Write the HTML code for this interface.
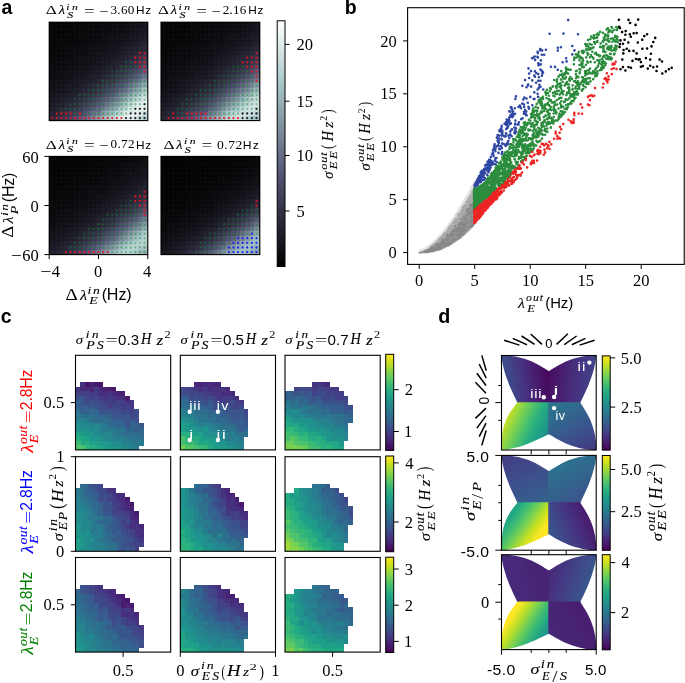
<!DOCTYPE html>
<html><head><meta charset="utf-8"><style>
html,body{margin:0;padding:0;background:#fff;}
svg{display:block;will-change:transform;filter:blur(0.25px);}
</style></head><body>
<svg width="685" height="683" viewBox="0 0 685 683">
<rect width="685" height="683" fill="#fff"/>
<text x="1.50" y="14.20" font-family="Liberation Sans" font-size="19.50" font-weight="bold" fill="#000">a</text>
<text x="344.80" y="14.00" font-family="Liberation Sans" font-size="19.50" font-weight="bold" fill="#000">b</text>
<text x="0.80" y="322.60" font-family="Liberation Sans" font-size="19.50" font-weight="bold" fill="#000">c</text>
<text x="438.30" y="322.80" font-family="Liberation Sans" font-size="19.70" font-weight="bold" fill="#000">d</text>
<path d="M49.2 22.2h5.8v5.8h-5.8zM54.5 22.2h5.1v5.8h-5.1zM59.1 22.2h5.1v5.8h-5.1zM63.7 22.2h5.1v5.8h-5.1zM68.4 22.2h5.1v5.8h-5.1zM49.2 27.5h5.8v5.1h-5.8zM54.5 27.5h5.1v5.1h-5.1zM59.1 27.5h5.1v5.1h-5.1zM63.7 27.5h5.1v5.1h-5.1zM49.2 32.2h5.8v5.1h-5.8zM54.5 32.2h5.1v5.1h-5.1zM59.1 32.2h5.1v5.1h-5.1zM49.2 36.8h5.8v5.1h-5.8z" fill="#050507" shape-rendering="crispEdges"/>
<path d="M73.0 22.2h5.1v5.8h-5.1zM77.6 22.2h5.1v5.8h-5.1zM82.2 22.2h5.1v5.8h-5.1zM86.8 22.2h5.1v5.8h-5.1zM68.4 27.5h5.1v5.1h-5.1zM73.0 27.5h5.1v5.1h-5.1zM77.6 27.5h5.1v5.1h-5.1zM82.2 27.5h5.1v5.1h-5.1zM63.7 32.2h5.1v5.1h-5.1zM68.4 32.2h5.1v5.1h-5.1zM73.0 32.2h5.1v5.1h-5.1zM54.5 36.8h5.1v5.1h-5.1zM59.1 36.8h5.1v5.1h-5.1zM63.7 36.8h5.1v5.1h-5.1zM68.4 36.8h5.1v5.1h-5.1zM49.2 41.5h5.8v5.1h-5.8zM54.5 41.5h5.1v5.1h-5.1zM59.1 41.5h5.1v5.1h-5.1zM63.7 41.5h5.1v5.1h-5.1zM49.2 46.1h5.8v5.1h-5.8zM54.5 46.1h5.1v5.1h-5.1zM49.2 50.7h5.8v5.1h-5.8z" fill="#07070a" shape-rendering="crispEdges"/>
<path d="M91.4 22.2h5.1v5.8h-5.1zM96.0 22.2h5.1v5.8h-5.1zM100.7 22.2h5.1v5.8h-5.1zM86.8 27.5h5.1v5.1h-5.1zM91.4 27.5h5.1v5.1h-5.1zM96.0 27.5h5.1v5.1h-5.1zM77.6 32.2h5.1v5.1h-5.1zM82.2 32.2h5.1v5.1h-5.1zM86.8 32.2h5.1v5.1h-5.1zM73.0 36.8h5.1v5.1h-5.1zM77.6 36.8h5.1v5.1h-5.1zM82.2 36.8h5.1v5.1h-5.1zM68.4 41.5h5.1v5.1h-5.1zM73.0 41.5h5.1v5.1h-5.1zM77.6 41.5h5.1v5.1h-5.1zM59.1 46.1h5.1v5.1h-5.1zM63.7 46.1h5.1v5.1h-5.1zM68.4 46.1h5.1v5.1h-5.1zM54.5 50.7h5.1v5.1h-5.1zM59.1 50.7h5.1v5.1h-5.1zM63.7 50.7h5.1v5.1h-5.1zM49.2 55.4h5.8v5.1h-5.8zM54.5 55.4h5.1v5.1h-5.1zM59.1 55.4h5.1v5.1h-5.1zM49.2 60.0h5.8v5.1h-5.8z" fill="#09090c" shape-rendering="crispEdges"/>
<path d="M105.3 22.2h5.1v5.8h-5.1zM109.9 22.2h5.1v5.8h-5.1zM100.7 27.5h5.1v5.1h-5.1zM105.3 27.5h5.1v5.1h-5.1zM91.4 32.2h5.1v5.1h-5.1zM96.0 32.2h5.1v5.1h-5.1zM86.8 36.8h5.1v5.1h-5.1zM91.4 36.8h5.1v5.1h-5.1zM82.2 41.5h5.1v5.1h-5.1zM86.8 41.5h5.1v5.1h-5.1zM73.0 46.1h5.1v5.1h-5.1zM77.6 46.1h5.1v5.1h-5.1zM68.4 50.7h5.1v5.1h-5.1zM73.0 50.7h5.1v5.1h-5.1zM63.7 55.4h5.1v5.1h-5.1zM68.4 55.4h5.1v5.1h-5.1zM54.5 60.0h5.1v5.1h-5.1zM59.1 60.0h5.1v5.1h-5.1zM49.2 64.7h5.8v5.1h-5.8zM54.5 64.7h5.1v5.1h-5.1zM49.2 69.3h5.8v5.1h-5.8z" fill="#0a0a0f" shape-rendering="crispEdges"/>
<path d="M114.5 22.2h5.1v5.8h-5.1zM119.1 22.2h5.1v5.8h-5.1zM109.9 27.5h5.1v5.1h-5.1zM100.7 32.2h5.1v5.1h-5.1zM105.3 32.2h5.1v5.1h-5.1zM96.0 36.8h5.1v5.1h-5.1zM100.7 36.8h5.1v5.1h-5.1zM91.4 41.5h5.1v5.1h-5.1zM82.2 46.1h5.1v5.1h-5.1zM86.8 46.1h5.1v5.1h-5.1zM77.6 50.7h5.1v5.1h-5.1zM82.2 50.7h5.1v5.1h-5.1zM73.0 55.4h5.1v5.1h-5.1zM63.7 60.0h5.1v5.1h-5.1zM68.4 60.0h5.1v5.1h-5.1zM59.1 64.7h5.1v5.1h-5.1zM63.7 64.7h5.1v5.1h-5.1zM54.5 69.3h5.1v5.1h-5.1zM49.2 74.0h5.8v5.1h-5.8z" fill="#0c0c11" shape-rendering="crispEdges"/>
<path d="M123.7 22.2h5.1v5.8h-5.1zM114.5 27.5h5.1v5.1h-5.1zM119.1 27.5h5.1v5.1h-5.1zM109.9 32.2h5.1v5.1h-5.1zM114.5 32.2h5.1v5.1h-5.1zM105.3 36.8h5.1v5.1h-5.1zM96.0 41.5h5.1v5.1h-5.1zM100.7 41.5h5.1v5.1h-5.1zM91.4 46.1h5.1v5.1h-5.1zM96.0 46.1h5.1v5.1h-5.1zM86.8 50.7h5.1v5.1h-5.1zM77.6 55.4h5.1v5.1h-5.1zM82.2 55.4h5.1v5.1h-5.1zM73.0 60.0h5.1v5.1h-5.1zM77.6 60.0h5.1v5.1h-5.1zM68.4 64.7h5.1v5.1h-5.1zM59.1 69.3h5.1v5.1h-5.1zM63.7 69.3h5.1v5.1h-5.1zM54.5 74.0h5.1v5.1h-5.1zM59.1 74.0h5.1v5.1h-5.1zM49.2 78.6h5.8v5.1h-5.8z" fill="#0e0e13" shape-rendering="crispEdges"/>
<path d="M128.3 22.2h5.1v5.8h-5.1zM123.7 27.5h5.1v5.1h-5.1zM119.1 32.2h5.1v5.1h-5.1zM109.9 36.8h5.1v5.1h-5.1zM105.3 41.5h5.1v5.1h-5.1zM100.7 46.1h5.1v5.1h-5.1zM91.4 50.7h5.1v5.1h-5.1zM86.8 55.4h5.1v5.1h-5.1zM82.2 60.0h5.1v5.1h-5.1zM73.0 64.7h5.1v5.1h-5.1zM68.4 69.3h5.1v5.1h-5.1zM63.7 74.0h5.1v5.1h-5.1zM54.5 78.6h5.1v5.1h-5.1zM49.2 83.3h5.8v5.1h-5.8z" fill="#101016" shape-rendering="crispEdges"/>
<path d="M133.0 22.2h5.1v5.8h-5.1zM137.6 22.2h5.1v5.8h-5.1zM128.3 27.5h5.1v5.1h-5.1zM123.7 32.2h5.1v5.1h-5.1zM114.5 36.8h5.1v5.1h-5.1zM119.1 36.8h5.1v5.1h-5.1zM109.9 41.5h5.1v5.1h-5.1zM105.3 46.1h5.1v5.1h-5.1zM96.0 50.7h5.1v5.1h-5.1zM100.7 50.7h5.1v5.1h-5.1zM91.4 55.4h5.1v5.1h-5.1zM86.8 60.0h5.1v5.1h-5.1zM77.6 64.7h5.1v5.1h-5.1zM82.2 64.7h5.1v5.1h-5.1zM73.0 69.3h5.1v5.1h-5.1zM68.4 74.0h5.1v5.1h-5.1zM59.1 78.6h5.1v5.1h-5.1zM63.7 78.6h5.1v5.1h-5.1zM54.5 83.3h5.1v5.1h-5.1zM49.2 87.9h5.8v5.1h-5.8z" fill="#121118" shape-rendering="crispEdges"/>
<path d="M142.2 22.2h5.6v5.8h-5.6zM137.6 27.5h5.1v5.1h-5.1zM133.0 32.2h5.1v5.1h-5.1zM119.1 41.5h5.1v5.1h-5.1zM114.5 46.1h5.1v5.1h-5.1zM100.7 55.4h5.1v5.1h-5.1zM96.0 60.0h5.1v5.1h-5.1zM82.2 69.3h5.1v5.1h-5.1zM77.6 74.0h5.1v5.1h-5.1zM63.7 83.3h5.1v5.1h-5.1zM59.1 87.9h5.1v5.1h-5.1z" fill="#15151d" shape-rendering="crispEdges"/>
<path d="M133.0 27.5h5.1v5.1h-5.1zM128.3 32.2h5.1v5.1h-5.1zM123.7 36.8h5.1v5.1h-5.1zM114.5 41.5h5.1v5.1h-5.1zM109.9 46.1h5.1v5.1h-5.1zM105.3 50.7h5.1v5.1h-5.1zM96.0 55.4h5.1v5.1h-5.1zM91.4 60.0h5.1v5.1h-5.1zM86.8 64.7h5.1v5.1h-5.1zM77.6 69.3h5.1v5.1h-5.1zM73.0 74.0h5.1v5.1h-5.1zM68.4 78.6h5.1v5.1h-5.1zM59.1 83.3h5.1v5.1h-5.1zM54.5 87.9h5.1v5.1h-5.1zM49.2 92.6h5.8v5.1h-5.8z" fill="#13131b" shape-rendering="crispEdges"/>
<path d="M142.2 27.5h5.6v5.1h-5.6zM128.3 36.8h5.1v5.1h-5.1zM123.7 41.5h5.1v5.1h-5.1zM109.9 50.7h5.1v5.1h-5.1zM105.3 55.4h5.1v5.1h-5.1zM91.4 64.7h5.1v5.1h-5.1zM86.8 69.3h5.1v5.1h-5.1zM73.0 78.6h5.1v5.1h-5.1zM68.4 83.3h5.1v5.1h-5.1zM63.7 87.9h5.1v5.1h-5.1zM54.5 92.6h5.1v5.1h-5.1zM49.2 97.2h5.8v5.1h-5.8z" fill="#171720" shape-rendering="crispEdges"/>
<path d="M137.6 32.2h5.1v5.1h-5.1zM133.0 36.8h5.1v5.1h-5.1zM128.3 41.5h5.1v5.1h-5.1zM119.1 46.1h5.1v5.1h-5.1zM114.5 50.7h5.1v5.1h-5.1zM109.9 55.4h5.1v5.1h-5.1zM100.7 60.0h5.1v5.1h-5.1zM96.0 64.7h5.1v5.1h-5.1zM91.4 69.3h5.1v5.1h-5.1zM82.2 74.0h5.1v5.1h-5.1zM77.6 78.6h5.1v5.1h-5.1zM73.0 83.3h5.1v5.1h-5.1zM59.1 92.6h5.1v5.1h-5.1zM54.5 97.2h5.1v5.1h-5.1z" fill="#181822" shape-rendering="crispEdges"/>
<path d="M142.2 32.2h5.6v5.1h-5.6zM123.7 46.1h5.1v5.1h-5.1zM119.1 50.7h5.1v5.1h-5.1zM105.3 60.0h5.1v5.1h-5.1zM100.7 64.7h5.1v5.1h-5.1zM86.8 74.0h5.1v5.1h-5.1zM82.2 78.6h5.1v5.1h-5.1zM68.4 87.9h5.1v5.1h-5.1zM63.7 92.6h5.1v5.1h-5.1zM49.2 101.8h5.8v5.1h-5.8z" fill="#1a1a25" shape-rendering="crispEdges"/>
<path d="M137.6 36.8h5.1v5.1h-5.1zM133.0 41.5h5.1v5.1h-5.1zM114.5 55.4h5.1v5.1h-5.1zM96.0 69.3h5.1v5.1h-5.1zM77.6 83.3h5.1v5.1h-5.1zM59.1 97.2h5.1v5.1h-5.1z" fill="#1c1c27" shape-rendering="crispEdges"/>
<path d="M142.2 36.8h5.6v5.1h-5.6zM128.3 46.1h5.1v5.1h-5.1zM123.7 50.7h5.1v5.1h-5.1zM109.9 60.0h5.1v5.1h-5.1zM105.3 64.7h5.1v5.1h-5.1zM91.4 74.0h5.1v5.1h-5.1zM86.8 78.6h5.1v5.1h-5.1zM73.0 87.9h5.1v5.1h-5.1zM68.4 92.6h5.1v5.1h-5.1zM54.5 101.8h5.1v5.1h-5.1zM49.2 106.5h5.8v5.1h-5.8z" fill="#1e1e29" shape-rendering="crispEdges"/>
<path d="M137.6 41.5h5.1v5.1h-5.1zM119.1 55.4h5.1v5.1h-5.1zM100.7 69.3h5.1v5.1h-5.1zM96.0 74.0h5.1v5.1h-5.1zM82.2 83.3h5.1v5.1h-5.1zM77.6 87.9h5.1v5.1h-5.1zM63.7 97.2h5.1v5.1h-5.1zM59.1 101.8h5.1v5.1h-5.1z" fill="#201f2c" shape-rendering="crispEdges"/>
<path d="M142.2 41.5h5.6v5.1h-5.6zM123.7 55.4h5.1v5.1h-5.1zM105.3 69.3h5.1v5.1h-5.1zM86.8 83.3h5.1v5.1h-5.1zM68.4 97.2h5.1v5.1h-5.1zM49.2 111.1h5.8v5.1h-5.8z" fill="#232331" shape-rendering="crispEdges"/>
<path d="M133.0 46.1h5.1v5.1h-5.1zM128.3 50.7h5.1v5.1h-5.1zM114.5 60.0h5.1v5.1h-5.1zM109.9 64.7h5.1v5.1h-5.1zM91.4 78.6h5.1v5.1h-5.1zM73.0 92.6h5.1v5.1h-5.1zM54.5 106.5h5.1v5.1h-5.1z" fill="#21212e" shape-rendering="crispEdges"/>
<path d="M137.6 46.1h5.1v5.1h-5.1zM133.0 50.7h5.1v5.1h-5.1zM119.1 60.0h5.1v5.1h-5.1zM114.5 64.7h5.1v5.1h-5.1zM100.7 74.0h5.1v5.1h-5.1zM96.0 78.6h5.1v5.1h-5.1zM82.2 87.9h5.1v5.1h-5.1zM77.6 92.6h5.1v5.1h-5.1zM63.7 101.8h5.1v5.1h-5.1zM59.1 106.5h5.1v5.1h-5.1z" fill="#252533" shape-rendering="crispEdges"/>
<path d="M142.2 46.1h5.6v5.1h-5.6zM123.7 60.0h5.1v5.1h-5.1zM105.3 74.0h5.1v5.1h-5.1zM86.8 87.9h5.1v5.1h-5.1zM68.4 101.8h5.1v5.1h-5.1zM49.2 115.8h5.8v4.8h-5.8z" fill="#282838" shape-rendering="crispEdges"/>
<path d="M137.6 50.7h5.1v5.1h-5.1zM119.1 64.7h5.1v5.1h-5.1zM100.7 78.6h5.1v5.1h-5.1zM82.2 92.6h5.1v5.1h-5.1zM63.7 106.5h5.1v5.1h-5.1z" fill="#2a2a3a" shape-rendering="crispEdges"/>
<path d="M142.2 50.7h5.6v5.1h-5.6zM123.7 64.7h5.1v5.1h-5.1zM105.3 78.6h5.1v5.1h-5.1zM86.8 92.6h5.1v5.1h-5.1zM68.4 106.5h5.1v5.1h-5.1z" fill="#2f2f42" shape-rendering="crispEdges"/>
<path d="M128.3 55.4h5.1v5.1h-5.1zM109.9 69.3h5.1v5.1h-5.1zM91.4 83.3h5.1v5.1h-5.1zM73.0 97.2h5.1v5.1h-5.1zM54.5 111.1h5.1v5.1h-5.1z" fill="#262636" shape-rendering="crispEdges"/>
<path d="M133.0 55.4h5.1v5.1h-5.1zM114.5 69.3h5.1v5.1h-5.1zM96.0 83.3h5.1v5.1h-5.1zM77.6 97.2h5.1v5.1h-5.1zM59.1 111.1h5.1v5.1h-5.1z" fill="#2c2c3d" shape-rendering="crispEdges"/>
<path d="M137.6 55.4h5.1v5.1h-5.1zM119.1 69.3h5.1v5.1h-5.1zM100.7 83.3h5.1v5.1h-5.1zM82.2 97.2h5.1v5.1h-5.1zM63.7 111.1h5.1v5.1h-5.1z" fill="#313144" shape-rendering="crispEdges"/>
<path d="M142.2 55.4h5.6v5.1h-5.6zM123.7 69.3h5.1v5.1h-5.1zM105.3 83.3h5.1v5.1h-5.1zM86.8 97.2h5.1v5.1h-5.1zM68.4 111.1h5.1v5.1h-5.1z" fill="#38384e" shape-rendering="crispEdges"/>
<path d="M128.3 60.0h5.1v5.1h-5.1zM109.9 74.0h5.1v5.1h-5.1zM91.4 87.9h5.1v5.1h-5.1zM73.0 101.8h5.1v5.1h-5.1zM54.5 115.8h5.1v4.8h-5.1z" fill="#2e2d3f" shape-rendering="crispEdges"/>
<path d="M133.0 60.0h5.1v5.1h-5.1zM114.5 74.0h5.1v5.1h-5.1zM96.0 87.9h5.1v5.1h-5.1zM77.6 101.8h5.1v5.1h-5.1zM59.1 115.8h5.1v4.8h-5.1z" fill="#333347" shape-rendering="crispEdges"/>
<path d="M137.6 60.0h5.1v5.1h-5.1zM119.1 74.0h5.1v5.1h-5.1zM100.7 87.9h5.1v5.1h-5.1zM82.2 101.8h5.1v5.1h-5.1zM63.7 115.8h5.1v4.8h-5.1z" fill="#3a3a50" shape-rendering="crispEdges"/>
<path d="M142.2 60.0h5.6v5.1h-5.6zM123.7 74.0h5.1v5.1h-5.1zM105.3 87.9h5.1v5.1h-5.1zM86.8 101.8h5.1v5.1h-5.1zM68.4 115.8h5.1v4.8h-5.1z" fill="#41415a" shape-rendering="crispEdges"/>
<path d="M128.3 64.7h5.1v5.1h-5.1zM109.9 78.6h5.1v5.1h-5.1zM91.4 92.6h5.1v5.1h-5.1zM73.0 106.5h5.1v5.1h-5.1z" fill="#343449" shape-rendering="crispEdges"/>
<path d="M133.0 64.7h5.1v5.1h-5.1zM114.5 78.6h5.1v5.1h-5.1zM96.0 92.6h5.1v5.1h-5.1zM77.6 106.5h5.1v5.1h-5.1z" fill="#3c3b53" shape-rendering="crispEdges"/>
<path d="M137.6 64.7h5.1v5.1h-5.1zM119.1 78.6h5.1v5.1h-5.1zM100.7 92.6h5.1v5.1h-5.1zM82.2 106.5h5.1v5.1h-5.1z" fill="#44445f" shape-rendering="crispEdges"/>
<path d="M142.2 64.7h5.6v5.1h-5.6zM123.7 78.6h5.1v5.1h-5.1zM105.3 92.6h5.1v5.1h-5.1zM86.8 106.5h5.1v5.1h-5.1z" fill="#4d4d6b" shape-rendering="crispEdges"/>
<path d="M128.3 69.3h5.1v5.1h-5.1zM109.9 83.3h5.1v5.1h-5.1zM91.4 97.2h5.1v5.1h-5.1zM73.0 111.1h5.1v5.1h-5.1z" fill="#3f3f58" shape-rendering="crispEdges"/>
<path d="M133.0 69.3h5.1v5.1h-5.1zM114.5 83.3h5.1v5.1h-5.1zM96.0 97.2h5.1v5.1h-5.1z" fill="#484864" shape-rendering="crispEdges"/>
<path d="M137.6 69.3h5.1v5.1h-5.1zM119.1 83.3h5.1v5.1h-5.1zM100.7 97.2h5.1v5.1h-5.1zM82.2 111.1h5.1v5.1h-5.1z" fill="#505070" shape-rendering="crispEdges"/>
<path d="M142.2 69.3h5.6v5.1h-5.6zM123.7 83.3h5.1v5.1h-5.1zM105.3 97.2h5.1v5.1h-5.1zM86.8 111.1h5.1v5.1h-5.1z" fill="#5b5f7b" shape-rendering="crispEdges"/>
<path d="M128.3 74.0h5.1v5.1h-5.1zM109.9 87.9h5.1v5.1h-5.1zM91.4 101.8h5.1v5.1h-5.1zM73.0 115.8h5.1v4.8h-5.1z" fill="#4a4966" shape-rendering="crispEdges"/>
<path d="M133.0 74.0h5.1v5.1h-5.1zM114.5 87.9h5.1v5.1h-5.1zM96.0 101.8h5.1v5.1h-5.1zM77.6 115.8h5.1v4.8h-5.1z" fill="#545574" shape-rendering="crispEdges"/>
<path d="M137.6 74.0h5.1v5.1h-5.1zM119.1 87.9h5.1v5.1h-5.1zM100.7 101.8h5.1v5.1h-5.1zM82.2 115.8h5.1v4.8h-5.1z" fill="#5e637e" shape-rendering="crispEdges"/>
<path d="M142.2 74.0h5.6v5.1h-5.6zM123.7 87.9h5.1v5.1h-5.1zM105.3 101.8h5.1v5.1h-5.1zM86.8 115.8h5.1v4.8h-5.1z" fill="#6b748b" shape-rendering="crispEdges"/>
<path d="M128.3 78.6h5.1v5.1h-5.1zM109.9 92.6h5.1v5.1h-5.1zM91.4 106.5h5.1v5.1h-5.1z" fill="#575a77" shape-rendering="crispEdges"/>
<path d="M133.0 78.6h5.1v5.1h-5.1zM114.5 92.6h5.1v5.1h-5.1z" fill="#646b84" shape-rendering="crispEdges"/>
<path d="M137.6 78.6h5.1v5.1h-5.1zM119.1 92.6h5.1v5.1h-5.1zM100.7 106.5h5.1v5.1h-5.1z" fill="#707b90" shape-rendering="crispEdges"/>
<path d="M142.2 78.6h5.6v5.1h-5.6zM123.7 92.6h5.1v5.1h-5.1zM105.3 106.5h5.1v5.1h-5.1z" fill="#7e8f9e" shape-rendering="crispEdges"/>
<path d="M128.3 83.3h5.1v5.1h-5.1zM109.9 97.2h5.1v5.1h-5.1zM91.4 111.1h5.1v5.1h-5.1z" fill="#676f87" shape-rendering="crispEdges"/>
<path d="M133.0 83.3h5.1v5.1h-5.1z" fill="#758395" shape-rendering="crispEdges"/>
<path d="M137.6 83.3h5.1v5.1h-5.1zM119.1 97.2h5.1v5.1h-5.1zM100.7 111.1h5.1v5.1h-5.1z" fill="#8396a3" shape-rendering="crispEdges"/>
<path d="M142.2 83.3h5.6v5.1h-5.6zM123.7 97.2h5.1v5.1h-5.1zM105.3 111.1h5.1v5.1h-5.1z" fill="#91a9b1" shape-rendering="crispEdges"/>
<path d="M128.3 87.9h5.1v5.1h-5.1zM109.9 101.8h5.1v5.1h-5.1zM91.4 115.8h5.1v4.8h-5.1z" fill="#798799" shape-rendering="crispEdges"/>
<path d="M133.0 87.9h5.1v5.1h-5.1z" fill="#889da8" shape-rendering="crispEdges"/>
<path d="M137.6 87.9h5.1v5.1h-5.1zM119.1 101.8h5.1v5.1h-5.1zM100.7 115.8h5.1v4.8h-5.1z" fill="#96b0b6" shape-rendering="crispEdges"/>
<path d="M142.2 87.9h5.6v5.1h-5.6zM123.7 101.8h5.1v5.1h-5.1zM105.3 115.8h5.1v4.8h-5.1z" fill="#a6c6c6" shape-rendering="crispEdges"/>
<path d="M128.3 92.6h5.1v5.1h-5.1zM109.9 106.5h5.1v5.1h-5.1z" fill="#8ca2ac" shape-rendering="crispEdges"/>
<path d="M133.0 92.6h5.1v5.1h-5.1zM114.5 106.5h5.1v5.1h-5.1z" fill="#9cb8bc" shape-rendering="crispEdges"/>
<path d="M137.6 92.6h5.1v5.1h-5.1zM119.1 106.5h5.1v5.1h-5.1z" fill="#aecbcb" shape-rendering="crispEdges"/>
<path d="M142.2 92.6h5.6v5.1h-5.6zM123.7 106.5h5.1v5.1h-5.1zM142.2 111.1h5.6v5.1h-5.6z" fill="#c4d9d9" shape-rendering="crispEdges"/>
<path d="M114.5 97.2h5.1v5.1h-5.1zM96.0 111.1h5.1v5.1h-5.1z" fill="#738093" shape-rendering="crispEdges"/>
<path d="M128.3 97.2h5.1v5.1h-5.1zM109.9 111.1h5.1v5.1h-5.1z" fill="#a1bfc1" shape-rendering="crispEdges"/>
<path d="M133.0 97.2h5.1v5.1h-5.1z" fill="#b7d1d1" shape-rendering="crispEdges"/>
<path d="M137.6 97.2h5.1v5.1h-5.1zM119.1 111.1h5.1v5.1h-5.1z" fill="#cadddd" shape-rendering="crispEdges"/>
<path d="M142.2 97.2h5.6v5.1h-5.6zM123.7 111.1h5.1v5.1h-5.1z" fill="#dde9e9" shape-rendering="crispEdges"/>
<path d="M114.5 101.8h5.1v5.1h-5.1zM96.0 115.8h5.1v4.8h-5.1z" fill="#879ba7" shape-rendering="crispEdges"/>
<path d="M128.3 101.8h5.1v5.1h-5.1zM109.9 115.8h5.1v4.8h-5.1z" fill="#bcd4d4" shape-rendering="crispEdges"/>
<path d="M133.0 101.8h5.1v5.1h-5.1zM114.5 115.8h5.1v4.8h-5.1z" fill="#d2e2e2" shape-rendering="crispEdges"/>
<path d="M137.6 101.8h5.1v5.1h-5.1zM142.2 106.5h5.6v5.1h-5.6zM119.1 115.8h5.1v4.8h-5.1z" fill="#e0ebeb" shape-rendering="crispEdges"/>
<path d="M142.2 101.8h5.6v5.1h-5.6zM137.6 106.5h5.1v5.1h-5.1zM128.3 111.1h5.1v5.1h-5.1zM133.0 111.1h5.1v5.1h-5.1zM123.7 115.8h5.1v4.8h-5.1z" fill="#e8f0f0" shape-rendering="crispEdges"/>
<path d="M96.0 106.5h5.1v5.1h-5.1z" fill="#626882" shape-rendering="crispEdges"/>
<path d="M128.3 106.5h5.1v5.1h-5.1z" fill="#d7e6e6" shape-rendering="crispEdges"/>
<path d="M133.0 106.5h5.1v5.1h-5.1zM128.3 115.8h5.1v4.8h-5.1z" fill="#e5eeee" shape-rendering="crispEdges"/>
<path d="M77.6 111.1h5.1v5.1h-5.1z" fill="#464661" shape-rendering="crispEdges"/>
<path d="M114.5 111.1h5.1v5.1h-5.1zM142.2 115.8h5.6v4.8h-5.6z" fill="#b4cfcf" shape-rendering="crispEdges"/>
<path d="M137.6 111.1h5.1v5.1h-5.1z" fill="#dae7e7" shape-rendering="crispEdges"/>
<path d="M133.0 115.8h5.1v4.8h-5.1z" fill="#d5e4e4" shape-rendering="crispEdges"/>
<path d="M137.6 115.8h5.1v4.8h-5.1z" fill="#bfd6d6" shape-rendering="crispEdges"/>
<path d="M161.0 22.2h5.8v5.8h-5.8z" fill="#040305" shape-rendering="crispEdges"/>
<path d="M166.3 22.2h5.1v5.8h-5.1zM170.9 22.2h5.1v5.8h-5.1zM175.6 22.2h5.1v5.8h-5.1zM180.2 22.2h5.1v5.8h-5.1zM184.8 22.2h5.1v5.8h-5.1zM161.0 27.5h5.8v5.1h-5.8zM166.3 27.5h5.1v5.1h-5.1zM170.9 27.5h5.1v5.1h-5.1zM175.6 27.5h5.1v5.1h-5.1zM180.2 27.5h5.1v5.1h-5.1zM161.0 32.2h5.8v5.1h-5.8zM166.3 32.2h5.1v5.1h-5.1zM170.9 32.2h5.1v5.1h-5.1zM175.6 32.2h5.1v5.1h-5.1zM161.0 36.8h5.8v5.1h-5.8zM166.3 36.8h5.1v5.1h-5.1zM161.0 41.5h5.8v5.1h-5.8z" fill="#050507" shape-rendering="crispEdges"/>
<path d="M189.4 22.2h5.1v5.8h-5.1zM194.1 22.2h5.1v5.8h-5.1zM198.7 22.2h5.1v5.8h-5.1zM203.3 22.2h5.1v5.8h-5.1zM184.8 27.5h5.1v5.1h-5.1zM189.4 27.5h5.1v5.1h-5.1zM194.1 27.5h5.1v5.1h-5.1zM198.7 27.5h5.1v5.1h-5.1zM180.2 32.2h5.1v5.1h-5.1zM184.8 32.2h5.1v5.1h-5.1zM189.4 32.2h5.1v5.1h-5.1zM170.9 36.8h5.1v5.1h-5.1zM175.6 36.8h5.1v5.1h-5.1zM180.2 36.8h5.1v5.1h-5.1zM184.8 36.8h5.1v5.1h-5.1zM166.3 41.5h5.1v5.1h-5.1zM170.9 41.5h5.1v5.1h-5.1zM175.6 41.5h5.1v5.1h-5.1zM180.2 41.5h5.1v5.1h-5.1zM161.0 46.1h5.8v5.1h-5.8zM166.3 46.1h5.1v5.1h-5.1zM170.9 46.1h5.1v5.1h-5.1zM161.0 50.7h5.8v5.1h-5.8zM166.3 50.7h5.1v5.1h-5.1zM161.0 55.4h5.8v5.1h-5.8z" fill="#07070a" shape-rendering="crispEdges"/>
<path d="M207.9 22.2h5.1v5.8h-5.1zM212.6 22.2h5.1v5.8h-5.1zM217.2 22.2h5.1v5.8h-5.1zM203.3 27.5h5.1v5.1h-5.1zM207.9 27.5h5.1v5.1h-5.1zM194.1 32.2h5.1v5.1h-5.1zM198.7 32.2h5.1v5.1h-5.1zM203.3 32.2h5.1v5.1h-5.1zM189.4 36.8h5.1v5.1h-5.1zM194.1 36.8h5.1v5.1h-5.1zM198.7 36.8h5.1v5.1h-5.1zM184.8 41.5h5.1v5.1h-5.1zM189.4 41.5h5.1v5.1h-5.1zM175.6 46.1h5.1v5.1h-5.1zM180.2 46.1h5.1v5.1h-5.1zM184.8 46.1h5.1v5.1h-5.1zM170.9 50.7h5.1v5.1h-5.1zM175.6 50.7h5.1v5.1h-5.1zM180.2 50.7h5.1v5.1h-5.1zM166.3 55.4h5.1v5.1h-5.1zM170.9 55.4h5.1v5.1h-5.1zM161.0 60.0h5.8v5.1h-5.8zM166.3 60.0h5.1v5.1h-5.1zM161.0 64.7h5.8v5.1h-5.8z" fill="#09090c" shape-rendering="crispEdges"/>
<path d="M221.8 22.2h5.1v5.8h-5.1zM226.4 22.2h5.1v5.8h-5.1zM212.6 27.5h5.1v5.1h-5.1zM217.2 27.5h5.1v5.1h-5.1zM221.8 27.5h5.1v5.1h-5.1zM207.9 32.2h5.1v5.1h-5.1zM212.6 32.2h5.1v5.1h-5.1zM203.3 36.8h5.1v5.1h-5.1zM207.9 36.8h5.1v5.1h-5.1zM194.1 41.5h5.1v5.1h-5.1zM198.7 41.5h5.1v5.1h-5.1zM203.3 41.5h5.1v5.1h-5.1zM189.4 46.1h5.1v5.1h-5.1zM194.1 46.1h5.1v5.1h-5.1zM184.8 50.7h5.1v5.1h-5.1zM189.4 50.7h5.1v5.1h-5.1zM175.6 55.4h5.1v5.1h-5.1zM180.2 55.4h5.1v5.1h-5.1zM184.8 55.4h5.1v5.1h-5.1zM170.9 60.0h5.1v5.1h-5.1zM175.6 60.0h5.1v5.1h-5.1zM166.3 64.7h5.1v5.1h-5.1zM170.9 64.7h5.1v5.1h-5.1zM161.0 69.3h5.8v5.1h-5.8zM166.3 69.3h5.1v5.1h-5.1z" fill="#0a0a0f" shape-rendering="crispEdges"/>
<path d="M231.1 22.2h5.1v5.8h-5.1zM235.7 22.2h5.1v5.8h-5.1zM226.4 27.5h5.1v5.1h-5.1zM217.2 32.2h5.1v5.1h-5.1zM221.8 32.2h5.1v5.1h-5.1zM212.6 36.8h5.1v5.1h-5.1zM217.2 36.8h5.1v5.1h-5.1zM207.9 41.5h5.1v5.1h-5.1zM198.7 46.1h5.1v5.1h-5.1zM203.3 46.1h5.1v5.1h-5.1zM194.1 50.7h5.1v5.1h-5.1zM198.7 50.7h5.1v5.1h-5.1zM189.4 55.4h5.1v5.1h-5.1zM180.2 60.0h5.1v5.1h-5.1zM184.8 60.0h5.1v5.1h-5.1zM175.6 64.7h5.1v5.1h-5.1zM180.2 64.7h5.1v5.1h-5.1zM170.9 69.3h5.1v5.1h-5.1zM161.0 74.0h5.8v5.1h-5.8zM166.3 74.0h5.1v5.1h-5.1zM161.0 78.6h5.8v5.1h-5.8z" fill="#0c0c11" shape-rendering="crispEdges"/>
<path d="M240.3 22.2h5.1v5.8h-5.1zM231.1 27.5h5.1v5.1h-5.1zM235.7 27.5h5.1v5.1h-5.1zM226.4 32.2h5.1v5.1h-5.1zM221.8 36.8h5.1v5.1h-5.1zM212.6 41.5h5.1v5.1h-5.1zM217.2 41.5h5.1v5.1h-5.1zM207.9 46.1h5.1v5.1h-5.1zM203.3 50.7h5.1v5.1h-5.1zM194.1 55.4h5.1v5.1h-5.1zM198.7 55.4h5.1v5.1h-5.1zM189.4 60.0h5.1v5.1h-5.1zM184.8 64.7h5.1v5.1h-5.1zM175.6 69.3h5.1v5.1h-5.1zM180.2 69.3h5.1v5.1h-5.1zM170.9 74.0h5.1v5.1h-5.1zM166.3 78.6h5.1v5.1h-5.1zM161.0 83.3h5.8v5.1h-5.8z" fill="#0e0e13" shape-rendering="crispEdges"/>
<path d="M244.9 22.2h5.1v5.8h-5.1zM240.3 27.5h5.1v5.1h-5.1zM231.1 32.2h5.1v5.1h-5.1zM235.7 32.2h5.1v5.1h-5.1zM226.4 36.8h5.1v5.1h-5.1zM221.8 41.5h5.1v5.1h-5.1zM212.6 46.1h5.1v5.1h-5.1zM217.2 46.1h5.1v5.1h-5.1zM207.9 50.7h5.1v5.1h-5.1zM203.3 55.4h5.1v5.1h-5.1zM194.1 60.0h5.1v5.1h-5.1zM198.7 60.0h5.1v5.1h-5.1zM189.4 64.7h5.1v5.1h-5.1zM184.8 69.3h5.1v5.1h-5.1zM175.6 74.0h5.1v5.1h-5.1zM180.2 74.0h5.1v5.1h-5.1zM170.9 78.6h5.1v5.1h-5.1zM166.3 83.3h5.1v5.1h-5.1zM161.0 87.9h5.8v5.1h-5.8z" fill="#101016" shape-rendering="crispEdges"/>
<path d="M249.6 22.2h5.1v5.8h-5.1zM244.9 27.5h5.1v5.1h-5.1zM240.3 32.2h5.1v5.1h-5.1zM231.1 36.8h5.1v5.1h-5.1zM226.4 41.5h5.1v5.1h-5.1zM221.8 46.1h5.1v5.1h-5.1zM212.6 50.7h5.1v5.1h-5.1zM207.9 55.4h5.1v5.1h-5.1zM203.3 60.0h5.1v5.1h-5.1zM194.1 64.7h5.1v5.1h-5.1zM189.4 69.3h5.1v5.1h-5.1zM184.8 74.0h5.1v5.1h-5.1zM175.6 78.6h5.1v5.1h-5.1zM170.9 83.3h5.1v5.1h-5.1zM166.3 87.9h5.1v5.1h-5.1z" fill="#121118" shape-rendering="crispEdges"/>
<path d="M254.2 22.2h5.6v5.8h-5.6zM249.6 27.5h5.1v5.1h-5.1zM244.9 32.2h5.1v5.1h-5.1zM235.7 36.8h5.1v5.1h-5.1zM231.1 41.5h5.1v5.1h-5.1zM226.4 46.1h5.1v5.1h-5.1zM217.2 50.7h5.1v5.1h-5.1zM212.6 55.4h5.1v5.1h-5.1zM207.9 60.0h5.1v5.1h-5.1zM198.7 64.7h5.1v5.1h-5.1zM194.1 69.3h5.1v5.1h-5.1zM189.4 74.0h5.1v5.1h-5.1zM180.2 78.6h5.1v5.1h-5.1zM175.6 83.3h5.1v5.1h-5.1zM170.9 87.9h5.1v5.1h-5.1zM161.0 92.6h5.8v5.1h-5.8z" fill="#13131b" shape-rendering="crispEdges"/>
<path d="M254.2 27.5h5.6v5.1h-5.6zM240.3 36.8h5.1v5.1h-5.1zM235.7 41.5h5.1v5.1h-5.1zM221.8 50.7h5.1v5.1h-5.1zM217.2 55.4h5.1v5.1h-5.1zM203.3 64.7h5.1v5.1h-5.1zM198.7 69.3h5.1v5.1h-5.1zM184.8 78.6h5.1v5.1h-5.1zM180.2 83.3h5.1v5.1h-5.1zM166.3 92.6h5.1v5.1h-5.1zM161.0 97.2h5.8v5.1h-5.8z" fill="#15151d" shape-rendering="crispEdges"/>
<path d="M249.6 32.2h5.1v5.1h-5.1zM244.9 36.8h5.1v5.1h-5.1zM231.1 46.1h5.1v5.1h-5.1zM226.4 50.7h5.1v5.1h-5.1zM221.8 55.4h5.1v5.1h-5.1zM212.6 60.0h5.1v5.1h-5.1zM207.9 64.7h5.1v5.1h-5.1zM203.3 69.3h5.1v5.1h-5.1zM194.1 74.0h5.1v5.1h-5.1zM189.4 78.6h5.1v5.1h-5.1zM184.8 83.3h5.1v5.1h-5.1zM175.6 87.9h5.1v5.1h-5.1zM170.9 92.6h5.1v5.1h-5.1zM166.3 97.2h5.1v5.1h-5.1z" fill="#171720" shape-rendering="crispEdges"/>
<path d="M254.2 32.2h5.6v5.1h-5.6zM249.6 36.8h5.1v5.1h-5.1zM240.3 41.5h5.1v5.1h-5.1zM235.7 46.1h5.1v5.1h-5.1zM231.1 50.7h5.1v5.1h-5.1zM217.2 60.0h5.1v5.1h-5.1zM212.6 64.7h5.1v5.1h-5.1zM198.7 74.0h5.1v5.1h-5.1zM194.1 78.6h5.1v5.1h-5.1zM180.2 87.9h5.1v5.1h-5.1zM175.6 92.6h5.1v5.1h-5.1zM161.0 101.8h5.8v5.1h-5.8z" fill="#181822" shape-rendering="crispEdges"/>
<path d="M254.2 36.8h5.6v5.1h-5.6zM240.3 46.1h5.1v5.1h-5.1zM235.7 50.7h5.1v5.1h-5.1zM221.8 60.0h5.1v5.1h-5.1zM217.2 64.7h5.1v5.1h-5.1zM198.7 78.6h5.1v5.1h-5.1zM180.2 92.6h5.1v5.1h-5.1zM161.0 106.5h5.8v5.1h-5.8z" fill="#1c1c27" shape-rendering="crispEdges"/>
<path d="M244.9 41.5h5.1v5.1h-5.1zM226.4 55.4h5.1v5.1h-5.1zM207.9 69.3h5.1v5.1h-5.1zM203.3 74.0h5.1v5.1h-5.1zM189.4 83.3h5.1v5.1h-5.1zM184.8 87.9h5.1v5.1h-5.1zM170.9 97.2h5.1v5.1h-5.1zM166.3 101.8h5.1v5.1h-5.1z" fill="#1a1a25" shape-rendering="crispEdges"/>
<path d="M249.6 41.5h5.1v5.1h-5.1zM244.9 46.1h5.1v5.1h-5.1zM231.1 55.4h5.1v5.1h-5.1zM226.4 60.0h5.1v5.1h-5.1zM212.6 69.3h5.1v5.1h-5.1zM207.9 74.0h5.1v5.1h-5.1zM194.1 83.3h5.1v5.1h-5.1zM189.4 87.9h5.1v5.1h-5.1zM175.6 97.2h5.1v5.1h-5.1zM170.9 101.8h5.1v5.1h-5.1z" fill="#1e1e29" shape-rendering="crispEdges"/>
<path d="M254.2 41.5h5.6v5.1h-5.6zM249.6 46.1h5.1v5.1h-5.1zM235.7 55.4h5.1v5.1h-5.1zM231.1 60.0h5.1v5.1h-5.1zM217.2 69.3h5.1v5.1h-5.1zM212.6 74.0h5.1v5.1h-5.1zM198.7 83.3h5.1v5.1h-5.1zM194.1 87.9h5.1v5.1h-5.1zM180.2 97.2h5.1v5.1h-5.1zM175.6 101.8h5.1v5.1h-5.1zM161.0 111.1h5.8v5.1h-5.8z" fill="#21212e" shape-rendering="crispEdges"/>
<path d="M254.2 46.1h5.6v5.1h-5.6zM249.6 50.7h5.1v5.1h-5.1zM235.7 60.0h5.1v5.1h-5.1zM231.1 64.7h5.1v5.1h-5.1zM217.2 74.0h5.1v5.1h-5.1zM212.6 78.6h5.1v5.1h-5.1zM198.7 87.9h5.1v5.1h-5.1zM194.1 92.6h5.1v5.1h-5.1zM180.2 101.8h5.1v5.1h-5.1zM175.6 106.5h5.1v5.1h-5.1z" fill="#262636" shape-rendering="crispEdges"/>
<path d="M240.3 50.7h5.1v5.1h-5.1zM221.8 64.7h5.1v5.1h-5.1zM203.3 78.6h5.1v5.1h-5.1zM184.8 92.6h5.1v5.1h-5.1zM166.3 106.5h5.1v5.1h-5.1z" fill="#201f2c" shape-rendering="crispEdges"/>
<path d="M244.9 50.7h5.1v5.1h-5.1zM226.4 64.7h5.1v5.1h-5.1zM207.9 78.6h5.1v5.1h-5.1zM189.4 92.6h5.1v5.1h-5.1zM170.9 106.5h5.1v5.1h-5.1z" fill="#232331" shape-rendering="crispEdges"/>
<path d="M254.2 50.7h5.6v5.1h-5.6zM235.7 64.7h5.1v5.1h-5.1zM217.2 78.6h5.1v5.1h-5.1zM198.7 92.6h5.1v5.1h-5.1zM180.2 106.5h5.1v5.1h-5.1z" fill="#2c2c3d" shape-rendering="crispEdges"/>
<path d="M240.3 55.4h5.1v5.1h-5.1zM221.8 69.3h5.1v5.1h-5.1zM203.3 83.3h5.1v5.1h-5.1zM184.8 97.2h5.1v5.1h-5.1zM166.3 111.1h5.1v5.1h-5.1zM161.0 115.8h5.8v4.8h-5.8z" fill="#252533" shape-rendering="crispEdges"/>
<path d="M244.9 55.4h5.1v5.1h-5.1zM226.4 69.3h5.1v5.1h-5.1zM207.9 83.3h5.1v5.1h-5.1zM189.4 97.2h5.1v5.1h-5.1zM170.9 111.1h5.1v5.1h-5.1z" fill="#282838" shape-rendering="crispEdges"/>
<path d="M249.6 55.4h5.1v5.1h-5.1zM231.1 69.3h5.1v5.1h-5.1zM212.6 83.3h5.1v5.1h-5.1zM194.1 97.2h5.1v5.1h-5.1zM175.6 111.1h5.1v5.1h-5.1z" fill="#2e2d3f" shape-rendering="crispEdges"/>
<path d="M254.2 55.4h5.6v5.1h-5.6zM235.7 69.3h5.1v5.1h-5.1zM217.2 83.3h5.1v5.1h-5.1zM198.7 97.2h5.1v5.1h-5.1z" fill="#343449" shape-rendering="crispEdges"/>
<path d="M240.3 60.0h5.1v5.1h-5.1zM221.8 74.0h5.1v5.1h-5.1zM203.3 87.9h5.1v5.1h-5.1zM184.8 101.8h5.1v5.1h-5.1zM166.3 115.8h5.1v4.8h-5.1z" fill="#2a2a3a" shape-rendering="crispEdges"/>
<path d="M244.9 60.0h5.1v5.1h-5.1zM226.4 74.0h5.1v5.1h-5.1zM207.9 87.9h5.1v5.1h-5.1zM189.4 101.8h5.1v5.1h-5.1zM170.9 115.8h5.1v4.8h-5.1z" fill="#2f2f42" shape-rendering="crispEdges"/>
<path d="M249.6 60.0h5.1v5.1h-5.1zM231.1 74.0h5.1v5.1h-5.1zM212.6 87.9h5.1v5.1h-5.1zM194.1 101.8h5.1v5.1h-5.1zM175.6 115.8h5.1v4.8h-5.1z" fill="#36364b" shape-rendering="crispEdges"/>
<path d="M254.2 60.0h5.6v5.1h-5.6zM235.7 74.0h5.1v5.1h-5.1zM217.2 87.9h5.1v5.1h-5.1zM198.7 101.8h5.1v5.1h-5.1zM180.2 115.8h5.1v4.8h-5.1z" fill="#3d3d55" shape-rendering="crispEdges"/>
<path d="M240.3 64.7h5.1v5.1h-5.1zM221.8 78.6h5.1v5.1h-5.1zM203.3 92.6h5.1v5.1h-5.1zM184.8 106.5h5.1v5.1h-5.1z" fill="#313144" shape-rendering="crispEdges"/>
<path d="M244.9 64.7h5.1v5.1h-5.1zM226.4 78.6h5.1v5.1h-5.1zM207.9 92.6h5.1v5.1h-5.1zM189.4 106.5h5.1v5.1h-5.1z" fill="#38384e" shape-rendering="crispEdges"/>
<path d="M249.6 64.7h5.1v5.1h-5.1zM231.1 78.6h5.1v5.1h-5.1zM212.6 92.6h5.1v5.1h-5.1zM194.1 106.5h5.1v5.1h-5.1z" fill="#3f3f58" shape-rendering="crispEdges"/>
<path d="M254.2 64.7h5.6v5.1h-5.6zM235.7 78.6h5.1v5.1h-5.1zM217.2 92.6h5.1v5.1h-5.1zM198.7 106.5h5.1v5.1h-5.1z" fill="#484864" shape-rendering="crispEdges"/>
<path d="M240.3 69.3h5.1v5.1h-5.1zM221.8 83.3h5.1v5.1h-5.1zM203.3 97.2h5.1v5.1h-5.1zM184.8 111.1h5.1v5.1h-5.1z" fill="#3a3a50" shape-rendering="crispEdges"/>
<path d="M244.9 69.3h5.1v5.1h-5.1zM226.4 83.3h5.1v5.1h-5.1zM207.9 97.2h5.1v5.1h-5.1zM189.4 111.1h5.1v5.1h-5.1z" fill="#42425d" shape-rendering="crispEdges"/>
<path d="M249.6 69.3h5.1v5.1h-5.1zM231.1 83.3h5.1v5.1h-5.1zM212.6 97.2h5.1v5.1h-5.1zM194.1 111.1h5.1v5.1h-5.1z" fill="#4b4b69" shape-rendering="crispEdges"/>
<path d="M254.2 69.3h5.6v5.1h-5.6zM235.7 83.3h5.1v5.1h-5.1zM217.2 97.2h5.1v5.1h-5.1z" fill="#565776" shape-rendering="crispEdges"/>
<path d="M240.3 74.0h5.1v5.1h-5.1zM221.8 87.9h5.1v5.1h-5.1zM203.3 101.8h5.1v5.1h-5.1zM184.8 115.8h5.1v4.8h-5.1z" fill="#44445f" shape-rendering="crispEdges"/>
<path d="M244.9 74.0h5.1v5.1h-5.1zM226.4 87.9h5.1v5.1h-5.1zM207.9 101.8h5.1v5.1h-5.1zM189.4 115.8h5.1v4.8h-5.1z" fill="#4f4f6e" shape-rendering="crispEdges"/>
<path d="M249.6 74.0h5.1v5.1h-5.1zM231.1 87.9h5.1v5.1h-5.1zM212.6 101.8h5.1v5.1h-5.1z" fill="#595c79" shape-rendering="crispEdges"/>
<path d="M254.2 74.0h5.6v5.1h-5.6zM235.7 87.9h5.1v5.1h-5.1zM217.2 101.8h5.1v5.1h-5.1zM198.7 115.8h5.1v4.8h-5.1z" fill="#646b84" shape-rendering="crispEdges"/>
<path d="M240.3 78.6h5.1v5.1h-5.1zM221.8 92.6h5.1v5.1h-5.1z" fill="#525372" shape-rendering="crispEdges"/>
<path d="M244.9 78.6h5.1v5.1h-5.1zM226.4 92.6h5.1v5.1h-5.1zM207.9 106.5h5.1v5.1h-5.1z" fill="#5d617d" shape-rendering="crispEdges"/>
<path d="M249.6 78.6h5.1v5.1h-5.1zM231.1 92.6h5.1v5.1h-5.1z" fill="#697289" shape-rendering="crispEdges"/>
<path d="M254.2 78.6h5.6v5.1h-5.6zM235.7 92.6h5.1v5.1h-5.1zM217.2 106.5h5.1v5.1h-5.1z" fill="#758395" shape-rendering="crispEdges"/>
<path d="M240.3 83.3h5.1v5.1h-5.1zM221.8 97.2h5.1v5.1h-5.1zM203.3 111.1h5.1v5.1h-5.1z" fill="#606680" shape-rendering="crispEdges"/>
<path d="M244.9 83.3h5.1v5.1h-5.1zM226.4 97.2h5.1v5.1h-5.1zM207.9 111.1h5.1v5.1h-5.1z" fill="#6c778c" shape-rendering="crispEdges"/>
<path d="M249.6 83.3h5.1v5.1h-5.1zM231.1 97.2h5.1v5.1h-5.1z" fill="#7a8a9a" shape-rendering="crispEdges"/>
<path d="M254.2 83.3h5.6v5.1h-5.6zM235.7 97.2h5.1v5.1h-5.1z" fill="#889da8" shape-rendering="crispEdges"/>
<path d="M240.3 87.9h5.1v5.1h-5.1zM221.8 101.8h5.1v5.1h-5.1zM203.3 115.8h5.1v4.8h-5.1z" fill="#707b90" shape-rendering="crispEdges"/>
<path d="M244.9 87.9h5.1v5.1h-5.1zM226.4 101.8h5.1v5.1h-5.1zM207.9 115.8h5.1v4.8h-5.1z" fill="#7e8f9e" shape-rendering="crispEdges"/>
<path d="M249.6 87.9h5.1v5.1h-5.1zM231.1 101.8h5.1v5.1h-5.1zM212.6 115.8h5.1v4.8h-5.1z" fill="#8ca2ac" shape-rendering="crispEdges"/>
<path d="M254.2 87.9h5.6v5.1h-5.6zM235.7 101.8h5.1v5.1h-5.1zM217.2 115.8h5.1v4.8h-5.1z" fill="#9ab5ba" shape-rendering="crispEdges"/>
<path d="M240.3 92.6h5.1v5.1h-5.1zM221.8 106.5h5.1v5.1h-5.1z" fill="#8396a3" shape-rendering="crispEdges"/>
<path d="M244.9 92.6h5.1v5.1h-5.1zM226.4 106.5h5.1v5.1h-5.1z" fill="#91a9b1" shape-rendering="crispEdges"/>
<path d="M249.6 92.6h5.1v5.1h-5.1zM231.1 106.5h5.1v5.1h-5.1z" fill="#9fbcbf" shape-rendering="crispEdges"/>
<path d="M254.2 92.6h5.6v5.1h-5.6zM254.2 111.1h5.6v5.1h-5.6z" fill="#b1cdcd" shape-rendering="crispEdges"/>
<path d="M240.3 97.2h5.1v5.1h-5.1zM221.8 111.1h5.1v5.1h-5.1z" fill="#96b0b6" shape-rendering="crispEdges"/>
<path d="M244.9 97.2h5.1v5.1h-5.1zM226.4 111.1h5.1v5.1h-5.1z" fill="#a4c4c4" shape-rendering="crispEdges"/>
<path d="M249.6 97.2h5.1v5.1h-5.1zM231.1 111.1h5.1v5.1h-5.1z" fill="#b7d1d1" shape-rendering="crispEdges"/>
<path d="M254.2 97.2h5.6v5.1h-5.6zM235.7 111.1h5.1v5.1h-5.1z" fill="#c7dbdb" shape-rendering="crispEdges"/>
<path d="M240.3 101.8h5.1v5.1h-5.1zM221.8 115.8h5.1v4.8h-5.1zM249.6 115.8h5.1v4.8h-5.1z" fill="#a9c8c8" shape-rendering="crispEdges"/>
<path d="M244.9 101.8h5.1v5.1h-5.1zM226.4 115.8h5.1v4.8h-5.1z" fill="#bcd4d4" shape-rendering="crispEdges"/>
<path d="M249.6 101.8h5.1v5.1h-5.1zM254.2 106.5h5.6v5.1h-5.6zM231.1 115.8h5.1v4.8h-5.1z" fill="#cadddd" shape-rendering="crispEdges"/>
<path d="M254.2 101.8h5.6v5.1h-5.6zM249.6 106.5h5.1v5.1h-5.1zM244.9 111.1h5.1v5.1h-5.1zM235.7 115.8h5.1v4.8h-5.1z" fill="#d2e2e2" shape-rendering="crispEdges"/>
<path d="M203.3 106.5h5.1v5.1h-5.1z" fill="#505070" shape-rendering="crispEdges"/>
<path d="M212.6 106.5h5.1v5.1h-5.1z" fill="#676f87" shape-rendering="crispEdges"/>
<path d="M235.7 106.5h5.1v5.1h-5.1z" fill="#aecbcb" shape-rendering="crispEdges"/>
<path d="M240.3 106.5h5.1v5.1h-5.1z" fill="#c1d8d8" shape-rendering="crispEdges"/>
<path d="M244.9 106.5h5.1v5.1h-5.1zM240.3 111.1h5.1v5.1h-5.1zM240.3 115.8h5.1v4.8h-5.1z" fill="#cfe0e0" shape-rendering="crispEdges"/>
<path d="M180.2 111.1h5.1v5.1h-5.1z" fill="#333347" shape-rendering="crispEdges"/>
<path d="M198.7 111.1h5.1v5.1h-5.1z" fill="#545574" shape-rendering="crispEdges"/>
<path d="M212.6 111.1h5.1v5.1h-5.1z" fill="#798799" shape-rendering="crispEdges"/>
<path d="M217.2 111.1h5.1v5.1h-5.1z" fill="#879ba7" shape-rendering="crispEdges"/>
<path d="M249.6 111.1h5.1v5.1h-5.1z" fill="#c4d9d9" shape-rendering="crispEdges"/>
<path d="M194.1 115.8h5.1v4.8h-5.1z" fill="#575a77" shape-rendering="crispEdges"/>
<path d="M244.9 115.8h5.1v4.8h-5.1z" fill="#bfd6d6" shape-rendering="crispEdges"/>
<path d="M254.2 115.8h5.6v4.8h-5.6z" fill="#a3c1c3" shape-rendering="crispEdges"/>
<path d="M49.2 156.4h5.8v5.8h-5.8zM54.5 156.4h5.1v5.8h-5.1zM59.1 156.4h5.1v5.8h-5.1zM63.7 156.4h5.1v5.8h-5.1zM68.4 156.4h5.1v5.8h-5.1zM73.0 156.4h5.1v5.8h-5.1zM49.2 161.7h5.8v5.1h-5.8zM54.5 161.7h5.1v5.1h-5.1zM59.1 161.7h5.1v5.1h-5.1zM63.7 161.7h5.1v5.1h-5.1zM68.4 161.7h5.1v5.1h-5.1zM49.2 166.4h5.8v5.1h-5.8zM54.5 166.4h5.1v5.1h-5.1zM59.1 166.4h5.1v5.1h-5.1zM49.2 171.0h5.8v5.1h-5.8zM54.5 171.0h5.1v5.1h-5.1z" fill="#040305" shape-rendering="crispEdges"/>
<path d="M77.6 156.4h5.1v5.8h-5.1zM82.2 156.4h5.1v5.8h-5.1zM86.8 156.4h5.1v5.8h-5.1zM91.4 156.4h5.1v5.8h-5.1zM96.0 156.4h5.1v5.8h-5.1zM73.0 161.7h5.1v5.1h-5.1zM77.6 161.7h5.1v5.1h-5.1zM82.2 161.7h5.1v5.1h-5.1zM86.8 161.7h5.1v5.1h-5.1zM91.4 161.7h5.1v5.1h-5.1zM63.7 166.4h5.1v5.1h-5.1zM68.4 166.4h5.1v5.1h-5.1zM73.0 166.4h5.1v5.1h-5.1zM77.6 166.4h5.1v5.1h-5.1zM82.2 166.4h5.1v5.1h-5.1zM59.1 171.0h5.1v5.1h-5.1zM63.7 171.0h5.1v5.1h-5.1zM68.4 171.0h5.1v5.1h-5.1zM73.0 171.0h5.1v5.1h-5.1zM77.6 171.0h5.1v5.1h-5.1zM49.2 175.6h5.8v5.1h-5.8zM54.5 175.6h5.1v5.1h-5.1zM59.1 175.6h5.1v5.1h-5.1zM63.7 175.6h5.1v5.1h-5.1zM68.4 175.6h5.1v5.1h-5.1zM49.2 180.3h5.8v5.1h-5.8zM54.5 180.3h5.1v5.1h-5.1zM59.1 180.3h5.1v5.1h-5.1zM63.7 180.3h5.1v5.1h-5.1zM49.2 184.9h5.8v5.1h-5.8zM54.5 184.9h5.1v5.1h-5.1zM59.1 184.9h5.1v5.1h-5.1zM49.2 189.5h5.8v5.1h-5.8z" fill="#050507" shape-rendering="crispEdges"/>
<path d="M100.7 156.4h5.1v5.8h-5.1zM105.3 156.4h5.1v5.8h-5.1zM109.9 156.4h5.1v5.8h-5.1zM96.0 161.7h5.1v5.1h-5.1zM100.7 161.7h5.1v5.1h-5.1zM105.3 161.7h5.1v5.1h-5.1zM86.8 166.4h5.1v5.1h-5.1zM91.4 166.4h5.1v5.1h-5.1zM96.0 166.4h5.1v5.1h-5.1zM100.7 166.4h5.1v5.1h-5.1zM82.2 171.0h5.1v5.1h-5.1zM86.8 171.0h5.1v5.1h-5.1zM91.4 171.0h5.1v5.1h-5.1zM73.0 175.6h5.1v5.1h-5.1zM77.6 175.6h5.1v5.1h-5.1zM82.2 175.6h5.1v5.1h-5.1zM86.8 175.6h5.1v5.1h-5.1zM68.4 180.3h5.1v5.1h-5.1zM73.0 180.3h5.1v5.1h-5.1zM77.6 180.3h5.1v5.1h-5.1zM63.7 184.9h5.1v5.1h-5.1zM68.4 184.9h5.1v5.1h-5.1zM73.0 184.9h5.1v5.1h-5.1zM54.5 189.5h5.1v5.1h-5.1zM59.1 189.5h5.1v5.1h-5.1zM63.7 189.5h5.1v5.1h-5.1zM68.4 189.5h5.1v5.1h-5.1zM49.2 194.2h5.8v5.1h-5.8zM54.5 194.2h5.1v5.1h-5.1zM59.1 194.2h5.1v5.1h-5.1zM49.2 198.8h5.8v5.1h-5.8zM54.5 198.8h5.1v5.1h-5.1z" fill="#07070a" shape-rendering="crispEdges"/>
<path d="M114.5 156.4h5.1v5.8h-5.1zM119.1 156.4h5.1v5.8h-5.1zM123.7 156.4h5.1v5.8h-5.1zM109.9 161.7h5.1v5.1h-5.1zM114.5 161.7h5.1v5.1h-5.1zM105.3 166.4h5.1v5.1h-5.1zM109.9 166.4h5.1v5.1h-5.1zM96.0 171.0h5.1v5.1h-5.1zM100.7 171.0h5.1v5.1h-5.1zM105.3 171.0h5.1v5.1h-5.1zM91.4 175.6h5.1v5.1h-5.1zM96.0 175.6h5.1v5.1h-5.1zM82.2 180.3h5.1v5.1h-5.1zM86.8 180.3h5.1v5.1h-5.1zM91.4 180.3h5.1v5.1h-5.1zM77.6 184.9h5.1v5.1h-5.1zM82.2 184.9h5.1v5.1h-5.1zM73.0 189.5h5.1v5.1h-5.1zM77.6 189.5h5.1v5.1h-5.1zM63.7 194.2h5.1v5.1h-5.1zM68.4 194.2h5.1v5.1h-5.1zM73.0 194.2h5.1v5.1h-5.1zM59.1 198.8h5.1v5.1h-5.1zM63.7 198.8h5.1v5.1h-5.1zM49.2 203.4h5.8v5.1h-5.8zM54.5 203.4h5.1v5.1h-5.1zM59.1 203.4h5.1v5.1h-5.1zM49.2 208.1h5.8v5.1h-5.8z" fill="#09090c" shape-rendering="crispEdges"/>
<path d="M128.3 156.4h5.1v5.8h-5.1zM133.0 156.4h5.1v5.8h-5.1zM119.1 161.7h5.1v5.1h-5.1zM123.7 161.7h5.1v5.1h-5.1zM114.5 166.4h5.1v5.1h-5.1zM119.1 166.4h5.1v5.1h-5.1zM109.9 171.0h5.1v5.1h-5.1zM114.5 171.0h5.1v5.1h-5.1zM100.7 175.6h5.1v5.1h-5.1zM105.3 175.6h5.1v5.1h-5.1zM96.0 180.3h5.1v5.1h-5.1zM100.7 180.3h5.1v5.1h-5.1zM86.8 184.9h5.1v5.1h-5.1zM91.4 184.9h5.1v5.1h-5.1zM82.2 189.5h5.1v5.1h-5.1zM86.8 189.5h5.1v5.1h-5.1zM77.6 194.2h5.1v5.1h-5.1zM82.2 194.2h5.1v5.1h-5.1zM68.4 198.8h5.1v5.1h-5.1zM73.0 198.8h5.1v5.1h-5.1zM63.7 203.4h5.1v5.1h-5.1zM68.4 203.4h5.1v5.1h-5.1zM54.5 208.1h5.1v5.1h-5.1zM59.1 208.1h5.1v5.1h-5.1zM49.2 212.7h5.8v5.1h-5.8zM54.5 212.7h5.1v5.1h-5.1zM49.2 217.3h5.8v5.1h-5.8z" fill="#0a0a0f" shape-rendering="crispEdges"/>
<path d="M137.6 156.4h5.1v5.8h-5.1zM128.3 161.7h5.1v5.1h-5.1zM133.0 161.7h5.1v5.1h-5.1zM123.7 166.4h5.1v5.1h-5.1zM128.3 166.4h5.1v5.1h-5.1zM119.1 171.0h5.1v5.1h-5.1zM109.9 175.6h5.1v5.1h-5.1zM114.5 175.6h5.1v5.1h-5.1zM105.3 180.3h5.1v5.1h-5.1zM96.0 184.9h5.1v5.1h-5.1zM100.7 184.9h5.1v5.1h-5.1zM91.4 189.5h5.1v5.1h-5.1zM96.0 189.5h5.1v5.1h-5.1zM86.8 194.2h5.1v5.1h-5.1zM77.6 198.8h5.1v5.1h-5.1zM82.2 198.8h5.1v5.1h-5.1zM73.0 203.4h5.1v5.1h-5.1zM63.7 208.1h5.1v5.1h-5.1zM68.4 208.1h5.1v5.1h-5.1zM59.1 212.7h5.1v5.1h-5.1zM63.7 212.7h5.1v5.1h-5.1zM54.5 217.3h5.1v5.1h-5.1zM49.2 222.0h5.8v5.1h-5.8z" fill="#0c0c11" shape-rendering="crispEdges"/>
<path d="M142.2 156.4h5.6v5.8h-5.6zM137.6 161.7h5.1v5.1h-5.1zM133.0 166.4h5.1v5.1h-5.1zM123.7 171.0h5.1v5.1h-5.1zM119.1 175.6h5.1v5.1h-5.1zM109.9 180.3h5.1v5.1h-5.1zM114.5 180.3h5.1v5.1h-5.1zM105.3 184.9h5.1v5.1h-5.1zM100.7 189.5h5.1v5.1h-5.1zM91.4 194.2h5.1v5.1h-5.1zM86.8 198.8h5.1v5.1h-5.1zM77.6 203.4h5.1v5.1h-5.1zM82.2 203.4h5.1v5.1h-5.1zM73.0 208.1h5.1v5.1h-5.1zM68.4 212.7h5.1v5.1h-5.1zM59.1 217.3h5.1v5.1h-5.1zM54.5 222.0h5.1v5.1h-5.1zM49.2 226.6h5.8v5.1h-5.8z" fill="#0e0e13" shape-rendering="crispEdges"/>
<path d="M142.2 161.7h5.6v5.1h-5.6zM137.6 166.4h5.1v5.1h-5.1zM128.3 171.0h5.1v5.1h-5.1zM133.0 171.0h5.1v5.1h-5.1zM123.7 175.6h5.1v5.1h-5.1zM119.1 180.3h5.1v5.1h-5.1zM109.9 184.9h5.1v5.1h-5.1zM105.3 189.5h5.1v5.1h-5.1zM96.0 194.2h5.1v5.1h-5.1zM100.7 194.2h5.1v5.1h-5.1zM91.4 198.8h5.1v5.1h-5.1zM86.8 203.4h5.1v5.1h-5.1zM77.6 208.1h5.1v5.1h-5.1zM73.0 212.7h5.1v5.1h-5.1zM63.7 217.3h5.1v5.1h-5.1zM68.4 217.3h5.1v5.1h-5.1zM59.1 222.0h5.1v5.1h-5.1zM54.5 226.6h5.1v5.1h-5.1z" fill="#101016" shape-rendering="crispEdges"/>
<path d="M142.2 166.4h5.6v5.1h-5.6zM137.6 171.0h5.1v5.1h-5.1zM128.3 175.6h5.1v5.1h-5.1zM123.7 180.3h5.1v5.1h-5.1zM114.5 184.9h5.1v5.1h-5.1zM109.9 189.5h5.1v5.1h-5.1zM105.3 194.2h5.1v5.1h-5.1zM96.0 198.8h5.1v5.1h-5.1zM91.4 203.4h5.1v5.1h-5.1zM82.2 208.1h5.1v5.1h-5.1zM77.6 212.7h5.1v5.1h-5.1zM73.0 217.3h5.1v5.1h-5.1zM63.7 222.0h5.1v5.1h-5.1zM59.1 226.6h5.1v5.1h-5.1zM49.2 231.2h5.8v5.1h-5.8z" fill="#121118" shape-rendering="crispEdges"/>
<path d="M142.2 171.0h5.6v5.1h-5.6zM137.6 175.6h5.1v5.1h-5.1zM123.7 184.9h5.1v5.1h-5.1zM119.1 189.5h5.1v5.1h-5.1zM109.9 194.2h5.1v5.1h-5.1zM105.3 198.8h5.1v5.1h-5.1zM91.4 208.1h5.1v5.1h-5.1zM86.8 212.7h5.1v5.1h-5.1zM77.6 217.3h5.1v5.1h-5.1zM73.0 222.0h5.1v5.1h-5.1zM59.1 231.2h5.1v5.1h-5.1zM54.5 235.9h5.1v5.1h-5.1z" fill="#15151d" shape-rendering="crispEdges"/>
<path d="M133.0 175.6h5.1v5.1h-5.1zM128.3 180.3h5.1v5.1h-5.1zM119.1 184.9h5.1v5.1h-5.1zM114.5 189.5h5.1v5.1h-5.1zM100.7 198.8h5.1v5.1h-5.1zM96.0 203.4h5.1v5.1h-5.1zM86.8 208.1h5.1v5.1h-5.1zM82.2 212.7h5.1v5.1h-5.1zM68.4 222.0h5.1v5.1h-5.1zM63.7 226.6h5.1v5.1h-5.1zM54.5 231.2h5.1v5.1h-5.1zM49.2 235.9h5.8v5.1h-5.8z" fill="#13131b" shape-rendering="crispEdges"/>
<path d="M142.2 175.6h5.6v5.1h-5.6zM133.0 180.3h5.1v5.1h-5.1zM128.3 184.9h5.1v5.1h-5.1zM114.5 194.2h5.1v5.1h-5.1zM109.9 198.8h5.1v5.1h-5.1zM100.7 203.4h5.1v5.1h-5.1zM96.0 208.1h5.1v5.1h-5.1zM82.2 217.3h5.1v5.1h-5.1zM77.6 222.0h5.1v5.1h-5.1zM68.4 226.6h5.1v5.1h-5.1zM63.7 231.2h5.1v5.1h-5.1zM49.2 240.5h5.8v5.1h-5.8z" fill="#171720" shape-rendering="crispEdges"/>
<path d="M137.6 180.3h5.1v5.1h-5.1zM123.7 189.5h5.1v5.1h-5.1zM119.1 194.2h5.1v5.1h-5.1zM105.3 203.4h5.1v5.1h-5.1zM91.4 212.7h5.1v5.1h-5.1zM86.8 217.3h5.1v5.1h-5.1zM73.0 226.6h5.1v5.1h-5.1zM59.1 235.9h5.1v5.1h-5.1zM54.5 240.5h5.1v5.1h-5.1z" fill="#181822" shape-rendering="crispEdges"/>
<path d="M142.2 180.3h5.6v5.1h-5.6zM137.6 184.9h5.1v5.1h-5.1zM123.7 194.2h5.1v5.1h-5.1zM109.9 203.4h5.1v5.1h-5.1zM105.3 208.1h5.1v5.1h-5.1zM91.4 217.3h5.1v5.1h-5.1zM77.6 226.6h5.1v5.1h-5.1zM73.0 231.2h5.1v5.1h-5.1zM59.1 240.5h5.1v5.1h-5.1z" fill="#1c1c27" shape-rendering="crispEdges"/>
<path d="M133.0 184.9h5.1v5.1h-5.1zM128.3 189.5h5.1v5.1h-5.1zM114.5 198.8h5.1v5.1h-5.1zM100.7 208.1h5.1v5.1h-5.1zM96.0 212.7h5.1v5.1h-5.1zM82.2 222.0h5.1v5.1h-5.1zM68.4 231.2h5.1v5.1h-5.1zM63.7 235.9h5.1v5.1h-5.1zM49.2 245.1h5.8v5.1h-5.8z" fill="#1a1a25" shape-rendering="crispEdges"/>
<path d="M142.2 184.9h5.6v5.1h-5.6zM137.6 189.5h5.1v5.1h-5.1zM123.7 198.8h5.1v5.1h-5.1zM109.9 208.1h5.1v5.1h-5.1zM105.3 212.7h5.1v5.1h-5.1zM91.4 222.0h5.1v5.1h-5.1zM77.6 231.2h5.1v5.1h-5.1zM73.0 235.9h5.1v5.1h-5.1zM59.1 245.1h5.1v5.1h-5.1z" fill="#21212e" shape-rendering="crispEdges"/>
<path d="M133.0 189.5h5.1v5.1h-5.1zM119.1 198.8h5.1v5.1h-5.1zM100.7 212.7h5.1v5.1h-5.1zM86.8 222.0h5.1v5.1h-5.1zM68.4 235.9h5.1v5.1h-5.1zM54.5 245.1h5.1v5.1h-5.1z" fill="#1e1e29" shape-rendering="crispEdges"/>
<path d="M142.2 189.5h5.6v5.1h-5.6zM123.7 203.4h5.1v5.1h-5.1zM109.9 212.7h5.1v5.1h-5.1zM91.4 226.6h5.1v5.1h-5.1zM77.6 235.9h5.1v5.1h-5.1zM59.1 249.8h5.1v4.8h-5.1z" fill="#262636" shape-rendering="crispEdges"/>
<path d="M128.3 194.2h5.1v5.1h-5.1zM114.5 203.4h5.1v5.1h-5.1zM96.0 217.3h5.1v5.1h-5.1zM82.2 226.6h5.1v5.1h-5.1zM63.7 240.5h5.1v5.1h-5.1zM49.2 249.8h5.8v4.8h-5.8z" fill="#201f2c" shape-rendering="crispEdges"/>
<path d="M133.0 194.2h5.1v5.1h-5.1zM119.1 203.4h5.1v5.1h-5.1zM100.7 217.3h5.1v5.1h-5.1zM86.8 226.6h5.1v5.1h-5.1zM68.4 240.5h5.1v5.1h-5.1zM54.5 249.8h5.1v4.8h-5.1z" fill="#232331" shape-rendering="crispEdges"/>
<path d="M137.6 194.2h5.1v5.1h-5.1zM105.3 217.3h5.1v5.1h-5.1zM73.0 240.5h5.1v5.1h-5.1z" fill="#282838" shape-rendering="crispEdges"/>
<path d="M142.2 194.2h5.6v5.1h-5.6zM109.9 217.3h5.1v5.1h-5.1zM77.6 240.5h5.1v5.1h-5.1z" fill="#2e2d3f" shape-rendering="crispEdges"/>
<path d="M128.3 198.8h5.1v5.1h-5.1zM114.5 208.1h5.1v5.1h-5.1zM96.0 222.0h5.1v5.1h-5.1zM82.2 231.2h5.1v5.1h-5.1zM63.7 245.1h5.1v5.1h-5.1z" fill="#252533" shape-rendering="crispEdges"/>
<path d="M133.0 198.8h5.1v5.1h-5.1zM119.1 208.1h5.1v5.1h-5.1zM100.7 222.0h5.1v5.1h-5.1zM86.8 231.2h5.1v5.1h-5.1zM68.4 245.1h5.1v5.1h-5.1z" fill="#2a2a3a" shape-rendering="crispEdges"/>
<path d="M137.6 198.8h5.1v5.1h-5.1zM123.7 208.1h5.1v5.1h-5.1zM105.3 222.0h5.1v5.1h-5.1zM91.4 231.2h5.1v5.1h-5.1zM73.0 245.1h5.1v5.1h-5.1z" fill="#2f2f42" shape-rendering="crispEdges"/>
<path d="M142.2 198.8h5.6v5.1h-5.6zM109.9 222.0h5.1v5.1h-5.1zM77.6 245.1h5.1v5.1h-5.1z" fill="#36364b" shape-rendering="crispEdges"/>
<path d="M128.3 203.4h5.1v5.1h-5.1zM114.5 212.7h5.1v5.1h-5.1zM96.0 226.6h5.1v5.1h-5.1zM82.2 235.9h5.1v5.1h-5.1zM63.7 249.8h5.1v4.8h-5.1z" fill="#2c2c3d" shape-rendering="crispEdges"/>
<path d="M133.0 203.4h5.1v5.1h-5.1zM100.7 226.6h5.1v5.1h-5.1zM68.4 249.8h5.1v4.8h-5.1z" fill="#333347" shape-rendering="crispEdges"/>
<path d="M137.6 203.4h5.1v5.1h-5.1zM105.3 226.6h5.1v5.1h-5.1zM73.0 249.8h5.1v4.8h-5.1z" fill="#3a3a50" shape-rendering="crispEdges"/>
<path d="M142.2 203.4h5.6v5.1h-5.6zM109.9 226.6h5.1v5.1h-5.1zM77.6 249.8h5.1v4.8h-5.1z" fill="#42425d" shape-rendering="crispEdges"/>
<path d="M128.3 208.1h5.1v5.1h-5.1zM114.5 217.3h5.1v5.1h-5.1zM96.0 231.2h5.1v5.1h-5.1zM82.2 240.5h5.1v5.1h-5.1z" fill="#343449" shape-rendering="crispEdges"/>
<path d="M133.0 208.1h5.1v5.1h-5.1zM100.7 231.2h5.1v5.1h-5.1z" fill="#3d3d55" shape-rendering="crispEdges"/>
<path d="M137.6 208.1h5.1v5.1h-5.1zM105.3 231.2h5.1v5.1h-5.1z" fill="#464661" shape-rendering="crispEdges"/>
<path d="M142.2 208.1h5.6v5.1h-5.6zM109.9 231.2h5.1v5.1h-5.1z" fill="#4f4f6e" shape-rendering="crispEdges"/>
<path d="M119.1 212.7h5.1v5.1h-5.1zM86.8 235.9h5.1v5.1h-5.1z" fill="#313144" shape-rendering="crispEdges"/>
<path d="M123.7 212.7h5.1v5.1h-5.1zM91.4 235.9h5.1v5.1h-5.1z" fill="#38384e" shape-rendering="crispEdges"/>
<path d="M128.3 212.7h5.1v5.1h-5.1zM96.0 235.9h5.1v5.1h-5.1z" fill="#41415a" shape-rendering="crispEdges"/>
<path d="M133.0 212.7h5.1v5.1h-5.1zM100.7 235.9h5.1v5.1h-5.1z" fill="#4a4966" shape-rendering="crispEdges"/>
<path d="M137.6 212.7h5.1v5.1h-5.1zM105.3 235.9h5.1v5.1h-5.1z" fill="#545574" shape-rendering="crispEdges"/>
<path d="M142.2 212.7h5.6v5.1h-5.6zM109.9 235.9h5.1v5.1h-5.1z" fill="#5e637e" shape-rendering="crispEdges"/>
<path d="M119.1 217.3h5.1v5.1h-5.1zM86.8 240.5h5.1v5.1h-5.1z" fill="#3c3b53" shape-rendering="crispEdges"/>
<path d="M123.7 217.3h5.1v5.1h-5.1zM91.4 240.5h5.1v5.1h-5.1z" fill="#44445f" shape-rendering="crispEdges"/>
<path d="M128.3 217.3h5.1v5.1h-5.1zM96.0 240.5h5.1v5.1h-5.1z" fill="#4d4d6b" shape-rendering="crispEdges"/>
<path d="M133.0 217.3h5.1v5.1h-5.1zM100.7 240.5h5.1v5.1h-5.1z" fill="#575a77" shape-rendering="crispEdges"/>
<path d="M137.6 217.3h5.1v5.1h-5.1zM105.3 240.5h5.1v5.1h-5.1z" fill="#646b84" shape-rendering="crispEdges"/>
<path d="M142.2 217.3h5.6v5.1h-5.6zM109.9 240.5h5.1v5.1h-5.1z" fill="#707b90" shape-rendering="crispEdges"/>
<path d="M114.5 222.0h5.1v5.1h-5.1zM82.2 245.1h5.1v5.1h-5.1z" fill="#3f3f58" shape-rendering="crispEdges"/>
<path d="M119.1 222.0h5.1v5.1h-5.1zM86.8 245.1h5.1v5.1h-5.1z" fill="#484864" shape-rendering="crispEdges"/>
<path d="M123.7 222.0h5.1v5.1h-5.1zM91.4 245.1h5.1v5.1h-5.1z" fill="#505070" shape-rendering="crispEdges"/>
<path d="M128.3 222.0h5.1v5.1h-5.1zM96.0 245.1h5.1v5.1h-5.1z" fill="#5d617d" shape-rendering="crispEdges"/>
<path d="M133.0 222.0h5.1v5.1h-5.1zM100.7 245.1h5.1v5.1h-5.1z" fill="#697289" shape-rendering="crispEdges"/>
<path d="M137.6 222.0h5.1v5.1h-5.1zM105.3 245.1h5.1v5.1h-5.1z" fill="#758395" shape-rendering="crispEdges"/>
<path d="M142.2 222.0h5.6v5.1h-5.6zM109.9 245.1h5.1v5.1h-5.1z" fill="#8396a3" shape-rendering="crispEdges"/>
<path d="M114.5 226.6h5.1v5.1h-5.1zM82.2 249.8h5.1v4.8h-5.1z" fill="#4b4b69" shape-rendering="crispEdges"/>
<path d="M119.1 226.6h5.1v5.1h-5.1zM86.8 249.8h5.1v4.8h-5.1z" fill="#565776" shape-rendering="crispEdges"/>
<path d="M123.7 226.6h5.1v5.1h-5.1zM91.4 249.8h5.1v4.8h-5.1z" fill="#626882" shape-rendering="crispEdges"/>
<path d="M128.3 226.6h5.1v5.1h-5.1zM96.0 249.8h5.1v4.8h-5.1z" fill="#6e798e" shape-rendering="crispEdges"/>
<path d="M133.0 226.6h5.1v5.1h-5.1zM100.7 249.8h5.1v4.8h-5.1z" fill="#7c8c9c" shape-rendering="crispEdges"/>
<path d="M137.6 226.6h5.1v5.1h-5.1zM105.3 249.8h5.1v4.8h-5.1z" fill="#889da8" shape-rendering="crispEdges"/>
<path d="M142.2 226.6h5.6v5.1h-5.6zM109.9 249.8h5.1v4.8h-5.1zM142.2 249.8h5.6v4.8h-5.6z" fill="#96b0b6" shape-rendering="crispEdges"/>
<path d="M114.5 231.2h5.1v5.1h-5.1z" fill="#595c79" shape-rendering="crispEdges"/>
<path d="M119.1 231.2h5.1v5.1h-5.1z" fill="#666d85" shape-rendering="crispEdges"/>
<path d="M123.7 231.2h5.1v5.1h-5.1z" fill="#738093" shape-rendering="crispEdges"/>
<path d="M128.3 231.2h5.1v5.1h-5.1z" fill="#8194a1" shape-rendering="crispEdges"/>
<path d="M133.0 231.2h5.1v5.1h-5.1z" fill="#8fa7af" shape-rendering="crispEdges"/>
<path d="M137.6 231.2h5.1v5.1h-5.1zM137.6 249.8h5.1v4.8h-5.1z" fill="#9cb8bc" shape-rendering="crispEdges"/>
<path d="M142.2 231.2h5.6v5.1h-5.6zM133.0 249.8h5.1v4.8h-5.1z" fill="#a9c8c8" shape-rendering="crispEdges"/>
<path d="M114.5 235.9h5.1v5.1h-5.1z" fill="#6b748b" shape-rendering="crispEdges"/>
<path d="M119.1 235.9h5.1v5.1h-5.1z" fill="#798799" shape-rendering="crispEdges"/>
<path d="M123.7 235.9h5.1v5.1h-5.1z" fill="#879ba7" shape-rendering="crispEdges"/>
<path d="M128.3 235.9h5.1v5.1h-5.1z" fill="#95aeb5" shape-rendering="crispEdges"/>
<path d="M133.0 235.9h5.1v5.1h-5.1zM142.2 245.1h5.6v5.1h-5.6z" fill="#a1bfc1" shape-rendering="crispEdges"/>
<path d="M137.6 235.9h5.1v5.1h-5.1zM137.6 245.1h5.1v5.1h-5.1z" fill="#aecbcb" shape-rendering="crispEdges"/>
<path d="M142.2 235.9h5.6v5.1h-5.6zM137.6 240.5h5.1v5.1h-5.1zM133.0 245.1h5.1v5.1h-5.1zM123.7 249.8h5.1v4.8h-5.1z" fill="#b9d2d2" shape-rendering="crispEdges"/>
<path d="M114.5 240.5h5.1v5.1h-5.1z" fill="#7e8f9e" shape-rendering="crispEdges"/>
<path d="M119.1 240.5h5.1v5.1h-5.1z" fill="#8ca2ac" shape-rendering="crispEdges"/>
<path d="M123.7 240.5h5.1v5.1h-5.1z" fill="#9ab5ba" shape-rendering="crispEdges"/>
<path d="M128.3 240.5h5.1v5.1h-5.1z" fill="#a4c4c4" shape-rendering="crispEdges"/>
<path d="M133.0 240.5h5.1v5.1h-5.1zM142.2 240.5h5.6v5.1h-5.6z" fill="#b4cfcf" shape-rendering="crispEdges"/>
<path d="M114.5 245.1h5.1v5.1h-5.1z" fill="#91a9b1" shape-rendering="crispEdges"/>
<path d="M119.1 245.1h5.1v5.1h-5.1z" fill="#9fbcbf" shape-rendering="crispEdges"/>
<path d="M123.7 245.1h5.1v5.1h-5.1z" fill="#accaca" shape-rendering="crispEdges"/>
<path d="M128.3 245.1h5.1v5.1h-5.1zM128.3 249.8h5.1v4.8h-5.1z" fill="#b7d1d1" shape-rendering="crispEdges"/>
<path d="M114.5 249.8h5.1v4.8h-5.1z" fill="#a3c1c3" shape-rendering="crispEdges"/>
<path d="M119.1 249.8h5.1v4.8h-5.1z" fill="#b1cdcd" shape-rendering="crispEdges"/>
<path d="M161.0 156.4h5.8v5.8h-5.8zM166.3 156.4h5.1v5.8h-5.1zM170.9 156.4h5.1v5.8h-5.1zM175.6 156.4h5.1v5.8h-5.1zM180.2 156.4h5.1v5.8h-5.1zM184.8 156.4h5.1v5.8h-5.1zM161.0 161.7h5.8v5.1h-5.8zM166.3 161.7h5.1v5.1h-5.1zM170.9 161.7h5.1v5.1h-5.1zM175.6 161.7h5.1v5.1h-5.1zM180.2 161.7h5.1v5.1h-5.1zM161.0 166.4h5.8v5.1h-5.8zM166.3 166.4h5.1v5.1h-5.1zM170.9 166.4h5.1v5.1h-5.1zM161.0 171.0h5.8v5.1h-5.8zM166.3 171.0h5.1v5.1h-5.1z" fill="#020202" shape-rendering="crispEdges"/>
<path d="M189.4 156.4h5.1v5.8h-5.1zM194.1 156.4h5.1v5.8h-5.1zM198.7 156.4h5.1v5.8h-5.1zM203.3 156.4h5.1v5.8h-5.1zM207.9 156.4h5.1v5.8h-5.1zM212.6 156.4h5.1v5.8h-5.1zM217.2 156.4h5.1v5.8h-5.1zM221.8 156.4h5.1v5.8h-5.1zM184.8 161.7h5.1v5.1h-5.1zM189.4 161.7h5.1v5.1h-5.1zM194.1 161.7h5.1v5.1h-5.1zM198.7 161.7h5.1v5.1h-5.1zM203.3 161.7h5.1v5.1h-5.1zM207.9 161.7h5.1v5.1h-5.1zM212.6 161.7h5.1v5.1h-5.1zM175.6 166.4h5.1v5.1h-5.1zM180.2 166.4h5.1v5.1h-5.1zM184.8 166.4h5.1v5.1h-5.1zM189.4 166.4h5.1v5.1h-5.1zM194.1 166.4h5.1v5.1h-5.1zM198.7 166.4h5.1v5.1h-5.1zM203.3 166.4h5.1v5.1h-5.1zM207.9 166.4h5.1v5.1h-5.1zM170.9 171.0h5.1v5.1h-5.1zM175.6 171.0h5.1v5.1h-5.1zM180.2 171.0h5.1v5.1h-5.1zM184.8 171.0h5.1v5.1h-5.1zM189.4 171.0h5.1v5.1h-5.1zM194.1 171.0h5.1v5.1h-5.1zM198.7 171.0h5.1v5.1h-5.1zM161.0 175.6h5.8v5.1h-5.8zM166.3 175.6h5.1v5.1h-5.1zM170.9 175.6h5.1v5.1h-5.1zM175.6 175.6h5.1v5.1h-5.1zM180.2 175.6h5.1v5.1h-5.1zM184.8 175.6h5.1v5.1h-5.1zM189.4 175.6h5.1v5.1h-5.1zM194.1 175.6h5.1v5.1h-5.1zM161.0 180.3h5.8v5.1h-5.8zM166.3 180.3h5.1v5.1h-5.1zM170.9 180.3h5.1v5.1h-5.1zM175.6 180.3h5.1v5.1h-5.1zM180.2 180.3h5.1v5.1h-5.1zM184.8 180.3h5.1v5.1h-5.1zM161.0 184.9h5.8v5.1h-5.8zM166.3 184.9h5.1v5.1h-5.1zM170.9 184.9h5.1v5.1h-5.1zM175.6 184.9h5.1v5.1h-5.1zM180.2 184.9h5.1v5.1h-5.1zM161.0 189.5h5.8v5.1h-5.8zM166.3 189.5h5.1v5.1h-5.1zM170.9 189.5h5.1v5.1h-5.1zM161.0 194.2h5.8v5.1h-5.8zM166.3 194.2h5.1v5.1h-5.1z" fill="#040305" shape-rendering="crispEdges"/>
<path d="M226.4 156.4h5.1v5.8h-5.1zM231.1 156.4h5.1v5.8h-5.1zM235.7 156.4h5.1v5.8h-5.1zM240.3 156.4h5.1v5.8h-5.1zM217.2 161.7h5.1v5.1h-5.1zM221.8 161.7h5.1v5.1h-5.1zM226.4 161.7h5.1v5.1h-5.1zM231.1 161.7h5.1v5.1h-5.1zM212.6 166.4h5.1v5.1h-5.1zM217.2 166.4h5.1v5.1h-5.1zM221.8 166.4h5.1v5.1h-5.1zM226.4 166.4h5.1v5.1h-5.1zM203.3 171.0h5.1v5.1h-5.1zM207.9 171.0h5.1v5.1h-5.1zM212.6 171.0h5.1v5.1h-5.1zM217.2 171.0h5.1v5.1h-5.1zM198.7 175.6h5.1v5.1h-5.1zM203.3 175.6h5.1v5.1h-5.1zM207.9 175.6h5.1v5.1h-5.1zM212.6 175.6h5.1v5.1h-5.1zM189.4 180.3h5.1v5.1h-5.1zM194.1 180.3h5.1v5.1h-5.1zM198.7 180.3h5.1v5.1h-5.1zM203.3 180.3h5.1v5.1h-5.1zM184.8 184.9h5.1v5.1h-5.1zM189.4 184.9h5.1v5.1h-5.1zM194.1 184.9h5.1v5.1h-5.1zM198.7 184.9h5.1v5.1h-5.1zM175.6 189.5h5.1v5.1h-5.1zM180.2 189.5h5.1v5.1h-5.1zM184.8 189.5h5.1v5.1h-5.1zM189.4 189.5h5.1v5.1h-5.1zM194.1 189.5h5.1v5.1h-5.1zM170.9 194.2h5.1v5.1h-5.1zM175.6 194.2h5.1v5.1h-5.1zM180.2 194.2h5.1v5.1h-5.1zM184.8 194.2h5.1v5.1h-5.1zM161.0 198.8h5.8v5.1h-5.8zM166.3 198.8h5.1v5.1h-5.1zM170.9 198.8h5.1v5.1h-5.1zM175.6 198.8h5.1v5.1h-5.1zM180.2 198.8h5.1v5.1h-5.1zM161.0 203.4h5.8v5.1h-5.8zM166.3 203.4h5.1v5.1h-5.1zM170.9 203.4h5.1v5.1h-5.1zM161.0 208.1h5.8v5.1h-5.8zM166.3 208.1h5.1v5.1h-5.1z" fill="#050507" shape-rendering="crispEdges"/>
<path d="M244.9 156.4h5.1v5.8h-5.1zM249.6 156.4h5.1v5.8h-5.1zM254.2 156.4h5.6v5.8h-5.6zM235.7 161.7h5.1v5.1h-5.1zM240.3 161.7h5.1v5.1h-5.1zM244.9 161.7h5.1v5.1h-5.1zM231.1 166.4h5.1v5.1h-5.1zM235.7 166.4h5.1v5.1h-5.1zM240.3 166.4h5.1v5.1h-5.1zM221.8 171.0h5.1v5.1h-5.1zM226.4 171.0h5.1v5.1h-5.1zM231.1 171.0h5.1v5.1h-5.1zM217.2 175.6h5.1v5.1h-5.1zM221.8 175.6h5.1v5.1h-5.1zM226.4 175.6h5.1v5.1h-5.1zM207.9 180.3h5.1v5.1h-5.1zM212.6 180.3h5.1v5.1h-5.1zM217.2 180.3h5.1v5.1h-5.1zM203.3 184.9h5.1v5.1h-5.1zM207.9 184.9h5.1v5.1h-5.1zM212.6 184.9h5.1v5.1h-5.1zM198.7 189.5h5.1v5.1h-5.1zM203.3 189.5h5.1v5.1h-5.1zM189.4 194.2h5.1v5.1h-5.1zM194.1 194.2h5.1v5.1h-5.1zM198.7 194.2h5.1v5.1h-5.1zM184.8 198.8h5.1v5.1h-5.1zM189.4 198.8h5.1v5.1h-5.1zM175.6 203.4h5.1v5.1h-5.1zM180.2 203.4h5.1v5.1h-5.1zM184.8 203.4h5.1v5.1h-5.1zM170.9 208.1h5.1v5.1h-5.1zM175.6 208.1h5.1v5.1h-5.1zM180.2 208.1h5.1v5.1h-5.1zM161.0 212.7h5.8v5.1h-5.8zM166.3 212.7h5.1v5.1h-5.1zM170.9 212.7h5.1v5.1h-5.1zM161.0 217.3h5.8v5.1h-5.8zM166.3 217.3h5.1v5.1h-5.1z" fill="#07070a" shape-rendering="crispEdges"/>
<path d="M249.6 161.7h5.1v5.1h-5.1zM254.2 161.7h5.6v5.1h-5.6zM244.9 166.4h5.1v5.1h-5.1zM249.6 166.4h5.1v5.1h-5.1zM235.7 171.0h5.1v5.1h-5.1zM240.3 171.0h5.1v5.1h-5.1zM231.1 175.6h5.1v5.1h-5.1zM235.7 175.6h5.1v5.1h-5.1zM221.8 180.3h5.1v5.1h-5.1zM226.4 180.3h5.1v5.1h-5.1zM217.2 184.9h5.1v5.1h-5.1zM221.8 184.9h5.1v5.1h-5.1zM207.9 189.5h5.1v5.1h-5.1zM212.6 189.5h5.1v5.1h-5.1zM203.3 194.2h5.1v5.1h-5.1zM207.9 194.2h5.1v5.1h-5.1zM194.1 198.8h5.1v5.1h-5.1zM198.7 198.8h5.1v5.1h-5.1zM203.3 198.8h5.1v5.1h-5.1zM189.4 203.4h5.1v5.1h-5.1zM194.1 203.4h5.1v5.1h-5.1zM184.8 208.1h5.1v5.1h-5.1zM189.4 208.1h5.1v5.1h-5.1zM175.6 212.7h5.1v5.1h-5.1zM180.2 212.7h5.1v5.1h-5.1zM170.9 217.3h5.1v5.1h-5.1zM175.6 217.3h5.1v5.1h-5.1zM161.0 222.0h5.8v5.1h-5.8zM166.3 222.0h5.1v5.1h-5.1zM161.0 226.6h5.8v5.1h-5.8z" fill="#09090c" shape-rendering="crispEdges"/>
<path d="M254.2 166.4h5.6v5.1h-5.6zM244.9 171.0h5.1v5.1h-5.1zM249.6 171.0h5.1v5.1h-5.1zM240.3 175.6h5.1v5.1h-5.1zM231.1 180.3h5.1v5.1h-5.1zM235.7 180.3h5.1v5.1h-5.1zM226.4 184.9h5.1v5.1h-5.1zM231.1 184.9h5.1v5.1h-5.1zM217.2 189.5h5.1v5.1h-5.1zM221.8 189.5h5.1v5.1h-5.1zM212.6 194.2h5.1v5.1h-5.1zM217.2 194.2h5.1v5.1h-5.1zM207.9 198.8h5.1v5.1h-5.1zM198.7 203.4h5.1v5.1h-5.1zM203.3 203.4h5.1v5.1h-5.1zM194.1 208.1h5.1v5.1h-5.1zM184.8 212.7h5.1v5.1h-5.1zM189.4 212.7h5.1v5.1h-5.1zM180.2 217.3h5.1v5.1h-5.1zM170.9 222.0h5.1v5.1h-5.1zM175.6 222.0h5.1v5.1h-5.1zM166.3 226.6h5.1v5.1h-5.1zM170.9 226.6h5.1v5.1h-5.1zM161.0 231.2h5.8v5.1h-5.8z" fill="#0a0a0f" shape-rendering="crispEdges"/>
<path d="M254.2 171.0h5.6v5.1h-5.6zM244.9 175.6h5.1v5.1h-5.1zM249.6 175.6h5.1v5.1h-5.1zM240.3 180.3h5.1v5.1h-5.1zM235.7 184.9h5.1v5.1h-5.1zM226.4 189.5h5.1v5.1h-5.1zM221.8 194.2h5.1v5.1h-5.1zM212.6 198.8h5.1v5.1h-5.1zM217.2 198.8h5.1v5.1h-5.1zM207.9 203.4h5.1v5.1h-5.1zM198.7 208.1h5.1v5.1h-5.1zM203.3 208.1h5.1v5.1h-5.1zM194.1 212.7h5.1v5.1h-5.1zM184.8 217.3h5.1v5.1h-5.1zM189.4 217.3h5.1v5.1h-5.1zM180.2 222.0h5.1v5.1h-5.1zM175.6 226.6h5.1v5.1h-5.1zM166.3 231.2h5.1v5.1h-5.1zM161.0 235.9h5.8v5.1h-5.8z" fill="#0c0c11" shape-rendering="crispEdges"/>
<path d="M254.2 175.6h5.6v5.1h-5.6zM244.9 180.3h5.1v5.1h-5.1zM249.6 180.3h5.1v5.1h-5.1zM240.3 184.9h5.1v5.1h-5.1zM231.1 189.5h5.1v5.1h-5.1zM235.7 189.5h5.1v5.1h-5.1zM226.4 194.2h5.1v5.1h-5.1zM221.8 198.8h5.1v5.1h-5.1zM212.6 203.4h5.1v5.1h-5.1zM207.9 208.1h5.1v5.1h-5.1zM198.7 212.7h5.1v5.1h-5.1zM194.1 217.3h5.1v5.1h-5.1zM184.8 222.0h5.1v5.1h-5.1zM180.2 226.6h5.1v5.1h-5.1zM170.9 231.2h5.1v5.1h-5.1zM175.6 231.2h5.1v5.1h-5.1zM166.3 235.9h5.1v5.1h-5.1zM161.0 240.5h5.8v5.1h-5.8z" fill="#0e0e13" shape-rendering="crispEdges"/>
<path d="M254.2 180.3h5.6v5.1h-5.6zM249.6 184.9h5.1v5.1h-5.1zM235.7 194.2h5.1v5.1h-5.1zM231.1 198.8h5.1v5.1h-5.1zM221.8 203.4h5.1v5.1h-5.1zM217.2 208.1h5.1v5.1h-5.1zM207.9 212.7h5.1v5.1h-5.1zM203.3 217.3h5.1v5.1h-5.1zM194.1 222.0h5.1v5.1h-5.1zM189.4 226.6h5.1v5.1h-5.1zM175.6 235.9h5.1v5.1h-5.1zM161.0 245.1h5.8v5.1h-5.8z" fill="#121118" shape-rendering="crispEdges"/>
<path d="M244.9 184.9h5.1v5.1h-5.1zM240.3 189.5h5.1v5.1h-5.1zM231.1 194.2h5.1v5.1h-5.1zM226.4 198.8h5.1v5.1h-5.1zM217.2 203.4h5.1v5.1h-5.1zM212.6 208.1h5.1v5.1h-5.1zM203.3 212.7h5.1v5.1h-5.1zM198.7 217.3h5.1v5.1h-5.1zM189.4 222.0h5.1v5.1h-5.1zM184.8 226.6h5.1v5.1h-5.1zM180.2 231.2h5.1v5.1h-5.1zM170.9 235.9h5.1v5.1h-5.1zM166.3 240.5h5.1v5.1h-5.1z" fill="#101016" shape-rendering="crispEdges"/>
<path d="M254.2 184.9h5.6v5.1h-5.6zM244.9 189.5h5.1v5.1h-5.1zM240.3 194.2h5.1v5.1h-5.1zM226.4 203.4h5.1v5.1h-5.1zM212.6 212.7h5.1v5.1h-5.1zM198.7 222.0h5.1v5.1h-5.1zM194.1 226.6h5.1v5.1h-5.1zM184.8 231.2h5.1v5.1h-5.1zM180.2 235.9h5.1v5.1h-5.1zM170.9 240.5h5.1v5.1h-5.1zM166.3 245.1h5.1v5.1h-5.1z" fill="#13131b" shape-rendering="crispEdges"/>
<path d="M249.6 189.5h5.1v5.1h-5.1zM235.7 198.8h5.1v5.1h-5.1zM221.8 208.1h5.1v5.1h-5.1zM217.2 212.7h5.1v5.1h-5.1zM207.9 217.3h5.1v5.1h-5.1zM203.3 222.0h5.1v5.1h-5.1zM189.4 231.2h5.1v5.1h-5.1zM175.6 240.5h5.1v5.1h-5.1zM161.0 249.8h5.8v4.8h-5.8z" fill="#15151d" shape-rendering="crispEdges"/>
<path d="M254.2 189.5h5.6v5.1h-5.6zM249.6 194.2h5.1v5.1h-5.1zM235.7 203.4h5.1v5.1h-5.1zM221.8 212.7h5.1v5.1h-5.1zM207.9 222.0h5.1v5.1h-5.1zM194.1 231.2h5.1v5.1h-5.1zM180.2 240.5h5.1v5.1h-5.1zM175.6 245.1h5.1v5.1h-5.1z" fill="#181822" shape-rendering="crispEdges"/>
<path d="M244.9 194.2h5.1v5.1h-5.1zM240.3 198.8h5.1v5.1h-5.1zM231.1 203.4h5.1v5.1h-5.1zM226.4 208.1h5.1v5.1h-5.1zM212.6 217.3h5.1v5.1h-5.1zM198.7 226.6h5.1v5.1h-5.1zM184.8 235.9h5.1v5.1h-5.1zM170.9 245.1h5.1v5.1h-5.1zM166.3 249.8h5.1v4.8h-5.1z" fill="#171720" shape-rendering="crispEdges"/>
<path d="M254.2 194.2h5.6v5.1h-5.6zM240.3 203.4h5.1v5.1h-5.1zM226.4 212.7h5.1v5.1h-5.1zM212.6 222.0h5.1v5.1h-5.1zM198.7 231.2h5.1v5.1h-5.1zM180.2 245.1h5.1v5.1h-5.1z" fill="#1c1c27" shape-rendering="crispEdges"/>
<path d="M244.9 198.8h5.1v5.1h-5.1zM231.1 208.1h5.1v5.1h-5.1zM217.2 217.3h5.1v5.1h-5.1zM203.3 226.6h5.1v5.1h-5.1zM189.4 235.9h5.1v5.1h-5.1zM184.8 240.5h5.1v5.1h-5.1zM170.9 249.8h5.1v4.8h-5.1z" fill="#1a1a25" shape-rendering="crispEdges"/>
<path d="M249.6 198.8h5.1v5.1h-5.1zM231.1 212.7h5.1v5.1h-5.1zM217.2 222.0h5.1v5.1h-5.1zM203.3 231.2h5.1v5.1h-5.1zM189.4 240.5h5.1v5.1h-5.1z" fill="#201f2c" shape-rendering="crispEdges"/>
<path d="M254.2 198.8h5.6v5.1h-5.6zM240.3 208.1h5.1v5.1h-5.1zM226.4 217.3h5.1v5.1h-5.1zM194.1 240.5h5.1v5.1h-5.1zM180.2 249.8h5.1v4.8h-5.1z" fill="#232331" shape-rendering="crispEdges"/>
<path d="M244.9 203.4h5.1v5.1h-5.1zM212.6 226.6h5.1v5.1h-5.1zM198.7 235.9h5.1v5.1h-5.1zM184.8 245.1h5.1v5.1h-5.1z" fill="#21212e" shape-rendering="crispEdges"/>
<path d="M249.6 203.4h5.1v5.1h-5.1zM235.7 212.7h5.1v5.1h-5.1zM221.8 222.0h5.1v5.1h-5.1zM207.9 231.2h5.1v5.1h-5.1z" fill="#252533" shape-rendering="crispEdges"/>
<path d="M254.2 203.4h5.6v5.1h-5.6zM207.9 235.9h5.1v5.1h-5.1zM194.1 245.1h5.1v5.1h-5.1z" fill="#2c2c3d" shape-rendering="crispEdges"/>
<path d="M235.7 208.1h5.1v5.1h-5.1zM221.8 217.3h5.1v5.1h-5.1zM207.9 226.6h5.1v5.1h-5.1zM194.1 235.9h5.1v5.1h-5.1zM175.6 249.8h5.1v4.8h-5.1z" fill="#1e1e29" shape-rendering="crispEdges"/>
<path d="M244.9 208.1h5.1v5.1h-5.1zM231.1 217.3h5.1v5.1h-5.1zM198.7 240.5h5.1v5.1h-5.1zM184.8 249.8h5.1v4.8h-5.1z" fill="#282838" shape-rendering="crispEdges"/>
<path d="M249.6 208.1h5.1v5.1h-5.1zM235.7 217.3h5.1v5.1h-5.1zM221.8 226.6h5.1v5.1h-5.1z" fill="#2e2d3f" shape-rendering="crispEdges"/>
<path d="M254.2 208.1h5.6v5.1h-5.6zM207.9 240.5h5.1v5.1h-5.1zM194.1 249.8h5.1v4.8h-5.1z" fill="#36364b" shape-rendering="crispEdges"/>
<path d="M240.3 212.7h5.1v5.1h-5.1zM226.4 222.0h5.1v5.1h-5.1zM212.6 231.2h5.1v5.1h-5.1z" fill="#2a2a3a" shape-rendering="crispEdges"/>
<path d="M244.9 212.7h5.1v5.1h-5.1zM231.1 222.0h5.1v5.1h-5.1z" fill="#313144" shape-rendering="crispEdges"/>
<path d="M249.6 212.7h5.1v5.1h-5.1z" fill="#3a3a50" shape-rendering="crispEdges"/>
<path d="M254.2 212.7h5.6v5.1h-5.6zM240.3 222.0h5.1v5.1h-5.1z" fill="#42425d" shape-rendering="crispEdges"/>
<path d="M240.3 217.3h5.1v5.1h-5.1zM226.4 226.6h5.1v5.1h-5.1z" fill="#343449" shape-rendering="crispEdges"/>
<path d="M244.9 217.3h5.1v5.1h-5.1zM231.1 226.6h5.1v5.1h-5.1z" fill="#3d3d55" shape-rendering="crispEdges"/>
<path d="M249.6 217.3h5.1v5.1h-5.1z" fill="#484864" shape-rendering="crispEdges"/>
<path d="M254.2 217.3h5.6v5.1h-5.6z" fill="#545574" shape-rendering="crispEdges"/>
<path d="M235.7 222.0h5.1v5.1h-5.1zM221.8 231.2h5.1v5.1h-5.1z" fill="#38384e" shape-rendering="crispEdges"/>
<path d="M244.9 222.0h5.1v5.1h-5.1z" fill="#4d4d6b" shape-rendering="crispEdges"/>
<path d="M249.6 222.0h5.1v5.1h-5.1z" fill="#595c79" shape-rendering="crispEdges"/>
<path d="M254.2 222.0h5.6v5.1h-5.6z" fill="#676f87" shape-rendering="crispEdges"/>
<path d="M217.2 226.6h5.1v5.1h-5.1zM203.3 235.9h5.1v5.1h-5.1zM189.4 245.1h5.1v5.1h-5.1z" fill="#262636" shape-rendering="crispEdges"/>
<path d="M235.7 226.6h5.1v5.1h-5.1zM221.8 235.9h5.1v5.1h-5.1z" fill="#464661" shape-rendering="crispEdges"/>
<path d="M240.3 226.6h5.1v5.1h-5.1z" fill="#525372" shape-rendering="crispEdges"/>
<path d="M244.9 226.6h5.1v5.1h-5.1z" fill="#5e637e" shape-rendering="crispEdges"/>
<path d="M249.6 226.6h5.1v5.1h-5.1z" fill="#6c778c" shape-rendering="crispEdges"/>
<path d="M254.2 226.6h5.6v5.1h-5.6z" fill="#7c8c9c" shape-rendering="crispEdges"/>
<path d="M217.2 231.2h5.1v5.1h-5.1zM203.3 240.5h5.1v5.1h-5.1zM189.4 249.8h5.1v4.8h-5.1z" fill="#2f2f42" shape-rendering="crispEdges"/>
<path d="M226.4 231.2h5.1v5.1h-5.1zM212.6 240.5h5.1v5.1h-5.1z" fill="#41415a" shape-rendering="crispEdges"/>
<path d="M231.1 231.2h5.1v5.1h-5.1zM217.2 240.5h5.1v5.1h-5.1z" fill="#4b4b69" shape-rendering="crispEdges"/>
<path d="M235.7 231.2h5.1v5.1h-5.1z" fill="#575a77" shape-rendering="crispEdges"/>
<path d="M240.3 231.2h5.1v5.1h-5.1z" fill="#666d85" shape-rendering="crispEdges"/>
<path d="M244.9 231.2h5.1v5.1h-5.1z" fill="#738093" shape-rendering="crispEdges"/>
<path d="M249.6 231.2h5.1v5.1h-5.1zM235.7 240.5h5.1v5.1h-5.1z" fill="#8194a1" shape-rendering="crispEdges"/>
<path d="M254.2 231.2h5.6v5.1h-5.6zM240.3 240.5h5.1v5.1h-5.1z" fill="#8fa7af" shape-rendering="crispEdges"/>
<path d="M212.6 235.9h5.1v5.1h-5.1zM198.7 245.1h5.1v5.1h-5.1z" fill="#333347" shape-rendering="crispEdges"/>
<path d="M217.2 235.9h5.1v5.1h-5.1zM203.3 245.1h5.1v5.1h-5.1z" fill="#3c3b53" shape-rendering="crispEdges"/>
<path d="M226.4 235.9h5.1v5.1h-5.1z" fill="#505070" shape-rendering="crispEdges"/>
<path d="M231.1 235.9h5.1v5.1h-5.1zM217.2 245.1h5.1v5.1h-5.1z" fill="#5d617d" shape-rendering="crispEdges"/>
<path d="M235.7 235.9h5.1v5.1h-5.1zM221.8 245.1h5.1v5.1h-5.1z" fill="#6b748b" shape-rendering="crispEdges"/>
<path d="M240.3 235.9h5.1v5.1h-5.1z" fill="#7a8a9a" shape-rendering="crispEdges"/>
<path d="M244.9 235.9h5.1v5.1h-5.1z" fill="#889da8" shape-rendering="crispEdges"/>
<path d="M249.6 235.9h5.1v5.1h-5.1z" fill="#96b0b6" shape-rendering="crispEdges"/>
<path d="M254.2 235.9h5.6v5.1h-5.6zM240.3 245.1h5.1v5.1h-5.1zM249.6 245.1h5.1v5.1h-5.1z" fill="#9fbcbf" shape-rendering="crispEdges"/>
<path d="M221.8 240.5h5.1v5.1h-5.1zM207.9 249.8h5.1v4.8h-5.1z" fill="#565776" shape-rendering="crispEdges"/>
<path d="M226.4 240.5h5.1v5.1h-5.1z" fill="#646b84" shape-rendering="crispEdges"/>
<path d="M231.1 240.5h5.1v5.1h-5.1z" fill="#727e92" shape-rendering="crispEdges"/>
<path d="M244.9 240.5h5.1v5.1h-5.1zM231.1 249.8h5.1v4.8h-5.1z" fill="#9ab5ba" shape-rendering="crispEdges"/>
<path d="M249.6 240.5h5.1v5.1h-5.1zM254.2 240.5h5.6v5.1h-5.6zM244.9 245.1h5.1v5.1h-5.1zM240.3 249.8h5.1v4.8h-5.1z" fill="#a3c1c3" shape-rendering="crispEdges"/>
<path d="M207.9 245.1h5.1v5.1h-5.1z" fill="#44445f" shape-rendering="crispEdges"/>
<path d="M212.6 245.1h5.1v5.1h-5.1z" fill="#4f4f6e" shape-rendering="crispEdges"/>
<path d="M226.4 245.1h5.1v5.1h-5.1z" fill="#798799" shape-rendering="crispEdges"/>
<path d="M231.1 245.1h5.1v5.1h-5.1z" fill="#879ba7" shape-rendering="crispEdges"/>
<path d="M235.7 245.1h5.1v5.1h-5.1zM254.2 245.1h5.6v5.1h-5.6z" fill="#95aeb5" shape-rendering="crispEdges"/>
<path d="M198.7 249.8h5.1v4.8h-5.1z" fill="#3f3f58" shape-rendering="crispEdges"/>
<path d="M203.3 249.8h5.1v4.8h-5.1z" fill="#4a4966" shape-rendering="crispEdges"/>
<path d="M212.6 249.8h5.1v4.8h-5.1z" fill="#626882" shape-rendering="crispEdges"/>
<path d="M217.2 249.8h5.1v4.8h-5.1z" fill="#707b90" shape-rendering="crispEdges"/>
<path d="M221.8 249.8h5.1v4.8h-5.1z" fill="#8091a0" shape-rendering="crispEdges"/>
<path d="M226.4 249.8h5.1v4.8h-5.1z" fill="#8ea4ae" shape-rendering="crispEdges"/>
<path d="M235.7 249.8h5.1v4.8h-5.1z" fill="#a1bfc1" shape-rendering="crispEdges"/>
<path d="M244.9 249.8h5.1v4.8h-5.1z" fill="#9cb8bc" shape-rendering="crispEdges"/>
<path d="M249.6 249.8h5.1v4.8h-5.1z" fill="#91a9b1" shape-rendering="crispEdges"/>
<path d="M254.2 249.8h5.6v4.8h-5.6z" fill="#8ca2ac" shape-rendering="crispEdges"/>
<path d="M52.2 25.2h0M56.8 25.2h0M61.4 25.2h0M66.0 25.2h0M70.7 25.2h0M75.3 25.2h0M79.9 25.2h0M84.5 25.2h0M89.1 25.2h0M93.7 25.2h0M98.4 25.2h0M103.0 25.2h0M107.6 25.2h0M112.2 25.2h0M116.8 25.2h0M121.4 25.2h0M126.0 25.2h0M130.7 25.2h0M135.3 25.2h0M139.9 25.2h0M144.5 25.2h0M52.2 29.8h0M56.8 29.8h0M61.4 29.8h0M66.0 29.8h0M70.7 29.8h0M75.3 29.8h0M79.9 29.8h0M84.5 29.8h0M89.1 29.8h0M93.7 29.8h0M98.4 29.8h0M103.0 29.8h0M107.6 29.8h0M112.2 29.8h0M116.8 29.8h0M121.4 29.8h0M126.0 29.8h0M130.7 29.8h0M135.3 29.8h0M139.9 29.8h0M144.5 29.8h0M52.2 34.5h0M56.8 34.5h0M61.4 34.5h0M66.0 34.5h0M70.7 34.5h0M75.3 34.5h0M79.9 34.5h0M84.5 34.5h0M89.1 34.5h0M93.7 34.5h0M98.4 34.5h0M103.0 34.5h0M107.6 34.5h0M112.2 34.5h0M116.8 34.5h0M121.4 34.5h0M126.0 34.5h0M130.7 34.5h0M135.3 34.5h0M139.9 34.5h0M144.5 34.5h0M52.2 39.1h0M56.8 39.1h0M61.4 39.1h0M66.0 39.1h0M70.7 39.1h0M75.3 39.1h0M79.9 39.1h0M84.5 39.1h0M89.1 39.1h0M93.7 39.1h0M98.4 39.1h0M103.0 39.1h0M107.6 39.1h0M112.2 39.1h0M116.8 39.1h0M121.4 39.1h0M126.0 39.1h0M130.7 39.1h0M135.3 39.1h0M139.9 39.1h0M144.5 39.1h0M52.2 43.8h0M56.8 43.8h0M61.4 43.8h0M66.0 43.8h0M70.7 43.8h0M75.3 43.8h0M79.9 43.8h0M84.5 43.8h0M89.1 43.8h0M93.7 43.8h0M98.4 43.8h0M103.0 43.8h0M107.6 43.8h0M112.2 43.8h0M116.8 43.8h0M121.4 43.8h0M126.0 43.8h0M130.7 43.8h0M135.3 43.8h0M139.9 43.8h0M144.5 43.8h0M52.2 48.4h0M56.8 48.4h0M61.4 48.4h0M66.0 48.4h0M70.7 48.4h0M75.3 48.4h0M79.9 48.4h0M84.5 48.4h0M89.1 48.4h0M93.7 48.4h0M98.4 48.4h0M103.0 48.4h0M107.6 48.4h0M112.2 48.4h0M116.8 48.4h0M121.4 48.4h0M126.0 48.4h0M130.7 48.4h0M135.3 48.4h0M139.9 48.4h0M144.5 48.4h0M52.2 53.1h0M56.8 53.1h0M61.4 53.1h0M66.0 53.1h0M70.7 53.1h0M75.3 53.1h0M79.9 53.1h0M84.5 53.1h0M89.1 53.1h0M93.7 53.1h0M98.4 53.1h0M103.0 53.1h0M107.6 53.1h0M112.2 53.1h0M116.8 53.1h0M121.4 53.1h0M126.0 53.1h0M130.7 53.1h0M135.3 53.1h0M52.2 57.7h0M56.8 57.7h0M61.4 57.7h0M66.0 57.7h0M70.7 57.7h0M75.3 57.7h0M79.9 57.7h0M84.5 57.7h0M89.1 57.7h0M93.7 57.7h0M98.4 57.7h0M103.0 57.7h0M107.6 57.7h0M112.2 57.7h0M116.8 57.7h0M121.4 57.7h0M126.0 57.7h0M130.7 57.7h0M52.2 62.4h0M56.8 62.4h0M61.4 62.4h0M66.0 62.4h0M70.7 62.4h0M75.3 62.4h0M79.9 62.4h0M84.5 62.4h0M89.1 62.4h0M93.7 62.4h0M98.4 62.4h0M103.0 62.4h0M107.6 62.4h0M112.2 62.4h0M116.8 62.4h0M121.4 62.4h0M52.2 67.0h0M56.8 67.0h0M61.4 67.0h0M66.0 67.0h0M70.7 67.0h0M75.3 67.0h0M79.9 67.0h0M84.5 67.0h0M89.1 67.0h0M93.7 67.0h0M98.4 67.0h0M103.0 67.0h0M107.6 67.0h0M112.2 67.0h0M116.8 67.0h0M52.2 71.6h0M56.8 71.6h0M61.4 71.6h0M66.0 71.6h0M70.7 71.6h0M75.3 71.6h0M79.9 71.6h0M84.5 71.6h0M89.1 71.6h0M93.7 71.6h0M98.4 71.6h0M103.0 71.6h0M107.6 71.6h0M52.2 76.3h0M56.8 76.3h0M61.4 76.3h0M66.0 76.3h0M70.7 76.3h0M75.3 76.3h0M79.9 76.3h0M84.5 76.3h0M89.1 76.3h0M93.7 76.3h0M98.4 76.3h0M103.0 76.3h0M52.2 80.9h0M56.8 80.9h0M61.4 80.9h0M66.0 80.9h0M70.7 80.9h0M75.3 80.9h0M79.9 80.9h0M84.5 80.9h0M89.1 80.9h0M93.7 80.9h0M98.4 80.9h0M52.2 85.6h0M56.8 85.6h0M61.4 85.6h0M66.0 85.6h0M70.7 85.6h0M75.3 85.6h0M79.9 85.6h0M84.5 85.6h0M89.1 85.6h0M52.2 90.2h0M56.8 90.2h0M61.4 90.2h0M66.0 90.2h0M70.7 90.2h0M75.3 90.2h0M79.9 90.2h0M84.5 90.2h0M52.2 94.9h0M56.8 94.9h0M61.4 94.9h0M66.0 94.9h0M70.7 94.9h0M75.3 94.9h0M52.2 99.5h0M56.8 99.5h0M61.4 99.5h0M66.0 99.5h0M70.7 99.5h0M52.2 104.2h0M56.8 104.2h0M61.4 104.2h0M66.0 104.2h0M52.2 108.8h0M56.8 108.8h0M52.2 113.5h0" stroke="#808080" stroke-width="2.30" stroke-linecap="round" fill="none" stroke-opacity="0.07"/>
<path d="M126.0 62.4h0M130.7 62.4h0M121.4 67.0h0M126.0 67.0h0M130.7 67.0h0M135.3 67.0h0M112.2 71.6h0M116.8 71.6h0M121.4 71.6h0M126.0 71.6h0M130.7 71.6h0M135.3 71.6h0M139.9 71.6h0M107.6 76.3h0M112.2 76.3h0M116.8 76.3h0M121.4 76.3h0M126.0 76.3h0M130.7 76.3h0M135.3 76.3h0M139.9 76.3h0M144.5 76.3h0M103.0 80.9h0M107.6 80.9h0M112.2 80.9h0M116.8 80.9h0M121.4 80.9h0M126.0 80.9h0M130.7 80.9h0M135.3 80.9h0M139.9 80.9h0M144.5 80.9h0M93.7 85.6h0M98.4 85.6h0M103.0 85.6h0M107.6 85.6h0M112.2 85.6h0M116.8 85.6h0M121.4 85.6h0M126.0 85.6h0M130.7 85.6h0M135.3 85.6h0M139.9 85.6h0M144.5 85.6h0M89.1 90.2h0M93.7 90.2h0M98.4 90.2h0M103.0 90.2h0M107.6 90.2h0M112.2 90.2h0M116.8 90.2h0M121.4 90.2h0M126.0 90.2h0M130.7 90.2h0M135.3 90.2h0M139.9 90.2h0M144.5 90.2h0M79.9 94.9h0M84.5 94.9h0M89.1 94.9h0M93.7 94.9h0M98.4 94.9h0M103.0 94.9h0M107.6 94.9h0M112.2 94.9h0M116.8 94.9h0M121.4 94.9h0M126.0 94.9h0M130.7 94.9h0M135.3 94.9h0M139.9 94.9h0M144.5 94.9h0M75.3 99.5h0M79.9 99.5h0M84.5 99.5h0M89.1 99.5h0M93.7 99.5h0M98.4 99.5h0M103.0 99.5h0M107.6 99.5h0M112.2 99.5h0M116.8 99.5h0M121.4 99.5h0M126.0 99.5h0M130.7 99.5h0M135.3 99.5h0M139.9 99.5h0M144.5 99.5h0M70.7 104.2h0M75.3 104.2h0M79.9 104.2h0M84.5 104.2h0M89.1 104.2h0M93.7 104.2h0M98.4 104.2h0M103.0 104.2h0M107.6 104.2h0M112.2 104.2h0M116.8 104.2h0M121.4 104.2h0M126.0 104.2h0M130.7 104.2h0M135.3 104.2h0M139.9 104.2h0M61.4 108.8h0M66.0 108.8h0M70.7 108.8h0M75.3 108.8h0M79.9 108.8h0M84.5 108.8h0M89.1 108.8h0M93.7 108.8h0M98.4 108.8h0M103.0 108.8h0M107.6 108.8h0M112.2 108.8h0M116.8 108.8h0M121.4 108.8h0M126.0 108.8h0M130.7 108.8h0M75.3 113.5h0M84.5 113.5h0M89.1 113.5h0M93.7 113.5h0M98.4 113.5h0M103.0 113.5h0M107.6 113.5h0M112.2 113.5h0M116.8 113.5h0M121.4 113.5h0M126.0 113.5h0" stroke="#148a2c" stroke-width="2.30" stroke-linecap="round" fill="none" stroke-opacity="0.45"/>
<path d="M139.9 53.1h0M144.5 53.1h0M135.3 57.7h0M139.9 57.7h0M144.5 57.7h0M135.3 62.4h0M139.9 62.4h0M144.5 62.4h0M139.9 67.0h0M144.5 67.0h0M144.5 71.6h0M56.8 113.5h0M61.4 113.5h0M66.0 113.5h0M70.7 113.5h0M79.9 113.5h0M52.2 118.1h0M56.8 118.1h0M61.4 118.1h0M66.0 118.1h0M70.7 118.1h0M75.3 118.1h0M79.9 118.1h0M84.5 118.1h0M89.1 118.1h0M93.7 118.1h0M98.4 118.1h0M103.0 118.1h0M107.6 118.1h0M112.2 118.1h0M116.8 118.1h0M121.4 118.1h0" stroke="#e8141c" stroke-width="2.30" stroke-linecap="round" fill="none" stroke-opacity="0.92"/>
<path d="M144.5 104.2h0M135.3 108.8h0M139.9 108.8h0M144.5 108.8h0M130.7 113.5h0M135.3 113.5h0M139.9 113.5h0M144.5 113.5h0M126.0 118.1h0M130.7 118.1h0M135.3 118.1h0M139.9 118.1h0M144.5 118.1h0" stroke="#151515" stroke-width="2.30" stroke-linecap="round" fill="none" stroke-opacity="0.95"/>
<path d="M164.0 25.2h0M168.6 25.2h0M173.2 25.2h0M177.9 25.2h0M182.5 25.2h0M187.1 25.2h0M191.8 25.2h0M196.4 25.2h0M201.0 25.2h0M205.6 25.2h0M210.2 25.2h0M214.9 25.2h0M219.5 25.2h0M224.1 25.2h0M228.8 25.2h0M233.4 25.2h0M238.0 25.2h0M242.6 25.2h0M247.2 25.2h0M251.9 25.2h0M256.5 25.2h0M164.0 29.8h0M168.6 29.8h0M173.2 29.8h0M177.9 29.8h0M182.5 29.8h0M187.1 29.8h0M191.8 29.8h0M196.4 29.8h0M201.0 29.8h0M205.6 29.8h0M210.2 29.8h0M214.9 29.8h0M219.5 29.8h0M224.1 29.8h0M228.8 29.8h0M233.4 29.8h0M238.0 29.8h0M242.6 29.8h0M247.2 29.8h0M251.9 29.8h0M256.5 29.8h0M164.0 34.5h0M168.6 34.5h0M173.2 34.5h0M177.9 34.5h0M182.5 34.5h0M187.1 34.5h0M191.8 34.5h0M196.4 34.5h0M201.0 34.5h0M205.6 34.5h0M210.2 34.5h0M214.9 34.5h0M219.5 34.5h0M224.1 34.5h0M228.8 34.5h0M233.4 34.5h0M238.0 34.5h0M242.6 34.5h0M247.2 34.5h0M251.9 34.5h0M256.5 34.5h0M164.0 39.1h0M168.6 39.1h0M173.2 39.1h0M177.9 39.1h0M182.5 39.1h0M187.1 39.1h0M191.8 39.1h0M196.4 39.1h0M201.0 39.1h0M205.6 39.1h0M210.2 39.1h0M214.9 39.1h0M219.5 39.1h0M224.1 39.1h0M228.8 39.1h0M233.4 39.1h0M238.0 39.1h0M242.6 39.1h0M247.2 39.1h0M251.9 39.1h0M256.5 39.1h0M164.0 43.8h0M168.6 43.8h0M173.2 43.8h0M177.9 43.8h0M182.5 43.8h0M187.1 43.8h0M191.8 43.8h0M196.4 43.8h0M201.0 43.8h0M205.6 43.8h0M210.2 43.8h0M214.9 43.8h0M219.5 43.8h0M224.1 43.8h0M228.8 43.8h0M233.4 43.8h0M238.0 43.8h0M242.6 43.8h0M247.2 43.8h0M251.9 43.8h0M256.5 43.8h0M164.0 48.4h0M168.6 48.4h0M173.2 48.4h0M177.9 48.4h0M182.5 48.4h0M187.1 48.4h0M191.8 48.4h0M196.4 48.4h0M201.0 48.4h0M205.6 48.4h0M210.2 48.4h0M214.9 48.4h0M219.5 48.4h0M224.1 48.4h0M228.8 48.4h0M233.4 48.4h0M238.0 48.4h0M242.6 48.4h0M247.2 48.4h0M251.9 48.4h0M256.5 48.4h0M164.0 53.1h0M168.6 53.1h0M173.2 53.1h0M177.9 53.1h0M182.5 53.1h0M187.1 53.1h0M191.8 53.1h0M196.4 53.1h0M201.0 53.1h0M205.6 53.1h0M210.2 53.1h0M214.9 53.1h0M219.5 53.1h0M224.1 53.1h0M228.8 53.1h0M233.4 53.1h0M238.0 53.1h0M242.6 53.1h0M247.2 53.1h0M251.9 53.1h0M164.0 57.7h0M168.6 57.7h0M173.2 57.7h0M177.9 57.7h0M182.5 57.7h0M187.1 57.7h0M191.8 57.7h0M196.4 57.7h0M201.0 57.7h0M205.6 57.7h0M210.2 57.7h0M214.9 57.7h0M219.5 57.7h0M224.1 57.7h0M228.8 57.7h0M233.4 57.7h0M238.0 57.7h0M242.6 57.7h0M164.0 62.4h0M168.6 62.4h0M173.2 62.4h0M177.9 62.4h0M182.5 62.4h0M187.1 62.4h0M191.8 62.4h0M196.4 62.4h0M201.0 62.4h0M205.6 62.4h0M210.2 62.4h0M214.9 62.4h0M219.5 62.4h0M224.1 62.4h0M228.8 62.4h0M233.4 62.4h0M238.0 62.4h0M164.0 67.0h0M168.6 67.0h0M173.2 67.0h0M177.9 67.0h0M182.5 67.0h0M187.1 67.0h0M191.8 67.0h0M196.4 67.0h0M201.0 67.0h0M205.6 67.0h0M210.2 67.0h0M214.9 67.0h0M219.5 67.0h0M224.1 67.0h0M228.8 67.0h0M164.0 71.6h0M168.6 71.6h0M173.2 71.6h0M177.9 71.6h0M182.5 71.6h0M187.1 71.6h0M191.8 71.6h0M196.4 71.6h0M201.0 71.6h0M205.6 71.6h0M210.2 71.6h0M214.9 71.6h0M219.5 71.6h0M224.1 71.6h0M164.0 76.3h0M168.6 76.3h0M173.2 76.3h0M177.9 76.3h0M182.5 76.3h0M187.1 76.3h0M191.8 76.3h0M196.4 76.3h0M201.0 76.3h0M205.6 76.3h0M210.2 76.3h0M214.9 76.3h0M164.0 80.9h0M168.6 80.9h0M173.2 80.9h0M177.9 80.9h0M182.5 80.9h0M187.1 80.9h0M191.8 80.9h0M196.4 80.9h0M201.0 80.9h0M205.6 80.9h0M210.2 80.9h0M164.0 85.6h0M168.6 85.6h0M173.2 85.6h0M177.9 85.6h0M182.5 85.6h0M187.1 85.6h0M191.8 85.6h0M196.4 85.6h0M201.0 85.6h0M205.6 85.6h0M164.0 90.2h0M168.6 90.2h0M173.2 90.2h0M177.9 90.2h0M182.5 90.2h0M187.1 90.2h0M191.8 90.2h0M196.4 90.2h0M164.0 94.9h0M168.6 94.9h0M173.2 94.9h0M177.9 94.9h0M182.5 94.9h0M187.1 94.9h0M191.8 94.9h0M164.0 99.5h0M168.6 99.5h0M173.2 99.5h0M177.9 99.5h0M182.5 99.5h0M164.0 104.2h0M168.6 104.2h0M173.2 104.2h0M177.9 104.2h0M164.0 108.8h0M168.6 108.8h0M173.2 108.8h0M164.0 113.5h0M168.6 113.5h0M164.0 118.1h0" stroke="#808080" stroke-width="2.30" stroke-linecap="round" fill="none" stroke-opacity="0.07"/>
<path d="M233.4 67.0h0M238.0 67.0h0M242.6 67.0h0M228.8 71.6h0M233.4 71.6h0M238.0 71.6h0M242.6 71.6h0M247.2 71.6h0M219.5 76.3h0M224.1 76.3h0M228.8 76.3h0M233.4 76.3h0M238.0 76.3h0M242.6 76.3h0M247.2 76.3h0M251.9 76.3h0M214.9 80.9h0M219.5 80.9h0M224.1 80.9h0M228.8 80.9h0M233.4 80.9h0M238.0 80.9h0M242.6 80.9h0M247.2 80.9h0M251.9 80.9h0M210.2 85.6h0M214.9 85.6h0M219.5 85.6h0M224.1 85.6h0M228.8 85.6h0M233.4 85.6h0M238.0 85.6h0M242.6 85.6h0M247.2 85.6h0M251.9 85.6h0M256.5 85.6h0M201.0 90.2h0M205.6 90.2h0M210.2 90.2h0M214.9 90.2h0M219.5 90.2h0M224.1 90.2h0M228.8 90.2h0M233.4 90.2h0M238.0 90.2h0M242.6 90.2h0M247.2 90.2h0M251.9 90.2h0M256.5 90.2h0M196.4 94.9h0M201.0 94.9h0M205.6 94.9h0M210.2 94.9h0M214.9 94.9h0M219.5 94.9h0M224.1 94.9h0M228.8 94.9h0M233.4 94.9h0M238.0 94.9h0M242.6 94.9h0M247.2 94.9h0M251.9 94.9h0M256.5 94.9h0M187.1 99.5h0M191.8 99.5h0M196.4 99.5h0M201.0 99.5h0M205.6 99.5h0M210.2 99.5h0M214.9 99.5h0M219.5 99.5h0M224.1 99.5h0M228.8 99.5h0M233.4 99.5h0M238.0 99.5h0M242.6 99.5h0M247.2 99.5h0M251.9 99.5h0M256.5 99.5h0M182.5 104.2h0M187.1 104.2h0M191.8 104.2h0M196.4 104.2h0M201.0 104.2h0M205.6 104.2h0M210.2 104.2h0M214.9 104.2h0M219.5 104.2h0M224.1 104.2h0M228.8 104.2h0M233.4 104.2h0M238.0 104.2h0M242.6 104.2h0M247.2 104.2h0M251.9 104.2h0M256.5 104.2h0M177.9 108.8h0M182.5 108.8h0M187.1 108.8h0M191.8 108.8h0M196.4 108.8h0M201.0 108.8h0M205.6 108.8h0M210.2 108.8h0M214.9 108.8h0M219.5 108.8h0M224.1 108.8h0M228.8 108.8h0M233.4 108.8h0M238.0 108.8h0M242.6 108.8h0M247.2 108.8h0M251.9 108.8h0M177.9 113.5h0M182.5 113.5h0M210.2 113.5h0M214.9 113.5h0M219.5 113.5h0M224.1 113.5h0M228.8 113.5h0M233.4 113.5h0M238.0 113.5h0" stroke="#148a2c" stroke-width="2.30" stroke-linecap="round" fill="none" stroke-opacity="0.45"/>
<path d="M256.5 53.1h0M247.2 57.7h0M251.9 57.7h0M256.5 57.7h0M242.6 62.4h0M247.2 62.4h0M251.9 62.4h0M256.5 62.4h0M247.2 67.0h0M251.9 67.0h0M256.5 67.0h0M251.9 71.6h0M256.5 71.6h0M256.5 76.3h0M256.5 80.9h0M173.2 113.5h0M187.1 113.5h0M191.8 113.5h0M196.4 113.5h0M201.0 113.5h0M205.6 113.5h0M168.6 118.1h0M173.2 118.1h0M177.9 118.1h0M182.5 118.1h0M187.1 118.1h0M191.8 118.1h0M196.4 118.1h0M201.0 118.1h0M205.6 118.1h0M210.2 118.1h0M214.9 118.1h0M219.5 118.1h0M224.1 118.1h0M228.8 118.1h0M233.4 118.1h0M238.0 118.1h0" stroke="#e8141c" stroke-width="2.30" stroke-linecap="round" fill="none" stroke-opacity="0.92"/>
<path d="M256.5 108.8h0M242.6 113.5h0M247.2 113.5h0M251.9 113.5h0M256.5 113.5h0M242.6 118.1h0M247.2 118.1h0M251.9 118.1h0M256.5 118.1h0" stroke="#151515" stroke-width="2.30" stroke-linecap="round" fill="none" stroke-opacity="0.95"/>
<path d="M52.2 159.4h0M56.8 159.4h0M61.4 159.4h0M66.0 159.4h0M70.7 159.4h0M75.3 159.4h0M79.9 159.4h0M84.5 159.4h0M89.1 159.4h0M93.7 159.4h0M98.4 159.4h0M103.0 159.4h0M107.6 159.4h0M112.2 159.4h0M116.8 159.4h0M121.4 159.4h0M126.0 159.4h0M130.7 159.4h0M135.3 159.4h0M139.9 159.4h0M144.5 159.4h0M52.2 164.0h0M56.8 164.0h0M61.4 164.0h0M66.0 164.0h0M70.7 164.0h0M75.3 164.0h0M79.9 164.0h0M84.5 164.0h0M89.1 164.0h0M93.7 164.0h0M98.4 164.0h0M103.0 164.0h0M107.6 164.0h0M112.2 164.0h0M116.8 164.0h0M121.4 164.0h0M126.0 164.0h0M130.7 164.0h0M135.3 164.0h0M139.9 164.0h0M144.5 164.0h0M52.2 168.7h0M56.8 168.7h0M61.4 168.7h0M66.0 168.7h0M70.7 168.7h0M75.3 168.7h0M79.9 168.7h0M84.5 168.7h0M89.1 168.7h0M93.7 168.7h0M98.4 168.7h0M103.0 168.7h0M107.6 168.7h0M112.2 168.7h0M116.8 168.7h0M121.4 168.7h0M126.0 168.7h0M130.7 168.7h0M135.3 168.7h0M139.9 168.7h0M144.5 168.7h0M52.2 173.3h0M56.8 173.3h0M61.4 173.3h0M66.0 173.3h0M70.7 173.3h0M75.3 173.3h0M79.9 173.3h0M84.5 173.3h0M89.1 173.3h0M93.7 173.3h0M98.4 173.3h0M103.0 173.3h0M107.6 173.3h0M112.2 173.3h0M116.8 173.3h0M121.4 173.3h0M126.0 173.3h0M130.7 173.3h0M135.3 173.3h0M139.9 173.3h0M144.5 173.3h0M52.2 177.9h0M56.8 177.9h0M61.4 177.9h0M66.0 177.9h0M70.7 177.9h0M75.3 177.9h0M79.9 177.9h0M84.5 177.9h0M89.1 177.9h0M93.7 177.9h0M98.4 177.9h0M103.0 177.9h0M107.6 177.9h0M112.2 177.9h0M116.8 177.9h0M121.4 177.9h0M126.0 177.9h0M130.7 177.9h0M135.3 177.9h0M139.9 177.9h0M144.5 177.9h0M52.2 182.6h0M56.8 182.6h0M61.4 182.6h0M66.0 182.6h0M70.7 182.6h0M75.3 182.6h0M79.9 182.6h0M84.5 182.6h0M89.1 182.6h0M93.7 182.6h0M98.4 182.6h0M103.0 182.6h0M107.6 182.6h0M112.2 182.6h0M116.8 182.6h0M121.4 182.6h0M126.0 182.6h0M130.7 182.6h0M135.3 182.6h0M139.9 182.6h0M144.5 182.6h0M52.2 187.2h0M56.8 187.2h0M61.4 187.2h0M66.0 187.2h0M70.7 187.2h0M75.3 187.2h0M79.9 187.2h0M84.5 187.2h0M89.1 187.2h0M93.7 187.2h0M98.4 187.2h0M103.0 187.2h0M107.6 187.2h0M112.2 187.2h0M116.8 187.2h0M121.4 187.2h0M126.0 187.2h0M130.7 187.2h0M135.3 187.2h0M139.9 187.2h0M144.5 187.2h0M52.2 191.8h0M56.8 191.8h0M61.4 191.8h0M66.0 191.8h0M70.7 191.8h0M75.3 191.8h0M79.9 191.8h0M84.5 191.8h0M89.1 191.8h0M93.7 191.8h0M98.4 191.8h0M103.0 191.8h0M107.6 191.8h0M112.2 191.8h0M116.8 191.8h0M121.4 191.8h0M126.0 191.8h0M130.7 191.8h0M135.3 191.8h0M139.9 191.8h0M52.2 196.5h0M56.8 196.5h0M61.4 196.5h0M66.0 196.5h0M70.7 196.5h0M75.3 196.5h0M79.9 196.5h0M84.5 196.5h0M89.1 196.5h0M93.7 196.5h0M98.4 196.5h0M103.0 196.5h0M107.6 196.5h0M112.2 196.5h0M116.8 196.5h0M121.4 196.5h0M126.0 196.5h0M130.7 196.5h0M52.2 201.1h0M56.8 201.1h0M61.4 201.1h0M66.0 201.1h0M70.7 201.1h0M75.3 201.1h0M79.9 201.1h0M84.5 201.1h0M89.1 201.1h0M93.7 201.1h0M98.4 201.1h0M103.0 201.1h0M107.6 201.1h0M112.2 201.1h0M116.8 201.1h0M121.4 201.1h0M126.0 201.1h0M52.2 205.8h0M56.8 205.8h0M61.4 205.8h0M66.0 205.8h0M70.7 205.8h0M75.3 205.8h0M79.9 205.8h0M84.5 205.8h0M89.1 205.8h0M93.7 205.8h0M98.4 205.8h0M103.0 205.8h0M107.6 205.8h0M112.2 205.8h0M116.8 205.8h0M52.2 210.4h0M56.8 210.4h0M61.4 210.4h0M66.0 210.4h0M70.7 210.4h0M75.3 210.4h0M79.9 210.4h0M84.5 210.4h0M89.1 210.4h0M93.7 210.4h0M98.4 210.4h0M103.0 210.4h0M107.6 210.4h0M112.2 210.4h0M52.2 215.0h0M56.8 215.0h0M61.4 215.0h0M66.0 215.0h0M70.7 215.0h0M75.3 215.0h0M79.9 215.0h0M84.5 215.0h0M89.1 215.0h0M93.7 215.0h0M98.4 215.0h0M103.0 215.0h0M52.2 219.7h0M56.8 219.7h0M61.4 219.7h0M66.0 219.7h0M70.7 219.7h0M75.3 219.7h0M79.9 219.7h0M84.5 219.7h0M89.1 219.7h0M93.7 219.7h0M98.4 219.7h0M52.2 224.3h0M56.8 224.3h0M61.4 224.3h0M66.0 224.3h0M70.7 224.3h0M75.3 224.3h0M79.9 224.3h0M84.5 224.3h0M89.1 224.3h0M93.7 224.3h0M52.2 228.9h0M56.8 228.9h0M61.4 228.9h0M66.0 228.9h0M70.7 228.9h0M75.3 228.9h0M79.9 228.9h0M84.5 228.9h0M52.2 233.6h0M56.8 233.6h0M61.4 233.6h0M66.0 233.6h0M70.7 233.6h0M75.3 233.6h0M79.9 233.6h0M52.2 238.2h0M56.8 238.2h0M61.4 238.2h0M66.0 238.2h0M70.7 238.2h0M75.3 238.2h0M52.2 242.8h0M56.8 242.8h0M61.4 242.8h0M66.0 242.8h0M70.7 242.8h0M52.2 247.5h0M56.8 247.5h0M61.4 247.5h0M66.0 247.5h0M52.2 252.1h0M56.8 252.1h0M61.4 252.1h0" stroke="#808080" stroke-width="2.30" stroke-linecap="round" fill="none" stroke-opacity="0.07"/>
<path d="M130.7 201.1h0M121.4 205.8h0M126.0 205.8h0M130.7 205.8h0M135.3 205.8h0M116.8 210.4h0M121.4 210.4h0M126.0 210.4h0M130.7 210.4h0M135.3 210.4h0M139.9 210.4h0M107.6 215.0h0M112.2 215.0h0M116.8 215.0h0M121.4 215.0h0M126.0 215.0h0M130.7 215.0h0M135.3 215.0h0M139.9 215.0h0M103.0 219.7h0M107.6 219.7h0M112.2 219.7h0M116.8 219.7h0M121.4 219.7h0M126.0 219.7h0M130.7 219.7h0M135.3 219.7h0M139.9 219.7h0M144.5 219.7h0M98.4 224.3h0M103.0 224.3h0M107.6 224.3h0M112.2 224.3h0M116.8 224.3h0M121.4 224.3h0M126.0 224.3h0M130.7 224.3h0M135.3 224.3h0M139.9 224.3h0M144.5 224.3h0M89.1 228.9h0M93.7 228.9h0M98.4 228.9h0M103.0 228.9h0M107.6 228.9h0M112.2 228.9h0M116.8 228.9h0M121.4 228.9h0M126.0 228.9h0M130.7 228.9h0M135.3 228.9h0M139.9 228.9h0M144.5 228.9h0M84.5 233.6h0M89.1 233.6h0M93.7 233.6h0M98.4 233.6h0M103.0 233.6h0M107.6 233.6h0M112.2 233.6h0M116.8 233.6h0M121.4 233.6h0M126.0 233.6h0M130.7 233.6h0M135.3 233.6h0M139.9 233.6h0M144.5 233.6h0M79.9 238.2h0M84.5 238.2h0M89.1 238.2h0M93.7 238.2h0M98.4 238.2h0M103.0 238.2h0M107.6 238.2h0M112.2 238.2h0M116.8 238.2h0M121.4 238.2h0M126.0 238.2h0M130.7 238.2h0M135.3 238.2h0M139.9 238.2h0M144.5 238.2h0M75.3 242.8h0M79.9 242.8h0M84.5 242.8h0M89.1 242.8h0M93.7 242.8h0M98.4 242.8h0M103.0 242.8h0M107.6 242.8h0M112.2 242.8h0M116.8 242.8h0M121.4 242.8h0M126.0 242.8h0M130.7 242.8h0M135.3 242.8h0M139.9 242.8h0M144.5 242.8h0M70.7 247.5h0M75.3 247.5h0M79.9 247.5h0M84.5 247.5h0M89.1 247.5h0M93.7 247.5h0M98.4 247.5h0M103.0 247.5h0M107.6 247.5h0M112.2 247.5h0M116.8 247.5h0M121.4 247.5h0M126.0 247.5h0M130.7 247.5h0M135.3 247.5h0M139.9 247.5h0M144.5 247.5h0M112.2 252.1h0M116.8 252.1h0M121.4 252.1h0M126.0 252.1h0M130.7 252.1h0M135.3 252.1h0M139.9 252.1h0M144.5 252.1h0" stroke="#148a2c" stroke-width="2.30" stroke-linecap="round" fill="none" stroke-opacity="0.45"/>
<path d="M144.5 191.8h0M135.3 196.5h0M139.9 196.5h0M144.5 196.5h0M135.3 201.1h0M139.9 201.1h0M144.5 201.1h0M139.9 205.8h0M144.5 205.8h0M144.5 210.4h0M144.5 215.0h0M66.0 252.1h0M70.7 252.1h0M75.3 252.1h0M79.9 252.1h0M84.5 252.1h0M89.1 252.1h0M93.7 252.1h0M98.4 252.1h0M103.0 252.1h0M107.6 252.1h0" stroke="#e8141c" stroke-width="2.30" stroke-linecap="round" fill="none" stroke-opacity="0.92"/>
<path d="M164.0 159.4h0M168.6 159.4h0M173.2 159.4h0M177.9 159.4h0M182.5 159.4h0M187.1 159.4h0M191.8 159.4h0M196.4 159.4h0M201.0 159.4h0M205.6 159.4h0M210.2 159.4h0M214.9 159.4h0M219.5 159.4h0M224.1 159.4h0M228.8 159.4h0M233.4 159.4h0M238.0 159.4h0M242.6 159.4h0M247.2 159.4h0M251.9 159.4h0M256.5 159.4h0M164.0 164.0h0M168.6 164.0h0M173.2 164.0h0M177.9 164.0h0M182.5 164.0h0M187.1 164.0h0M191.8 164.0h0M196.4 164.0h0M201.0 164.0h0M205.6 164.0h0M210.2 164.0h0M214.9 164.0h0M219.5 164.0h0M224.1 164.0h0M228.8 164.0h0M233.4 164.0h0M238.0 164.0h0M242.6 164.0h0M247.2 164.0h0M251.9 164.0h0M256.5 164.0h0M164.0 168.7h0M168.6 168.7h0M173.2 168.7h0M177.9 168.7h0M182.5 168.7h0M187.1 168.7h0M191.8 168.7h0M196.4 168.7h0M201.0 168.7h0M205.6 168.7h0M210.2 168.7h0M214.9 168.7h0M219.5 168.7h0M224.1 168.7h0M228.8 168.7h0M233.4 168.7h0M238.0 168.7h0M242.6 168.7h0M247.2 168.7h0M251.9 168.7h0M256.5 168.7h0M164.0 173.3h0M168.6 173.3h0M173.2 173.3h0M177.9 173.3h0M182.5 173.3h0M187.1 173.3h0M191.8 173.3h0M196.4 173.3h0M201.0 173.3h0M205.6 173.3h0M210.2 173.3h0M214.9 173.3h0M219.5 173.3h0M224.1 173.3h0M228.8 173.3h0M233.4 173.3h0M238.0 173.3h0M242.6 173.3h0M247.2 173.3h0M251.9 173.3h0M256.5 173.3h0M164.0 177.9h0M168.6 177.9h0M173.2 177.9h0M177.9 177.9h0M182.5 177.9h0M187.1 177.9h0M191.8 177.9h0M196.4 177.9h0M201.0 177.9h0M205.6 177.9h0M210.2 177.9h0M214.9 177.9h0M219.5 177.9h0M224.1 177.9h0M228.8 177.9h0M233.4 177.9h0M238.0 177.9h0M242.6 177.9h0M247.2 177.9h0M251.9 177.9h0M256.5 177.9h0M164.0 182.6h0M168.6 182.6h0M173.2 182.6h0M177.9 182.6h0M182.5 182.6h0M187.1 182.6h0M191.8 182.6h0M196.4 182.6h0M201.0 182.6h0M205.6 182.6h0M210.2 182.6h0M214.9 182.6h0M219.5 182.6h0M224.1 182.6h0M228.8 182.6h0M233.4 182.6h0M238.0 182.6h0M242.6 182.6h0M247.2 182.6h0M251.9 182.6h0M256.5 182.6h0M164.0 187.2h0M168.6 187.2h0M173.2 187.2h0M177.9 187.2h0M182.5 187.2h0M187.1 187.2h0M191.8 187.2h0M196.4 187.2h0M201.0 187.2h0M205.6 187.2h0M210.2 187.2h0M214.9 187.2h0M219.5 187.2h0M224.1 187.2h0M228.8 187.2h0M233.4 187.2h0M238.0 187.2h0M242.6 187.2h0M247.2 187.2h0M251.9 187.2h0M256.5 187.2h0M164.0 191.8h0M168.6 191.8h0M173.2 191.8h0M177.9 191.8h0M182.5 191.8h0M187.1 191.8h0M191.8 191.8h0M196.4 191.8h0M201.0 191.8h0M205.6 191.8h0M210.2 191.8h0M214.9 191.8h0M219.5 191.8h0M224.1 191.8h0M228.8 191.8h0M233.4 191.8h0M238.0 191.8h0M242.6 191.8h0M247.2 191.8h0M251.9 191.8h0M256.5 191.8h0M164.0 196.5h0M168.6 196.5h0M173.2 196.5h0M177.9 196.5h0M182.5 196.5h0M187.1 196.5h0M191.8 196.5h0M196.4 196.5h0M201.0 196.5h0M205.6 196.5h0M210.2 196.5h0M214.9 196.5h0M219.5 196.5h0M224.1 196.5h0M228.8 196.5h0M233.4 196.5h0M238.0 196.5h0M242.6 196.5h0M247.2 196.5h0M251.9 196.5h0M256.5 196.5h0M164.0 201.1h0M168.6 201.1h0M173.2 201.1h0M177.9 201.1h0M182.5 201.1h0M187.1 201.1h0M191.8 201.1h0M196.4 201.1h0M201.0 201.1h0M205.6 201.1h0M210.2 201.1h0M214.9 201.1h0M219.5 201.1h0M224.1 201.1h0M228.8 201.1h0M233.4 201.1h0M238.0 201.1h0M242.6 201.1h0M247.2 201.1h0M251.9 201.1h0M164.0 205.8h0M168.6 205.8h0M173.2 205.8h0M177.9 205.8h0M182.5 205.8h0M187.1 205.8h0M191.8 205.8h0M196.4 205.8h0M201.0 205.8h0M205.6 205.8h0M210.2 205.8h0M214.9 205.8h0M219.5 205.8h0M224.1 205.8h0M228.8 205.8h0M233.4 205.8h0M238.0 205.8h0M242.6 205.8h0M247.2 205.8h0M164.0 210.4h0M168.6 210.4h0M173.2 210.4h0M177.9 210.4h0M182.5 210.4h0M187.1 210.4h0M191.8 210.4h0M196.4 210.4h0M201.0 210.4h0M205.6 210.4h0M210.2 210.4h0M214.9 210.4h0M219.5 210.4h0M224.1 210.4h0M228.8 210.4h0M233.4 210.4h0M238.0 210.4h0M164.0 215.0h0M168.6 215.0h0M173.2 215.0h0M177.9 215.0h0M182.5 215.0h0M187.1 215.0h0M191.8 215.0h0M196.4 215.0h0M201.0 215.0h0M205.6 215.0h0M210.2 215.0h0M214.9 215.0h0M219.5 215.0h0M224.1 215.0h0M228.8 215.0h0M233.4 215.0h0M164.0 219.7h0M168.6 219.7h0M173.2 219.7h0M177.9 219.7h0M182.5 219.7h0M187.1 219.7h0M191.8 219.7h0M196.4 219.7h0M201.0 219.7h0M205.6 219.7h0M210.2 219.7h0M214.9 219.7h0M219.5 219.7h0M224.1 219.7h0M164.0 224.3h0M168.6 224.3h0M173.2 224.3h0M177.9 224.3h0M182.5 224.3h0M187.1 224.3h0M191.8 224.3h0M196.4 224.3h0M201.0 224.3h0M205.6 224.3h0M210.2 224.3h0M214.9 224.3h0M219.5 224.3h0M164.0 228.9h0M168.6 228.9h0M173.2 228.9h0M177.9 228.9h0M182.5 228.9h0M187.1 228.9h0M191.8 228.9h0M196.4 228.9h0M201.0 228.9h0M205.6 228.9h0M210.2 228.9h0M214.9 228.9h0M164.0 233.6h0M168.6 233.6h0M173.2 233.6h0M177.9 233.6h0M182.5 233.6h0M187.1 233.6h0M191.8 233.6h0M196.4 233.6h0M201.0 233.6h0M205.6 233.6h0M164.0 238.2h0M168.6 238.2h0M173.2 238.2h0M177.9 238.2h0M182.5 238.2h0M187.1 238.2h0M191.8 238.2h0M196.4 238.2h0M201.0 238.2h0M164.0 242.8h0M168.6 242.8h0M173.2 242.8h0M177.9 242.8h0M182.5 242.8h0M187.1 242.8h0M191.8 242.8h0M196.4 242.8h0M164.0 247.5h0M168.6 247.5h0M173.2 247.5h0M177.9 247.5h0M182.5 247.5h0M187.1 247.5h0M191.8 247.5h0M196.4 247.5h0M164.0 252.1h0M168.6 252.1h0M173.2 252.1h0M177.9 252.1h0M182.5 252.1h0M187.1 252.1h0M191.8 252.1h0" stroke="#808080" stroke-width="2.30" stroke-linecap="round" fill="none" stroke-opacity="0.07"/>
<path d="M251.9 205.8h0M242.6 210.4h0M247.2 210.4h0M251.9 210.4h0M256.5 210.4h0M238.0 215.0h0M242.6 215.0h0M247.2 215.0h0M251.9 215.0h0M256.5 215.0h0M228.8 219.7h0M233.4 219.7h0M238.0 219.7h0M242.6 219.7h0M247.2 219.7h0M251.9 219.7h0M256.5 219.7h0M224.1 224.3h0M228.8 224.3h0M233.4 224.3h0M238.0 224.3h0M242.6 224.3h0M247.2 224.3h0M251.9 224.3h0M256.5 224.3h0M219.5 228.9h0M224.1 228.9h0M228.8 228.9h0M233.4 228.9h0M238.0 228.9h0M242.6 228.9h0M247.2 228.9h0M251.9 228.9h0M256.5 228.9h0M210.2 233.6h0M214.9 233.6h0M219.5 233.6h0M224.1 233.6h0M228.8 233.6h0M233.4 233.6h0M238.0 233.6h0M242.6 233.6h0M247.2 233.6h0M256.5 233.6h0M205.6 238.2h0M210.2 238.2h0M214.9 238.2h0M219.5 238.2h0M224.1 238.2h0M228.8 238.2h0M233.4 238.2h0M201.0 242.8h0M205.6 242.8h0M210.2 242.8h0M214.9 242.8h0M219.5 242.8h0M224.1 242.8h0M228.8 242.8h0M201.0 247.5h0M205.6 247.5h0M210.2 247.5h0M214.9 247.5h0M219.5 247.5h0M224.1 247.5h0M196.4 252.1h0M201.0 252.1h0M205.6 252.1h0M210.2 252.1h0M214.9 252.1h0M219.5 252.1h0M224.1 252.1h0" stroke="#148a2c" stroke-width="2.30" stroke-linecap="round" fill="none" stroke-opacity="0.45"/>
<path d="M256.5 201.1h0M256.5 205.8h0" stroke="#e8141c" stroke-width="2.30" stroke-linecap="round" fill="none" stroke-opacity="0.92"/>
<path d="M251.9 233.6h0M238.0 238.2h0M242.6 238.2h0M247.2 238.2h0M251.9 238.2h0M256.5 238.2h0M233.4 242.8h0M238.0 242.8h0M242.6 242.8h0M247.2 242.8h0M251.9 242.8h0M256.5 242.8h0M228.8 247.5h0M233.4 247.5h0M238.0 247.5h0M242.6 247.5h0M247.2 247.5h0M251.9 247.5h0M256.5 247.5h0M228.8 252.1h0M233.4 252.1h0M238.0 252.1h0M242.6 252.1h0M247.2 252.1h0M251.9 252.1h0M256.5 252.1h0" stroke="#1e1ef0" stroke-width="2.30" stroke-linecap="round" fill="none" stroke-opacity="0.95"/>
<rect x="49.20" y="22.20" width="98.60" height="98.40" fill="none" stroke="#000" stroke-width="1.10"/>
<rect x="161.00" y="22.20" width="98.80" height="98.40" fill="none" stroke="#000" stroke-width="1.10"/>
<rect x="49.20" y="156.40" width="98.60" height="98.20" fill="none" stroke="#000" stroke-width="1.10"/>
<rect x="161.00" y="156.40" width="98.80" height="98.20" fill="none" stroke="#000" stroke-width="1.10"/>
<line x1="49.20" y1="254.60" x2="49.20" y2="259.10" stroke="#000" stroke-width="1.00" stroke-linecap="butt"/>
<line x1="98.50" y1="254.60" x2="98.50" y2="259.10" stroke="#000" stroke-width="1.00" stroke-linecap="butt"/>
<line x1="147.80" y1="254.60" x2="147.80" y2="259.10" stroke="#000" stroke-width="1.00" stroke-linecap="butt"/>
<text transform="translate(40.22 276.60) scale(1.186 1)" font-family="Liberation Serif" font-size="16.50" fill="#000" xml:space="preserve">−</text>
<text x="51.83" y="276.60" font-family="Liberation Serif" font-size="16.50" fill="#000" xml:space="preserve">4</text>
<text x="93.97" y="276.60" font-family="Liberation Serif" font-size="16.50" fill="#000" xml:space="preserve">0</text>
<text x="142.93" y="276.60" font-family="Liberation Serif" font-size="16.50" fill="#000" xml:space="preserve">4</text>
<line x1="44.40" y1="156.40" x2="49.20" y2="156.40" stroke="#000" stroke-width="1.00" stroke-linecap="butt"/>
<line x1="44.40" y1="205.50" x2="49.20" y2="205.50" stroke="#000" stroke-width="1.00" stroke-linecap="butt"/>
<line x1="44.40" y1="254.60" x2="49.20" y2="254.60" stroke="#000" stroke-width="1.00" stroke-linecap="butt"/>
<text x="22.16" y="162.60" font-family="Liberation Serif" font-size="16.50" fill="#000" xml:space="preserve">60</text>
<text x="30.41" y="211.50" font-family="Liberation Serif" font-size="16.50" fill="#000" xml:space="preserve">0</text>
<text x="22.16" y="260.80" font-family="Liberation Serif" font-size="16.50" fill="#000" xml:space="preserve">60</text>
<text transform="translate(10.82 260.80) scale(1.186 1)" font-family="Liberation Serif" font-size="16.50" fill="#000" xml:space="preserve">−</text>
<defs><linearGradient id="gbone" x1="0" y1="1" x2="0" y2="0"><stop offset="0.000" stop-color="#000000"/><stop offset="0.062" stop-color="#0e0e13"/><stop offset="0.125" stop-color="#1c1c27"/><stop offset="0.188" stop-color="#2a2a3a"/><stop offset="0.250" stop-color="#38384e"/><stop offset="0.312" stop-color="#464661"/><stop offset="0.375" stop-color="#545574"/><stop offset="0.438" stop-color="#626882"/><stop offset="0.500" stop-color="#707b90"/><stop offset="0.562" stop-color="#7e8f9e"/><stop offset="0.625" stop-color="#8ca2ac"/><stop offset="0.688" stop-color="#9ab5ba"/><stop offset="0.750" stop-color="#a9c8c8"/><stop offset="0.812" stop-color="#bfd6d6"/><stop offset="0.875" stop-color="#d5e4e4"/><stop offset="0.938" stop-color="#eaf2f2"/><stop offset="1.000" stop-color="#ffffff"/></linearGradient></defs>
<rect x="277.2" y="20.8" width="7.8" height="245.7" fill="url(#gbone)" stroke="#000" stroke-width="1"/>
<line x1="285.00" y1="211.00" x2="289.50" y2="211.00" stroke="#000" stroke-width="1.00" stroke-linecap="butt"/>
<text x="296.50" y="216.60" font-family="Liberation Serif" font-size="16.50" fill="#000">5</text>
<line x1="285.00" y1="155.50" x2="289.50" y2="155.50" stroke="#000" stroke-width="1.00" stroke-linecap="butt"/>
<text x="296.50" y="161.10" font-family="Liberation Serif" font-size="16.50" fill="#000">10</text>
<line x1="285.00" y1="101.20" x2="289.50" y2="101.20" stroke="#000" stroke-width="1.00" stroke-linecap="butt"/>
<text x="296.50" y="106.80" font-family="Liberation Serif" font-size="16.50" fill="#000">15</text>
<line x1="285.00" y1="44.40" x2="289.50" y2="44.40" stroke="#000" stroke-width="1.00" stroke-linecap="butt"/>
<text x="296.50" y="50.00" font-family="Liberation Serif" font-size="16.50" fill="#000">20</text>
<path d="M419.2 250.3 L420.3 250.1 L421.5 249.8 L422.6 249.4 L423.7 248.9 L424.9 248.3 L426.0 247.6 L427.1 246.9 L428.3 246.1 L429.4 245.3 L430.5 244.4 L431.7 243.5 L432.8 242.5 L433.9 241.4 L435.1 240.4 L436.2 239.2 L437.3 238.1 L438.5 236.9 L439.6 235.6 L440.7 234.3 L441.9 233.0 L443.0 231.7 L444.1 230.3 L445.3 228.8 L446.4 227.4 L447.5 225.9 L448.6 224.3 L449.8 222.8 L450.9 221.2 L452.0 219.5 L453.2 217.9 L454.3 216.2 L455.4 214.4 L456.6 212.7 L457.7 210.9 L458.8 209.1 L460.0 207.2 L461.1 205.4 L462.2 203.5 L463.4 201.5 L464.5 199.6 L465.6 197.6 L466.8 195.6 L467.9 193.5 L469.0 191.5 L470.2 189.4 L471.3 187.3 L472.4 185.1 L473.6 183.0 L474.7 180.8 L474.7 224.5 L473.6 225.8 L472.4 227.0 L471.3 228.2 L470.2 229.4 L469.0 230.5 L467.9 231.6 L466.8 232.7 L465.6 233.8 L464.5 234.8 L463.4 235.8 L462.2 236.7 L461.1 237.7 L460.0 238.6 L458.8 239.4 L457.7 240.3 L456.6 241.1 L455.4 241.9 L454.3 242.7 L453.2 243.4 L452.0 244.1 L450.9 244.8 L449.8 245.4 L448.6 246.0 L447.5 246.6 L446.4 247.2 L445.3 247.7 L444.1 248.2 L443.0 248.7 L441.9 249.2 L440.7 249.6 L439.6 250.0 L438.5 250.4 L437.3 250.7 L436.2 251.1 L435.1 251.4 L433.9 251.6 L432.8 251.9 L431.7 252.1 L430.5 252.3 L429.4 252.5 L428.3 252.7 L427.1 252.8 L426.0 252.9 L424.9 253.0 L423.7 253.1 L422.6 253.2 L421.5 253.2 L420.3 253.2 L419.2 253.2 Z" fill="#e2e2e2" stroke="#e2e2e2" stroke-width="1.4" stroke-linejoin="round"/>
<path d="M419.2 252.1 L420.3 251.9 L421.5 251.6 L422.6 251.2 L423.7 250.8 L424.9 250.2 L426.0 249.6 L427.1 248.9 L428.3 248.2 L429.4 247.4 L430.5 246.6 L431.7 245.7 L432.8 244.8 L433.9 243.9 L435.1 242.9 L436.2 241.8 L437.3 240.7 L438.5 239.6 L439.6 238.4 L440.7 237.2 L441.9 236.0 L443.0 234.7 L444.1 233.4 L445.3 232.1 L446.4 230.7 L447.5 229.3 L448.6 227.9 L449.8 226.4 L450.9 224.9 L452.0 223.4 L453.2 221.8 L454.3 220.2 L455.4 218.6 L456.6 217.0 L457.7 215.3 L458.8 213.6 L460.0 211.9 L461.1 210.1 L462.2 208.3 L463.4 206.5 L464.5 204.7 L465.6 202.8 L466.8 200.9 L467.9 199.0 L469.0 197.1 L470.2 195.1 L471.3 193.1 L472.4 191.1 L473.6 189.1 L474.7 187.0 L474.7 224.1 L473.6 225.4 L472.4 226.6 L471.3 227.8 L470.2 229.0 L469.0 230.1 L467.9 231.2 L466.8 232.3 L465.6 233.3 L464.5 234.4 L463.4 235.4 L462.2 236.3 L461.1 237.3 L460.0 238.2 L458.8 239.0 L457.7 239.9 L456.6 240.7 L455.4 241.5 L454.3 242.2 L453.2 243.0 L452.0 243.7 L450.9 244.3 L449.8 245.0 L448.6 245.6 L447.5 246.2 L446.4 246.8 L445.3 247.3 L444.1 247.8 L443.0 248.3 L441.9 248.7 L440.7 249.2 L439.6 249.6 L438.5 250.0 L437.3 250.3 L436.2 250.6 L435.1 250.9 L433.9 251.2 L432.8 251.5 L431.7 251.7 L430.5 251.9 L429.4 252.1 L428.3 252.3 L427.1 252.4 L426.0 252.5 L424.9 252.6 L423.7 252.7 L422.6 252.7 L421.5 252.8 L420.3 252.8 L419.2 252.8 Z" fill="#c9c9c9" stroke="#c9c9c9" stroke-width="1.3" stroke-linejoin="round"/>
<path d="M419.2 252.6 L420.3 252.5 L421.5 252.2 L422.6 251.9 L423.7 251.5 L424.9 251.0 L426.0 250.4 L427.1 249.8 L428.3 249.2 L429.4 248.5 L430.5 247.8 L431.7 247.0 L432.8 246.1 L433.9 245.3 L435.1 244.4 L436.2 243.4 L437.3 242.4 L438.5 241.4 L439.6 240.4 L440.7 239.3 L441.9 238.1 L443.0 237.0 L444.1 235.8 L445.3 234.6 L446.4 233.3 L447.5 232.0 L448.6 230.7 L449.8 229.3 L450.9 228.0 L452.0 226.5 L453.2 225.1 L454.3 223.6 L455.4 222.1 L456.6 220.6 L457.7 219.0 L458.8 217.4 L460.0 215.8 L461.1 214.2 L462.2 212.5 L463.4 210.8 L464.5 209.1 L465.6 207.3 L466.8 205.6 L467.9 203.8 L469.0 201.9 L470.2 200.1 L471.3 198.2 L472.4 196.3 L473.6 194.4 L474.7 192.4 L474.7 223.9 L473.6 225.2 L472.4 226.4 L471.3 227.6 L470.2 228.8 L469.0 229.9 L467.9 231.0 L466.8 232.1 L465.6 233.1 L464.5 234.2 L463.4 235.1 L462.2 236.1 L461.1 237.0 L460.0 237.9 L458.8 238.8 L457.7 239.7 L456.6 240.5 L455.4 241.3 L454.3 242.0 L453.2 242.7 L452.0 243.5 L450.9 244.1 L449.8 244.8 L448.6 245.4 L447.5 246.0 L446.4 246.5 L445.3 247.1 L444.1 247.6 L443.0 248.1 L441.9 248.5 L440.7 249.0 L439.6 249.4 L438.5 249.7 L437.3 250.1 L436.2 250.4 L435.1 250.7 L433.9 251.0 L432.8 251.3 L431.7 251.5 L430.5 251.7 L429.4 251.9 L428.3 252.0 L427.1 252.2 L426.0 252.3 L424.9 252.4 L423.7 252.5 L422.6 252.5 L421.5 252.6 L420.3 252.6 L419.2 252.6 Z" fill="#b0b0b0" stroke="#b0b0b0" stroke-width="1.2" stroke-linejoin="round"/>
<path d="M419.2 252.6 L420.3 252.5 L421.5 252.3 L422.6 252.0 L423.7 251.7 L424.9 251.3 L426.0 250.9 L427.1 250.4 L428.3 249.9 L429.4 249.3 L430.5 248.7 L431.7 248.1 L432.8 247.4 L433.9 246.6 L435.1 245.9 L436.2 245.1 L437.3 244.3 L438.5 243.4 L439.6 242.5 L440.7 241.6 L441.9 240.6 L443.0 239.6 L444.1 238.6 L445.3 237.5 L446.4 236.5 L447.5 235.3 L448.6 234.2 L449.8 233.0 L450.9 231.8 L452.0 230.6 L453.2 229.3 L454.3 228.0 L455.4 226.7 L456.6 225.3 L457.7 223.9 L458.8 222.5 L460.0 221.1 L461.1 219.6 L462.2 218.1 L463.4 216.6 L464.5 215.1 L465.6 213.5 L466.8 211.9 L467.9 210.2 L469.0 208.6 L470.2 206.9 L471.3 205.2 L472.4 203.5 L473.6 201.7 L474.7 199.9 L474.7 222.8 L473.6 224.1 L472.4 225.3 L471.3 226.5 L470.2 227.7 L469.0 228.9 L467.9 230.0 L466.8 231.1 L465.6 232.2 L464.5 233.3 L463.4 234.3 L462.2 235.3 L461.1 236.2 L460.0 237.2 L458.8 238.1 L457.7 238.9 L456.6 239.8 L455.4 240.6 L454.3 241.4 L453.2 242.1 L452.0 242.8 L450.9 243.5 L449.8 244.2 L448.6 244.9 L447.5 245.5 L446.4 246.1 L445.3 246.6 L444.1 247.2 L443.0 247.7 L441.9 248.2 L440.7 248.6 L439.6 249.0 L438.5 249.4 L437.3 249.8 L436.2 250.2 L435.1 250.5 L433.9 250.8 L432.8 251.1 L431.7 251.3 L430.5 251.6 L429.4 251.8 L428.3 251.9 L427.1 252.1 L426.0 252.2 L424.9 252.4 L423.7 252.4 L422.6 252.5 L421.5 252.6 L420.3 252.6 L419.2 252.6 Z" fill="#949494" stroke="#949494" stroke-width="1.2" stroke-linejoin="round"/>
<path d="M458.1 215.2h0M464.7 213.1h0M443.6 234.6h0M430.5 247.3h0M465.7 208.6h0M443.8 237.9h0M441.6 239.0h0M452.7 225.9h0M474.5 189.3h0M457.9 214.4h0M439.9 242.0h0M457.5 224.7h0M431.9 246.9h0M451.0 225.0h0M458.2 218.9h0M452.4 228.9h0M430.8 248.3h0M461.0 218.5h0M446.7 236.8h0M467.2 210.5h0M442.2 236.2h0M452.9 223.0h0M458.7 215.8h0M434.4 245.0h0M452.8 222.9h0M446.3 233.2h0M432.9 246.5h0M444.6 237.8h0M466.5 208.5h0M473.8 193.7h0M457.2 219.1h0M460.3 220.0h0M449.8 231.8h0M448.2 234.7h0M473.3 200.3h0M460.1 218.6h0M469.1 200.5h0M436.1 242.5h0M472.3 191.6h0M455.6 226.0h0M438.8 239.5h0M454.8 226.6h0M469.6 200.1h0M455.6 223.8h0M448.5 233.2h0M432.0 246.0h0M451.1 228.0h0M444.6 234.2h0M431.4 247.6h0M431.6 248.0h0M473.2 193.6h0M449.3 230.3h0M469.1 205.1h0M456.5 219.6h0M446.1 234.0h0M464.3 205.2h0M437.0 241.4h0M430.5 247.4h0M466.3 212.0h0M448.9 228.6h0M430.9 247.4h0M465.5 208.3h0M462.5 216.2h0M439.1 241.7h0M438.3 242.5h0M472.4 196.3h0M445.4 236.3h0M472.6 198.0h0M473.8 194.8h0M453.4 221.9h0M463.3 210.8h0M449.2 227.7h0M448.6 228.2h0M433.4 246.1h0M453.4 221.5h0M441.4 237.4h0M460.3 213.7h0M458.3 214.1h0M445.1 235.8h0M439.3 242.9h0M439.8 238.6h0M467.6 210.4h0M457.1 220.8h0M456.7 219.5h0M443.9 233.7h0M451.0 227.4h0M458.5 222.0h0M433.0 246.4h0M464.2 206.5h0M462.7 217.3h0M470.9 195.6h0M469.3 202.2h0M471.0 206.4h0M431.6 248.2h0M441.5 240.1h0M438.6 241.3h0M432.0 246.7h0M437.7 241.7h0M431.2 247.8h0M472.0 197.6h0M466.3 205.1h0M457.4 223.3h0M455.8 226.8h0M465.9 201.9h0M468.2 210.4h0M445.3 236.1h0M435.3 244.0h0M465.7 210.6h0M468.6 199.5h0M436.0 242.9h0M469.5 206.5h0M455.8 221.0h0M457.4 224.4h0M459.7 215.6h0M466.9 202.3h0M444.8 234.1h0M468.8 197.8h0M437.5 244.4h0M459.2 220.8h0M455.3 218.7h0M447.1 234.6h0M450.6 227.7h0M434.8 245.2h0M436.2 243.1h0M467.2 207.5h0M446.8 233.0h0M439.8 241.6h0M444.9 235.6h0M433.9 244.8h0M456.0 224.0h0M433.7 244.9h0M436.1 245.0h0M436.1 245.2h0M470.5 203.8h0M443.9 234.5h0M457.8 222.8h0M449.6 227.2h0M447.0 231.7h0M434.6 244.3h0M464.8 205.5h0M460.2 217.7h0M433.2 246.0h0M463.9 214.7h0M442.1 238.1h0M463.5 206.6h0M435.9 245.0h0M465.8 206.1h0M462.3 207.4h0M472.0 193.0h0M464.8 210.9h0M458.8 221.7h0M464.0 207.5h0M462.3 213.9h0M447.1 233.5h0M431.8 246.3h0M454.4 225.2h0M454.6 221.8h0M447.2 230.5h0M471.1 201.2h0M436.4 242.6h0M474.4 199.6h0M461.9 210.0h0M471.2 205.0h0M434.4 243.7h0M435.5 245.3h0M455.8 222.8h0M463.6 215.1h0M470.9 204.0h0M464.4 215.5h0M451.3 231.9h0M444.2 237.2h0M462.3 213.9h0M432.8 245.0h0M469.8 195.8h0M441.2 239.6h0M440.4 241.7h0M431.8 247.1h0M435.8 245.1h0M468.5 204.0h0M438.5 241.0h0M442.1 238.1h0M442.9 237.4h0M458.2 218.7h0M447.9 230.1h0M469.1 207.3h0M436.4 244.9h0M473.8 188.2h0M440.5 237.5h0M439.5 240.7h0M452.4 223.2h0M432.1 247.3h0M456.9 225.2h0M440.8 239.7h0M469.4 198.6h0M467.1 202.5h0M461.7 210.0h0M460.6 213.1h0M443.7 238.6h0M463.9 215.0h0M471.1 198.1h0M444.9 232.7h0M437.2 242.8h0M434.4 243.8h0M455.8 219.3h0M442.8 235.9h0M461.5 212.8h0M472.5 198.2h0M448.7 229.7h0M467.4 207.8h0M460.0 219.8h0M454.8 221.1h0M433.2 245.4h0M431.0 246.6h0M451.1 229.0h0M462.3 213.0h0M462.7 217.6h0M455.3 222.5h0M471.7 205.4h0M450.4 228.1h0M454.8 227.7h0M456.6 224.0h0M439.0 239.6h0M439.1 241.3h0M463.6 208.8h0M454.9 220.7h0M451.0 227.5h0M466.7 204.3h0M458.8 219.3h0M455.1 224.3h0M463.3 213.2h0M451.0 226.3h0M452.7 227.8h0M467.0 207.7h0M467.8 201.0h0M450.2 227.8h0M431.8 247.3h0M468.5 202.7h0M455.1 221.7h0M460.4 215.1h0M449.0 233.2h0M443.3 238.2h0M449.4 226.5h0M446.0 234.6h0M446.8 232.8h0M472.4 191.6h0M447.0 234.6h0M469.6 202.2h0M460.7 220.4h0M468.8 205.9h0M452.3 229.5h0M449.0 228.4h0M467.0 206.4h0M464.4 210.7h0M446.9 232.9h0M439.2 241.8h0M461.7 211.0h0M432.8 245.7h0M466.6 207.5h0M433.1 245.6h0M441.2 238.4h0" stroke="#a8a8a8" stroke-width="2.00" stroke-linecap="round" fill="none"/>
<path d="M443.6 241.8h0M437.6 246.9h0M451.0 235.6h0M434.9 245.7h0M439.2 247.3h0M437.6 249.6h0M445.9 238.5h0M460.2 234.1h0M431.6 250.3h0M463.1 225.5h0M470.9 212.1h0M455.8 228.7h0M462.2 229.4h0M437.6 247.2h0M449.2 243.3h0M446.8 239.1h0M431.5 251.0h0M433.4 249.8h0M472.8 225.4h0M433.9 250.2h0M448.4 245.3h0M447.6 244.0h0M438.2 244.4h0M433.9 248.1h0M445.0 242.9h0M465.6 229.8h0M470.9 206.3h0M458.1 238.5h0M457.9 229.2h0M463.3 230.9h0M472.4 204.3h0M430.5 250.7h0M426.4 250.9h0M470.5 204.7h0M455.3 230.8h0M458.6 228.9h0M472.3 211.3h0M441.5 244.3h0M425.7 251.3h0M459.4 230.7h0M467.3 214.7h0M441.6 248.0h0M431.4 250.9h0M439.9 245.8h0M471.1 221.0h0M469.6 213.2h0M467.4 222.5h0M424.9 251.4h0M437.0 249.3h0M464.7 219.6h0M435.4 249.2h0M471.7 220.6h0M459.8 235.7h0M465.5 230.8h0M450.5 243.9h0M452.2 231.3h0M429.0 251.2h0M462.9 223.3h0M440.4 244.1h0M447.5 236.0h0M439.4 243.8h0M456.5 228.3h0M443.6 240.8h0M459.6 231.1h0M426.1 250.8h0M460.4 233.8h0M461.3 231.6h0M448.2 235.3h0M447.1 242.9h0M440.0 248.6h0M435.7 249.0h0M433.4 250.8h0M448.0 243.2h0M461.7 218.8h0M438.4 245.8h0M450.1 243.6h0M431.0 248.5h0M448.4 235.7h0M428.1 250.7h0M468.0 211.2h0M425.0 251.7h0M443.2 240.9h0M428.4 251.4h0M465.3 223.4h0M447.4 234.8h0M440.7 248.6h0M444.3 246.0h0M428.8 250.5h0M472.4 211.9h0M457.1 234.7h0M453.3 231.6h0M454.2 229.9h0M452.2 240.5h0M453.9 234.9h0M433.0 248.5h0M465.6 230.3h0M452.0 233.2h0M444.9 244.5h0M443.3 242.8h0M459.0 228.6h0M430.1 249.2h0M470.9 225.5h0M437.2 249.0h0M467.2 211.4h0M427.0 251.6h0M434.4 248.6h0M470.8 226.4h0M433.3 249.0h0M450.9 234.1h0M446.6 244.9h0M442.4 239.5h0M462.2 233.8h0M465.1 227.0h0M463.8 234.5h0M468.3 226.9h0M447.5 238.3h0M450.1 242.4h0M431.7 250.4h0M427.4 251.7h0M431.2 249.9h0M442.6 243.0h0M438.8 249.4h0M441.3 242.4h0M437.5 247.4h0M462.5 227.9h0M469.1 208.5h0M440.3 243.4h0M437.4 249.2h0M446.6 239.7h0M471.5 223.8h0M460.3 228.8h0M431.3 248.0h0M459.5 236.0h0M470.0 226.5h0M429.4 251.0h0M471.6 226.5h0M470.6 213.5h0M428.1 250.8h0M447.7 239.3h0M461.6 223.6h0M474.6 219.9h0M465.4 224.6h0M463.9 216.4h0M474.3 217.4h0M447.4 235.1h0M472.0 217.6h0M471.7 217.1h0M443.5 240.7h0M448.3 240.2h0M444.0 243.4h0M431.7 251.2h0M462.4 224.8h0M458.3 225.2h0M436.2 249.0h0M438.6 247.6h0M462.7 228.2h0M440.9 243.7h0M434.1 250.5h0M459.6 224.5h0M439.6 244.6h0M426.5 251.6h0M453.6 238.7h0M442.1 243.0h0M454.2 239.7h0M460.0 236.4h0M473.2 220.4h0M437.4 248.8h0M474.3 216.9h0M455.0 226.0h0M472.2 225.6h0M450.8 236.1h0M459.8 231.9h0M441.1 248.8h0M426.5 251.3h0M428.5 251.5h0M441.4 248.1h0M426.3 250.7h0M446.5 244.2h0M460.1 237.6h0M437.0 244.2h0M469.6 214.3h0M429.4 251.0h0M426.1 251.9h0M426.0 252.1h0M456.4 239.0h0M432.5 247.6h0M441.5 245.8h0M429.1 249.8h0M458.5 229.4h0M455.6 239.5h0M437.8 246.1h0M472.3 206.1h0M456.8 231.7h0M425.5 251.1h0M428.1 251.8h0M459.4 223.7h0M464.0 225.2h0M433.6 250.9h0M467.3 209.7h0M436.9 244.8h0" stroke="#868686" stroke-width="2.20" stroke-linecap="round" fill="none"/>
<path d="M482.4 196.9h0M513.8 172.1h0M498.6 182.7h0M534.6 115.0h0M531.1 126.5h0M531.0 143.7h0M496.6 169.6h0M603.5 62.9h0M474.2 190.1h0M582.0 66.7h0M572.0 78.9h0M593.0 71.2h0M504.9 163.4h0M481.9 191.0h0M485.5 188.2h0M569.2 90.3h0M615.2 37.1h0M558.8 118.8h0M476.4 195.1h0M602.8 46.3h0M595.0 76.2h0M589.7 43.9h0M533.7 133.3h0M548.1 122.9h0M540.9 112.1h0M518.7 159.1h0M474.1 207.9h0M575.9 91.9h0M475.2 206.5h0M515.5 151.4h0M586.2 49.2h0M609.5 31.5h0M505.7 178.6h0M606.1 58.6h0M532.5 141.5h0M572.0 96.8h0M501.9 180.7h0M582.2 65.8h0M534.0 137.5h0M479.5 189.5h0M560.5 85.5h0M617.1 36.5h0M479.6 195.1h0M487.6 190.0h0M506.9 164.2h0M597.2 42.0h0M501.2 164.0h0M582.2 58.1h0M520.5 131.5h0M511.5 172.9h0M486.3 188.3h0M496.9 181.0h0M499.6 183.9h0M475.7 209.7h0M541.8 127.3h0M506.6 151.7h0M533.3 116.9h0M560.0 74.9h0M475.0 203.7h0M604.4 51.5h0M604.0 62.3h0M474.8 191.7h0M500.7 174.0h0M601.0 64.1h0M609.3 49.7h0M484.3 199.2h0M515.4 156.0h0M588.4 83.9h0M474.5 208.8h0M529.6 123.4h0M509.8 158.5h0M536.2 145.5h0M484.2 183.1h0M491.7 173.7h0M511.5 169.4h0M474.1 207.5h0M490.8 187.9h0M505.3 166.9h0M509.0 177.8h0M485.8 181.9h0M474.3 195.7h0M509.3 155.9h0M491.9 188.2h0M515.2 139.3h0M491.5 194.8h0M474.4 192.1h0M490.0 195.7h0M528.0 122.9h0M528.5 150.7h0M500.0 181.5h0M474.2 190.0h0M506.9 177.5h0M588.1 40.1h0M571.8 94.8h0M480.3 196.4h0M525.8 124.6h0M609.1 30.7h0M492.9 181.7h0M476.9 199.2h0M475.1 209.2h0M476.8 204.0h0M489.6 182.9h0M475.2 209.1h0M538.7 115.9h0M549.2 100.0h0M540.0 119.7h0M555.5 120.5h0M481.7 190.6h0M480.4 196.2h0M485.3 194.3h0M576.0 71.0h0M505.0 175.7h0M569.3 78.9h0M504.3 157.5h0M545.7 91.7h0M540.2 103.2h0M520.4 139.7h0M577.9 94.4h0M509.0 160.0h0M474.8 194.3h0M550.2 88.0h0M496.1 180.7h0M594.8 62.2h0M576.0 82.5h0M492.4 189.8h0M481.8 197.3h0M478.6 190.7h0M611.0 57.5h0M474.7 211.3h0M599.9 70.3h0M543.3 126.3h0M480.8 201.8h0M545.1 134.7h0M583.2 67.2h0M483.4 200.4h0M538.4 118.3h0M490.5 190.7h0M507.5 151.2h0M518.5 137.1h0M535.9 124.7h0M511.2 154.1h0M511.4 152.1h0M479.8 201.1h0M585.2 73.1h0M578.1 54.4h0M525.0 156.8h0M558.8 90.8h0M487.9 181.3h0M510.2 175.8h0M475.0 207.0h0M530.3 120.8h0M475.9 210.0h0M532.6 135.6h0M504.6 158.8h0M596.6 34.7h0M563.6 113.6h0M478.1 196.7h0M605.9 63.5h0M514.9 159.2h0M500.2 181.3h0M486.2 197.3h0M476.1 199.0h0M505.1 161.6h0M535.7 106.9h0M492.6 174.2h0M497.6 173.6h0M569.3 91.3h0M505.2 164.3h0M476.3 199.3h0M475.8 206.4h0M532.7 110.2h0M617.7 42.1h0M477.9 198.4h0M504.5 173.1h0M561.3 85.8h0M522.2 140.7h0M525.5 133.8h0M598.8 34.5h0M612.3 31.1h0M476.1 201.3h0M564.1 101.9h0M529.8 152.3h0M481.1 198.4h0M475.1 202.7h0M483.0 187.0h0M490.5 189.6h0M568.7 84.4h0M474.6 207.5h0M530.5 146.5h0M484.3 191.3h0M511.9 167.5h0M521.8 140.8h0M474.5 206.3h0M489.5 178.8h0M474.7 204.7h0M480.6 192.5h0M570.7 103.8h0M582.9 61.3h0M482.0 186.4h0M488.1 182.9h0M475.2 201.9h0M513.5 142.4h0M576.5 76.0h0M474.7 202.9h0M496.5 165.3h0M543.4 121.9h0M495.3 173.6h0M475.8 192.9h0M541.5 123.0h0M549.2 115.1h0M477.7 200.8h0M474.7 210.0h0M504.2 159.2h0M481.1 196.3h0M612.2 32.3h0M592.3 51.8h0M526.7 136.2h0M528.8 138.2h0M494.8 188.0h0M475.0 204.1h0M561.6 93.0h0M478.8 191.0h0M474.5 190.8h0M537.9 122.3h0M500.9 164.2h0M474.2 211.1h0M515.7 161.7h0M499.5 174.7h0M474.5 189.5h0M542.8 134.9h0M555.0 101.8h0M544.6 105.1h0M615.5 50.5h0M616.9 38.9h0M481.0 199.1h0M495.3 170.0h0M516.3 168.2h0M550.1 109.4h0M571.5 103.3h0M583.3 50.7h0M474.2 201.8h0M476.8 199.0h0M475.6 191.4h0M479.9 193.6h0M538.2 132.0h0M481.9 186.5h0M474.5 206.7h0M491.3 183.7h0M495.8 189.8h0M523.6 134.5h0M548.1 112.3h0M489.4 198.2h0M517.6 146.8h0M504.5 154.2h0M481.0 189.4h0M550.9 89.0h0M598.0 66.5h0M597.3 60.3h0M543.0 96.7h0M527.8 134.6h0M475.1 198.8h0M483.8 196.6h0M496.8 165.5h0M535.3 118.1h0M479.3 201.9h0M586.3 83.8h0M605.4 52.1h0M498.2 177.0h0M504.8 170.0h0M502.3 166.0h0M486.6 198.2h0M503.6 182.1h0M505.3 168.6h0M564.7 108.8h0M499.0 168.2h0M492.5 175.6h0M550.8 127.4h0M497.6 170.5h0M516.6 146.5h0M615.2 35.8h0M519.7 135.0h0M503.1 184.4h0M486.3 189.7h0M604.1 46.1h0M487.3 179.1h0M499.4 183.3h0M520.8 153.5h0M476.4 195.1h0M545.5 92.4h0M477.4 189.6h0M567.6 99.7h0M509.7 158.1h0M490.1 195.8h0M576.7 93.0h0M511.3 162.6h0M592.6 57.3h0M502.4 157.0h0M494.0 176.5h0M483.2 189.2h0M557.6 84.1h0M510.5 170.7h0M534.3 110.9h0M489.7 197.8h0M480.0 187.3h0M474.2 210.5h0M475.9 191.0h0M497.4 172.9h0M548.3 114.5h0M553.7 106.7h0M519.0 157.1h0M474.1 199.1h0M485.7 197.0h0M586.6 73.1h0M476.0 197.3h0M518.5 165.8h0M493.6 180.1h0M486.9 179.7h0M568.0 87.9h0M595.7 76.2h0M482.6 186.1h0M513.9 168.0h0M523.6 134.3h0M529.2 153.3h0M474.4 203.4h0M474.2 210.0h0M536.2 129.7h0M475.5 191.7h0M495.7 169.7h0M530.2 129.7h0M502.3 166.9h0M484.0 199.0h0M585.7 81.1h0M497.7 171.0h0M491.6 188.6h0M594.1 71.7h0M483.8 185.9h0M486.5 195.0h0M587.4 74.0h0M617.1 29.9h0M578.9 87.9h0M482.0 190.1h0M574.3 93.2h0M481.3 201.5h0M477.5 200.9h0M513.1 153.3h0M474.7 208.0h0M476.6 204.8h0M480.0 187.2h0M496.3 188.7h0M540.6 99.1h0M567.0 82.1h0M496.8 181.6h0M488.9 181.3h0M569.0 87.4h0M582.5 63.8h0M544.3 126.5h0M483.8 199.6h0M594.9 43.8h0M591.6 44.7h0M569.3 89.5h0M560.7 111.3h0M538.6 141.8h0M608.7 32.1h0M478.8 192.0h0M573.6 101.1h0M522.9 147.8h0M531.9 115.3h0M551.8 120.0h0M521.1 144.7h0M474.2 209.2h0M494.7 189.5h0M483.5 190.8h0M607.5 49.1h0M536.8 114.4h0M541.9 112.5h0M474.1 192.4h0M478.6 204.9h0M514.1 153.4h0M558.5 108.5h0M603.3 45.9h0M578.3 77.2h0M475.1 210.8h0M535.8 130.7h0M504.4 174.8h0M479.6 198.1h0M484.8 184.9h0M479.6 186.8h0M582.1 77.2h0M562.2 91.0h0M507.8 154.3h0M575.2 93.1h0M593.3 79.0h0M474.2 201.7h0M488.9 190.6h0M509.6 163.8h0M593.8 38.6h0M493.3 188.6h0M538.3 136.7h0M499.4 169.5h0M474.2 194.8h0M554.0 109.7h0M484.3 193.1h0M488.3 181.8h0M527.0 146.9h0M569.9 80.7h0M477.2 201.3h0M511.2 144.2h0M490.7 187.8h0M611.6 46.7h0M574.4 98.2h0M498.6 185.2h0M587.9 62.6h0M482.1 203.5h0M501.9 183.8h0M510.5 153.3h0M489.7 195.1h0M494.9 189.5h0M578.3 93.8h0M555.5 110.3h0M552.9 92.9h0M477.3 193.3h0M603.4 48.3h0M536.6 133.9h0M479.4 192.2h0M572.8 95.6h0M476.4 203.2h0M533.2 136.6h0M608.2 35.9h0M595.9 52.8h0M558.6 76.7h0M474.4 199.6h0M480.1 190.5h0M483.1 189.6h0M491.9 181.3h0M543.0 98.9h0M585.0 71.3h0M545.0 129.1h0M475.9 195.4h0M593.5 47.4h0M515.2 150.3h0M553.2 102.3h0M495.1 171.5h0M495.8 169.0h0M568.1 73.6h0M575.9 54.4h0M615.1 41.1h0M496.7 172.7h0M609.3 41.3h0M474.3 210.8h0M507.6 155.5h0M588.7 70.0h0M515.2 154.6h0M475.8 210.4h0M516.2 153.5h0M582.9 85.1h0M580.3 84.3h0M518.6 142.3h0M477.8 188.4h0M606.6 29.5h0M474.1 197.9h0M541.5 102.4h0M481.0 203.9h0M570.3 96.2h0M475.0 209.7h0M536.7 124.8h0M556.9 86.0h0M474.1 190.8h0M586.8 44.4h0M561.3 101.2h0M484.3 185.0h0M501.8 173.2h0M546.8 104.6h0M545.8 108.9h0M513.9 146.8h0M498.8 183.0h0M594.1 42.1h0M550.7 122.9h0M474.6 191.1h0M602.7 60.4h0M533.8 148.4h0M498.6 171.0h0M494.9 173.0h0M595.0 73.4h0M544.8 121.4h0M479.4 200.9h0M510.0 147.8h0M560.6 117.0h0M474.8 189.2h0M521.4 142.3h0M494.0 173.6h0M521.4 143.0h0M484.4 187.9h0M481.8 202.9h0M528.2 123.2h0M488.1 194.0h0M478.0 196.4h0M561.8 111.6h0M518.0 149.8h0M476.2 199.5h0M486.2 197.9h0M614.0 54.5h0M493.0 180.7h0M499.9 187.4h0M583.6 82.0h0M500.8 161.6h0M609.7 30.2h0M500.7 167.0h0M579.3 88.6h0M609.7 58.8h0M539.0 134.3h0M481.9 202.9h0M602.5 65.7h0M594.9 72.4h0M491.6 192.2h0M614.6 53.6h0M582.4 80.7h0M605.1 39.5h0M485.6 192.4h0M478.6 200.3h0M474.3 197.0h0M527.5 147.7h0M474.2 190.6h0M476.9 203.4h0M474.3 203.9h0M499.6 174.7h0M491.0 192.0h0M565.1 101.5h0M491.8 185.4h0M486.4 186.6h0M475.4 204.6h0M501.9 179.7h0M577.3 84.1h0M501.9 173.7h0M575.1 92.6h0M574.8 57.8h0M485.8 198.9h0M565.7 99.3h0M482.8 203.1h0M531.0 114.2h0M587.2 61.5h0M504.2 154.1h0M539.5 101.5h0M544.8 106.7h0M547.3 128.5h0M484.7 201.7h0M600.0 31.7h0M529.5 149.3h0M476.9 200.8h0M498.3 185.3h0M475.6 197.2h0M566.5 108.4h0M489.6 192.4h0M519.1 145.7h0M500.6 163.2h0M498.3 182.6h0M560.9 79.6h0M586.3 81.8h0M480.7 197.5h0M609.2 41.8h0M532.7 138.8h0M615.3 49.6h0M521.8 139.1h0M570.5 69.8h0M497.8 184.0h0M612.4 41.8h0M487.1 198.2h0M568.9 69.8h0M523.5 148.4h0M539.4 100.5h0M524.9 129.9h0M587.4 52.9h0M510.7 171.7h0M546.5 98.1h0M607.9 59.2h0M476.5 196.8h0M574.4 99.0h0M531.1 143.2h0M617.7 40.1h0M475.4 194.1h0M488.8 190.7h0M477.1 203.1h0M477.3 204.5h0M525.0 149.8h0M540.8 102.3h0M524.6 159.3h0M607.1 58.6h0M493.3 182.7h0M531.9 139.2h0M504.4 165.5h0M506.6 173.5h0M500.7 177.6h0M488.0 187.5h0M514.5 159.2h0M549.0 95.8h0M537.3 132.3h0M601.1 68.0h0M569.5 90.1h0M499.0 166.3h0M538.5 102.0h0M586.4 83.8h0M513.1 148.0h0M475.4 199.8h0M615.9 46.7h0M476.6 204.4h0M493.1 188.8h0M503.3 160.3h0M515.2 151.7h0M476.3 209.0h0M604.8 55.6h0M603.8 57.0h0M535.6 120.6h0M475.6 209.5h0M504.6 180.2h0M488.4 195.9h0M490.0 188.5h0M489.8 191.4h0M510.6 154.8h0M474.5 189.2h0M503.2 157.5h0M474.2 210.5h0M475.9 190.5h0M500.8 163.6h0M546.1 131.4h0M495.0 185.6h0M506.1 158.9h0M475.4 190.5h0M509.3 167.6h0M546.7 123.3h0M549.6 113.7h0M509.5 172.9h0M481.1 188.3h0M524.6 145.5h0M562.7 73.9h0M478.5 186.7h0M474.2 198.6h0M485.6 197.6h0M511.9 155.9h0M503.9 163.3h0M604.6 62.1h0M483.5 192.2h0M500.6 179.6h0M513.3 150.4h0M594.0 37.3h0M572.6 89.8h0M587.8 54.8h0M479.4 187.3h0M484.3 190.1h0M546.1 94.8h0M540.6 98.6h0M474.8 210.7h0M480.6 195.1h0M502.3 183.7h0M481.0 194.7h0M499.6 167.8h0M508.0 151.7h0M559.2 98.6h0M494.6 188.9h0M488.0 193.0h0M494.9 189.3h0M508.8 175.9h0M584.1 67.0h0M475.8 204.3h0M484.9 200.0h0M509.9 172.6h0M478.1 194.0h0M503.0 166.0h0M508.4 164.3h0M489.7 189.4h0M509.9 167.6h0M574.2 92.4h0M482.3 198.7h0M564.9 74.5h0M522.7 150.3h0M537.3 110.7h0M483.9 190.7h0M549.1 115.5h0M477.8 196.5h0M481.6 198.8h0M519.4 130.5h0M477.9 207.4h0M518.5 132.6h0M474.6 198.0h0M474.3 200.1h0M476.7 196.1h0M494.9 177.3h0M485.1 201.1h0M479.8 202.1h0M478.8 204.4h0M519.4 151.8h0M574.0 81.3h0M518.6 142.1h0M580.5 69.5h0M474.4 202.2h0M474.4 198.8h0M474.9 200.2h0M478.1 190.5h0M475.8 196.8h0M547.9 121.9h0M527.4 145.6h0M485.2 197.8h0M474.2 197.2h0M475.1 207.5h0M475.5 193.4h0M517.1 153.7h0M525.8 127.8h0M532.8 130.8h0M490.0 187.0h0M614.4 40.0h0M509.4 149.1h0M474.7 210.4h0M565.9 68.6h0M474.6 211.0h0M474.2 199.5h0M477.5 197.8h0M540.1 140.7h0M584.5 80.3h0M520.9 152.9h0M493.0 186.1h0M474.1 202.9h0M485.7 195.4h0M478.7 201.7h0M547.0 89.8h0M480.7 188.4h0M531.2 149.1h0M474.2 192.0h0M483.3 202.3h0M538.6 114.6h0M590.6 61.9h0M489.9 191.8h0M481.2 193.3h0M602.5 67.1h0M497.8 181.9h0M475.3 198.6h0M613.3 50.0h0M552.6 86.8h0M486.1 182.5h0M557.0 93.9h0M480.5 201.4h0M476.0 190.9h0M570.2 103.3h0M517.3 162.4h0M560.7 93.1h0M603.3 41.7h0M476.0 203.1h0M524.6 124.9h0M496.0 187.9h0M487.2 196.0h0M478.3 201.9h0M484.4 193.6h0M590.4 39.1h0M478.5 196.8h0M542.0 133.8h0M517.4 162.7h0M495.2 185.5h0M571.6 95.9h0M518.7 146.9h0M491.6 174.3h0M491.8 189.3h0M545.7 115.3h0M552.1 121.8h0M478.0 193.4h0M498.0 167.2h0M483.2 199.9h0M582.9 77.4h0M476.3 206.1h0M561.5 106.2h0M521.2 133.2h0M530.4 123.5h0M611.7 50.8h0M586.0 64.8h0M481.0 203.8h0M491.4 193.9h0M562.0 92.4h0M474.5 192.2h0M527.9 140.3h0M477.6 199.7h0M596.2 53.2h0M506.9 162.7h0M520.4 143.1h0M480.8 203.6h0M474.2 193.3h0M474.1 206.7h0M526.1 140.4h0M592.2 73.4h0M476.5 207.1h0M512.3 166.1h0M506.4 160.7h0M490.8 182.4h0M474.2 200.2h0M593.6 37.9h0M523.8 122.9h0M483.3 198.7h0M505.4 168.0h0M572.6 85.2h0M474.6 196.6h0M482.4 186.9h0M481.7 200.1h0M477.4 203.4h0M528.8 146.2h0M474.6 199.3h0M554.2 121.1h0M502.3 184.0h0M474.2 204.1h0M487.5 181.6h0M474.2 197.9h0M553.9 108.4h0M512.8 167.0h0M484.7 201.9h0M593.2 79.2h0M477.4 194.0h0M506.7 166.2h0M488.2 196.7h0M568.0 104.4h0M488.4 183.4h0M488.6 178.2h0M479.4 197.1h0M518.4 150.7h0M562.6 113.5h0M519.7 137.4h0M474.6 200.2h0M504.4 172.5h0M518.4 145.9h0M547.9 93.0h0M538.8 100.4h0M540.3 131.4h0M477.9 207.5h0M485.9 199.6h0M543.9 108.3h0M530.7 139.1h0M507.5 173.2h0M596.5 75.9h0M490.7 184.8h0M479.7 189.4h0M509.8 166.8h0M474.9 206.0h0M526.8 148.1h0M474.5 199.4h0M489.1 180.1h0M545.5 104.6h0M589.4 47.8h0M491.6 183.8h0M485.2 198.9h0M481.3 203.9h0M483.6 199.9h0M541.8 130.3h0M474.6 203.1h0M481.0 192.3h0M482.4 194.2h0M479.4 198.0h0M583.8 78.9h0M516.7 155.2h0M475.1 210.7h0M577.9 84.0h0M544.4 120.3h0M577.0 91.4h0M510.3 160.1h0M566.8 109.2h0M495.0 181.9h0M526.7 153.3h0M519.3 141.9h0M553.8 117.0h0M504.5 175.6h0M497.9 181.4h0M603.3 68.3h0M603.9 67.0h0M475.3 207.2h0M487.5 182.0h0M577.6 55.1h0M498.1 189.3h0M533.1 113.0h0M476.2 192.4h0M474.1 195.8h0M511.7 144.8h0M585.7 87.2h0M512.4 167.7h0M504.3 182.0h0M494.8 183.8h0M474.1 201.9h0M590.5 81.2h0M603.2 51.6h0M481.6 185.4h0M508.9 165.9h0M496.6 168.5h0M477.1 205.6h0M487.2 199.4h0M578.3 76.7h0M528.9 119.7h0M511.9 167.2h0M517.4 152.1h0M488.6 194.9h0M494.5 175.5h0M478.8 186.5h0M483.3 199.2h0M476.8 202.1h0M496.1 174.9h0M590.8 73.3h0M570.3 94.1h0M500.2 184.9h0M590.0 68.6h0M547.3 131.9h0M546.6 125.5h0M505.9 161.9h0M479.1 197.3h0M576.4 93.4h0M508.1 174.9h0M477.7 199.2h0M506.6 162.0h0M581.6 62.3h0M492.3 185.0h0M542.0 103.7h0M543.8 117.1h0M477.3 190.7h0M487.1 192.9h0M588.0 78.3h0M595.3 69.5h0M475.5 200.3h0M567.2 93.6h0M578.0 81.4h0M571.6 100.8h0M487.2 198.4h0M555.2 104.5h0M538.6 134.8h0M554.2 80.0h0M475.3 204.9h0M584.3 51.6h0M585.0 80.9h0M522.4 160.3h0M503.2 168.7h0M485.1 194.7h0M495.5 190.7h0M475.0 194.4h0M474.1 189.4h0M591.1 36.5h0M565.0 112.0h0M476.5 203.8h0M479.8 206.0h0M596.1 37.8h0M561.0 107.4h0M580.3 58.0h0M491.0 194.5h0M477.4 201.3h0M575.5 97.7h0M503.0 175.6h0M589.9 78.3h0M538.6 131.4h0M536.9 111.4h0M573.8 64.2h0M488.1 194.6h0M476.8 204.9h0M476.7 193.1h0M474.6 208.0h0M566.0 77.3h0M610.7 48.8h0M474.5 193.9h0M487.5 184.1h0M474.2 210.9h0M528.3 129.6h0M522.2 144.3h0M528.1 151.9h0M474.9 204.5h0M520.0 157.9h0M479.6 198.7h0M500.5 180.9h0M598.6 34.8h0M474.6 201.8h0M483.5 197.8h0M474.3 210.1h0M474.4 209.3h0M537.4 142.2h0M588.4 49.4h0M486.0 187.9h0M605.1 63.4h0M521.9 147.4h0M489.7 192.6h0M475.5 197.2h0M480.8 198.3h0M598.9 61.2h0M490.3 176.2h0M525.8 137.9h0M482.4 192.3h0M496.9 177.7h0M499.1 187.1h0M586.3 57.4h0M606.7 55.3h0M487.1 198.3h0M489.3 192.3h0M479.9 202.2h0M488.2 181.1h0M505.2 158.0h0M474.6 208.1h0M605.3 65.1h0M475.1 200.6h0M487.8 196.5h0M530.1 130.3h0M480.2 196.3h0M506.3 155.3h0M475.0 206.9h0M522.7 161.4h0M578.7 52.1h0M491.5 178.6h0M484.4 184.1h0M481.7 205.1h0M475.0 202.0h0M474.4 189.6h0M534.1 126.7h0M533.2 134.3h0M588.3 54.1h0M503.1 177.6h0M477.8 202.9h0M494.0 192.3h0M598.1 65.6h0M518.7 165.3h0M520.6 141.9h0M475.3 189.3h0M478.7 203.2h0M554.5 111.3h0M586.1 79.1h0M490.1 182.6h0M582.1 52.5h0M487.7 189.5h0M500.7 169.1h0M482.8 187.7h0M549.8 123.7h0M490.1 191.1h0M599.4 56.2h0M531.4 113.8h0M498.9 163.1h0M488.0 199.5h0M476.0 195.8h0M497.2 169.1h0M517.6 144.5h0M494.0 180.3h0M546.8 118.9h0M511.3 147.8h0M599.2 60.8h0M475.0 192.9h0M505.3 152.5h0M560.1 103.4h0M579.8 72.2h0M549.8 91.1h0M525.2 122.4h0M499.2 179.5h0M535.7 131.6h0M548.6 109.7h0M555.8 86.5h0M523.1 127.0h0M564.0 75.1h0M474.2 211.1h0M534.7 135.9h0M585.2 73.3h0M556.1 113.4h0M533.8 112.0h0M582.6 77.5h0M510.0 160.9h0M493.1 184.0h0M608.4 32.3h0M490.1 182.8h0M604.1 55.7h0M579.3 60.2h0M588.5 82.6h0M597.6 33.5h0M483.8 191.5h0M475.6 198.2h0M548.8 99.3h0M581.3 82.2h0M476.5 192.4h0M474.3 207.2h0M483.5 188.6h0M504.6 158.2h0M540.9 105.0h0M565.1 72.7h0M486.6 194.5h0M533.6 126.8h0M563.3 78.4h0M489.2 196.6h0M555.5 93.7h0M486.7 200.0h0M474.3 206.8h0M486.4 197.6h0M474.6 208.4h0M493.7 192.4h0M481.3 197.5h0M579.2 56.5h0M500.0 185.1h0M486.0 188.2h0M500.2 172.8h0M554.6 96.3h0M581.9 90.0h0M488.5 198.8h0M515.8 149.9h0M484.8 201.7h0M507.5 175.9h0M480.6 199.3h0M603.3 56.6h0M549.0 116.4h0M500.0 184.8h0M479.9 191.2h0M503.0 177.7h0M614.4 29.8h0M485.6 193.9h0M523.0 157.0h0M502.7 178.0h0M570.5 102.7h0M615.6 47.7h0M491.8 194.8h0M595.0 42.4h0M475.0 200.4h0M498.2 174.3h0M492.2 172.7h0M482.1 188.5h0M485.9 189.0h0M502.8 170.8h0M515.9 149.3h0M475.0 210.2h0M610.0 53.8h0M494.4 188.4h0M536.7 104.0h0M499.7 180.5h0M493.6 193.7h0M475.6 209.8h0M491.0 173.7h0M477.6 197.9h0M481.4 205.0h0M576.7 94.5h0M477.4 191.9h0M484.0 200.0h0M602.8 63.2h0M575.4 88.4h0M522.8 152.1h0M492.6 172.8h0M593.7 73.3h0M552.1 122.4h0M488.7 198.0h0M537.2 115.6h0M556.6 88.1h0M498.7 185.2h0M474.1 202.7h0M600.2 55.8h0M531.4 114.6h0M582.7 59.3h0M527.3 149.4h0M557.1 104.6h0M548.4 123.5h0M602.1 64.9h0M566.2 70.9h0M478.2 190.2h0M536.5 122.0h0M484.8 196.9h0M483.3 195.9h0M537.2 115.5h0M548.3 118.4h0M492.3 177.9h0M610.8 54.0h0M500.9 180.3h0M611.0 59.4h0M589.9 49.4h0M491.8 180.6h0M495.8 176.5h0M502.5 158.9h0M506.7 156.0h0M524.6 147.5h0M608.9 56.8h0M593.8 35.3h0M579.5 69.4h0M532.5 112.4h0M503.5 160.4h0M562.6 76.7h0M504.4 164.6h0M475.7 209.4h0M476.2 194.6h0M494.2 171.1h0M475.3 207.9h0M576.5 82.1h0M482.3 189.3h0M483.3 184.2h0M486.5 183.4h0M509.7 146.8h0M488.4 179.1h0M489.0 189.8h0M534.4 127.0h0M541.5 111.2h0M485.9 201.4h0M551.9 102.5h0M522.5 145.4h0M599.0 63.1h0M594.8 72.5h0M546.1 93.2h0M478.3 192.4h0M486.3 200.3h0M503.2 164.8h0M487.2 180.1h0M474.1 206.4h0M492.8 187.1h0M488.7 198.7h0M481.6 200.9h0M541.8 125.1h0M551.6 110.1h0M492.7 192.1h0M482.8 186.2h0M506.4 172.9h0M482.1 187.2h0M548.0 102.8h0M569.3 98.3h0M553.4 123.4h0M540.3 129.2h0M539.8 133.8h0M494.1 177.9h0M601.8 58.7h0M479.1 205.6h0M541.6 101.6h0M474.2 204.8h0M479.0 187.4h0M477.2 208.1h0M561.2 71.1h0M562.5 111.3h0M500.3 174.2h0M591.5 48.4h0M474.8 202.3h0M563.5 91.3h0M540.7 99.3h0M612.1 32.0h0M523.9 150.9h0M478.5 205.2h0M535.8 115.2h0M581.8 51.3h0M487.6 193.8h0M480.7 195.8h0M603.7 40.2h0M503.9 180.0h0M578.0 56.7h0M561.2 105.4h0M498.2 175.0h0M596.3 68.0h0M501.8 184.7h0M474.1 206.9h0M570.2 77.0h0M509.3 166.2h0M485.7 186.7h0M510.9 174.6h0M533.4 108.2h0M475.1 188.9h0M475.9 204.6h0M611.5 27.1h0M479.9 192.3h0M530.8 138.3h0M564.6 85.6h0M482.6 195.4h0M549.0 105.0h0M519.2 140.2h0M477.3 208.4h0M474.4 198.5h0M503.6 159.7h0M610.2 57.9h0M496.9 181.1h0M519.7 132.3h0M528.6 144.9h0M540.0 129.4h0M521.1 161.4h0M522.6 146.0h0M536.7 123.4h0M524.0 133.4h0M477.3 193.5h0M532.8 123.1h0M499.3 186.7h0M597.4 41.1h0M611.4 45.7h0M588.1 46.2h0M520.3 131.8h0M571.5 101.2h0M477.3 201.3h0M517.6 145.8h0M522.6 129.4h0M568.4 104.8h0M492.6 174.1h0M558.4 119.3h0M533.3 145.6h0M513.2 139.1h0M475.2 193.2h0M510.3 144.2h0M582.0 90.7h0M536.3 110.5h0M486.9 186.5h0M484.8 199.2h0M491.9 190.1h0M607.8 56.6h0M502.4 172.6h0M545.4 92.6h0M531.0 117.7h0M477.2 195.7h0M479.2 189.3h0M527.8 152.1h0M579.7 73.3h0M510.6 174.7h0M593.5 58.6h0M583.2 89.0h0M543.2 123.4h0M518.2 146.2h0M574.1 59.9h0M478.9 189.8h0M476.6 209.5h0M488.9 193.6h0M561.9 92.4h0M498.0 169.3h0M600.9 47.1h0M538.1 107.9h0M488.1 177.8h0M479.5 206.5h0M573.5 96.2h0M492.2 184.4h0M476.4 201.7h0M494.1 192.1h0M529.1 138.4h0M478.5 191.7h0M500.6 186.7h0M586.7 70.7h0M475.7 205.2h0M484.9 201.8h0M491.7 192.9h0M481.8 192.0h0M478.5 207.7h0M479.6 201.8h0M478.8 196.0h0M586.8 49.8h0M508.5 154.3h0M566.1 83.8h0M568.8 92.7h0M556.9 100.0h0M555.0 91.8h0M475.0 193.1h0M474.4 203.0h0M527.1 125.2h0M474.8 197.2h0M493.2 193.9h0M491.9 181.6h0M475.4 192.4h0M474.5 207.0h0M491.6 195.1h0M598.2 33.9h0M593.0 73.1h0M575.8 86.6h0M487.7 185.7h0M475.5 210.6h0M599.6 60.3h0M567.1 92.6h0M475.7 201.1h0M479.2 206.2h0M474.2 203.6h0M485.1 196.4h0M607.6 34.7h0M548.3 122.7h0M557.3 91.0h0M516.9 162.1h0M481.4 197.8h0M486.6 182.6h0M507.8 159.1h0M591.1 55.4h0M478.6 202.2h0M597.5 73.9h0M482.4 192.9h0M580.7 57.4h0M553.4 95.7h0M496.3 190.3h0M534.9 145.4h0M567.9 104.3h0M474.3 189.1h0M479.0 196.2h0M474.9 189.5h0M474.2 196.9h0M578.2 85.6h0M474.2 210.8h0M474.9 195.1h0M516.9 137.0h0M534.3 125.3h0M481.0 202.1h0M612.1 27.7h0M504.1 160.4h0M551.2 117.9h0M480.9 191.0h0M607.9 28.4h0M494.5 192.1h0M490.6 196.1h0M614.5 48.0h0M579.1 86.8h0M607.1 48.3h0M575.9 74.1h0M560.8 114.7h0M475.6 203.8h0M586.3 46.2h0M549.3 105.8h0M474.6 190.9h0M539.4 117.6h0M577.8 88.7h0M532.1 124.3h0M558.7 116.4h0M552.8 86.3h0M533.6 143.7h0M596.5 73.1h0M483.0 187.2h0M526.7 146.2h0M569.0 79.8h0M476.6 205.6h0M570.6 69.8h0M475.2 200.4h0M549.7 117.6h0M474.9 203.0h0M600.6 43.4h0M481.8 188.2h0M540.8 129.9h0M486.0 198.6h0M499.9 179.2h0M487.4 181.8h0M559.7 98.1h0M607.9 40.7h0M605.0 36.5h0M534.7 120.4h0M562.7 81.8h0M585.3 75.5h0M495.2 187.5h0M597.3 37.4h0M504.6 172.3h0M477.2 188.1h0M541.7 98.1h0M534.3 128.9h0M557.1 81.7h0M578.5 83.1h0M513.7 140.2h0M513.6 145.9h0M516.4 140.5h0M475.0 211.0h0M475.6 202.0h0M495.6 167.7h0M617.1 46.2h0M576.0 78.3h0M577.7 83.0h0M562.2 115.2h0M508.1 170.3h0M484.6 197.6h0M501.7 173.1h0M516.4 144.4h0M574.3 57.6h0M541.1 130.9h0M525.0 144.3h0M483.3 198.1h0M482.9 194.2h0M475.0 200.1h0M500.8 186.8h0M486.6 180.6h0M525.1 157.7h0M524.8 133.6h0M477.3 201.4h0M481.8 194.9h0M573.3 93.7h0M477.5 206.6h0M531.1 150.2h0M516.6 141.0h0M560.9 88.2h0M474.2 202.9h0M484.0 193.9h0M478.1 206.1h0M604.9 34.2h0M475.9 192.6h0M475.0 204.7h0M616.2 27.0h0M508.0 157.9h0M497.3 168.4h0M490.3 193.7h0M477.8 196.0h0M521.6 129.9h0M477.9 191.8h0M602.9 41.1h0M476.5 207.2h0M475.6 204.3h0M559.3 113.8h0M505.5 181.2h0M542.9 134.7h0M566.7 84.2h0M480.3 192.6h0M493.6 182.4h0M521.4 155.4h0M501.4 164.6h0M583.1 53.1h0M523.3 128.7h0M477.6 187.7h0M474.5 191.6h0M566.4 95.1h0M566.1 67.5h0M478.8 194.8h0M474.1 197.4h0M474.9 197.2h0M474.3 203.5h0M583.7 78.9h0M609.6 46.8h0M479.8 187.4h0M478.3 196.4h0M602.7 32.8h0M521.2 157.6h0M512.7 165.6h0M490.1 191.5h0M481.0 205.3h0M557.5 120.4h0M524.1 148.4h0M537.6 121.7h0M509.7 152.8h0M523.9 126.6h0M526.1 124.3h0M583.1 60.5h0M491.6 185.8h0M475.3 195.5h0M536.8 111.7h0M475.5 208.6h0M536.8 115.7h0M475.2 210.5h0M491.1 189.8h0M474.7 209.8h0M481.2 205.5h0M477.9 208.1h0M495.9 173.3h0M539.7 117.8h0M508.1 174.7h0M474.6 208.1h0M603.8 37.7h0M523.5 139.2h0M556.4 86.0h0M483.8 187.8h0M537.2 135.0h0M487.6 197.1h0M519.9 129.5h0M565.9 105.2h0M476.7 204.5h0M478.8 205.5h0M553.6 113.5h0M522.8 151.9h0M613.7 39.7h0M477.6 192.7h0M487.8 191.0h0M487.6 190.5h0M489.4 192.2h0M478.4 187.7h0M481.4 200.6h0M500.6 184.6h0M482.9 196.9h0M525.9 139.3h0M495.7 175.6h0M556.4 112.2h0M483.7 191.7h0M500.7 164.2h0M474.2 200.3h0M493.6 190.0h0M584.0 82.5h0M565.7 73.3h0M609.1 59.0h0M478.4 206.9h0M490.7 176.3h0M536.4 140.8h0M476.2 194.3h0M532.7 150.2h0M526.4 152.0h0M488.2 197.9h0M615.5 41.7h0M531.6 145.0h0M496.4 175.5h0M556.7 81.2h0M484.3 199.0h0M499.7 180.8h0M572.6 88.7h0M496.3 179.6h0M522.6 150.8h0M474.2 195.7h0M476.5 191.6h0M484.2 198.8h0M518.0 135.0h0M497.1 179.3h0M501.1 184.2h0M487.7 180.3h0M601.8 62.0h0M596.9 75.5h0M550.9 127.8h0M502.6 174.5h0M503.7 156.1h0M493.9 193.5h0M476.3 194.2h0M477.1 208.4h0M480.6 185.9h0M505.0 179.2h0M539.1 128.5h0M520.8 127.0h0M547.0 111.6h0M617.4 37.3h0M506.1 155.6h0M606.7 39.7h0M495.4 183.4h0M474.2 207.0h0M563.1 94.3h0M581.2 64.4h0M522.9 132.0h0M512.3 152.9h0M511.2 165.6h0M560.6 115.0h0M611.7 27.5h0M575.1 81.4h0M505.7 171.0h0M506.9 175.0h0M568.0 69.2h0M512.8 145.2h0M488.0 181.3h0M610.7 38.8h0M607.9 38.6h0M545.8 115.8h0M474.8 209.2h0M574.5 94.7h0M544.5 130.6h0M558.5 76.6h0M531.8 150.3h0M554.6 104.9h0M583.5 85.9h0M487.0 181.2h0M576.7 57.5h0M515.7 147.7h0M600.1 46.9h0M475.5 208.0h0M474.1 209.5h0M474.3 203.9h0M531.5 117.0h0M500.4 183.8h0M594.0 38.5h0M611.8 58.4h0M527.0 133.7h0M517.8 162.6h0M597.0 54.7h0M474.4 204.8h0M552.6 119.3h0M563.0 106.8h0M503.4 177.0h0M477.0 190.5h0M492.7 177.6h0M589.6 73.1h0M474.2 200.7h0M483.4 186.5h0M478.8 193.1h0M474.3 206.4h0M480.7 188.8h0M528.5 130.4h0M475.4 205.0h0M589.9 57.2h0M559.0 98.5h0M481.2 187.0h0M485.6 199.1h0M537.3 142.0h0M560.5 86.6h0M497.4 177.9h0M510.8 174.6h0M475.3 204.1h0M474.2 208.1h0M495.4 177.4h0M515.0 166.6h0M559.4 83.8h0M539.9 113.6h0M484.7 186.3h0M526.1 152.9h0M544.1 111.0h0M523.3 145.3h0M561.0 85.2h0M526.7 155.7h0M483.1 184.2h0M499.6 171.7h0M477.2 197.8h0M530.1 123.5h0M609.5 47.4h0M489.9 195.0h0M492.1 186.3h0M608.3 46.5h0M542.3 108.4h0M474.2 207.2h0M518.8 165.5h0M478.1 192.9h0M542.1 134.3h0M476.6 191.7h0M508.7 170.0h0M551.0 100.3h0M616.3 48.8h0M561.3 97.8h0M484.3 193.9h0M474.2 209.3h0M476.3 195.6h0M548.8 122.1h0M489.4 181.5h0M497.9 181.8h0M603.4 49.2h0M518.4 146.4h0M474.5 203.6h0M565.7 83.5h0M589.4 72.2h0M509.2 172.0h0M480.0 205.3h0M480.8 203.3h0M504.2 172.5h0M560.4 83.4h0M518.8 144.0h0M508.2 170.9h0M513.2 153.0h0M605.8 36.3h0M475.0 197.8h0M475.7 197.7h0M579.5 65.0h0M476.7 201.5h0M480.6 193.2h0M549.2 99.2h0M494.4 179.5h0M481.4 186.5h0M601.5 69.8h0M522.5 136.3h0M483.0 203.6h0M474.1 196.4h0M474.2 203.9h0M567.9 107.2h0M548.5 114.5h0M498.1 177.9h0M493.9 172.9h0M541.3 125.2h0M476.7 199.7h0M617.6 27.8h0M475.0 204.3h0M508.3 167.6h0M476.4 206.7h0M517.9 142.7h0M550.4 100.9h0M542.0 138.6h0M482.1 199.0h0M485.0 195.6h0M499.3 180.5h0M474.2 192.5h0M606.3 44.1h0M486.3 192.8h0M594.9 53.5h0M546.5 104.4h0M612.7 38.2h0M476.2 200.0h0M597.4 71.2h0M474.7 210.6h0M475.1 208.2h0M561.8 90.5h0M553.5 102.5h0M494.1 174.7h0M479.1 200.9h0M501.2 168.2h0M559.7 94.6h0M530.0 144.0h0M527.4 123.8h0M504.3 161.6h0M513.8 156.5h0M530.0 149.3h0M481.9 202.2h0M518.0 144.7h0M548.6 123.8h0M492.0 193.1h0M538.3 127.7h0M486.3 197.3h0M604.3 51.0h0M615.5 45.6h0M481.9 191.0h0M594.8 72.6h0M582.5 67.0h0M592.9 37.6h0M502.7 157.7h0M479.7 198.7h0M504.8 176.8h0M510.3 152.7h0M476.3 200.5h0M516.5 164.0h0M536.1 137.4h0M523.7 140.7h0M557.1 79.3h0M598.4 55.1h0M485.5 197.8h0M565.2 78.6h0M566.9 73.0h0M522.7 128.3h0M538.9 117.6h0M576.7 70.7h0M561.2 74.8h0M498.8 169.3h0M488.6 189.4h0M585.3 44.0h0M603.9 40.0h0M579.3 55.8h0M530.3 145.0h0M474.2 195.1h0M559.5 86.8h0M525.2 135.0h0M550.8 107.0h0M539.1 134.7h0M517.8 146.5h0M523.3 153.4h0M477.0 196.0h0M476.4 193.1h0M479.8 191.3h0M494.3 171.2h0M482.6 201.9h0M542.3 106.4h0M493.6 183.6h0" stroke="#2a8c3c" stroke-width="2.60" stroke-linecap="round" fill="none"/>
<path d="M485.1 205.9h0M478.9 216.0h0M529.9 155.8h0M557.4 138.8h0M573.8 122.7h0M504.2 185.8h0M492.5 198.3h0M512.9 172.8h0M475.2 217.3h0M482.9 205.6h0M480.0 207.2h0M495.2 198.6h0M494.6 195.9h0M489.6 199.8h0M481.1 215.7h0M487.2 203.7h0M531.7 163.4h0M613.8 68.2h0M494.6 198.2h0M486.2 202.5h0M484.3 202.1h0M503.4 187.0h0M474.6 220.0h0M486.9 202.3h0M615.6 61.9h0M483.5 202.3h0M513.7 172.6h0M495.7 198.0h0M485.6 209.3h0M519.5 165.4h0M475.6 218.8h0M491.3 198.8h0M497.2 196.4h0M490.1 201.8h0M506.2 186.9h0M482.6 204.0h0M491.9 195.4h0M485.1 209.8h0M532.2 161.3h0M531.0 164.2h0M476.8 214.8h0M483.3 212.1h0M520.5 168.8h0M488.0 201.7h0M506.2 185.6h0M482.6 207.8h0M498.2 194.9h0M592.8 96.3h0M485.4 209.0h0M507.6 183.0h0M570.7 121.4h0M498.2 194.4h0M481.2 204.8h0M532.3 152.0h0M476.1 215.2h0M482.3 212.4h0M494.2 195.7h0M496.1 196.4h0M474.3 218.6h0M540.1 146.7h0M486.0 202.1h0M545.1 152.6h0M539.9 152.4h0M506.3 186.4h0M498.3 189.1h0M513.6 171.6h0M491.4 203.4h0M580.7 104.3h0M534.0 162.9h0M480.9 213.0h0M483.1 206.6h0M530.8 164.0h0M489.6 200.8h0M508.2 181.0h0M478.1 213.6h0M582.1 113.7h0M498.2 191.8h0M548.5 146.1h0M484.4 202.4h0M489.4 198.5h0M496.9 196.0h0M532.7 160.9h0M478.4 212.6h0M481.7 214.4h0M606.5 80.4h0M491.4 199.6h0M481.4 212.7h0M491.4 195.5h0M476.6 214.9h0M515.3 179.7h0M607.0 80.4h0M478.2 207.5h0M493.0 201.9h0M477.8 208.3h0M611.8 74.1h0M483.9 202.1h0M475.1 213.4h0M614.5 64.3h0M603.5 83.8h0M517.2 177.4h0M476.8 208.5h0M479.9 213.3h0M496.1 197.7h0M549.4 141.9h0M482.4 213.9h0M485.0 210.8h0M507.7 181.6h0M475.0 219.9h0M540.5 150.8h0M485.1 209.4h0M484.3 204.4h0M594.2 95.7h0M511.8 173.7h0M490.7 203.3h0M482.6 207.2h0M589.9 100.1h0M500.8 190.9h0M486.4 206.8h0M477.0 215.0h0M497.7 189.9h0M482.6 203.9h0M499.2 192.2h0M500.1 194.2h0M588.0 96.9h0M495.1 197.5h0M492.1 198.7h0M485.6 210.0h0M485.2 204.1h0M489.4 205.5h0M508.5 181.0h0M477.7 210.6h0M490.2 202.0h0M506.5 183.1h0M607.5 82.4h0M480.0 208.7h0M477.6 213.7h0M533.9 155.3h0M501.2 187.9h0M507.9 183.2h0M474.2 216.8h0M483.3 212.5h0M506.5 185.6h0M511.9 182.6h0M540.4 153.1h0M480.3 213.0h0M493.6 192.7h0M493.8 200.5h0M497.0 195.9h0M533.3 162.4h0M514.1 170.9h0M515.1 169.8h0M486.9 206.9h0M526.0 158.6h0M479.6 217.4h0M492.0 196.1h0M477.8 211.2h0M477.1 215.3h0M479.2 217.0h0M485.3 202.5h0M486.0 201.4h0M480.7 206.5h0M503.3 185.6h0M494.2 195.0h0M483.7 209.3h0M489.4 202.8h0M506.6 182.4h0M534.0 160.7h0M476.7 215.9h0M537.2 150.8h0M574.3 112.9h0M486.7 204.2h0M488.1 204.7h0M559.0 137.9h0M541.8 143.9h0M496.3 195.3h0M482.8 212.7h0M498.9 187.9h0M478.5 212.0h0M474.3 210.5h0M481.9 213.8h0M520.5 175.8h0M476.4 211.1h0M490.8 200.5h0M496.1 191.9h0M491.6 201.9h0M476.7 217.8h0M595.0 88.1h0M486.7 205.4h0M488.0 203.7h0M474.8 219.5h0M534.6 154.6h0M482.9 211.8h0M480.6 207.5h0M589.5 105.3h0M522.5 161.8h0M478.7 214.3h0M478.3 214.9h0M474.4 221.8h0M492.8 193.4h0M478.8 208.7h0M477.9 214.5h0M508.0 183.2h0M511.5 179.4h0M480.6 215.5h0M475.2 220.2h0M488.4 204.2h0M537.1 160.6h0M496.5 194.0h0M488.5 202.0h0M482.8 204.6h0M476.4 209.7h0M497.8 189.6h0M483.6 207.5h0M497.7 195.4h0M479.3 208.5h0M486.1 208.4h0M479.6 206.0h0M614.4 64.2h0M480.9 211.8h0M547.1 148.2h0M479.4 213.9h0M474.5 220.4h0M604.6 78.7h0M486.4 200.7h0M487.6 206.8h0M486.1 206.6h0M513.9 177.1h0M510.8 181.5h0M483.7 207.3h0M485.1 205.7h0M497.5 191.0h0M520.0 168.0h0M475.3 213.2h0M478.7 217.3h0M474.5 214.5h0M544.9 152.2h0M512.3 183.1h0M481.7 209.9h0M482.3 210.6h0M515.1 173.2h0M496.3 192.4h0M481.0 204.8h0M490.4 201.1h0M494.5 198.8h0M496.3 191.9h0M474.6 217.3h0M474.3 210.1h0M487.5 204.9h0M521.8 162.6h0M480.2 212.5h0M504.7 183.4h0M513.7 182.0h0M493.1 195.9h0M498.1 189.5h0M477.2 216.8h0M549.6 149.0h0M483.0 212.0h0M477.4 211.1h0M483.6 210.7h0M496.2 196.9h0M482.7 208.3h0M486.2 205.1h0M481.9 209.7h0M478.4 215.4h0M478.2 209.4h0M482.7 208.1h0M484.8 207.5h0M513.0 172.4h0M486.5 205.0h0M485.7 200.5h0M489.9 199.4h0M484.0 202.3h0M509.1 185.6h0M538.7 154.2h0M612.5 64.5h0M480.6 216.1h0M474.8 218.8h0M474.4 216.7h0M490.1 199.0h0M477.2 210.2h0M485.3 201.1h0M483.2 203.4h0M560.1 138.6h0M587.9 104.5h0M494.0 192.8h0M482.9 213.4h0M518.5 175.1h0M512.3 183.4h0M520.6 174.6h0M602.8 87.5h0M515.8 172.3h0M497.7 195.6h0M476.9 209.0h0M561.2 129.3h0M490.8 201.6h0M559.6 132.7h0M555.7 133.4h0M514.2 172.8h0M518.9 168.7h0M554.1 138.7h0M475.8 216.3h0M482.7 213.8h0M551.3 144.2h0M504.7 183.8h0M490.3 197.4h0M486.5 201.6h0M494.0 197.9h0M484.8 208.0h0M481.6 209.0h0M474.7 210.5h0M475.4 211.5h0M486.6 201.0h0M476.2 210.8h0M531.1 162.6h0M544.5 149.6h0M478.9 218.4h0M481.2 214.6h0M495.3 194.9h0M481.4 206.7h0M494.1 197.5h0M508.4 184.6h0M480.4 215.7h0M573.4 121.2h0M523.8 164.4h0M537.4 153.6h0M501.6 187.9h0M488.6 201.6h0M525.8 160.1h0M516.8 178.5h0M486.9 201.5h0M488.8 199.0h0M478.2 213.1h0M483.9 203.6h0M482.2 208.3h0M487.1 200.1h0M488.9 200.8h0M507.9 179.0h0M499.5 194.9h0M506.2 186.4h0M502.0 192.2h0M522.0 172.6h0M489.0 198.0h0M573.7 119.3h0M484.6 206.5h0M476.2 216.5h0M502.0 187.0h0M502.0 185.1h0M516.3 174.7h0M511.4 178.9h0M582.2 107.6h0M475.4 211.4h0M492.0 202.0h0M497.3 198.1h0M502.6 186.3h0M480.6 213.8h0M479.3 217.2h0M477.6 207.9h0M481.7 209.1h0M480.8 212.3h0M478.4 209.3h0M491.3 203.9h0M563.2 124.0h0M478.6 208.6h0M498.8 195.3h0M486.9 208.4h0M495.5 197.6h0M475.5 222.3h0M557.1 136.1h0M479.7 212.6h0M475.1 211.6h0M578.7 113.6h0M490.2 202.4h0M474.3 212.7h0M474.3 222.9h0M500.6 192.0h0M548.1 145.3h0M513.1 181.9h0M495.2 195.7h0M495.1 194.8h0M494.7 199.8h0M480.0 215.8h0M475.4 217.5h0M479.6 211.3h0M488.0 207.4h0M616.5 69.1h0M520.4 167.8h0M510.0 176.8h0M480.4 216.5h0M485.4 210.4h0M503.8 190.5h0M504.6 187.7h0M490.3 199.4h0M475.0 221.3h0M480.9 206.2h0M485.2 205.5h0M481.2 209.9h0M491.2 202.4h0M476.3 219.2h0M538.2 149.9h0M476.6 215.1h0M574.3 115.1h0M487.3 202.4h0M495.8 197.4h0M475.3 214.9h0M499.2 192.9h0M489.5 199.4h0M494.0 193.6h0M499.1 187.9h0M490.4 200.1h0M480.4 204.9h0M475.3 219.4h0M501.0 193.1h0M560.0 126.7h0M487.9 204.4h0M475.2 214.3h0M492.6 199.6h0M555.7 131.7h0M543.2 144.0h0M505.4 182.1h0M510.7 181.2h0M608.7 79.5h0M476.9 218.4h0M478.0 216.0h0M479.0 214.3h0M474.5 216.9h0M474.8 219.3h0M477.3 210.5h0M479.2 212.1h0M606.6 79.2h0M513.1 172.2h0M476.4 214.2h0M488.2 204.2h0M485.1 210.7h0M543.8 154.7h0M512.3 179.2h0M486.1 203.1h0M484.9 206.2h0M605.6 78.1h0M489.4 197.3h0M547.3 147.8h0M538.9 152.2h0M482.2 205.9h0M489.0 204.9h0M476.7 216.6h0M480.4 208.3h0M531.7 156.9h0M500.1 188.7h0M477.7 210.0h0M496.4 199.2h0M480.8 207.4h0M513.5 181.3h0M476.5 211.0h0M476.8 208.3h0M495.4 192.1h0M479.0 206.1h0M478.6 215.1h0M477.2 219.9h0M479.0 209.2h0M485.4 207.4h0M513.4 177.0h0M494.2 193.6h0M479.6 212.0h0M474.4 210.8h0M491.3 203.1h0M490.6 203.4h0M613.0 63.5h0M489.0 203.9h0M478.7 211.0h0M474.2 213.8h0M515.8 171.3h0M517.5 168.6h0M517.7 167.8h0M475.8 216.9h0M481.8 204.9h0M479.9 208.0h0M484.4 201.6h0M479.4 216.2h0M513.8 173.4h0M480.1 212.6h0M486.1 208.7h0M475.9 210.6h0M589.6 95.8h0M482.8 203.7h0M568.5 119.8h0M516.4 175.2h0M481.5 212.2h0M544.1 145.4h0M486.7 207.0h0M483.6 207.8h0M489.1 197.5h0M608.5 76.4h0M490.8 197.4h0M497.3 195.6h0M496.9 189.9h0M505.4 186.5h0M485.8 208.1h0M478.3 215.9h0M479.3 208.4h0M482.1 207.3h0M509.4 180.7h0M507.9 180.1h0M520.9 168.6h0M477.5 214.1h0M495.7 192.3h0M502.0 188.1h0M495.1 196.6h0M606.9 73.2h0M527.2 167.4h0M483.7 211.0h0M511.4 183.9h0M571.7 122.9h0M490.5 201.9h0M489.4 200.5h0M546.2 143.9h0M475.7 221.4h0M611.7 69.0h0M591.6 95.3h0M486.5 204.6h0" stroke="#ec2424" stroke-width="2.60" stroke-linecap="round" fill="none"/>
<path d="M510.3 131.6h0M489.9 164.2h0M484.9 178.2h0M533.7 99.0h0M542.1 50.4h0M493.7 149.1h0M475.6 184.6h0M487.7 171.5h0M532.3 105.3h0M529.0 108.7h0M511.6 129.5h0M499.4 131.3h0M522.6 118.2h0M485.0 173.0h0M515.1 133.4h0M529.2 73.6h0M538.8 87.9h0M480.5 174.4h0M498.5 152.9h0M474.8 186.4h0M511.4 114.7h0M487.8 162.2h0M498.1 145.6h0M490.2 166.1h0M488.1 163.1h0M493.2 163.2h0M492.9 150.3h0M508.3 141.1h0M491.8 161.8h0M474.8 184.9h0M534.5 99.0h0M501.3 146.3h0M480.4 180.4h0M475.3 184.5h0M488.5 164.3h0M524.3 97.6h0M487.2 174.8h0M509.4 120.8h0M521.1 119.2h0M475.2 184.2h0M505.6 145.9h0M514.4 132.7h0M507.7 127.6h0M515.0 130.4h0M533.7 57.4h0M541.8 54.8h0M485.4 165.2h0M506.3 125.1h0M510.2 134.6h0M528.1 85.5h0M480.8 178.9h0M477.8 182.2h0M542.4 73.6h0M490.3 159.9h0M476.0 185.7h0M517.7 124.6h0M506.0 122.4h0M502.2 152.0h0M480.2 177.9h0M538.5 65.2h0M513.3 115.6h0M486.1 169.4h0M474.7 186.1h0M524.0 112.1h0M509.1 119.8h0M478.2 178.5h0M481.9 170.8h0M487.2 167.7h0M537.9 57.5h0M496.4 158.1h0M506.3 129.1h0M475.5 185.2h0M535.0 76.7h0M479.2 178.5h0M494.1 146.5h0M496.7 162.0h0M478.4 183.3h0M538.2 80.7h0M487.5 161.8h0M480.2 177.1h0M537.9 53.1h0M478.4 181.1h0M482.3 173.5h0M482.0 180.2h0M483.3 179.8h0M515.1 123.6h0M490.6 167.6h0M489.3 169.0h0M487.7 165.4h0M478.9 178.6h0M487.4 175.2h0M477.0 180.6h0M475.1 186.0h0M529.1 108.4h0M480.4 180.5h0M526.3 111.5h0M537.6 93.7h0M502.3 130.5h0M501.8 139.5h0M493.0 163.2h0M542.7 72.1h0M508.4 125.6h0M539.4 84.9h0M478.2 178.3h0M498.1 142.1h0M507.2 121.4h0M526.5 87.2h0M474.7 185.3h0M475.1 184.4h0M474.7 185.4h0M508.3 143.7h0M518.5 107.0h0M477.0 180.6h0M504.4 136.4h0M537.6 89.5h0M479.0 176.8h0M478.4 178.5h0M480.4 174.9h0M491.1 161.1h0M505.7 136.3h0M498.8 140.6h0M477.5 179.4h0M525.1 110.0h0M481.0 178.5h0M520.2 106.5h0M485.5 168.0h0M479.8 177.0h0M518.5 124.5h0M502.7 135.3h0M540.4 80.7h0M494.6 144.6h0M477.3 179.9h0M488.5 169.8h0M543.0 72.4h0M482.1 179.8h0M513.2 114.4h0M481.7 176.7h0M484.0 169.3h0M488.0 166.4h0M534.3 92.4h0M538.3 74.1h0M508.4 135.6h0M513.1 111.6h0M504.5 123.8h0M495.4 164.3h0M534.2 75.6h0M506.3 128.8h0M475.1 185.9h0M476.2 183.3h0M528.2 84.5h0M524.2 107.0h0M475.0 185.8h0M478.7 182.0h0M481.7 180.4h0M512.5 117.1h0M525.1 80.1h0M481.6 171.6h0M519.8 105.5h0M540.5 69.6h0M474.9 186.5h0M485.4 169.2h0M502.4 133.1h0M474.8 186.4h0M501.5 135.6h0M492.7 164.6h0M485.3 168.5h0M515.2 124.5h0M538.2 96.9h0M481.5 177.6h0M523.3 99.6h0M511.4 107.3h0M488.5 172.1h0M491.2 161.7h0M477.5 185.0h0M515.9 96.4h0M536.1 82.8h0M494.2 148.3h0M541.9 75.7h0M538.3 63.2h0M477.9 181.9h0M474.7 186.1h0M499.1 135.6h0M486.4 168.4h0M510.4 123.8h0M506.2 133.4h0M505.9 133.8h0M534.1 99.0h0M529.2 78.0h0M474.8 185.4h0M488.3 167.6h0M498.7 138.2h0M496.4 146.5h0M480.8 182.3h0M510.8 107.4h0M475.9 182.8h0M489.6 163.3h0M483.0 172.7h0M492.9 152.7h0M483.5 176.8h0M507.2 143.0h0M540.8 64.3h0M540.5 86.7h0M514.4 127.5h0M476.0 184.4h0M495.4 151.2h0M495.0 160.6h0M512.0 129.4h0M484.2 169.8h0M512.0 113.7h0M535.1 59.9h0M480.8 172.4h0M498.9 143.1h0M483.6 176.0h0M501.7 154.1h0M515.4 120.5h0M512.9 111.7h0M506.6 144.9h0M502.2 143.6h0M514.9 108.3h0M497.6 140.6h0M477.8 179.6h0M540.2 50.3h0M524.0 104.5h0M536.2 73.1h0M480.6 177.4h0M527.8 84.7h0M526.1 115.2h0M540.2 49.0h0M497.6 135.1h0M479.2 180.9h0M478.7 179.1h0M534.7 56.5h0M475.9 183.3h0M501.8 148.2h0M532.3 80.4h0M475.1 185.7h0M512.0 109.4h0M479.9 177.9h0M476.1 182.4h0M474.7 184.9h0M502.3 131.1h0M510.9 123.4h0M493.1 164.0h0M484.0 179.7h0M483.1 173.0h0M501.3 138.7h0M499.5 130.4h0M527.8 102.7h0M501.7 125.8h0M483.0 172.5h0M509.0 121.6h0M501.6 132.8h0M489.1 159.9h0M502.5 143.6h0M508.3 122.4h0M534.9 71.3h0M499.1 148.8h0M492.2 164.1h0M506.7 119.6h0M504.5 144.3h0M475.0 184.5h0M484.5 170.8h0M537.6 51.9h0M501.5 127.7h0M490.8 157.0h0M511.7 136.3h0M524.0 113.7h0M543.2 89.5h0M518.8 122.2h0M500.4 146.1h0M530.3 96.9h0M515.4 99.0h0M475.5 184.1h0M476.0 183.1h0M528.5 106.9h0M531.2 86.6h0M485.2 165.6h0M489.6 170.1h0M486.4 164.6h0M541.8 70.8h0M497.0 146.1h0M526.7 115.3h0M522.4 85.8h0M490.9 164.4h0M538.9 77.2h0M489.1 160.9h0M495.5 148.7h0M484.0 171.5h0M488.6 162.9h0M496.9 137.6h0M500.9 130.5h0M493.2 154.4h0M483.0 174.0h0M510.4 134.9h0M500.7 129.1h0M480.0 178.7h0M526.5 98.5h0M475.0 185.6h0M494.7 144.3h0M510.4 115.3h0M488.6 161.2h0M525.6 113.7h0M510.2 111.6h0M509.3 111.4h0M482.7 174.3h0M499.9 149.2h0M521.1 108.2h0M509.2 117.6h0M516.0 128.4h0M475.4 184.1h0M509.3 138.1h0M477.3 182.3h0M479.0 176.3h0M481.0 172.5h0M515.0 113.7h0M511.1 116.8h0M484.0 174.3h0M475.6 186.2h0M537.4 56.7h0M518.5 124.4h0M507.0 123.7h0M492.6 161.7h0M516.0 131.8h0M495.3 158.6h0M493.5 156.1h0M491.9 154.3h0M531.0 71.1h0M522.3 103.6h0M483.2 170.7h0M476.9 182.4h0M568.2 20.1h0M549.6 33.7h0M563.5 33.6h0M578.0 34.2h0M572.3 46.0h0M557.8 47.8h0M560.9 47.3h0M545.9 49.7h0M557.8 50.6h0M574.5 50.4h0M544.2 54.8h0M572.3 54.4h0M532.1 58.3h0M540.9 60.4h0M566.1 58.2h0M562.6 62.3h0M566.6 61.4h0M540.7 64.5h0M550.9 66.7h0M555.0 66.9h0M528.5 68.4h0M557.8 69.8h0" stroke="#2d46a2" stroke-width="2.60" stroke-linecap="round" fill="none"/>
<path d="M618.9 19.7h0M628.5 19.9h0M638.2 19.6h0M630.1 23.0h0M635.6 24.9h0M619.2 26.7h0M619.9 28.0h0M622.1 32.1h0M625.7 31.1h0M625.4 34.8h0M629.8 34.2h0M630.8 36.7h0M633.7 33.3h0M636.7 33.1h0M644.3 36.1h0M647.1 34.3h0M655.2 37.9h0M620.5 40.4h0M624.6 39.8h0M628.3 42.5h0M637.8 42.5h0M642.2 39.8h0M653.3 42.0h0M619.9 44.1h0M623.0 43.7h0M619.6 47.0h0M623.6 50.0h0M626.7 48.7h0M629.2 50.9h0M633.5 50.9h0M636.6 53.4h0M623.3 53.4h0M642.4 48.7h0M647.1 48.5h0M651.5 46.4h0M650.9 53.7h0M622.3 59.6h0M632.5 60.9h0M636.0 59.0h0M638.5 59.6h0M639.7 59.3h0M640.9 62.1h0M645.9 58.1h0M650.2 59.6h0M659.6 59.6h0M662.0 61.5h0M623.0 67.1h0M620.5 69.3h0M625.4 70.5h0M628.5 67.1h0M631.0 67.7h0M640.9 66.8h0M642.8 66.1h0M647.8 68.6h0M650.2 65.8h0M653.3 67.3h0M657.1 66.5h0M656.5 71.0h0M662.3 73.5h0M665.8 71.4h0M668.9 69.3h0M671.7 67.8h0" stroke="#000000" stroke-width="2.60" stroke-linecap="round" fill="none"/>
<rect x="407.60" y="7.70" width="276.60" height="256.70" fill="none" stroke="#000" stroke-width="1.10"/>
<line x1="419.20" y1="264.40" x2="419.20" y2="268.90" stroke="#000" stroke-width="1.00" stroke-linecap="butt"/>
<text x="419.20" y="286.20" font-family="Liberation Serif" font-size="16.50" text-anchor="middle" fill="#000">0</text>
<line x1="403.10" y1="252.60" x2="407.60" y2="252.60" stroke="#000" stroke-width="1.00" stroke-linecap="butt"/>
<text x="388.61" y="258.20" font-family="Liberation Serif" font-size="16.50" fill="#000" xml:space="preserve">0</text>
<line x1="474.70" y1="264.40" x2="474.70" y2="268.90" stroke="#000" stroke-width="1.00" stroke-linecap="butt"/>
<text x="474.70" y="286.20" font-family="Liberation Serif" font-size="16.50" text-anchor="middle" fill="#000">5</text>
<line x1="403.10" y1="199.67" x2="407.60" y2="199.67" stroke="#000" stroke-width="1.00" stroke-linecap="butt"/>
<text x="388.61" y="205.27" font-family="Liberation Serif" font-size="16.50" fill="#000" xml:space="preserve">5</text>
<line x1="530.20" y1="264.40" x2="530.20" y2="268.90" stroke="#000" stroke-width="1.00" stroke-linecap="butt"/>
<text x="530.20" y="286.20" font-family="Liberation Serif" font-size="16.50" text-anchor="middle" fill="#000">10</text>
<line x1="403.10" y1="146.75" x2="407.60" y2="146.75" stroke="#000" stroke-width="1.00" stroke-linecap="butt"/>
<text x="380.36" y="152.35" font-family="Liberation Serif" font-size="16.50" fill="#000" xml:space="preserve">10</text>
<line x1="585.70" y1="264.40" x2="585.70" y2="268.90" stroke="#000" stroke-width="1.00" stroke-linecap="butt"/>
<text x="585.70" y="286.20" font-family="Liberation Serif" font-size="16.50" text-anchor="middle" fill="#000">15</text>
<line x1="403.10" y1="93.82" x2="407.60" y2="93.82" stroke="#000" stroke-width="1.00" stroke-linecap="butt"/>
<text x="380.36" y="99.42" font-family="Liberation Serif" font-size="16.50" fill="#000" xml:space="preserve">15</text>
<line x1="641.20" y1="264.40" x2="641.20" y2="268.90" stroke="#000" stroke-width="1.00" stroke-linecap="butt"/>
<text x="641.20" y="286.20" font-family="Liberation Serif" font-size="16.50" text-anchor="middle" fill="#000">20</text>
<line x1="403.10" y1="40.90" x2="407.60" y2="40.90" stroke="#000" stroke-width="1.00" stroke-linecap="butt"/>
<text x="380.36" y="46.50" font-family="Liberation Serif" font-size="16.50" fill="#000" xml:space="preserve">20</text>
<path d="M80.0 382.3h5.0v5.0h-5.0zM116.3 395.8h5.0v5.0h-5.0zM120.8 395.8h5.0v5.0h-5.0z" fill="#46327e" shape-rendering="crispEdges"/>
<path d="M84.6 382.3h5.0v5.0h-5.0z" fill="#471365" shape-rendering="crispEdges"/>
<path d="M89.1 382.3h5.0v5.0h-5.0zM116.3 391.3h5.0v5.0h-5.0zM120.8 391.3h4.5v5.0h-4.5z" fill="#482374" shape-rendering="crispEdges"/>
<path d="M93.6 382.3h5.0v5.0h-5.0zM111.8 386.8h4.5v5.0h-4.5z" fill="#48186a" shape-rendering="crispEdges"/>
<path d="M98.2 382.3h4.5v5.0h-4.5z" fill="#481668" shape-rendering="crispEdges"/>
<path d="M75.5 386.8h5.0v5.0h-5.0zM89.1 391.3h5.0v5.0h-5.0zM98.2 395.8h5.0v5.0h-5.0zM102.7 395.8h5.0v5.0h-5.0zM111.8 395.8h5.0v5.0h-5.0zM125.4 400.3h5.0v5.0h-5.0zM129.9 404.9h4.5v5.0h-4.5z" fill="#453781" shape-rendering="crispEdges"/>
<path d="M80.0 386.8h5.0v5.0h-5.0z" fill="#482878" shape-rendering="crispEdges"/>
<path d="M84.6 386.8h5.0v5.0h-5.0zM102.7 391.3h5.0v5.0h-5.0z" fill="#472d7b" shape-rendering="crispEdges"/>
<path d="M89.1 386.8h5.0v5.0h-5.0zM98.2 386.8h5.0v5.0h-5.0z" fill="#482576" shape-rendering="crispEdges"/>
<path d="M93.6 386.8h5.0v5.0h-5.0zM107.2 395.8h5.0v5.0h-5.0zM111.8 400.3h5.0v5.0h-5.0zM120.8 400.3h5.0v5.0h-5.0zM107.2 404.9h5.0v5.0h-5.0z" fill="#443b84" shape-rendering="crispEdges"/>
<path d="M102.7 386.8h5.0v5.0h-5.0z" fill="#482071" shape-rendering="crispEdges"/>
<path d="M107.2 386.8h5.0v5.0h-5.0z" fill="#481d6f" shape-rendering="crispEdges"/>
<path d="M75.5 391.3h5.0v5.0h-5.0zM80.0 391.3h5.0v5.0h-5.0zM84.6 391.3h5.0v5.0h-5.0zM102.7 400.3h5.0v5.0h-5.0z" fill="#433e85" shape-rendering="crispEdges"/>
<path d="M93.6 391.3h5.0v5.0h-5.0zM129.9 400.3h4.5v5.0h-4.5zM120.8 404.9h5.0v5.0h-5.0z" fill="#443983" shape-rendering="crispEdges"/>
<path d="M98.2 391.3h5.0v5.0h-5.0z" fill="#472f7d" shape-rendering="crispEdges"/>
<path d="M107.2 391.3h5.0v5.0h-5.0z" fill="#463480" shape-rendering="crispEdges"/>
<path d="M111.8 391.3h5.0v5.0h-5.0z" fill="#472a7a" shape-rendering="crispEdges"/>
<path d="M75.5 395.8h5.0v5.0h-5.0zM80.0 400.3h5.0v5.0h-5.0zM116.3 413.9h5.0v5.0h-5.0zM139.0 422.9h4.5v5.0h-4.5z" fill="#3b528b" shape-rendering="crispEdges"/>
<path d="M80.0 395.8h5.0v5.0h-5.0zM93.6 404.9h5.0v5.0h-5.0zM102.7 409.4h5.0v5.0h-5.0zM107.2 409.4h5.0v5.0h-5.0zM116.3 409.4h5.0v5.0h-5.0z" fill="#3a548c" shape-rendering="crispEdges"/>
<path d="M84.6 395.8h5.0v5.0h-5.0zM93.6 395.8h5.0v5.0h-5.0zM98.2 400.3h5.0v5.0h-5.0zM120.8 409.4h5.0v5.0h-5.0z" fill="#404588" shape-rendering="crispEdges"/>
<path d="M89.1 395.8h5.0v5.0h-5.0zM116.3 400.3h5.0v5.0h-5.0z" fill="#414287" shape-rendering="crispEdges"/>
<path d="M125.4 395.8h4.5v5.0h-4.5z" fill="#481b6d" shape-rendering="crispEdges"/>
<path d="M75.5 400.3h5.0v5.0h-5.0zM134.4 422.9h5.0v5.0h-5.0z" fill="#34618d" shape-rendering="crispEdges"/>
<path d="M84.6 400.3h5.0v5.0h-5.0zM111.8 404.9h5.0v5.0h-5.0zM125.4 409.4h5.0v5.0h-5.0zM134.4 413.9h4.5v5.0h-4.5z" fill="#3e4989" shape-rendering="crispEdges"/>
<path d="M89.1 400.3h5.0v5.0h-5.0zM98.2 409.4h5.0v5.0h-5.0zM120.8 413.9h5.0v5.0h-5.0zM134.4 418.4h4.5v5.0h-4.5z" fill="#3c508b" shape-rendering="crispEdges"/>
<path d="M93.6 400.3h5.0v5.0h-5.0zM98.2 404.9h5.0v5.0h-5.0zM102.7 404.9h5.0v5.0h-5.0zM111.8 409.4h5.0v5.0h-5.0z" fill="#3d4e8a" shape-rendering="crispEdges"/>
<path d="M107.2 400.3h5.0v5.0h-5.0zM125.4 404.9h5.0v5.0h-5.0zM129.9 409.4h5.0v5.0h-5.0z" fill="#424086" shape-rendering="crispEdges"/>
<path d="M75.5 404.9h5.0v5.0h-5.0zM93.6 409.4h5.0v5.0h-5.0zM102.7 413.9h5.0v5.0h-5.0zM107.2 422.9h5.0v5.0h-5.0zM116.3 422.9h5.0v5.0h-5.0zM129.9 427.4h5.0v5.0h-5.0z" fill="#32658e" shape-rendering="crispEdges"/>
<path d="M80.0 404.9h5.0v5.0h-5.0zM116.3 418.4h5.0v5.0h-5.0zM120.8 418.4h5.0v5.0h-5.0z" fill="#365d8d" shape-rendering="crispEdges"/>
<path d="M84.6 404.9h5.0v5.0h-5.0zM107.2 413.9h5.0v5.0h-5.0zM134.4 427.4h5.0v5.0h-5.0z" fill="#355f8d" shape-rendering="crispEdges"/>
<path d="M89.1 404.9h5.0v5.0h-5.0zM129.9 418.4h5.0v5.0h-5.0z" fill="#375b8d" shape-rendering="crispEdges"/>
<path d="M116.3 404.9h5.0v5.0h-5.0zM129.9 413.9h5.0v5.0h-5.0z" fill="#3f4788" shape-rendering="crispEdges"/>
<path d="M75.5 409.4h5.0v5.0h-5.0zM80.0 413.9h5.0v5.0h-5.0zM89.1 413.9h5.0v5.0h-5.0zM116.3 431.9h5.0v5.0h-5.0zM134.4 436.4h5.0v5.0h-5.0z" fill="#2b748e" shape-rendering="crispEdges"/>
<path d="M80.0 409.4h5.0v5.0h-5.0zM84.6 409.4h5.0v5.0h-5.0zM111.8 418.4h5.0v5.0h-5.0zM129.9 422.9h5.0v5.0h-5.0zM125.4 427.4h5.0v5.0h-5.0z" fill="#33638d" shape-rendering="crispEdges"/>
<path d="M89.1 409.4h5.0v5.0h-5.0zM98.2 413.9h5.0v5.0h-5.0zM120.8 422.9h5.0v5.0h-5.0zM139.0 427.4h4.5v5.0h-4.5zM139.0 431.9h4.5v5.0h-4.5z" fill="#31678e" shape-rendering="crispEdges"/>
<path d="M134.4 409.4h4.5v5.0h-4.5z" fill="#3e4c8a" shape-rendering="crispEdges"/>
<path d="M75.5 413.9h5.0v5.0h-5.0zM111.8 427.4h5.0v5.0h-5.0zM111.8 431.9h5.0v5.0h-5.0zM134.4 445.4h4.5v4.5h-4.5z" fill="#297a8e" shape-rendering="crispEdges"/>
<path d="M84.6 413.9h5.0v5.0h-5.0zM107.2 418.4h5.0v5.0h-5.0zM111.8 422.9h5.0v5.0h-5.0z" fill="#30698e" shape-rendering="crispEdges"/>
<path d="M93.6 413.9h5.0v5.0h-5.0zM93.6 418.4h5.0v5.0h-5.0zM125.4 431.9h5.0v5.0h-5.0z" fill="#2f6b8e" shape-rendering="crispEdges"/>
<path d="M111.8 413.9h5.0v5.0h-5.0zM125.4 413.9h5.0v5.0h-5.0zM125.4 418.4h5.0v5.0h-5.0zM125.4 422.9h5.0v5.0h-5.0z" fill="#39568c" shape-rendering="crispEdges"/>
<path d="M75.5 418.4h5.0v5.0h-5.0zM98.2 431.9h5.0v5.0h-5.0z" fill="#25838e" shape-rendering="crispEdges"/>
<path d="M80.0 418.4h5.0v5.0h-5.0zM89.1 422.9h5.0v5.0h-5.0zM111.8 436.4h5.0v5.0h-5.0zM120.8 436.4h5.0v5.0h-5.0zM129.9 445.4h5.0v4.5h-5.0z" fill="#27808e" shape-rendering="crispEdges"/>
<path d="M84.6 418.4h5.0v5.0h-5.0zM98.2 422.9h5.0v5.0h-5.0zM98.2 427.4h5.0v5.0h-5.0zM102.7 427.4h5.0v5.0h-5.0zM116.3 436.4h5.0v5.0h-5.0zM125.4 440.9h5.0v5.0h-5.0zM129.9 440.9h5.0v5.0h-5.0zM139.0 440.9h4.5v5.0h-4.5z" fill="#277e8e" shape-rendering="crispEdges"/>
<path d="M89.1 418.4h5.0v5.0h-5.0zM139.0 436.4h4.5v5.0h-4.5z" fill="#2d718e" shape-rendering="crispEdges"/>
<path d="M98.2 418.4h5.0v5.0h-5.0zM134.4 431.9h5.0v5.0h-5.0z" fill="#2e6d8e" shape-rendering="crispEdges"/>
<path d="M102.7 418.4h5.0v5.0h-5.0zM120.8 431.9h5.0v5.0h-5.0zM129.9 431.9h5.0v5.0h-5.0z" fill="#2e6f8e" shape-rendering="crispEdges"/>
<path d="M75.5 422.9h5.0v5.0h-5.0zM84.6 427.4h5.0v5.0h-5.0zM116.3 440.9h5.0v5.0h-5.0z" fill="#218f8d" shape-rendering="crispEdges"/>
<path d="M80.0 422.9h5.0v5.0h-5.0zM93.6 431.9h5.0v5.0h-5.0zM107.2 431.9h5.0v5.0h-5.0zM102.7 436.4h5.0v5.0h-5.0z" fill="#23898e" shape-rendering="crispEdges"/>
<path d="M84.6 422.9h5.0v5.0h-5.0zM120.8 445.4h5.0v4.5h-5.0z" fill="#24878e" shape-rendering="crispEdges"/>
<path d="M93.6 422.9h5.0v5.0h-5.0zM102.7 431.9h5.0v5.0h-5.0zM107.2 436.4h5.0v5.0h-5.0z" fill="#25858e" shape-rendering="crispEdges"/>
<path d="M102.7 422.9h5.0v5.0h-5.0zM107.2 427.4h5.0v5.0h-5.0z" fill="#2a788e" shape-rendering="crispEdges"/>
<path d="M75.5 427.4h5.0v5.0h-5.0zM89.1 431.9h5.0v5.0h-5.0zM89.1 436.4h5.0v5.0h-5.0zM93.6 436.4h5.0v5.0h-5.0zM107.2 440.9h5.0v5.0h-5.0zM111.8 445.4h5.0v4.5h-5.0z" fill="#1f948c" shape-rendering="crispEdges"/>
<path d="M80.0 427.4h5.0v5.0h-5.0z" fill="#21918c" shape-rendering="crispEdges"/>
<path d="M89.1 427.4h5.0v5.0h-5.0zM125.4 445.4h5.0v4.5h-5.0z" fill="#228b8d" shape-rendering="crispEdges"/>
<path d="M93.6 427.4h5.0v5.0h-5.0zM111.8 440.9h5.0v5.0h-5.0z" fill="#228d8d" shape-rendering="crispEdges"/>
<path d="M116.3 427.4h5.0v5.0h-5.0zM120.8 427.4h5.0v5.0h-5.0zM129.9 436.4h5.0v5.0h-5.0z" fill="#2c728e" shape-rendering="crispEdges"/>
<path d="M75.5 431.9h5.0v5.0h-5.0zM98.2 445.4h5.0v4.5h-5.0z" fill="#21a585" shape-rendering="crispEdges"/>
<path d="M80.0 431.9h5.0v5.0h-5.0zM102.7 445.4h5.0v4.5h-5.0z" fill="#1e9c89" shape-rendering="crispEdges"/>
<path d="M84.6 431.9h5.0v5.0h-5.0zM116.3 445.4h5.0v4.5h-5.0z" fill="#1f968b" shape-rendering="crispEdges"/>
<path d="M75.5 436.4h5.0v5.0h-5.0zM84.6 440.9h5.0v5.0h-5.0z" fill="#28ae80" shape-rendering="crispEdges"/>
<path d="M80.0 436.4h5.0v5.0h-5.0zM80.0 440.9h5.0v5.0h-5.0z" fill="#22a785" shape-rendering="crispEdges"/>
<path d="M84.6 436.4h5.0v5.0h-5.0z" fill="#1fa187" shape-rendering="crispEdges"/>
<path d="M98.2 436.4h5.0v5.0h-5.0z" fill="#20928c" shape-rendering="crispEdges"/>
<path d="M125.4 436.4h5.0v5.0h-5.0zM134.4 440.9h5.0v5.0h-5.0z" fill="#2a768e" shape-rendering="crispEdges"/>
<path d="M75.5 440.9h5.0v5.0h-5.0z" fill="#3fbc73" shape-rendering="crispEdges"/>
<path d="M89.1 440.9h5.0v5.0h-5.0z" fill="#20a386" shape-rendering="crispEdges"/>
<path d="M93.6 440.9h5.0v5.0h-5.0z" fill="#1fa088" shape-rendering="crispEdges"/>
<path d="M98.2 440.9h5.0v5.0h-5.0z" fill="#1f9e89" shape-rendering="crispEdges"/>
<path d="M102.7 440.9h5.0v5.0h-5.0zM107.2 445.4h5.0v4.5h-5.0z" fill="#1f9a8a" shape-rendering="crispEdges"/>
<path d="M120.8 440.9h5.0v5.0h-5.0z" fill="#26828e" shape-rendering="crispEdges"/>
<path d="M75.5 445.4h5.0v4.5h-5.0z" fill="#4ec36b" shape-rendering="crispEdges"/>
<path d="M80.0 445.4h5.0v4.5h-5.0z" fill="#4ac16d" shape-rendering="crispEdges"/>
<path d="M84.6 445.4h5.0v4.5h-5.0z" fill="#2fb47c" shape-rendering="crispEdges"/>
<path d="M89.1 445.4h5.0v4.5h-5.0z" fill="#26ad81" shape-rendering="crispEdges"/>
<path d="M93.6 445.4h5.0v4.5h-5.0z" fill="#23a983" shape-rendering="crispEdges"/>
<rect x="75.50" y="355.30" width="95.20" height="94.60" fill="none" stroke="#000" stroke-width="1.10"/>
<path d="M193.9 382.3h5.0v5.0h-5.0zM203.0 382.3h5.0v5.0h-5.0z" fill="#472a7a" shape-rendering="crispEdges"/>
<path d="M198.4 382.3h5.0v5.0h-5.0zM212.0 382.3h5.0v5.0h-5.0z" fill="#482576" shape-rendering="crispEdges"/>
<path d="M207.5 382.3h5.0v5.0h-5.0zM216.6 386.8h5.0v5.0h-5.0z" fill="#472d7b" shape-rendering="crispEdges"/>
<path d="M216.6 382.3h4.5v5.0h-4.5zM207.5 386.8h5.0v5.0h-5.0zM225.6 386.8h4.5v5.0h-4.5zM221.1 391.3h5.0v5.0h-5.0zM230.2 391.3h4.5v5.0h-4.5z" fill="#482878" shape-rendering="crispEdges"/>
<path d="M180.3 386.8h5.0v5.0h-5.0zM180.3 391.3h5.0v5.0h-5.0zM184.8 391.3h5.0v5.0h-5.0zM212.0 400.3h5.0v5.0h-5.0zM221.1 404.9h5.0v5.0h-5.0z" fill="#3d4e8a" shape-rendering="crispEdges"/>
<path d="M184.8 386.8h5.0v5.0h-5.0zM198.4 391.3h5.0v5.0h-5.0zM221.1 400.3h5.0v5.0h-5.0zM225.6 400.3h5.0v5.0h-5.0zM234.7 404.9h5.0v5.0h-5.0z" fill="#414287" shape-rendering="crispEdges"/>
<path d="M189.4 386.8h5.0v5.0h-5.0zM212.0 395.8h5.0v5.0h-5.0z" fill="#424086" shape-rendering="crispEdges"/>
<path d="M193.9 386.8h5.0v5.0h-5.0zM203.0 386.8h5.0v5.0h-5.0zM225.6 395.8h5.0v5.0h-5.0zM230.2 395.8h5.0v5.0h-5.0z" fill="#443983" shape-rendering="crispEdges"/>
<path d="M198.4 386.8h5.0v5.0h-5.0zM225.6 391.3h5.0v5.0h-5.0zM234.7 395.8h4.5v5.0h-4.5z" fill="#472f7d" shape-rendering="crispEdges"/>
<path d="M212.0 386.8h5.0v5.0h-5.0zM221.1 386.8h5.0v5.0h-5.0z" fill="#46327e" shape-rendering="crispEdges"/>
<path d="M189.4 391.3h5.0v5.0h-5.0zM239.2 404.9h4.5v5.0h-4.5zM243.8 409.4h4.5v5.0h-4.5z" fill="#3f4788" shape-rendering="crispEdges"/>
<path d="M193.9 391.3h5.0v5.0h-5.0zM203.0 395.8h5.0v5.0h-5.0zM216.6 400.3h5.0v5.0h-5.0zM230.2 404.9h5.0v5.0h-5.0z" fill="#404588" shape-rendering="crispEdges"/>
<path d="M203.0 391.3h5.0v5.0h-5.0zM234.7 400.3h5.0v5.0h-5.0z" fill="#433e85" shape-rendering="crispEdges"/>
<path d="M207.5 391.3h5.0v5.0h-5.0zM221.1 395.8h5.0v5.0h-5.0zM239.2 400.3h4.5v5.0h-4.5z" fill="#443b84" shape-rendering="crispEdges"/>
<path d="M212.0 391.3h5.0v5.0h-5.0zM216.6 391.3h5.0v5.0h-5.0z" fill="#463480" shape-rendering="crispEdges"/>
<path d="M180.3 395.8h5.0v5.0h-5.0zM225.6 418.4h5.0v5.0h-5.0z" fill="#34618d" shape-rendering="crispEdges"/>
<path d="M184.8 395.8h5.0v5.0h-5.0zM212.0 409.4h5.0v5.0h-5.0zM216.6 409.4h5.0v5.0h-5.0zM239.2 418.4h5.0v5.0h-5.0z" fill="#355f8d" shape-rendering="crispEdges"/>
<path d="M189.4 395.8h5.0v5.0h-5.0zM207.5 395.8h5.0v5.0h-5.0z" fill="#3e4989" shape-rendering="crispEdges"/>
<path d="M193.9 395.8h5.0v5.0h-5.0zM234.7 409.4h5.0v5.0h-5.0zM230.2 413.9h5.0v5.0h-5.0zM234.7 413.9h5.0v5.0h-5.0z" fill="#3b528b" shape-rendering="crispEdges"/>
<path d="M198.4 395.8h5.0v5.0h-5.0zM230.2 400.3h5.0v5.0h-5.0zM225.6 404.9h5.0v5.0h-5.0zM243.8 413.9h4.5v5.0h-4.5z" fill="#3e4c8a" shape-rendering="crispEdges"/>
<path d="M216.6 395.8h5.0v5.0h-5.0z" fill="#453781" shape-rendering="crispEdges"/>
<path d="M180.3 400.3h5.0v5.0h-5.0zM234.7 427.4h5.0v5.0h-5.0zM243.8 427.4h4.5v5.0h-4.5z" fill="#30698e" shape-rendering="crispEdges"/>
<path d="M184.8 400.3h5.0v5.0h-5.0zM207.5 413.9h5.0v5.0h-5.0zM216.6 413.9h5.0v5.0h-5.0zM216.6 418.4h5.0v5.0h-5.0zM230.2 422.9h5.0v5.0h-5.0z" fill="#31678e" shape-rendering="crispEdges"/>
<path d="M189.4 400.3h5.0v5.0h-5.0zM207.5 400.3h5.0v5.0h-5.0zM230.2 418.4h5.0v5.0h-5.0z" fill="#38598c" shape-rendering="crispEdges"/>
<path d="M193.9 400.3h5.0v5.0h-5.0zM198.4 400.3h5.0v5.0h-5.0zM243.8 422.9h4.5v5.0h-4.5z" fill="#39568c" shape-rendering="crispEdges"/>
<path d="M203.0 400.3h5.0v5.0h-5.0zM212.0 404.9h5.0v5.0h-5.0zM230.2 409.4h5.0v5.0h-5.0z" fill="#3c508b" shape-rendering="crispEdges"/>
<path d="M180.3 404.9h5.0v5.0h-5.0zM189.4 404.9h5.0v5.0h-5.0zM198.4 418.4h5.0v5.0h-5.0zM239.2 431.9h5.0v5.0h-5.0z" fill="#2c728e" shape-rendering="crispEdges"/>
<path d="M184.8 404.9h5.0v5.0h-5.0zM225.6 422.9h5.0v5.0h-5.0z" fill="#2e6d8e" shape-rendering="crispEdges"/>
<path d="M193.9 404.9h5.0v5.0h-5.0zM234.7 422.9h5.0v5.0h-5.0z" fill="#33638d" shape-rendering="crispEdges"/>
<path d="M198.4 404.9h5.0v5.0h-5.0zM207.5 409.4h5.0v5.0h-5.0z" fill="#32658e" shape-rendering="crispEdges"/>
<path d="M203.0 404.9h5.0v5.0h-5.0zM207.5 404.9h5.0v5.0h-5.0zM221.1 409.4h5.0v5.0h-5.0zM221.1 413.9h5.0v5.0h-5.0zM225.6 413.9h5.0v5.0h-5.0z" fill="#365d8d" shape-rendering="crispEdges"/>
<path d="M216.6 404.9h5.0v5.0h-5.0zM239.2 413.9h5.0v5.0h-5.0zM234.7 418.4h5.0v5.0h-5.0zM239.2 422.9h5.0v5.0h-5.0zM239.2 427.4h5.0v5.0h-5.0z" fill="#375b8d" shape-rendering="crispEdges"/>
<path d="M180.3 409.4h5.0v5.0h-5.0zM184.8 413.9h5.0v5.0h-5.0zM198.4 422.9h5.0v5.0h-5.0zM216.6 427.4h5.0v5.0h-5.0zM221.1 431.9h5.0v5.0h-5.0zM234.7 440.9h5.0v5.0h-5.0z" fill="#27808e" shape-rendering="crispEdges"/>
<path d="M184.8 409.4h5.0v5.0h-5.0zM212.0 422.9h5.0v5.0h-5.0zM221.1 427.4h5.0v5.0h-5.0z" fill="#297a8e" shape-rendering="crispEdges"/>
<path d="M189.4 409.4h5.0v5.0h-5.0zM225.6 436.4h5.0v5.0h-5.0z" fill="#2a788e" shape-rendering="crispEdges"/>
<path d="M193.9 409.4h5.0v5.0h-5.0zM193.9 413.9h5.0v5.0h-5.0zM225.6 427.4h5.0v5.0h-5.0zM234.7 431.9h5.0v5.0h-5.0z" fill="#2d718e" shape-rendering="crispEdges"/>
<path d="M198.4 409.4h5.0v5.0h-5.0zM203.0 409.4h5.0v5.0h-5.0zM212.0 418.4h5.0v5.0h-5.0zM221.1 418.4h5.0v5.0h-5.0z" fill="#2f6b8e" shape-rendering="crispEdges"/>
<path d="M225.6 409.4h5.0v5.0h-5.0zM239.2 409.4h5.0v5.0h-5.0zM243.8 418.4h4.5v5.0h-4.5z" fill="#3a548c" shape-rendering="crispEdges"/>
<path d="M180.3 413.9h5.0v5.0h-5.0zM193.9 422.9h5.0v5.0h-5.0zM216.6 431.9h5.0v5.0h-5.0z" fill="#25858e" shape-rendering="crispEdges"/>
<path d="M189.4 413.9h5.0v5.0h-5.0zM193.9 418.4h5.0v5.0h-5.0zM203.0 422.9h5.0v5.0h-5.0zM207.5 422.9h5.0v5.0h-5.0zM234.7 436.4h5.0v5.0h-5.0z" fill="#26828e" shape-rendering="crispEdges"/>
<path d="M198.4 413.9h5.0v5.0h-5.0zM203.0 413.9h5.0v5.0h-5.0zM207.5 418.4h5.0v5.0h-5.0zM230.2 427.4h5.0v5.0h-5.0zM239.2 436.4h4.5v5.0h-4.5z" fill="#2b748e" shape-rendering="crispEdges"/>
<path d="M212.0 413.9h5.0v5.0h-5.0zM221.1 422.9h5.0v5.0h-5.0zM243.8 431.9h4.5v5.0h-4.5z" fill="#2e6f8e" shape-rendering="crispEdges"/>
<path d="M180.3 418.4h5.0v5.0h-5.0zM193.9 427.4h5.0v5.0h-5.0zM207.5 436.4h5.0v5.0h-5.0zM212.0 436.4h5.0v5.0h-5.0zM221.1 440.9h5.0v5.0h-5.0z" fill="#1f988b" shape-rendering="crispEdges"/>
<path d="M184.8 418.4h5.0v5.0h-5.0zM189.4 418.4h5.0v5.0h-5.0zM216.6 436.4h5.0v5.0h-5.0z" fill="#228b8d" shape-rendering="crispEdges"/>
<path d="M203.0 418.4h5.0v5.0h-5.0zM216.6 422.9h5.0v5.0h-5.0z" fill="#2a768e" shape-rendering="crispEdges"/>
<path d="M180.3 422.9h5.0v5.0h-5.0zM203.0 436.4h5.0v5.0h-5.0zM212.0 440.9h5.0v5.0h-5.0z" fill="#1f9e89" shape-rendering="crispEdges"/>
<path d="M184.8 422.9h5.0v5.0h-5.0zM212.0 445.4h5.0v4.5h-5.0zM221.1 445.4h5.0v4.5h-5.0z" fill="#1e9c89" shape-rendering="crispEdges"/>
<path d="M189.4 422.9h5.0v5.0h-5.0zM212.0 431.9h5.0v5.0h-5.0zM230.2 445.4h5.0v4.5h-5.0z" fill="#21918c" shape-rendering="crispEdges"/>
<path d="M180.3 427.4h5.0v5.0h-5.0z" fill="#20a386" shape-rendering="crispEdges"/>
<path d="M184.8 427.4h5.0v5.0h-5.0zM193.9 431.9h5.0v5.0h-5.0z" fill="#1f9a8a" shape-rendering="crispEdges"/>
<path d="M189.4 427.4h5.0v5.0h-5.0zM203.0 427.4h5.0v5.0h-5.0z" fill="#1f968b" shape-rendering="crispEdges"/>
<path d="M198.4 427.4h5.0v5.0h-5.0zM203.0 431.9h5.0v5.0h-5.0zM207.5 431.9h5.0v5.0h-5.0z" fill="#218f8d" shape-rendering="crispEdges"/>
<path d="M207.5 427.4h5.0v5.0h-5.0zM221.1 436.4h5.0v5.0h-5.0z" fill="#23898e" shape-rendering="crispEdges"/>
<path d="M212.0 427.4h5.0v5.0h-5.0zM239.2 440.9h4.5v5.0h-4.5z" fill="#277e8e" shape-rendering="crispEdges"/>
<path d="M180.3 431.9h5.0v5.0h-5.0z" fill="#26ad81" shape-rendering="crispEdges"/>
<path d="M184.8 431.9h5.0v5.0h-5.0z" fill="#2ab07f" shape-rendering="crispEdges"/>
<path d="M189.4 431.9h5.0v5.0h-5.0zM198.4 436.4h5.0v5.0h-5.0zM207.5 440.9h5.0v5.0h-5.0z" fill="#1fa187" shape-rendering="crispEdges"/>
<path d="M198.4 431.9h5.0v5.0h-5.0zM216.6 445.4h5.0v4.5h-5.0z" fill="#1fa088" shape-rendering="crispEdges"/>
<path d="M225.6 431.9h5.0v5.0h-5.0zM230.2 431.9h5.0v5.0h-5.0zM230.2 436.4h5.0v5.0h-5.0z" fill="#287c8e" shape-rendering="crispEdges"/>
<path d="M180.3 436.4h5.0v5.0h-5.0z" fill="#4ac16d" shape-rendering="crispEdges"/>
<path d="M184.8 436.4h5.0v5.0h-5.0zM193.9 440.9h5.0v5.0h-5.0z" fill="#2db27d" shape-rendering="crispEdges"/>
<path d="M189.4 436.4h5.0v5.0h-5.0zM193.9 436.4h5.0v5.0h-5.0z" fill="#25ab82" shape-rendering="crispEdges"/>
<path d="M180.3 440.9h5.0v5.0h-5.0z" fill="#46c06f" shape-rendering="crispEdges"/>
<path d="M184.8 440.9h5.0v5.0h-5.0zM189.4 440.9h5.0v5.0h-5.0z" fill="#38b977" shape-rendering="crispEdges"/>
<path d="M198.4 440.9h5.0v5.0h-5.0z" fill="#22a785" shape-rendering="crispEdges"/>
<path d="M203.0 440.9h5.0v5.0h-5.0zM207.5 445.4h5.0v4.5h-5.0z" fill="#23a983" shape-rendering="crispEdges"/>
<path d="M216.6 440.9h5.0v5.0h-5.0z" fill="#20928c" shape-rendering="crispEdges"/>
<path d="M225.6 440.9h5.0v5.0h-5.0z" fill="#228d8d" shape-rendering="crispEdges"/>
<path d="M230.2 440.9h5.0v5.0h-5.0zM234.7 445.4h5.0v4.5h-5.0z" fill="#24878e" shape-rendering="crispEdges"/>
<path d="M180.3 445.4h5.0v4.5h-5.0z" fill="#70cf57" shape-rendering="crispEdges"/>
<path d="M184.8 445.4h5.0v4.5h-5.0z" fill="#56c667" shape-rendering="crispEdges"/>
<path d="M189.4 445.4h5.0v4.5h-5.0z" fill="#52c569" shape-rendering="crispEdges"/>
<path d="M193.9 445.4h5.0v4.5h-5.0z" fill="#42be71" shape-rendering="crispEdges"/>
<path d="M198.4 445.4h5.0v4.5h-5.0z" fill="#3bbb75" shape-rendering="crispEdges"/>
<path d="M203.0 445.4h5.0v4.5h-5.0z" fill="#2fb47c" shape-rendering="crispEdges"/>
<path d="M225.6 445.4h5.0v4.5h-5.0z" fill="#1f948c" shape-rendering="crispEdges"/>
<path d="M239.2 445.4h4.5v4.5h-4.5z" fill="#25838e" shape-rendering="crispEdges"/>
<rect x="180.30" y="355.30" width="95.20" height="94.60" fill="none" stroke="#000" stroke-width="1.10"/>
<path d="M312.2 382.3h5.0v5.0h-5.0zM321.3 382.3h5.0v5.0h-5.0z" fill="#472f7d" shape-rendering="crispEdges"/>
<path d="M316.7 382.3h5.0v5.0h-5.0zM330.3 386.8h5.0v5.0h-5.0zM334.9 386.8h4.5v5.0h-4.5z" fill="#443983" shape-rendering="crispEdges"/>
<path d="M325.8 382.3h4.5v5.0h-4.5z" fill="#472a7a" shape-rendering="crispEdges"/>
<path d="M294.1 386.8h5.0v5.0h-5.0zM321.3 386.8h5.0v5.0h-5.0zM330.3 391.3h5.0v5.0h-5.0zM343.9 395.8h4.5v5.0h-4.5z" fill="#414287" shape-rendering="crispEdges"/>
<path d="M298.6 386.8h5.0v5.0h-5.0zM325.8 395.8h5.0v5.0h-5.0z" fill="#3f4788" shape-rendering="crispEdges"/>
<path d="M303.1 386.8h5.0v5.0h-5.0zM316.7 391.3h5.0v5.0h-5.0zM321.3 391.3h5.0v5.0h-5.0zM330.3 395.8h5.0v5.0h-5.0zM343.9 400.3h4.5v5.0h-4.5z" fill="#3e4c8a" shape-rendering="crispEdges"/>
<path d="M307.7 386.8h5.0v5.0h-5.0zM316.7 386.8h5.0v5.0h-5.0z" fill="#404588" shape-rendering="crispEdges"/>
<path d="M312.2 386.8h5.0v5.0h-5.0z" fill="#443b84" shape-rendering="crispEdges"/>
<path d="M325.8 386.8h5.0v5.0h-5.0zM339.4 391.3h4.5v5.0h-4.5z" fill="#433e85" shape-rendering="crispEdges"/>
<path d="M285.0 391.3h5.0v5.0h-5.0zM334.9 404.9h5.0v5.0h-5.0zM330.3 409.4h5.0v5.0h-5.0z" fill="#355f8d" shape-rendering="crispEdges"/>
<path d="M289.5 391.3h5.0v5.0h-5.0zM303.1 395.8h5.0v5.0h-5.0zM348.5 409.4h4.5v5.0h-4.5z" fill="#365d8d" shape-rendering="crispEdges"/>
<path d="M294.1 391.3h5.0v5.0h-5.0zM303.1 391.3h5.0v5.0h-5.0zM325.8 400.3h5.0v5.0h-5.0zM330.3 400.3h5.0v5.0h-5.0zM334.9 400.3h5.0v5.0h-5.0z" fill="#3b528b" shape-rendering="crispEdges"/>
<path d="M298.6 391.3h5.0v5.0h-5.0zM307.7 400.3h5.0v5.0h-5.0zM312.2 400.3h5.0v5.0h-5.0zM330.3 404.9h5.0v5.0h-5.0zM339.4 404.9h5.0v5.0h-5.0z" fill="#375b8d" shape-rendering="crispEdges"/>
<path d="M307.7 391.3h5.0v5.0h-5.0zM307.7 395.8h5.0v5.0h-5.0zM316.7 395.8h5.0v5.0h-5.0zM321.3 400.3h5.0v5.0h-5.0z" fill="#38598c" shape-rendering="crispEdges"/>
<path d="M312.2 391.3h5.0v5.0h-5.0zM325.8 391.3h5.0v5.0h-5.0zM334.9 391.3h5.0v5.0h-5.0zM334.9 395.8h5.0v5.0h-5.0zM339.4 395.8h5.0v5.0h-5.0z" fill="#424086" shape-rendering="crispEdges"/>
<path d="M285.0 395.8h5.0v5.0h-5.0zM298.6 395.8h5.0v5.0h-5.0zM325.8 404.9h5.0v5.0h-5.0zM348.5 413.9h4.5v5.0h-4.5z" fill="#32658e" shape-rendering="crispEdges"/>
<path d="M289.5 395.8h5.0v5.0h-5.0zM321.3 404.9h5.0v5.0h-5.0z" fill="#33638d" shape-rendering="crispEdges"/>
<path d="M294.1 395.8h5.0v5.0h-5.0zM316.7 404.9h5.0v5.0h-5.0zM343.9 413.9h5.0v5.0h-5.0z" fill="#31678e" shape-rendering="crispEdges"/>
<path d="M312.2 395.8h5.0v5.0h-5.0zM343.9 409.4h5.0v5.0h-5.0z" fill="#39568c" shape-rendering="crispEdges"/>
<path d="M321.3 395.8h5.0v5.0h-5.0z" fill="#3e4989" shape-rendering="crispEdges"/>
<path d="M285.0 400.3h5.0v5.0h-5.0zM294.1 404.9h5.0v5.0h-5.0zM312.2 409.4h5.0v5.0h-5.0zM321.3 413.9h5.0v5.0h-5.0z" fill="#2b748e" shape-rendering="crispEdges"/>
<path d="M289.5 400.3h5.0v5.0h-5.0zM343.9 418.4h5.0v5.0h-5.0z" fill="#2f6b8e" shape-rendering="crispEdges"/>
<path d="M294.1 400.3h5.0v5.0h-5.0zM298.6 404.9h5.0v5.0h-5.0zM307.7 404.9h5.0v5.0h-5.0zM316.7 409.4h5.0v5.0h-5.0zM330.3 413.9h5.0v5.0h-5.0zM339.4 418.4h5.0v5.0h-5.0zM343.9 422.9h4.5v5.0h-4.5z" fill="#2d718e" shape-rendering="crispEdges"/>
<path d="M298.6 400.3h5.0v5.0h-5.0zM316.7 400.3h5.0v5.0h-5.0zM334.9 409.4h5.0v5.0h-5.0zM339.4 409.4h5.0v5.0h-5.0z" fill="#34618d" shape-rendering="crispEdges"/>
<path d="M303.1 400.3h5.0v5.0h-5.0zM321.3 409.4h5.0v5.0h-5.0zM348.5 418.4h4.5v5.0h-4.5z" fill="#30698e" shape-rendering="crispEdges"/>
<path d="M339.4 400.3h5.0v5.0h-5.0z" fill="#3d4e8a" shape-rendering="crispEdges"/>
<path d="M285.0 404.9h5.0v5.0h-5.0zM325.8 418.4h5.0v5.0h-5.0zM330.3 422.9h5.0v5.0h-5.0zM343.9 431.9h4.5v5.0h-4.5z" fill="#26828e" shape-rendering="crispEdges"/>
<path d="M289.5 404.9h5.0v5.0h-5.0zM303.1 404.9h5.0v5.0h-5.0zM325.8 413.9h5.0v5.0h-5.0zM339.4 422.9h5.0v5.0h-5.0z" fill="#2a768e" shape-rendering="crispEdges"/>
<path d="M312.2 404.9h5.0v5.0h-5.0zM339.4 413.9h5.0v5.0h-5.0z" fill="#2e6f8e" shape-rendering="crispEdges"/>
<path d="M343.9 404.9h5.0v5.0h-5.0zM348.5 404.9h4.5v5.0h-4.5z" fill="#3c508b" shape-rendering="crispEdges"/>
<path d="M285.0 409.4h5.0v5.0h-5.0zM312.2 418.4h5.0v5.0h-5.0zM316.7 422.9h5.0v5.0h-5.0zM339.4 427.4h5.0v5.0h-5.0zM339.4 431.9h5.0v5.0h-5.0z" fill="#24878e" shape-rendering="crispEdges"/>
<path d="M289.5 409.4h5.0v5.0h-5.0zM294.1 409.4h5.0v5.0h-5.0zM325.8 427.4h5.0v5.0h-5.0z" fill="#228d8d" shape-rendering="crispEdges"/>
<path d="M298.6 409.4h5.0v5.0h-5.0z" fill="#277e8e" shape-rendering="crispEdges"/>
<path d="M303.1 409.4h5.0v5.0h-5.0zM343.9 427.4h4.5v5.0h-4.5z" fill="#297a8e" shape-rendering="crispEdges"/>
<path d="M307.7 409.4h5.0v5.0h-5.0zM325.8 409.4h5.0v5.0h-5.0z" fill="#2e6d8e" shape-rendering="crispEdges"/>
<path d="M285.0 413.9h5.0v5.0h-5.0zM303.1 422.9h5.0v5.0h-5.0zM312.2 427.4h5.0v5.0h-5.0zM321.3 431.9h5.0v5.0h-5.0z" fill="#1f988b" shape-rendering="crispEdges"/>
<path d="M289.5 413.9h5.0v5.0h-5.0zM334.9 427.4h5.0v5.0h-5.0zM334.9 431.9h5.0v5.0h-5.0zM343.9 436.4h4.5v5.0h-4.5z" fill="#23898e" shape-rendering="crispEdges"/>
<path d="M294.1 413.9h5.0v5.0h-5.0zM316.7 418.4h5.0v5.0h-5.0zM321.3 422.9h5.0v5.0h-5.0z" fill="#25858e" shape-rendering="crispEdges"/>
<path d="M298.6 413.9h5.0v5.0h-5.0zM330.3 436.4h5.0v5.0h-5.0z" fill="#228b8d" shape-rendering="crispEdges"/>
<path d="M303.1 413.9h5.0v5.0h-5.0zM325.8 422.9h5.0v5.0h-5.0zM330.3 427.4h5.0v5.0h-5.0z" fill="#25838e" shape-rendering="crispEdges"/>
<path d="M307.7 413.9h5.0v5.0h-5.0zM312.2 413.9h5.0v5.0h-5.0zM334.9 422.9h5.0v5.0h-5.0z" fill="#287c8e" shape-rendering="crispEdges"/>
<path d="M316.7 413.9h5.0v5.0h-5.0zM330.3 418.4h5.0v5.0h-5.0z" fill="#2a788e" shape-rendering="crispEdges"/>
<path d="M334.9 413.9h5.0v5.0h-5.0zM334.9 418.4h5.0v5.0h-5.0z" fill="#2c728e" shape-rendering="crispEdges"/>
<path d="M285.0 418.4h5.0v5.0h-5.0zM303.1 427.4h5.0v5.0h-5.0zM339.4 445.4h4.5v4.5h-4.5z" fill="#20a386" shape-rendering="crispEdges"/>
<path d="M289.5 418.4h5.0v5.0h-5.0z" fill="#1e9c89" shape-rendering="crispEdges"/>
<path d="M294.1 418.4h5.0v5.0h-5.0zM307.7 418.4h5.0v5.0h-5.0zM334.9 436.4h5.0v5.0h-5.0z" fill="#21918c" shape-rendering="crispEdges"/>
<path d="M298.6 418.4h5.0v5.0h-5.0z" fill="#1f968b" shape-rendering="crispEdges"/>
<path d="M303.1 418.4h5.0v5.0h-5.0z" fill="#218f8d" shape-rendering="crispEdges"/>
<path d="M321.3 418.4h5.0v5.0h-5.0z" fill="#27808e" shape-rendering="crispEdges"/>
<path d="M285.0 422.9h5.0v5.0h-5.0zM294.1 422.9h5.0v5.0h-5.0zM298.6 431.9h5.0v5.0h-5.0zM330.3 445.4h5.0v4.5h-5.0zM334.9 445.4h5.0v4.5h-5.0z" fill="#23a983" shape-rendering="crispEdges"/>
<path d="M289.5 422.9h5.0v5.0h-5.0zM307.7 431.9h5.0v5.0h-5.0zM325.8 440.9h5.0v5.0h-5.0z" fill="#21a585" shape-rendering="crispEdges"/>
<path d="M298.6 422.9h5.0v5.0h-5.0zM307.7 427.4h5.0v5.0h-5.0z" fill="#1f9a8a" shape-rendering="crispEdges"/>
<path d="M307.7 422.9h5.0v5.0h-5.0zM312.2 422.9h5.0v5.0h-5.0zM321.3 427.4h5.0v5.0h-5.0z" fill="#20928c" shape-rendering="crispEdges"/>
<path d="M285.0 427.4h5.0v5.0h-5.0zM289.5 427.4h5.0v5.0h-5.0z" fill="#32b67a" shape-rendering="crispEdges"/>
<path d="M294.1 427.4h5.0v5.0h-5.0zM307.7 436.4h5.0v5.0h-5.0z" fill="#26ad81" shape-rendering="crispEdges"/>
<path d="M298.6 427.4h5.0v5.0h-5.0zM312.2 431.9h5.0v5.0h-5.0zM321.3 436.4h5.0v5.0h-5.0zM330.3 440.9h5.0v5.0h-5.0zM334.9 440.9h5.0v5.0h-5.0z" fill="#22a785" shape-rendering="crispEdges"/>
<path d="M316.7 427.4h5.0v5.0h-5.0zM325.8 431.9h5.0v5.0h-5.0zM330.3 431.9h5.0v5.0h-5.0zM325.8 436.4h5.0v5.0h-5.0zM339.4 436.4h5.0v5.0h-5.0zM339.4 440.9h4.5v5.0h-4.5z" fill="#1f948c" shape-rendering="crispEdges"/>
<path d="M285.0 431.9h5.0v5.0h-5.0zM316.7 445.4h5.0v4.5h-5.0z" fill="#42be71" shape-rendering="crispEdges"/>
<path d="M289.5 431.9h5.0v5.0h-5.0zM298.6 436.4h5.0v5.0h-5.0zM303.1 436.4h5.0v5.0h-5.0z" fill="#38b977" shape-rendering="crispEdges"/>
<path d="M294.1 431.9h5.0v5.0h-5.0zM312.2 440.9h5.0v5.0h-5.0z" fill="#35b779" shape-rendering="crispEdges"/>
<path d="M303.1 431.9h5.0v5.0h-5.0z" fill="#2db27d" shape-rendering="crispEdges"/>
<path d="M316.7 431.9h5.0v5.0h-5.0z" fill="#1f9e89" shape-rendering="crispEdges"/>
<path d="M285.0 436.4h5.0v5.0h-5.0zM294.1 436.4h5.0v5.0h-5.0zM307.7 445.4h5.0v4.5h-5.0z" fill="#46c06f" shape-rendering="crispEdges"/>
<path d="M289.5 436.4h5.0v5.0h-5.0z" fill="#5ac864" shape-rendering="crispEdges"/>
<path d="M312.2 436.4h5.0v5.0h-5.0z" fill="#25ab82" shape-rendering="crispEdges"/>
<path d="M316.7 436.4h5.0v5.0h-5.0zM316.7 440.9h5.0v5.0h-5.0zM321.3 440.9h5.0v5.0h-5.0z" fill="#28ae80" shape-rendering="crispEdges"/>
<path d="M285.0 440.9h5.0v5.0h-5.0zM298.6 445.4h5.0v4.5h-5.0z" fill="#70cf57" shape-rendering="crispEdges"/>
<path d="M289.5 440.9h5.0v5.0h-5.0z" fill="#6ccd5a" shape-rendering="crispEdges"/>
<path d="M294.1 440.9h5.0v5.0h-5.0z" fill="#52c569" shape-rendering="crispEdges"/>
<path d="M298.6 440.9h5.0v5.0h-5.0z" fill="#4ec36b" shape-rendering="crispEdges"/>
<path d="M303.1 440.9h5.0v5.0h-5.0z" fill="#4ac16d" shape-rendering="crispEdges"/>
<path d="M307.7 440.9h5.0v5.0h-5.0zM312.2 445.4h5.0v4.5h-5.0z" fill="#3bbb75" shape-rendering="crispEdges"/>
<path d="M285.0 445.4h5.0v4.5h-5.0zM294.1 445.4h5.0v4.5h-5.0z" fill="#75d054" shape-rendering="crispEdges"/>
<path d="M289.5 445.4h5.0v4.5h-5.0z" fill="#7ad151" shape-rendering="crispEdges"/>
<path d="M303.1 445.4h5.0v4.5h-5.0z" fill="#63cb5f" shape-rendering="crispEdges"/>
<path d="M321.3 445.4h5.0v4.5h-5.0z" fill="#2ab07f" shape-rendering="crispEdges"/>
<path d="M325.8 445.4h5.0v4.5h-5.0z" fill="#2fb47c" shape-rendering="crispEdges"/>
<rect x="285.00" y="355.30" width="95.20" height="94.60" fill="none" stroke="#000" stroke-width="1.10"/>
<path d="M80.0 483.7h5.0v5.0h-5.0zM93.6 510.8h5.0v5.0h-5.0zM102.7 524.3h5.0v5.0h-5.0zM102.7 528.8h5.0v5.0h-5.0zM102.7 537.8h5.0v5.0h-5.0zM107.2 542.3h5.0v5.0h-5.0z" fill="#2e6d8e" shape-rendering="crispEdges"/>
<path d="M84.6 483.7h5.0v5.0h-5.0zM84.6 488.2h5.0v5.0h-5.0zM84.6 492.7h5.0v5.0h-5.0zM89.1 492.7h5.0v5.0h-5.0zM107.2 515.3h5.0v5.0h-5.0z" fill="#32658e" shape-rendering="crispEdges"/>
<path d="M89.1 483.7h5.0v5.0h-5.0zM93.6 488.2h5.0v5.0h-5.0zM102.7 497.2h5.0v5.0h-5.0zM102.7 501.7h5.0v5.0h-5.0zM102.7 506.3h5.0v5.0h-5.0z" fill="#3b528b" shape-rendering="crispEdges"/>
<path d="M93.6 483.7h5.0v5.0h-5.0zM116.3 519.8h5.0v5.0h-5.0zM125.4 537.8h5.0v5.0h-5.0zM129.9 537.8h5.0v5.0h-5.0z" fill="#3c508b" shape-rendering="crispEdges"/>
<path d="M98.2 483.7h4.5v5.0h-4.5zM129.9 533.3h5.0v5.0h-5.0zM139.0 542.3h4.5v5.0h-4.5z" fill="#404588" shape-rendering="crispEdges"/>
<path d="M75.5 488.2h5.0v5.0h-5.0zM93.6 515.3h5.0v5.0h-5.0zM98.2 515.3h5.0v5.0h-5.0zM89.1 528.8h5.0v5.0h-5.0z" fill="#2a768e" shape-rendering="crispEdges"/>
<path d="M80.0 488.2h5.0v5.0h-5.0zM80.0 492.7h5.0v5.0h-5.0zM93.6 519.8h5.0v5.0h-5.0zM107.2 546.8h5.0v4.5h-5.0z" fill="#2c728e" shape-rendering="crispEdges"/>
<path d="M89.1 488.2h5.0v5.0h-5.0zM111.8 519.8h5.0v5.0h-5.0zM107.2 524.3h5.0v5.0h-5.0zM111.8 524.3h5.0v5.0h-5.0z" fill="#375b8d" shape-rendering="crispEdges"/>
<path d="M98.2 488.2h5.0v5.0h-5.0zM98.2 492.7h5.0v5.0h-5.0zM116.3 515.3h5.0v5.0h-5.0zM120.8 515.3h5.0v5.0h-5.0zM120.8 528.8h5.0v5.0h-5.0zM125.4 528.8h5.0v5.0h-5.0zM125.4 533.3h5.0v5.0h-5.0z" fill="#3e4989" shape-rendering="crispEdges"/>
<path d="M102.7 488.2h5.0v5.0h-5.0zM107.2 492.7h5.0v5.0h-5.0zM111.8 506.3h5.0v5.0h-5.0zM125.4 519.8h5.0v5.0h-5.0zM129.9 542.3h5.0v5.0h-5.0z" fill="#3f4788" shape-rendering="crispEdges"/>
<path d="M107.2 488.2h5.0v5.0h-5.0zM111.8 488.2h4.5v5.0h-4.5zM129.9 519.8h5.0v5.0h-5.0zM134.4 524.3h5.0v5.0h-5.0z" fill="#463480" shape-rendering="crispEdges"/>
<path d="M75.5 492.7h5.0v5.0h-5.0zM89.1 519.8h5.0v5.0h-5.0zM98.2 533.3h5.0v5.0h-5.0zM93.6 537.8h5.0v5.0h-5.0zM102.7 546.8h5.0v4.5h-5.0z" fill="#287c8e" shape-rendering="crispEdges"/>
<path d="M93.6 492.7h5.0v5.0h-5.0zM93.6 497.2h5.0v5.0h-5.0zM98.2 501.7h5.0v5.0h-5.0zM116.3 528.8h5.0v5.0h-5.0zM111.8 537.8h5.0v5.0h-5.0zM116.3 542.3h5.0v5.0h-5.0zM116.3 546.8h5.0v4.5h-5.0z" fill="#355f8d" shape-rendering="crispEdges"/>
<path d="M102.7 492.7h5.0v5.0h-5.0zM125.4 542.3h5.0v5.0h-5.0z" fill="#3d4e8a" shape-rendering="crispEdges"/>
<path d="M111.8 492.7h5.0v5.0h-5.0z" fill="#453781" shape-rendering="crispEdges"/>
<path d="M116.3 492.7h5.0v5.0h-5.0zM120.8 497.2h5.0v5.0h-5.0zM120.8 501.7h5.0v5.0h-5.0zM129.9 510.8h5.0v5.0h-5.0zM139.0 533.3h4.5v5.0h-4.5z" fill="#472d7b" shape-rendering="crispEdges"/>
<path d="M120.8 492.7h4.5v5.0h-4.5zM129.9 524.3h5.0v5.0h-5.0zM134.4 528.8h5.0v5.0h-5.0z" fill="#472f7d" shape-rendering="crispEdges"/>
<path d="M75.5 497.2h5.0v5.0h-5.0zM75.5 506.3h5.0v5.0h-5.0zM80.0 515.3h5.0v5.0h-5.0zM84.6 515.3h5.0v5.0h-5.0zM80.0 524.3h5.0v5.0h-5.0zM89.1 533.3h5.0v5.0h-5.0zM93.6 542.3h5.0v5.0h-5.0zM98.2 542.3h5.0v5.0h-5.0z" fill="#25838e" shape-rendering="crispEdges"/>
<path d="M80.0 497.2h5.0v5.0h-5.0z" fill="#2b748e" shape-rendering="crispEdges"/>
<path d="M84.6 497.2h5.0v5.0h-5.0zM89.1 506.3h5.0v5.0h-5.0zM102.7 533.3h5.0v5.0h-5.0zM111.8 542.3h5.0v5.0h-5.0z" fill="#2d718e" shape-rendering="crispEdges"/>
<path d="M89.1 497.2h5.0v5.0h-5.0zM93.6 506.3h5.0v5.0h-5.0zM102.7 515.3h5.0v5.0h-5.0zM98.2 519.8h5.0v5.0h-5.0zM107.2 528.8h5.0v5.0h-5.0zM107.2 533.3h5.0v5.0h-5.0z" fill="#31678e" shape-rendering="crispEdges"/>
<path d="M98.2 497.2h5.0v5.0h-5.0zM107.2 506.3h5.0v5.0h-5.0zM120.8 524.3h5.0v5.0h-5.0z" fill="#3e4c8a" shape-rendering="crispEdges"/>
<path d="M107.2 497.2h5.0v5.0h-5.0zM111.8 510.8h5.0v5.0h-5.0zM116.3 510.8h5.0v5.0h-5.0zM125.4 515.3h5.0v5.0h-5.0zM134.4 542.3h5.0v5.0h-5.0z" fill="#414287" shape-rendering="crispEdges"/>
<path d="M111.8 497.2h5.0v5.0h-5.0zM111.8 501.7h5.0v5.0h-5.0zM116.3 501.7h5.0v5.0h-5.0zM134.4 546.8h4.5v4.5h-4.5z" fill="#433e85" shape-rendering="crispEdges"/>
<path d="M116.3 497.2h5.0v5.0h-5.0zM120.8 506.3h5.0v5.0h-5.0zM139.0 528.8h4.5v5.0h-4.5z" fill="#46327e" shape-rendering="crispEdges"/>
<path d="M125.4 497.2h4.5v5.0h-4.5z" fill="#481b6d" shape-rendering="crispEdges"/>
<path d="M75.5 501.7h5.0v5.0h-5.0zM89.1 524.3h5.0v5.0h-5.0zM93.6 533.3h5.0v5.0h-5.0zM98.2 546.8h5.0v4.5h-5.0z" fill="#27808e" shape-rendering="crispEdges"/>
<path d="M80.0 501.7h5.0v5.0h-5.0zM98.2 528.8h5.0v5.0h-5.0zM93.6 546.8h5.0v4.5h-5.0z" fill="#277e8e" shape-rendering="crispEdges"/>
<path d="M84.6 501.7h5.0v5.0h-5.0zM84.6 506.3h5.0v5.0h-5.0zM89.1 510.8h5.0v5.0h-5.0zM93.6 524.3h5.0v5.0h-5.0zM93.6 528.8h5.0v5.0h-5.0zM98.2 537.8h5.0v5.0h-5.0z" fill="#297a8e" shape-rendering="crispEdges"/>
<path d="M89.1 501.7h5.0v5.0h-5.0zM93.6 501.7h5.0v5.0h-5.0zM107.2 537.8h5.0v5.0h-5.0z" fill="#2f6b8e" shape-rendering="crispEdges"/>
<path d="M107.2 501.7h5.0v5.0h-5.0zM107.2 510.8h5.0v5.0h-5.0zM111.8 515.3h5.0v5.0h-5.0zM116.3 524.3h5.0v5.0h-5.0zM120.8 537.8h5.0v5.0h-5.0zM120.8 546.8h5.0v4.5h-5.0zM129.9 546.8h5.0v4.5h-5.0z" fill="#3a548c" shape-rendering="crispEdges"/>
<path d="M125.4 501.7h5.0v5.0h-5.0zM139.0 524.3h4.5v5.0h-4.5z" fill="#482878" shape-rendering="crispEdges"/>
<path d="M129.9 501.7h4.5v5.0h-4.5z" fill="#471365" shape-rendering="crispEdges"/>
<path d="M80.0 506.3h5.0v5.0h-5.0zM84.6 524.3h5.0v5.0h-5.0z" fill="#25858e" shape-rendering="crispEdges"/>
<path d="M98.2 506.3h5.0v5.0h-5.0zM98.2 510.8h5.0v5.0h-5.0zM107.2 519.8h5.0v5.0h-5.0z" fill="#33638d" shape-rendering="crispEdges"/>
<path d="M116.3 506.3h5.0v5.0h-5.0zM125.4 510.8h5.0v5.0h-5.0zM125.4 524.3h5.0v5.0h-5.0z" fill="#443b84" shape-rendering="crispEdges"/>
<path d="M125.4 506.3h5.0v5.0h-5.0zM129.9 515.3h5.0v5.0h-5.0zM134.4 519.8h4.5v5.0h-4.5z" fill="#472a7a" shape-rendering="crispEdges"/>
<path d="M129.9 506.3h4.5v5.0h-4.5z" fill="#482071" shape-rendering="crispEdges"/>
<path d="M75.5 510.8h5.0v5.0h-5.0zM80.0 519.8h5.0v5.0h-5.0zM80.0 528.8h5.0v5.0h-5.0z" fill="#23898e" shape-rendering="crispEdges"/>
<path d="M80.0 510.8h5.0v5.0h-5.0zM75.5 519.8h5.0v5.0h-5.0zM84.6 533.3h5.0v5.0h-5.0zM89.1 546.8h5.0v4.5h-5.0z" fill="#228b8d" shape-rendering="crispEdges"/>
<path d="M84.6 510.8h5.0v5.0h-5.0zM89.1 542.3h5.0v5.0h-5.0z" fill="#26828e" shape-rendering="crispEdges"/>
<path d="M102.7 510.8h5.0v5.0h-5.0zM120.8 533.3h5.0v5.0h-5.0zM120.8 542.3h5.0v5.0h-5.0z" fill="#39568c" shape-rendering="crispEdges"/>
<path d="M120.8 510.8h5.0v5.0h-5.0zM120.8 519.8h5.0v5.0h-5.0zM129.9 528.8h5.0v5.0h-5.0zM134.4 537.8h5.0v5.0h-5.0z" fill="#424086" shape-rendering="crispEdges"/>
<path d="M134.4 510.8h4.5v5.0h-4.5z" fill="#48186a" shape-rendering="crispEdges"/>
<path d="M75.5 515.3h5.0v5.0h-5.0zM84.6 528.8h5.0v5.0h-5.0zM80.0 533.3h5.0v5.0h-5.0zM80.0 537.8h5.0v5.0h-5.0z" fill="#21918c" shape-rendering="crispEdges"/>
<path d="M89.1 515.3h5.0v5.0h-5.0zM98.2 524.3h5.0v5.0h-5.0zM102.7 542.3h5.0v5.0h-5.0z" fill="#2a788e" shape-rendering="crispEdges"/>
<path d="M134.4 515.3h4.5v5.0h-4.5z" fill="#482576" shape-rendering="crispEdges"/>
<path d="M84.6 519.8h5.0v5.0h-5.0z" fill="#24878e" shape-rendering="crispEdges"/>
<path d="M102.7 519.8h5.0v5.0h-5.0z" fill="#30698e" shape-rendering="crispEdges"/>
<path d="M75.5 524.3h5.0v5.0h-5.0z" fill="#1f988b" shape-rendering="crispEdges"/>
<path d="M75.5 528.8h5.0v5.0h-5.0zM80.0 542.3h5.0v5.0h-5.0z" fill="#1f968b" shape-rendering="crispEdges"/>
<path d="M111.8 528.8h5.0v5.0h-5.0zM116.3 533.3h5.0v5.0h-5.0z" fill="#38598c" shape-rendering="crispEdges"/>
<path d="M75.5 533.3h5.0v5.0h-5.0z" fill="#20928c" shape-rendering="crispEdges"/>
<path d="M111.8 533.3h5.0v5.0h-5.0z" fill="#34618d" shape-rendering="crispEdges"/>
<path d="M134.4 533.3h5.0v5.0h-5.0zM139.0 537.8h4.5v5.0h-4.5z" fill="#443983" shape-rendering="crispEdges"/>
<path d="M75.5 537.8h5.0v5.0h-5.0z" fill="#1fa088" shape-rendering="crispEdges"/>
<path d="M84.6 537.8h5.0v5.0h-5.0zM89.1 537.8h5.0v5.0h-5.0zM84.6 546.8h5.0v4.5h-5.0z" fill="#218f8d" shape-rendering="crispEdges"/>
<path d="M116.3 537.8h5.0v5.0h-5.0zM125.4 546.8h5.0v4.5h-5.0z" fill="#365d8d" shape-rendering="crispEdges"/>
<path d="M75.5 542.3h5.0v5.0h-5.0zM75.5 546.8h5.0v4.5h-5.0z" fill="#1f9e89" shape-rendering="crispEdges"/>
<path d="M84.6 542.3h5.0v5.0h-5.0z" fill="#228d8d" shape-rendering="crispEdges"/>
<path d="M80.0 546.8h5.0v4.5h-5.0z" fill="#1f948c" shape-rendering="crispEdges"/>
<path d="M111.8 546.8h5.0v4.5h-5.0z" fill="#2e6f8e" shape-rendering="crispEdges"/>
<rect x="75.50" y="456.70" width="95.20" height="94.60" fill="none" stroke="#000" stroke-width="1.10"/>
<path d="M193.9 483.7h5.0v5.0h-5.0zM212.0 528.8h5.0v5.0h-5.0zM212.0 533.3h5.0v5.0h-5.0zM230.2 537.8h5.0v5.0h-5.0zM239.2 546.8h4.5v4.5h-4.5z" fill="#2c728e" shape-rendering="crispEdges"/>
<path d="M198.4 483.7h5.0v5.0h-5.0zM193.9 488.2h5.0v5.0h-5.0zM207.5 510.8h5.0v5.0h-5.0zM212.0 510.8h5.0v5.0h-5.0zM216.6 519.8h5.0v5.0h-5.0z" fill="#31678e" shape-rendering="crispEdges"/>
<path d="M203.0 483.7h5.0v5.0h-5.0zM221.1 519.8h5.0v5.0h-5.0z" fill="#355f8d" shape-rendering="crispEdges"/>
<path d="M207.5 483.7h5.0v5.0h-5.0zM212.0 492.7h5.0v5.0h-5.0zM216.6 497.2h5.0v5.0h-5.0zM221.1 515.3h5.0v5.0h-5.0zM234.7 528.8h5.0v5.0h-5.0z" fill="#3b528b" shape-rendering="crispEdges"/>
<path d="M212.0 483.7h5.0v5.0h-5.0zM230.2 515.3h5.0v5.0h-5.0zM239.2 519.8h5.0v5.0h-5.0zM243.8 519.8h4.5v5.0h-4.5z" fill="#414287" shape-rendering="crispEdges"/>
<path d="M216.6 483.7h4.5v5.0h-4.5zM225.6 506.3h5.0v5.0h-5.0z" fill="#443983" shape-rendering="crispEdges"/>
<path d="M180.3 488.2h5.0v5.0h-5.0zM180.3 501.7h5.0v5.0h-5.0zM184.8 519.8h5.0v5.0h-5.0zM193.9 533.3h5.0v5.0h-5.0zM207.5 542.3h5.0v5.0h-5.0z" fill="#1f948c" shape-rendering="crispEdges"/>
<path d="M184.8 488.2h5.0v5.0h-5.0zM212.0 546.8h5.0v4.5h-5.0z" fill="#23898e" shape-rendering="crispEdges"/>
<path d="M189.4 488.2h5.0v5.0h-5.0zM198.4 497.2h5.0v5.0h-5.0zM207.5 519.8h5.0v5.0h-5.0z" fill="#2a768e" shape-rendering="crispEdges"/>
<path d="M198.4 488.2h5.0v5.0h-5.0zM203.0 497.2h5.0v5.0h-5.0zM234.7 537.8h5.0v5.0h-5.0z" fill="#32658e" shape-rendering="crispEdges"/>
<path d="M203.0 488.2h5.0v5.0h-5.0zM225.6 524.3h5.0v5.0h-5.0zM230.2 524.3h5.0v5.0h-5.0zM243.8 533.3h4.5v5.0h-4.5z" fill="#39568c" shape-rendering="crispEdges"/>
<path d="M207.5 488.2h5.0v5.0h-5.0zM207.5 492.7h5.0v5.0h-5.0zM212.0 497.2h5.0v5.0h-5.0zM234.7 524.3h5.0v5.0h-5.0zM239.2 528.8h5.0v5.0h-5.0z" fill="#3a548c" shape-rendering="crispEdges"/>
<path d="M212.0 488.2h5.0v5.0h-5.0zM225.6 515.3h5.0v5.0h-5.0z" fill="#3e4c8a" shape-rendering="crispEdges"/>
<path d="M216.6 488.2h5.0v5.0h-5.0zM221.1 501.7h5.0v5.0h-5.0zM230.2 510.8h5.0v5.0h-5.0z" fill="#424086" shape-rendering="crispEdges"/>
<path d="M221.1 488.2h5.0v5.0h-5.0zM225.6 501.7h5.0v5.0h-5.0zM230.2 501.7h5.0v5.0h-5.0zM234.7 506.3h5.0v5.0h-5.0zM239.2 510.8h5.0v5.0h-5.0z" fill="#472f7d" shape-rendering="crispEdges"/>
<path d="M225.6 488.2h4.5v5.0h-4.5zM225.6 492.7h5.0v5.0h-5.0zM234.7 501.7h5.0v5.0h-5.0z" fill="#482878" shape-rendering="crispEdges"/>
<path d="M180.3 492.7h5.0v5.0h-5.0zM198.4 542.3h5.0v5.0h-5.0z" fill="#1f9a8a" shape-rendering="crispEdges"/>
<path d="M184.8 492.7h5.0v5.0h-5.0zM198.4 524.3h5.0v5.0h-5.0zM207.5 533.3h5.0v5.0h-5.0zM221.1 546.8h5.0v4.5h-5.0z" fill="#24878e" shape-rendering="crispEdges"/>
<path d="M189.4 492.7h5.0v5.0h-5.0zM193.9 506.3h5.0v5.0h-5.0z" fill="#25838e" shape-rendering="crispEdges"/>
<path d="M193.9 492.7h5.0v5.0h-5.0zM207.5 524.3h5.0v5.0h-5.0z" fill="#2a788e" shape-rendering="crispEdges"/>
<path d="M198.4 492.7h5.0v5.0h-5.0zM198.4 501.7h5.0v5.0h-5.0zM207.5 515.3h5.0v5.0h-5.0z" fill="#2e6d8e" shape-rendering="crispEdges"/>
<path d="M203.0 492.7h5.0v5.0h-5.0zM212.0 519.8h5.0v5.0h-5.0zM216.6 528.8h5.0v5.0h-5.0zM239.2 542.3h4.5v5.0h-4.5z" fill="#30698e" shape-rendering="crispEdges"/>
<path d="M216.6 492.7h5.0v5.0h-5.0zM221.1 497.2h5.0v5.0h-5.0zM234.7 510.8h5.0v5.0h-5.0z" fill="#433e85" shape-rendering="crispEdges"/>
<path d="M221.1 492.7h5.0v5.0h-5.0z" fill="#463480" shape-rendering="crispEdges"/>
<path d="M230.2 492.7h4.5v5.0h-4.5z" fill="#482576" shape-rendering="crispEdges"/>
<path d="M180.3 497.2h5.0v5.0h-5.0zM184.8 506.3h5.0v5.0h-5.0z" fill="#20928c" shape-rendering="crispEdges"/>
<path d="M184.8 497.2h5.0v5.0h-5.0zM189.4 506.3h5.0v5.0h-5.0zM203.0 533.3h5.0v5.0h-5.0z" fill="#228d8d" shape-rendering="crispEdges"/>
<path d="M189.4 497.2h5.0v5.0h-5.0zM189.4 501.7h5.0v5.0h-5.0zM216.6 542.3h5.0v5.0h-5.0z" fill="#277e8e" shape-rendering="crispEdges"/>
<path d="M193.9 497.2h5.0v5.0h-5.0zM198.4 519.8h5.0v5.0h-5.0zM203.0 519.8h5.0v5.0h-5.0zM203.0 528.8h5.0v5.0h-5.0z" fill="#287c8e" shape-rendering="crispEdges"/>
<path d="M207.5 497.2h5.0v5.0h-5.0zM207.5 501.7h5.0v5.0h-5.0zM221.1 524.3h5.0v5.0h-5.0zM225.6 528.8h5.0v5.0h-5.0zM239.2 537.8h4.5v5.0h-4.5z" fill="#33638d" shape-rendering="crispEdges"/>
<path d="M225.6 497.2h5.0v5.0h-5.0zM239.2 506.3h4.5v5.0h-4.5z" fill="#472a7a" shape-rendering="crispEdges"/>
<path d="M230.2 497.2h5.0v5.0h-5.0zM230.2 506.3h5.0v5.0h-5.0z" fill="#46327e" shape-rendering="crispEdges"/>
<path d="M234.7 497.2h4.5v5.0h-4.5z" fill="#482071" shape-rendering="crispEdges"/>
<path d="M184.8 501.7h5.0v5.0h-5.0zM189.4 510.8h5.0v5.0h-5.0zM198.4 528.8h5.0v5.0h-5.0zM212.0 542.3h5.0v5.0h-5.0zM216.6 546.8h5.0v4.5h-5.0z" fill="#228b8d" shape-rendering="crispEdges"/>
<path d="M193.9 501.7h5.0v5.0h-5.0zM203.0 524.3h5.0v5.0h-5.0zM216.6 537.8h5.0v5.0h-5.0zM225.6 542.3h5.0v5.0h-5.0z" fill="#297a8e" shape-rendering="crispEdges"/>
<path d="M203.0 501.7h5.0v5.0h-5.0zM203.0 515.3h5.0v5.0h-5.0zM207.5 528.8h5.0v5.0h-5.0zM221.1 533.3h5.0v5.0h-5.0zM225.6 533.3h5.0v5.0h-5.0z" fill="#2e6f8e" shape-rendering="crispEdges"/>
<path d="M212.0 501.7h5.0v5.0h-5.0zM216.6 506.3h5.0v5.0h-5.0zM221.1 506.3h5.0v5.0h-5.0zM230.2 519.8h5.0v5.0h-5.0z" fill="#3d4e8a" shape-rendering="crispEdges"/>
<path d="M216.6 501.7h5.0v5.0h-5.0zM234.7 515.3h5.0v5.0h-5.0zM239.2 524.3h5.0v5.0h-5.0z" fill="#404588" shape-rendering="crispEdges"/>
<path d="M239.2 501.7h4.5v5.0h-4.5z" fill="#48186a" shape-rendering="crispEdges"/>
<path d="M180.3 506.3h5.0v5.0h-5.0zM189.4 528.8h5.0v5.0h-5.0zM193.9 537.8h5.0v5.0h-5.0z" fill="#1f988b" shape-rendering="crispEdges"/>
<path d="M198.4 506.3h5.0v5.0h-5.0zM198.4 510.8h5.0v5.0h-5.0zM230.2 542.3h5.0v5.0h-5.0z" fill="#2b748e" shape-rendering="crispEdges"/>
<path d="M203.0 506.3h5.0v5.0h-5.0zM203.0 510.8h5.0v5.0h-5.0zM216.6 524.3h5.0v5.0h-5.0zM221.1 528.8h5.0v5.0h-5.0zM221.1 537.8h5.0v5.0h-5.0zM234.7 542.3h5.0v5.0h-5.0zM234.7 546.8h5.0v4.5h-5.0z" fill="#2d718e" shape-rendering="crispEdges"/>
<path d="M207.5 506.3h5.0v5.0h-5.0zM212.0 515.3h5.0v5.0h-5.0zM216.6 515.3h5.0v5.0h-5.0zM230.2 533.3h5.0v5.0h-5.0zM234.7 533.3h5.0v5.0h-5.0z" fill="#34618d" shape-rendering="crispEdges"/>
<path d="M212.0 506.3h5.0v5.0h-5.0z" fill="#365d8d" shape-rendering="crispEdges"/>
<path d="M180.3 510.8h5.0v5.0h-5.0zM189.4 519.8h5.0v5.0h-5.0zM198.4 537.8h5.0v5.0h-5.0zM203.0 546.8h5.0v4.5h-5.0z" fill="#1f968b" shape-rendering="crispEdges"/>
<path d="M184.8 510.8h5.0v5.0h-5.0zM184.8 515.3h5.0v5.0h-5.0zM189.4 515.3h5.0v5.0h-5.0zM207.5 546.8h5.0v4.5h-5.0z" fill="#21918c" shape-rendering="crispEdges"/>
<path d="M193.9 510.8h5.0v5.0h-5.0zM221.1 542.3h5.0v5.0h-5.0z" fill="#26828e" shape-rendering="crispEdges"/>
<path d="M216.6 510.8h5.0v5.0h-5.0zM239.2 533.3h5.0v5.0h-5.0z" fill="#375b8d" shape-rendering="crispEdges"/>
<path d="M221.1 510.8h5.0v5.0h-5.0zM243.8 528.8h4.5v5.0h-4.5z" fill="#3e4989" shape-rendering="crispEdges"/>
<path d="M225.6 510.8h5.0v5.0h-5.0z" fill="#443b84" shape-rendering="crispEdges"/>
<path d="M243.8 510.8h4.5v5.0h-4.5zM243.8 515.3h4.5v5.0h-4.5z" fill="#472d7b" shape-rendering="crispEdges"/>
<path d="M180.3 515.3h5.0v5.0h-5.0zM189.4 533.3h5.0v5.0h-5.0zM189.4 537.8h5.0v5.0h-5.0z" fill="#1e9c89" shape-rendering="crispEdges"/>
<path d="M193.9 515.3h5.0v5.0h-5.0zM193.9 524.3h5.0v5.0h-5.0zM207.5 537.8h5.0v5.0h-5.0z" fill="#25858e" shape-rendering="crispEdges"/>
<path d="M198.4 515.3h5.0v5.0h-5.0zM193.9 519.8h5.0v5.0h-5.0zM216.6 533.3h5.0v5.0h-5.0zM212.0 537.8h5.0v5.0h-5.0zM225.6 546.8h5.0v4.5h-5.0zM230.2 546.8h5.0v4.5h-5.0z" fill="#27808e" shape-rendering="crispEdges"/>
<path d="M239.2 515.3h5.0v5.0h-5.0z" fill="#453781" shape-rendering="crispEdges"/>
<path d="M180.3 519.8h5.0v5.0h-5.0zM193.9 542.3h5.0v5.0h-5.0z" fill="#1f9e89" shape-rendering="crispEdges"/>
<path d="M225.6 519.8h5.0v5.0h-5.0zM230.2 528.8h5.0v5.0h-5.0z" fill="#38598c" shape-rendering="crispEdges"/>
<path d="M234.7 519.8h5.0v5.0h-5.0z" fill="#3c508b" shape-rendering="crispEdges"/>
<path d="M180.3 524.3h5.0v5.0h-5.0zM184.8 524.3h5.0v5.0h-5.0zM193.9 546.8h5.0v4.5h-5.0z" fill="#1fa088" shape-rendering="crispEdges"/>
<path d="M189.4 524.3h5.0v5.0h-5.0zM193.9 528.8h5.0v5.0h-5.0zM198.4 533.3h5.0v5.0h-5.0zM203.0 537.8h5.0v5.0h-5.0zM203.0 542.3h5.0v5.0h-5.0z" fill="#218f8d" shape-rendering="crispEdges"/>
<path d="M212.0 524.3h5.0v5.0h-5.0zM225.6 537.8h5.0v5.0h-5.0z" fill="#2f6b8e" shape-rendering="crispEdges"/>
<path d="M243.8 524.3h4.5v5.0h-4.5z" fill="#3f4788" shape-rendering="crispEdges"/>
<path d="M180.3 528.8h5.0v5.0h-5.0zM180.3 542.3h5.0v5.0h-5.0zM184.8 542.3h5.0v5.0h-5.0z" fill="#2ab07f" shape-rendering="crispEdges"/>
<path d="M184.8 528.8h5.0v5.0h-5.0zM184.8 533.3h5.0v5.0h-5.0z" fill="#20a386" shape-rendering="crispEdges"/>
<path d="M180.3 533.3h5.0v5.0h-5.0zM189.4 546.8h5.0v4.5h-5.0z" fill="#23a983" shape-rendering="crispEdges"/>
<path d="M180.3 537.8h5.0v5.0h-5.0zM184.8 546.8h5.0v4.5h-5.0z" fill="#2db27d" shape-rendering="crispEdges"/>
<path d="M184.8 537.8h5.0v5.0h-5.0z" fill="#25ab82" shape-rendering="crispEdges"/>
<path d="M189.4 542.3h5.0v5.0h-5.0z" fill="#26ad81" shape-rendering="crispEdges"/>
<path d="M180.3 546.8h5.0v4.5h-5.0z" fill="#2fb47c" shape-rendering="crispEdges"/>
<path d="M198.4 546.8h5.0v4.5h-5.0z" fill="#21a585" shape-rendering="crispEdges"/>
<rect x="180.30" y="456.70" width="95.20" height="94.60" fill="none" stroke="#000" stroke-width="1.10"/>
<path d="M312.2 483.7h5.0v5.0h-5.0z" fill="#2a768e" shape-rendering="crispEdges"/>
<path d="M316.7 483.7h5.0v5.0h-5.0zM316.7 492.7h5.0v5.0h-5.0zM330.3 510.8h5.0v5.0h-5.0zM334.9 515.3h5.0v5.0h-5.0z" fill="#2d718e" shape-rendering="crispEdges"/>
<path d="M321.3 483.7h5.0v5.0h-5.0zM321.3 497.2h5.0v5.0h-5.0zM325.8 506.3h5.0v5.0h-5.0zM334.9 519.8h5.0v5.0h-5.0zM343.9 519.8h5.0v5.0h-5.0zM343.9 528.8h4.5v5.0h-4.5z" fill="#2f6b8e" shape-rendering="crispEdges"/>
<path d="M325.8 483.7h4.5v5.0h-4.5zM339.4 501.7h5.0v5.0h-5.0zM348.5 515.3h4.5v5.0h-4.5z" fill="#39568c" shape-rendering="crispEdges"/>
<path d="M294.1 488.2h5.0v5.0h-5.0zM312.2 533.3h5.0v5.0h-5.0zM321.3 542.3h5.0v5.0h-5.0z" fill="#22a785" shape-rendering="crispEdges"/>
<path d="M298.6 488.2h5.0v5.0h-5.0zM303.1 506.3h5.0v5.0h-5.0zM316.7 524.3h5.0v5.0h-5.0zM321.3 524.3h5.0v5.0h-5.0zM330.3 533.3h5.0v5.0h-5.0zM330.3 537.8h5.0v5.0h-5.0z" fill="#218f8d" shape-rendering="crispEdges"/>
<path d="M303.1 488.2h5.0v5.0h-5.0zM312.2 515.3h5.0v5.0h-5.0zM334.9 533.3h5.0v5.0h-5.0z" fill="#228b8d" shape-rendering="crispEdges"/>
<path d="M307.7 488.2h5.0v5.0h-5.0zM307.7 497.2h5.0v5.0h-5.0zM321.3 515.3h5.0v5.0h-5.0zM325.8 528.8h5.0v5.0h-5.0zM330.3 528.8h5.0v5.0h-5.0z" fill="#25858e" shape-rendering="crispEdges"/>
<path d="M312.2 488.2h5.0v5.0h-5.0zM334.9 524.3h5.0v5.0h-5.0z" fill="#277e8e" shape-rendering="crispEdges"/>
<path d="M316.7 488.2h5.0v5.0h-5.0zM321.3 506.3h5.0v5.0h-5.0zM339.4 524.3h5.0v5.0h-5.0z" fill="#2b748e" shape-rendering="crispEdges"/>
<path d="M321.3 488.2h5.0v5.0h-5.0zM334.9 492.7h5.0v5.0h-5.0zM334.9 501.7h5.0v5.0h-5.0z" fill="#365d8d" shape-rendering="crispEdges"/>
<path d="M325.8 488.2h5.0v5.0h-5.0zM330.3 488.2h5.0v5.0h-5.0zM343.9 510.8h5.0v5.0h-5.0zM348.5 519.8h4.5v5.0h-4.5z" fill="#355f8d" shape-rendering="crispEdges"/>
<path d="M334.9 488.2h4.5v5.0h-4.5zM339.4 492.7h4.5v5.0h-4.5zM348.5 506.3h4.5v5.0h-4.5z" fill="#3d4e8a" shape-rendering="crispEdges"/>
<path d="M285.0 492.7h5.0v5.0h-5.0zM289.5 497.2h5.0v5.0h-5.0zM285.0 501.7h5.0v5.0h-5.0zM289.5 501.7h5.0v5.0h-5.0z" fill="#23a983" shape-rendering="crispEdges"/>
<path d="M289.5 492.7h5.0v5.0h-5.0zM312.2 519.8h5.0v5.0h-5.0z" fill="#1f9a8a" shape-rendering="crispEdges"/>
<path d="M294.1 492.7h5.0v5.0h-5.0zM294.1 506.3h5.0v5.0h-5.0zM307.7 524.3h5.0v5.0h-5.0z" fill="#1fa187" shape-rendering="crispEdges"/>
<path d="M298.6 492.7h5.0v5.0h-5.0zM298.6 506.3h5.0v5.0h-5.0zM303.1 510.8h5.0v5.0h-5.0zM339.4 542.3h4.5v5.0h-4.5z" fill="#1f968b" shape-rendering="crispEdges"/>
<path d="M303.1 492.7h5.0v5.0h-5.0zM316.7 515.3h5.0v5.0h-5.0z" fill="#23898e" shape-rendering="crispEdges"/>
<path d="M307.7 492.7h5.0v5.0h-5.0zM312.2 501.7h5.0v5.0h-5.0zM316.7 506.3h5.0v5.0h-5.0zM325.8 519.8h5.0v5.0h-5.0zM339.4 533.3h5.0v5.0h-5.0z" fill="#25838e" shape-rendering="crispEdges"/>
<path d="M312.2 492.7h5.0v5.0h-5.0zM330.3 519.8h5.0v5.0h-5.0zM343.9 537.8h4.5v5.0h-4.5z" fill="#287c8e" shape-rendering="crispEdges"/>
<path d="M321.3 492.7h5.0v5.0h-5.0zM325.8 497.2h5.0v5.0h-5.0zM330.3 506.3h5.0v5.0h-5.0zM334.9 510.8h5.0v5.0h-5.0zM343.9 524.3h4.5v5.0h-4.5z" fill="#2e6d8e" shape-rendering="crispEdges"/>
<path d="M325.8 492.7h5.0v5.0h-5.0zM330.3 501.7h5.0v5.0h-5.0zM339.4 510.8h5.0v5.0h-5.0zM339.4 515.3h5.0v5.0h-5.0z" fill="#31678e" shape-rendering="crispEdges"/>
<path d="M330.3 492.7h5.0v5.0h-5.0zM343.9 515.3h5.0v5.0h-5.0z" fill="#34618d" shape-rendering="crispEdges"/>
<path d="M285.0 497.2h5.0v5.0h-5.0zM294.1 510.8h5.0v5.0h-5.0zM298.6 524.3h5.0v5.0h-5.0zM307.7 528.8h5.0v5.0h-5.0zM321.3 546.8h5.0v4.5h-5.0z" fill="#26ad81" shape-rendering="crispEdges"/>
<path d="M294.1 497.2h5.0v5.0h-5.0zM312.2 524.3h5.0v5.0h-5.0zM316.7 528.8h5.0v5.0h-5.0zM330.3 546.8h5.0v4.5h-5.0z" fill="#1e9c89" shape-rendering="crispEdges"/>
<path d="M298.6 497.2h5.0v5.0h-5.0zM307.7 510.8h5.0v5.0h-5.0zM321.3 528.8h5.0v5.0h-5.0z" fill="#21918c" shape-rendering="crispEdges"/>
<path d="M303.1 497.2h5.0v5.0h-5.0zM321.3 533.3h5.0v5.0h-5.0zM334.9 542.3h5.0v5.0h-5.0zM339.4 546.8h4.5v4.5h-4.5z" fill="#1f948c" shape-rendering="crispEdges"/>
<path d="M312.2 497.2h5.0v5.0h-5.0zM334.9 528.8h5.0v5.0h-5.0zM339.4 537.8h5.0v5.0h-5.0z" fill="#27808e" shape-rendering="crispEdges"/>
<path d="M316.7 497.2h5.0v5.0h-5.0zM325.8 515.3h5.0v5.0h-5.0zM330.3 524.3h5.0v5.0h-5.0z" fill="#297a8e" shape-rendering="crispEdges"/>
<path d="M330.3 497.2h5.0v5.0h-5.0z" fill="#33638d" shape-rendering="crispEdges"/>
<path d="M334.9 497.2h5.0v5.0h-5.0zM343.9 506.3h5.0v5.0h-5.0z" fill="#38598c" shape-rendering="crispEdges"/>
<path d="M339.4 497.2h5.0v5.0h-5.0zM339.4 506.3h5.0v5.0h-5.0z" fill="#3a548c" shape-rendering="crispEdges"/>
<path d="M343.9 497.2h4.5v5.0h-4.5z" fill="#3f4788" shape-rendering="crispEdges"/>
<path d="M294.1 501.7h5.0v5.0h-5.0zM298.6 501.7h5.0v5.0h-5.0zM298.6 515.3h5.0v5.0h-5.0zM303.1 515.3h5.0v5.0h-5.0zM307.7 519.8h5.0v5.0h-5.0zM321.3 537.8h5.0v5.0h-5.0zM325.8 537.8h5.0v5.0h-5.0z" fill="#1f9e89" shape-rendering="crispEdges"/>
<path d="M303.1 501.7h5.0v5.0h-5.0z" fill="#20928c" shape-rendering="crispEdges"/>
<path d="M307.7 501.7h5.0v5.0h-5.0zM312.2 510.8h5.0v5.0h-5.0zM316.7 510.8h5.0v5.0h-5.0zM321.3 519.8h5.0v5.0h-5.0zM325.8 533.3h5.0v5.0h-5.0zM334.9 537.8h5.0v5.0h-5.0z" fill="#24878e" shape-rendering="crispEdges"/>
<path d="M316.7 501.7h5.0v5.0h-5.0z" fill="#26828e" shape-rendering="crispEdges"/>
<path d="M321.3 501.7h5.0v5.0h-5.0zM321.3 510.8h5.0v5.0h-5.0zM330.3 515.3h5.0v5.0h-5.0zM339.4 528.8h5.0v5.0h-5.0zM343.9 533.3h4.5v5.0h-4.5z" fill="#2a788e" shape-rendering="crispEdges"/>
<path d="M325.8 501.7h5.0v5.0h-5.0zM325.8 510.8h5.0v5.0h-5.0z" fill="#2e6f8e" shape-rendering="crispEdges"/>
<path d="M343.9 501.7h4.5v5.0h-4.5z" fill="#3b528b" shape-rendering="crispEdges"/>
<path d="M285.0 506.3h5.0v5.0h-5.0zM312.2 537.8h5.0v5.0h-5.0z" fill="#32b67a" shape-rendering="crispEdges"/>
<path d="M289.5 506.3h5.0v5.0h-5.0zM294.1 515.3h5.0v5.0h-5.0zM298.6 519.8h5.0v5.0h-5.0zM307.7 533.3h5.0v5.0h-5.0z" fill="#28ae80" shape-rendering="crispEdges"/>
<path d="M307.7 506.3h5.0v5.0h-5.0zM312.2 506.3h5.0v5.0h-5.0zM316.7 519.8h5.0v5.0h-5.0zM325.8 524.3h5.0v5.0h-5.0z" fill="#228d8d" shape-rendering="crispEdges"/>
<path d="M334.9 506.3h5.0v5.0h-5.0zM339.4 519.8h5.0v5.0h-5.0z" fill="#32658e" shape-rendering="crispEdges"/>
<path d="M285.0 510.8h5.0v5.0h-5.0zM285.0 524.3h5.0v5.0h-5.0z" fill="#42be71" shape-rendering="crispEdges"/>
<path d="M289.5 510.8h5.0v5.0h-5.0zM303.1 528.8h5.0v5.0h-5.0zM307.7 537.8h5.0v5.0h-5.0z" fill="#2db27d" shape-rendering="crispEdges"/>
<path d="M298.6 510.8h5.0v5.0h-5.0zM312.2 528.8h5.0v5.0h-5.0z" fill="#20a386" shape-rendering="crispEdges"/>
<path d="M348.5 510.8h4.5v5.0h-4.5z" fill="#3e4989" shape-rendering="crispEdges"/>
<path d="M285.0 515.3h5.0v5.0h-5.0zM307.7 542.3h5.0v5.0h-5.0z" fill="#3bbb75" shape-rendering="crispEdges"/>
<path d="M289.5 515.3h5.0v5.0h-5.0zM303.1 533.3h5.0v5.0h-5.0z" fill="#2fb47c" shape-rendering="crispEdges"/>
<path d="M307.7 515.3h5.0v5.0h-5.0zM330.3 542.3h5.0v5.0h-5.0zM334.9 546.8h5.0v4.5h-5.0z" fill="#1f988b" shape-rendering="crispEdges"/>
<path d="M285.0 519.8h5.0v5.0h-5.0zM303.1 546.8h5.0v4.5h-5.0z" fill="#56c667" shape-rendering="crispEdges"/>
<path d="M289.5 519.8h5.0v5.0h-5.0zM294.1 524.3h5.0v5.0h-5.0zM298.6 533.3h5.0v5.0h-5.0zM316.7 546.8h5.0v4.5h-5.0z" fill="#35b779" shape-rendering="crispEdges"/>
<path d="M294.1 519.8h5.0v5.0h-5.0zM312.2 542.3h5.0v5.0h-5.0z" fill="#2ab07f" shape-rendering="crispEdges"/>
<path d="M303.1 519.8h5.0v5.0h-5.0zM316.7 537.8h5.0v5.0h-5.0z" fill="#1fa088" shape-rendering="crispEdges"/>
<path d="M289.5 524.3h5.0v5.0h-5.0zM294.1 528.8h5.0v5.0h-5.0zM298.6 528.8h5.0v5.0h-5.0zM312.2 546.8h5.0v4.5h-5.0z" fill="#38b977" shape-rendering="crispEdges"/>
<path d="M303.1 524.3h5.0v5.0h-5.0zM316.7 542.3h5.0v5.0h-5.0zM325.8 546.8h5.0v4.5h-5.0z" fill="#25ab82" shape-rendering="crispEdges"/>
<path d="M285.0 528.8h5.0v5.0h-5.0z" fill="#5ec962" shape-rendering="crispEdges"/>
<path d="M289.5 528.8h5.0v5.0h-5.0zM298.6 537.8h5.0v5.0h-5.0z" fill="#46c06f" shape-rendering="crispEdges"/>
<path d="M285.0 533.3h5.0v5.0h-5.0zM289.5 537.8h5.0v5.0h-5.0z" fill="#6ccd5a" shape-rendering="crispEdges"/>
<path d="M289.5 533.3h5.0v5.0h-5.0zM294.1 533.3h5.0v5.0h-5.0zM294.1 537.8h5.0v5.0h-5.0z" fill="#4ec36b" shape-rendering="crispEdges"/>
<path d="M316.7 533.3h5.0v5.0h-5.0zM325.8 542.3h5.0v5.0h-5.0z" fill="#21a585" shape-rendering="crispEdges"/>
<path d="M285.0 537.8h5.0v5.0h-5.0zM289.5 542.3h5.0v5.0h-5.0zM289.5 546.8h5.0v4.5h-5.0z" fill="#84d44b" shape-rendering="crispEdges"/>
<path d="M303.1 537.8h5.0v5.0h-5.0z" fill="#3fbc73" shape-rendering="crispEdges"/>
<path d="M285.0 542.3h5.0v5.0h-5.0z" fill="#a2da37" shape-rendering="crispEdges"/>
<path d="M294.1 542.3h5.0v5.0h-5.0zM298.6 546.8h5.0v4.5h-5.0z" fill="#70cf57" shape-rendering="crispEdges"/>
<path d="M298.6 542.3h5.0v5.0h-5.0zM303.1 542.3h5.0v5.0h-5.0z" fill="#52c569" shape-rendering="crispEdges"/>
<path d="M285.0 546.8h5.0v4.5h-5.0z" fill="#9dd93b" shape-rendering="crispEdges"/>
<path d="M294.1 546.8h5.0v4.5h-5.0z" fill="#89d548" shape-rendering="crispEdges"/>
<path d="M307.7 546.8h5.0v4.5h-5.0z" fill="#4ac16d" shape-rendering="crispEdges"/>
<rect x="285.00" y="456.70" width="95.20" height="94.60" fill="none" stroke="#000" stroke-width="1.10"/>
<path d="M80.0 584.5h5.0v5.0h-5.0zM80.0 589.0h5.0v5.0h-5.0zM125.4 634.1h5.0v5.0h-5.0zM129.9 634.1h5.0v5.0h-5.0zM134.4 638.6h5.0v5.0h-5.0z" fill="#3b528b" shape-rendering="crispEdges"/>
<path d="M84.6 584.5h5.0v5.0h-5.0zM107.2 616.1h5.0v5.0h-5.0zM116.3 616.1h5.0v5.0h-5.0zM129.9 629.6h5.0v5.0h-5.0zM134.4 634.1h5.0v5.0h-5.0zM139.0 638.6h4.5v5.0h-4.5z" fill="#3c508b" shape-rendering="crispEdges"/>
<path d="M89.1 584.5h5.0v5.0h-5.0zM102.7 602.5h5.0v5.0h-5.0zM134.4 625.1h5.0v5.0h-5.0zM139.0 634.1h4.5v5.0h-4.5z" fill="#404588" shape-rendering="crispEdges"/>
<path d="M93.6 584.5h5.0v5.0h-5.0zM125.4 607.1h5.0v5.0h-5.0zM125.4 616.1h5.0v5.0h-5.0z" fill="#443983" shape-rendering="crispEdges"/>
<path d="M98.2 584.5h4.5v5.0h-4.5zM107.2 593.5h5.0v5.0h-5.0zM120.8 607.1h5.0v5.0h-5.0zM134.4 620.6h4.5v5.0h-4.5z" fill="#463480" shape-rendering="crispEdges"/>
<path d="M75.5 589.0h5.0v5.0h-5.0zM80.0 593.5h5.0v5.0h-5.0zM93.6 607.1h5.0v5.0h-5.0zM116.3 634.1h5.0v5.0h-5.0zM129.9 643.1h5.0v5.0h-5.0zM134.4 643.1h5.0v5.0h-5.0z" fill="#355f8d" shape-rendering="crispEdges"/>
<path d="M84.6 589.0h5.0v5.0h-5.0zM98.2 607.1h5.0v5.0h-5.0zM107.2 611.6h5.0v5.0h-5.0zM125.4 625.1h5.0v5.0h-5.0zM139.0 643.1h4.5v5.0h-4.5z" fill="#3d4e8a" shape-rendering="crispEdges"/>
<path d="M89.1 589.0h5.0v5.0h-5.0zM93.6 593.5h5.0v5.0h-5.0zM93.6 598.0h5.0v5.0h-5.0zM102.7 598.0h5.0v5.0h-5.0zM98.2 602.5h5.0v5.0h-5.0zM107.2 607.1h5.0v5.0h-5.0zM111.8 611.6h5.0v5.0h-5.0zM116.3 611.6h5.0v5.0h-5.0zM120.8 616.1h5.0v5.0h-5.0z" fill="#3f4788" shape-rendering="crispEdges"/>
<path d="M93.6 589.0h5.0v5.0h-5.0zM102.7 593.5h5.0v5.0h-5.0zM107.2 602.5h5.0v5.0h-5.0zM111.8 602.5h5.0v5.0h-5.0zM111.8 607.1h5.0v5.0h-5.0zM129.9 620.6h5.0v5.0h-5.0z" fill="#424086" shape-rendering="crispEdges"/>
<path d="M98.2 589.0h5.0v5.0h-5.0zM125.4 620.6h5.0v5.0h-5.0z" fill="#443b84" shape-rendering="crispEdges"/>
<path d="M102.7 589.0h5.0v5.0h-5.0zM139.0 625.1h4.5v5.0h-4.5z" fill="#453781" shape-rendering="crispEdges"/>
<path d="M107.2 589.0h5.0v5.0h-5.0zM111.8 589.0h4.5v5.0h-4.5zM116.3 598.0h5.0v5.0h-5.0zM129.9 607.1h4.5v5.0h-4.5z" fill="#472d7b" shape-rendering="crispEdges"/>
<path d="M75.5 593.5h5.0v5.0h-5.0zM111.8 634.1h5.0v5.0h-5.0zM111.8 643.1h5.0v5.0h-5.0z" fill="#2e6d8e" shape-rendering="crispEdges"/>
<path d="M84.6 593.5h5.0v5.0h-5.0zM93.6 616.1h5.0v5.0h-5.0zM102.7 616.1h5.0v5.0h-5.0zM107.2 620.6h5.0v5.0h-5.0zM125.4 638.6h5.0v5.0h-5.0zM120.8 643.1h5.0v5.0h-5.0zM125.4 643.1h5.0v5.0h-5.0z" fill="#34618d" shape-rendering="crispEdges"/>
<path d="M89.1 593.5h5.0v5.0h-5.0zM111.8 625.1h5.0v5.0h-5.0zM116.3 629.6h5.0v5.0h-5.0zM120.8 629.6h5.0v5.0h-5.0zM120.8 634.1h5.0v5.0h-5.0z" fill="#39568c" shape-rendering="crispEdges"/>
<path d="M98.2 593.5h5.0v5.0h-5.0zM120.8 620.6h5.0v5.0h-5.0zM134.4 629.6h5.0v5.0h-5.0zM139.0 629.6h4.5v5.0h-4.5z" fill="#414287" shape-rendering="crispEdges"/>
<path d="M111.8 593.5h5.0v5.0h-5.0zM116.3 602.5h5.0v5.0h-5.0zM120.8 611.6h5.0v5.0h-5.0zM125.4 611.6h5.0v5.0h-5.0zM134.4 616.1h4.5v5.0h-4.5z" fill="#472f7d" shape-rendering="crispEdges"/>
<path d="M116.3 593.5h5.0v5.0h-5.0zM125.4 602.5h5.0v5.0h-5.0z" fill="#482576" shape-rendering="crispEdges"/>
<path d="M120.8 593.5h4.5v5.0h-4.5zM120.8 598.0h5.0v5.0h-5.0zM120.8 602.5h5.0v5.0h-5.0zM129.9 602.5h4.5v5.0h-4.5z" fill="#481d6f" shape-rendering="crispEdges"/>
<path d="M75.5 598.0h5.0v5.0h-5.0zM80.0 607.1h5.0v5.0h-5.0zM84.6 611.6h5.0v5.0h-5.0zM89.1 616.1h5.0v5.0h-5.0zM98.2 629.6h5.0v5.0h-5.0zM102.7 634.1h5.0v5.0h-5.0zM116.3 643.1h5.0v5.0h-5.0z" fill="#2f6b8e" shape-rendering="crispEdges"/>
<path d="M80.0 598.0h5.0v5.0h-5.0zM89.1 611.6h5.0v5.0h-5.0zM102.7 625.1h5.0v5.0h-5.0zM107.2 634.1h5.0v5.0h-5.0zM116.3 638.6h5.0v5.0h-5.0zM120.8 647.6h5.0v4.5h-5.0z" fill="#31678e" shape-rendering="crispEdges"/>
<path d="M84.6 598.0h5.0v5.0h-5.0zM102.7 611.6h5.0v5.0h-5.0z" fill="#365d8d" shape-rendering="crispEdges"/>
<path d="M89.1 598.0h5.0v5.0h-5.0zM93.6 602.5h5.0v5.0h-5.0zM102.7 607.1h5.0v5.0h-5.0z" fill="#375b8d" shape-rendering="crispEdges"/>
<path d="M98.2 598.0h5.0v5.0h-5.0zM129.9 625.1h5.0v5.0h-5.0z" fill="#3e4989" shape-rendering="crispEdges"/>
<path d="M107.2 598.0h5.0v5.0h-5.0zM116.3 607.1h5.0v5.0h-5.0z" fill="#433e85" shape-rendering="crispEdges"/>
<path d="M111.8 598.0h5.0v5.0h-5.0zM129.9 611.6h5.0v5.0h-5.0zM129.9 616.1h5.0v5.0h-5.0z" fill="#46327e" shape-rendering="crispEdges"/>
<path d="M125.4 598.0h4.5v5.0h-4.5z" fill="#481668" shape-rendering="crispEdges"/>
<path d="M75.5 602.5h5.0v5.0h-5.0zM84.6 616.1h5.0v5.0h-5.0zM93.6 620.6h5.0v5.0h-5.0zM102.7 629.6h5.0v5.0h-5.0zM102.7 643.1h5.0v5.0h-5.0zM116.3 647.6h5.0v4.5h-5.0z" fill="#2e6f8e" shape-rendering="crispEdges"/>
<path d="M80.0 602.5h5.0v5.0h-5.0zM84.6 602.5h5.0v5.0h-5.0zM98.2 620.6h5.0v5.0h-5.0zM102.7 620.6h5.0v5.0h-5.0zM107.2 629.6h5.0v5.0h-5.0z" fill="#30698e" shape-rendering="crispEdges"/>
<path d="M89.1 602.5h5.0v5.0h-5.0zM98.2 611.6h5.0v5.0h-5.0zM98.2 616.1h5.0v5.0h-5.0zM107.2 625.1h5.0v5.0h-5.0zM120.8 625.1h5.0v5.0h-5.0zM125.4 629.6h5.0v5.0h-5.0zM129.9 638.6h5.0v5.0h-5.0z" fill="#38598c" shape-rendering="crispEdges"/>
<path d="M75.5 607.1h5.0v5.0h-5.0zM89.1 620.6h5.0v5.0h-5.0zM89.1 625.1h5.0v5.0h-5.0zM93.6 625.1h5.0v5.0h-5.0zM98.2 625.1h5.0v5.0h-5.0zM107.2 638.6h5.0v5.0h-5.0z" fill="#2d718e" shape-rendering="crispEdges"/>
<path d="M84.6 607.1h5.0v5.0h-5.0zM93.6 611.6h5.0v5.0h-5.0zM111.8 629.6h5.0v5.0h-5.0zM111.8 638.6h5.0v5.0h-5.0zM125.4 647.6h5.0v4.5h-5.0zM129.9 647.6h5.0v4.5h-5.0zM134.4 647.6h4.5v4.5h-4.5z" fill="#32658e" shape-rendering="crispEdges"/>
<path d="M89.1 607.1h5.0v5.0h-5.0zM120.8 638.6h5.0v5.0h-5.0z" fill="#33638d" shape-rendering="crispEdges"/>
<path d="M75.5 611.6h5.0v5.0h-5.0zM84.6 625.1h5.0v5.0h-5.0zM93.6 634.1h5.0v5.0h-5.0zM102.7 647.6h5.0v4.5h-5.0zM107.2 647.6h5.0v4.5h-5.0z" fill="#2a788e" shape-rendering="crispEdges"/>
<path d="M80.0 611.6h5.0v5.0h-5.0zM98.2 634.1h5.0v5.0h-5.0zM102.7 638.6h5.0v5.0h-5.0zM111.8 647.6h5.0v4.5h-5.0z" fill="#2c728e" shape-rendering="crispEdges"/>
<path d="M134.4 611.6h4.5v5.0h-4.5z" fill="#482878" shape-rendering="crispEdges"/>
<path d="M75.5 616.1h5.0v5.0h-5.0zM75.5 620.6h5.0v5.0h-5.0zM80.0 620.6h5.0v5.0h-5.0zM98.2 647.6h5.0v4.5h-5.0z" fill="#277e8e" shape-rendering="crispEdges"/>
<path d="M80.0 616.1h5.0v5.0h-5.0zM84.6 629.6h5.0v5.0h-5.0zM89.1 629.6h5.0v5.0h-5.0zM98.2 643.1h5.0v5.0h-5.0z" fill="#297a8e" shape-rendering="crispEdges"/>
<path d="M111.8 616.1h5.0v5.0h-5.0zM111.8 620.6h5.0v5.0h-5.0z" fill="#3e4c8a" shape-rendering="crispEdges"/>
<path d="M84.6 620.6h5.0v5.0h-5.0zM93.6 629.6h5.0v5.0h-5.0zM98.2 638.6h5.0v5.0h-5.0zM107.2 643.1h5.0v5.0h-5.0z" fill="#2a768e" shape-rendering="crispEdges"/>
<path d="M116.3 620.6h5.0v5.0h-5.0zM116.3 625.1h5.0v5.0h-5.0z" fill="#3a548c" shape-rendering="crispEdges"/>
<path d="M75.5 625.1h5.0v5.0h-5.0zM80.0 625.1h5.0v5.0h-5.0z" fill="#25858e" shape-rendering="crispEdges"/>
<path d="M75.5 629.6h5.0v5.0h-5.0zM84.6 643.1h5.0v5.0h-5.0zM89.1 647.6h5.0v4.5h-5.0z" fill="#228b8d" shape-rendering="crispEdges"/>
<path d="M80.0 629.6h5.0v5.0h-5.0zM80.0 634.1h5.0v5.0h-5.0zM84.6 638.6h5.0v5.0h-5.0zM89.1 643.1h5.0v5.0h-5.0z" fill="#24878e" shape-rendering="crispEdges"/>
<path d="M75.5 634.1h5.0v5.0h-5.0z" fill="#20928c" shape-rendering="crispEdges"/>
<path d="M84.6 634.1h5.0v5.0h-5.0zM89.1 638.6h5.0v5.0h-5.0zM93.6 647.6h5.0v4.5h-5.0z" fill="#25838e" shape-rendering="crispEdges"/>
<path d="M89.1 634.1h5.0v5.0h-5.0zM80.0 638.6h5.0v5.0h-5.0zM84.6 647.6h5.0v4.5h-5.0z" fill="#23898e" shape-rendering="crispEdges"/>
<path d="M75.5 638.6h5.0v5.0h-5.0z" fill="#1f948c" shape-rendering="crispEdges"/>
<path d="M93.6 638.6h5.0v5.0h-5.0z" fill="#27808e" shape-rendering="crispEdges"/>
<path d="M75.5 643.1h5.0v5.0h-5.0zM80.0 647.6h5.0v4.5h-5.0z" fill="#21918c" shape-rendering="crispEdges"/>
<path d="M80.0 643.1h5.0v5.0h-5.0z" fill="#218f8d" shape-rendering="crispEdges"/>
<path d="M93.6 643.1h5.0v5.0h-5.0z" fill="#287c8e" shape-rendering="crispEdges"/>
<path d="M75.5 647.6h5.0v4.5h-5.0z" fill="#1f9a8a" shape-rendering="crispEdges"/>
<rect x="75.50" y="557.50" width="95.20" height="94.60" fill="none" stroke="#000" stroke-width="1.10"/>
<path d="M193.9 584.5h5.0v5.0h-5.0zM198.4 593.5h5.0v5.0h-5.0zM203.0 607.1h5.0v5.0h-5.0zM212.0 616.1h5.0v5.0h-5.0zM221.1 620.6h5.0v5.0h-5.0zM225.6 620.6h5.0v5.0h-5.0z" fill="#34618d" shape-rendering="crispEdges"/>
<path d="M198.4 584.5h5.0v5.0h-5.0zM207.5 602.5h5.0v5.0h-5.0zM212.0 611.6h5.0v5.0h-5.0zM243.8 625.1h4.5v5.0h-4.5z" fill="#365d8d" shape-rendering="crispEdges"/>
<path d="M203.0 584.5h5.0v5.0h-5.0z" fill="#3d4e8a" shape-rendering="crispEdges"/>
<path d="M207.5 584.5h5.0v5.0h-5.0zM225.6 602.5h5.0v5.0h-5.0z" fill="#433e85" shape-rendering="crispEdges"/>
<path d="M212.0 584.5h5.0v5.0h-5.0zM221.1 598.0h5.0v5.0h-5.0zM234.7 607.1h5.0v5.0h-5.0z" fill="#443b84" shape-rendering="crispEdges"/>
<path d="M216.6 584.5h4.5v5.0h-4.5z" fill="#472a7a" shape-rendering="crispEdges"/>
<path d="M180.3 589.0h5.0v5.0h-5.0zM198.4 629.6h5.0v5.0h-5.0zM203.0 634.1h5.0v5.0h-5.0zM230.2 638.6h5.0v5.0h-5.0zM225.6 643.1h5.0v5.0h-5.0z" fill="#25838e" shape-rendering="crispEdges"/>
<path d="M184.8 589.0h5.0v5.0h-5.0zM184.8 598.0h5.0v5.0h-5.0zM184.8 607.1h5.0v5.0h-5.0zM193.9 616.1h5.0v5.0h-5.0zM239.2 638.6h4.5v5.0h-4.5z" fill="#287c8e" shape-rendering="crispEdges"/>
<path d="M189.4 589.0h5.0v5.0h-5.0zM239.2 629.6h5.0v5.0h-5.0z" fill="#2e6d8e" shape-rendering="crispEdges"/>
<path d="M193.9 589.0h5.0v5.0h-5.0zM193.9 593.5h5.0v5.0h-5.0zM198.4 598.0h5.0v5.0h-5.0zM203.0 602.5h5.0v5.0h-5.0zM198.4 607.1h5.0v5.0h-5.0zM203.0 611.6h5.0v5.0h-5.0z" fill="#33638d" shape-rendering="crispEdges"/>
<path d="M198.4 589.0h5.0v5.0h-5.0zM212.0 620.6h5.0v5.0h-5.0zM216.6 620.6h5.0v5.0h-5.0zM230.2 629.6h5.0v5.0h-5.0zM234.7 629.6h5.0v5.0h-5.0zM239.2 634.1h5.0v5.0h-5.0z" fill="#31678e" shape-rendering="crispEdges"/>
<path d="M203.0 589.0h5.0v5.0h-5.0zM212.0 598.0h5.0v5.0h-5.0zM212.0 607.1h5.0v5.0h-5.0zM221.1 611.6h5.0v5.0h-5.0zM225.6 611.6h5.0v5.0h-5.0zM225.6 616.1h5.0v5.0h-5.0zM239.2 620.6h5.0v5.0h-5.0zM243.8 620.6h4.5v5.0h-4.5zM234.7 625.1h5.0v5.0h-5.0z" fill="#3b528b" shape-rendering="crispEdges"/>
<path d="M207.5 589.0h5.0v5.0h-5.0zM221.1 607.1h5.0v5.0h-5.0zM225.6 607.1h5.0v5.0h-5.0zM230.2 611.6h5.0v5.0h-5.0zM239.2 616.1h5.0v5.0h-5.0z" fill="#3e4989" shape-rendering="crispEdges"/>
<path d="M212.0 589.0h5.0v5.0h-5.0zM216.6 598.0h5.0v5.0h-5.0z" fill="#414287" shape-rendering="crispEdges"/>
<path d="M216.6 589.0h5.0v5.0h-5.0zM216.6 593.5h5.0v5.0h-5.0zM234.7 602.5h5.0v5.0h-5.0z" fill="#463480" shape-rendering="crispEdges"/>
<path d="M221.1 589.0h5.0v5.0h-5.0zM230.2 598.0h5.0v5.0h-5.0zM230.2 602.5h5.0v5.0h-5.0zM239.2 602.5h4.5v5.0h-4.5z" fill="#472d7b" shape-rendering="crispEdges"/>
<path d="M225.6 589.0h4.5v5.0h-4.5z" fill="#482576" shape-rendering="crispEdges"/>
<path d="M180.3 593.5h5.0v5.0h-5.0zM221.1 634.1h5.0v5.0h-5.0zM234.7 638.6h5.0v5.0h-5.0z" fill="#2a788e" shape-rendering="crispEdges"/>
<path d="M184.8 593.5h5.0v5.0h-5.0zM203.0 629.6h5.0v5.0h-5.0zM212.0 634.1h5.0v5.0h-5.0zM216.6 634.1h5.0v5.0h-5.0zM221.1 638.6h5.0v5.0h-5.0z" fill="#27808e" shape-rendering="crispEdges"/>
<path d="M189.4 593.5h5.0v5.0h-5.0zM193.9 602.5h5.0v5.0h-5.0zM207.5 616.1h5.0v5.0h-5.0zM216.6 625.1h5.0v5.0h-5.0zM234.7 634.1h5.0v5.0h-5.0z" fill="#2f6b8e" shape-rendering="crispEdges"/>
<path d="M203.0 593.5h5.0v5.0h-5.0zM203.0 598.0h5.0v5.0h-5.0z" fill="#39568c" shape-rendering="crispEdges"/>
<path d="M207.5 593.5h5.0v5.0h-5.0z" fill="#3f4788" shape-rendering="crispEdges"/>
<path d="M212.0 593.5h5.0v5.0h-5.0zM216.6 602.5h5.0v5.0h-5.0zM221.1 602.5h5.0v5.0h-5.0zM216.6 607.1h5.0v5.0h-5.0zM234.7 611.6h5.0v5.0h-5.0z" fill="#404588" shape-rendering="crispEdges"/>
<path d="M221.1 593.5h5.0v5.0h-5.0z" fill="#472f7d" shape-rendering="crispEdges"/>
<path d="M225.6 593.5h5.0v5.0h-5.0z" fill="#482374" shape-rendering="crispEdges"/>
<path d="M230.2 593.5h4.5v5.0h-4.5z" fill="#482071" shape-rendering="crispEdges"/>
<path d="M180.3 598.0h5.0v5.0h-5.0zM180.3 602.5h5.0v5.0h-5.0zM184.8 611.6h5.0v5.0h-5.0zM189.4 616.1h5.0v5.0h-5.0zM212.0 638.6h5.0v5.0h-5.0zM216.6 643.1h5.0v5.0h-5.0z" fill="#24878e" shape-rendering="crispEdges"/>
<path d="M189.4 598.0h5.0v5.0h-5.0zM189.4 607.1h5.0v5.0h-5.0zM198.4 616.1h5.0v5.0h-5.0zM212.0 625.1h5.0v5.0h-5.0zM243.8 634.1h4.5v5.0h-4.5z" fill="#2b748e" shape-rendering="crispEdges"/>
<path d="M193.9 598.0h5.0v5.0h-5.0zM193.9 611.6h5.0v5.0h-5.0zM221.1 629.6h5.0v5.0h-5.0z" fill="#2e6f8e" shape-rendering="crispEdges"/>
<path d="M207.5 598.0h5.0v5.0h-5.0zM212.0 602.5h5.0v5.0h-5.0zM216.6 611.6h5.0v5.0h-5.0zM221.1 616.1h5.0v5.0h-5.0z" fill="#3c508b" shape-rendering="crispEdges"/>
<path d="M225.6 598.0h5.0v5.0h-5.0zM239.2 607.1h4.5v5.0h-4.5z" fill="#46327e" shape-rendering="crispEdges"/>
<path d="M234.7 598.0h4.5v5.0h-4.5z" fill="#482878" shape-rendering="crispEdges"/>
<path d="M184.8 602.5h5.0v5.0h-5.0zM216.6 638.6h5.0v5.0h-5.0zM239.2 643.1h4.5v5.0h-4.5z" fill="#277e8e" shape-rendering="crispEdges"/>
<path d="M189.4 602.5h5.0v5.0h-5.0zM225.6 629.6h5.0v5.0h-5.0z" fill="#2c728e" shape-rendering="crispEdges"/>
<path d="M198.4 602.5h5.0v5.0h-5.0zM203.0 616.1h5.0v5.0h-5.0zM225.6 625.1h5.0v5.0h-5.0z" fill="#30698e" shape-rendering="crispEdges"/>
<path d="M180.3 607.1h5.0v5.0h-5.0zM180.3 620.6h5.0v5.0h-5.0zM184.8 625.1h5.0v5.0h-5.0z" fill="#21918c" shape-rendering="crispEdges"/>
<path d="M193.9 607.1h5.0v5.0h-5.0zM203.0 625.1h5.0v5.0h-5.0zM216.6 629.6h5.0v5.0h-5.0zM225.6 634.1h5.0v5.0h-5.0zM230.2 634.1h5.0v5.0h-5.0z" fill="#2a768e" shape-rendering="crispEdges"/>
<path d="M207.5 607.1h5.0v5.0h-5.0zM230.2 620.6h5.0v5.0h-5.0z" fill="#38598c" shape-rendering="crispEdges"/>
<path d="M230.2 607.1h5.0v5.0h-5.0zM243.8 616.1h4.5v5.0h-4.5z" fill="#424086" shape-rendering="crispEdges"/>
<path d="M180.3 611.6h5.0v5.0h-5.0zM184.8 620.6h5.0v5.0h-5.0zM184.8 629.6h5.0v5.0h-5.0zM189.4 634.1h5.0v5.0h-5.0zM198.4 643.1h5.0v5.0h-5.0zM207.5 647.6h5.0v4.5h-5.0zM221.1 647.6h5.0v4.5h-5.0z" fill="#20928c" shape-rendering="crispEdges"/>
<path d="M189.4 611.6h5.0v5.0h-5.0zM189.4 620.6h5.0v5.0h-5.0zM193.9 620.6h5.0v5.0h-5.0zM198.4 625.1h5.0v5.0h-5.0zM207.5 634.1h5.0v5.0h-5.0zM207.5 638.6h5.0v5.0h-5.0z" fill="#26828e" shape-rendering="crispEdges"/>
<path d="M198.4 611.6h5.0v5.0h-5.0zM207.5 620.6h5.0v5.0h-5.0zM207.5 625.1h5.0v5.0h-5.0z" fill="#2d718e" shape-rendering="crispEdges"/>
<path d="M207.5 611.6h5.0v5.0h-5.0zM221.1 625.1h5.0v5.0h-5.0zM230.2 625.1h5.0v5.0h-5.0zM243.8 629.6h4.5v5.0h-4.5z" fill="#32658e" shape-rendering="crispEdges"/>
<path d="M239.2 611.6h5.0v5.0h-5.0z" fill="#443983" shape-rendering="crispEdges"/>
<path d="M243.8 611.6h4.5v5.0h-4.5z" fill="#453781" shape-rendering="crispEdges"/>
<path d="M180.3 616.1h5.0v5.0h-5.0z" fill="#228b8d" shape-rendering="crispEdges"/>
<path d="M184.8 616.1h5.0v5.0h-5.0zM189.4 625.1h5.0v5.0h-5.0zM198.4 634.1h5.0v5.0h-5.0zM198.4 638.6h5.0v5.0h-5.0zM230.2 647.6h5.0v4.5h-5.0z" fill="#23898e" shape-rendering="crispEdges"/>
<path d="M216.6 616.1h5.0v5.0h-5.0zM234.7 616.1h5.0v5.0h-5.0z" fill="#3a548c" shape-rendering="crispEdges"/>
<path d="M230.2 616.1h5.0v5.0h-5.0z" fill="#3e4c8a" shape-rendering="crispEdges"/>
<path d="M198.4 620.6h5.0v5.0h-5.0zM203.0 620.6h5.0v5.0h-5.0zM207.5 629.6h5.0v5.0h-5.0zM212.0 629.6h5.0v5.0h-5.0z" fill="#297a8e" shape-rendering="crispEdges"/>
<path d="M234.7 620.6h5.0v5.0h-5.0z" fill="#355f8d" shape-rendering="crispEdges"/>
<path d="M180.3 625.1h5.0v5.0h-5.0zM189.4 629.6h5.0v5.0h-5.0zM203.0 643.1h5.0v5.0h-5.0zM225.6 647.6h5.0v4.5h-5.0z" fill="#1f948c" shape-rendering="crispEdges"/>
<path d="M193.9 625.1h5.0v5.0h-5.0zM193.9 629.6h5.0v5.0h-5.0zM225.6 638.6h5.0v5.0h-5.0zM212.0 643.1h5.0v5.0h-5.0zM230.2 643.1h5.0v5.0h-5.0zM234.7 643.1h5.0v5.0h-5.0zM239.2 647.6h4.5v4.5h-4.5z" fill="#25858e" shape-rendering="crispEdges"/>
<path d="M239.2 625.1h5.0v5.0h-5.0z" fill="#375b8d" shape-rendering="crispEdges"/>
<path d="M180.3 629.6h5.0v5.0h-5.0zM184.8 638.6h5.0v5.0h-5.0z" fill="#1f9e89" shape-rendering="crispEdges"/>
<path d="M180.3 634.1h5.0v5.0h-5.0zM180.3 643.1h5.0v5.0h-5.0z" fill="#20a386" shape-rendering="crispEdges"/>
<path d="M184.8 634.1h5.0v5.0h-5.0zM203.0 647.6h5.0v4.5h-5.0z" fill="#1f968b" shape-rendering="crispEdges"/>
<path d="M193.9 634.1h5.0v5.0h-5.0zM203.0 638.6h5.0v5.0h-5.0zM221.1 643.1h5.0v5.0h-5.0zM216.6 647.6h5.0v4.5h-5.0z" fill="#228d8d" shape-rendering="crispEdges"/>
<path d="M180.3 638.6h5.0v5.0h-5.0zM189.4 647.6h5.0v4.5h-5.0z" fill="#23a983" shape-rendering="crispEdges"/>
<path d="M189.4 638.6h5.0v5.0h-5.0zM198.4 647.6h5.0v4.5h-5.0z" fill="#1f9a8a" shape-rendering="crispEdges"/>
<path d="M193.9 638.6h5.0v5.0h-5.0zM207.5 643.1h5.0v5.0h-5.0zM212.0 647.6h5.0v4.5h-5.0zM234.7 647.6h5.0v4.5h-5.0z" fill="#218f8d" shape-rendering="crispEdges"/>
<path d="M184.8 643.1h5.0v5.0h-5.0zM189.4 643.1h5.0v5.0h-5.0zM193.9 643.1h5.0v5.0h-5.0z" fill="#1fa088" shape-rendering="crispEdges"/>
<path d="M180.3 647.6h5.0v4.5h-5.0z" fill="#2ab07f" shape-rendering="crispEdges"/>
<path d="M184.8 647.6h5.0v4.5h-5.0z" fill="#26ad81" shape-rendering="crispEdges"/>
<path d="M193.9 647.6h5.0v4.5h-5.0z" fill="#21a585" shape-rendering="crispEdges"/>
<rect x="180.30" y="557.50" width="95.20" height="94.60" fill="none" stroke="#000" stroke-width="1.10"/>
<path d="M312.2 584.5h5.0v5.0h-5.0zM312.2 589.0h5.0v5.0h-5.0zM316.7 602.5h5.0v5.0h-5.0zM316.7 607.1h5.0v5.0h-5.0zM316.7 611.6h5.0v5.0h-5.0zM321.3 611.6h5.0v5.0h-5.0zM330.3 616.1h5.0v5.0h-5.0zM330.3 620.6h5.0v5.0h-5.0zM339.4 625.1h5.0v5.0h-5.0z" fill="#2a788e" shape-rendering="crispEdges"/>
<path d="M316.7 584.5h5.0v5.0h-5.0zM321.3 589.0h5.0v5.0h-5.0zM325.8 602.5h5.0v5.0h-5.0zM343.9 625.1h4.5v5.0h-4.5z" fill="#2e6f8e" shape-rendering="crispEdges"/>
<path d="M321.3 584.5h5.0v5.0h-5.0z" fill="#31678e" shape-rendering="crispEdges"/>
<path d="M325.8 584.5h4.5v5.0h-4.5zM343.9 611.6h5.0v5.0h-5.0z" fill="#30698e" shape-rendering="crispEdges"/>
<path d="M294.1 589.0h5.0v5.0h-5.0zM294.1 593.5h5.0v5.0h-5.0zM294.1 607.1h5.0v5.0h-5.0zM307.7 629.6h5.0v5.0h-5.0z" fill="#1f988b" shape-rendering="crispEdges"/>
<path d="M298.6 589.0h5.0v5.0h-5.0zM321.3 634.1h5.0v5.0h-5.0zM330.3 634.1h5.0v5.0h-5.0z" fill="#228d8d" shape-rendering="crispEdges"/>
<path d="M303.1 589.0h5.0v5.0h-5.0zM303.1 607.1h5.0v5.0h-5.0z" fill="#25858e" shape-rendering="crispEdges"/>
<path d="M307.7 589.0h5.0v5.0h-5.0zM307.7 598.0h5.0v5.0h-5.0zM325.8 616.1h5.0v5.0h-5.0zM325.8 620.6h5.0v5.0h-5.0zM339.4 620.6h5.0v5.0h-5.0zM343.9 629.6h4.5v5.0h-4.5z" fill="#287c8e" shape-rendering="crispEdges"/>
<path d="M316.7 589.0h5.0v5.0h-5.0zM330.3 602.5h5.0v5.0h-5.0zM325.8 607.1h5.0v5.0h-5.0z" fill="#2d718e" shape-rendering="crispEdges"/>
<path d="M325.8 589.0h5.0v5.0h-5.0zM330.3 589.0h5.0v5.0h-5.0zM334.9 607.1h5.0v5.0h-5.0zM348.5 616.1h4.5v5.0h-4.5z" fill="#33638d" shape-rendering="crispEdges"/>
<path d="M334.9 589.0h4.5v5.0h-4.5zM321.3 593.5h5.0v5.0h-5.0zM330.3 593.5h5.0v5.0h-5.0zM343.9 607.1h5.0v5.0h-5.0z" fill="#34618d" shape-rendering="crispEdges"/>
<path d="M285.0 593.5h5.0v5.0h-5.0zM285.0 602.5h5.0v5.0h-5.0zM285.0 611.6h5.0v5.0h-5.0zM303.1 638.6h5.0v5.0h-5.0zM312.2 643.1h5.0v5.0h-5.0z" fill="#26ad81" shape-rendering="crispEdges"/>
<path d="M289.5 593.5h5.0v5.0h-5.0zM289.5 607.1h5.0v5.0h-5.0zM298.6 625.1h5.0v5.0h-5.0zM298.6 629.6h5.0v5.0h-5.0z" fill="#20a386" shape-rendering="crispEdges"/>
<path d="M298.6 593.5h5.0v5.0h-5.0zM312.2 629.6h5.0v5.0h-5.0zM321.3 629.6h5.0v5.0h-5.0z" fill="#228b8d" shape-rendering="crispEdges"/>
<path d="M303.1 593.5h5.0v5.0h-5.0zM307.7 593.5h5.0v5.0h-5.0zM312.2 593.5h5.0v5.0h-5.0zM307.7 607.1h5.0v5.0h-5.0zM312.2 611.6h5.0v5.0h-5.0zM316.7 620.6h5.0v5.0h-5.0zM321.3 620.6h5.0v5.0h-5.0zM321.3 625.1h5.0v5.0h-5.0z" fill="#27808e" shape-rendering="crispEdges"/>
<path d="M316.7 593.5h5.0v5.0h-5.0zM312.2 607.1h5.0v5.0h-5.0zM339.4 629.6h5.0v5.0h-5.0z" fill="#297a8e" shape-rendering="crispEdges"/>
<path d="M325.8 593.5h5.0v5.0h-5.0zM330.3 598.0h5.0v5.0h-5.0zM334.9 598.0h5.0v5.0h-5.0zM343.9 602.5h4.5v5.0h-4.5zM348.5 611.6h4.5v5.0h-4.5z" fill="#32658e" shape-rendering="crispEdges"/>
<path d="M334.9 593.5h5.0v5.0h-5.0zM339.4 593.5h4.5v5.0h-4.5zM343.9 598.0h4.5v5.0h-4.5zM339.4 602.5h5.0v5.0h-5.0zM339.4 607.1h5.0v5.0h-5.0z" fill="#375b8d" shape-rendering="crispEdges"/>
<path d="M285.0 598.0h5.0v5.0h-5.0zM289.5 616.1h5.0v5.0h-5.0zM303.1 634.1h5.0v5.0h-5.0zM325.8 647.6h5.0v4.5h-5.0zM339.4 647.6h4.5v4.5h-4.5z" fill="#22a785" shape-rendering="crispEdges"/>
<path d="M289.5 598.0h5.0v5.0h-5.0zM303.1 620.6h5.0v5.0h-5.0zM303.1 625.1h5.0v5.0h-5.0zM334.9 643.1h5.0v5.0h-5.0z" fill="#1e9c89" shape-rendering="crispEdges"/>
<path d="M294.1 598.0h5.0v5.0h-5.0zM298.6 602.5h5.0v5.0h-5.0zM298.6 616.1h5.0v5.0h-5.0zM316.7 629.6h5.0v5.0h-5.0zM316.7 634.1h5.0v5.0h-5.0z" fill="#1f968b" shape-rendering="crispEdges"/>
<path d="M298.6 598.0h5.0v5.0h-5.0zM339.4 634.1h5.0v5.0h-5.0z" fill="#24878e" shape-rendering="crispEdges"/>
<path d="M303.1 598.0h5.0v5.0h-5.0zM303.1 611.6h5.0v5.0h-5.0zM312.2 616.1h5.0v5.0h-5.0zM325.8 629.6h5.0v5.0h-5.0zM334.9 629.6h5.0v5.0h-5.0z" fill="#25838e" shape-rendering="crispEdges"/>
<path d="M312.2 598.0h5.0v5.0h-5.0zM334.9 620.6h5.0v5.0h-5.0z" fill="#277e8e" shape-rendering="crispEdges"/>
<path d="M316.7 598.0h5.0v5.0h-5.0zM321.3 598.0h5.0v5.0h-5.0zM325.8 598.0h5.0v5.0h-5.0zM334.9 602.5h5.0v5.0h-5.0zM325.8 611.6h5.0v5.0h-5.0zM334.9 616.1h5.0v5.0h-5.0zM343.9 616.1h5.0v5.0h-5.0zM348.5 620.6h4.5v5.0h-4.5z" fill="#2e6d8e" shape-rendering="crispEdges"/>
<path d="M339.4 598.0h5.0v5.0h-5.0z" fill="#38598c" shape-rendering="crispEdges"/>
<path d="M289.5 602.5h5.0v5.0h-5.0zM289.5 611.6h5.0v5.0h-5.0zM294.1 616.1h5.0v5.0h-5.0zM294.1 625.1h5.0v5.0h-5.0zM294.1 629.6h5.0v5.0h-5.0zM316.7 643.1h5.0v5.0h-5.0zM334.9 647.6h5.0v4.5h-5.0z" fill="#23a983" shape-rendering="crispEdges"/>
<path d="M294.1 602.5h5.0v5.0h-5.0zM294.1 611.6h5.0v5.0h-5.0z" fill="#1f9a8a" shape-rendering="crispEdges"/>
<path d="M303.1 602.5h5.0v5.0h-5.0zM307.7 611.6h5.0v5.0h-5.0zM307.7 616.1h5.0v5.0h-5.0zM334.9 634.1h5.0v5.0h-5.0zM343.9 638.6h4.5v5.0h-4.5z" fill="#23898e" shape-rendering="crispEdges"/>
<path d="M307.7 602.5h5.0v5.0h-5.0zM312.2 602.5h5.0v5.0h-5.0zM325.8 625.1h5.0v5.0h-5.0zM330.3 625.1h5.0v5.0h-5.0zM330.3 629.6h5.0v5.0h-5.0z" fill="#26828e" shape-rendering="crispEdges"/>
<path d="M321.3 602.5h5.0v5.0h-5.0zM321.3 607.1h5.0v5.0h-5.0zM343.9 620.6h5.0v5.0h-5.0z" fill="#2a768e" shape-rendering="crispEdges"/>
<path d="M285.0 607.1h5.0v5.0h-5.0zM307.7 643.1h5.0v5.0h-5.0zM321.3 647.6h5.0v4.5h-5.0z" fill="#25ab82" shape-rendering="crispEdges"/>
<path d="M298.6 607.1h5.0v5.0h-5.0zM303.1 616.1h5.0v5.0h-5.0zM334.9 638.6h5.0v5.0h-5.0zM339.4 638.6h5.0v5.0h-5.0z" fill="#1f948c" shape-rendering="crispEdges"/>
<path d="M330.3 607.1h5.0v5.0h-5.0zM330.3 611.6h5.0v5.0h-5.0zM339.4 611.6h5.0v5.0h-5.0zM339.4 616.1h5.0v5.0h-5.0z" fill="#2f6b8e" shape-rendering="crispEdges"/>
<path d="M348.5 607.1h4.5v5.0h-4.5z" fill="#355f8d" shape-rendering="crispEdges"/>
<path d="M298.6 611.6h5.0v5.0h-5.0z" fill="#20928c" shape-rendering="crispEdges"/>
<path d="M334.9 611.6h5.0v5.0h-5.0zM321.3 616.1h5.0v5.0h-5.0z" fill="#2c728e" shape-rendering="crispEdges"/>
<path d="M285.0 616.1h5.0v5.0h-5.0zM294.1 634.1h5.0v5.0h-5.0zM312.2 647.6h5.0v4.5h-5.0z" fill="#2ab07f" shape-rendering="crispEdges"/>
<path d="M316.7 616.1h5.0v5.0h-5.0zM334.9 625.1h5.0v5.0h-5.0z" fill="#2b748e" shape-rendering="crispEdges"/>
<path d="M285.0 620.6h5.0v5.0h-5.0zM285.0 625.1h5.0v5.0h-5.0zM285.0 629.6h5.0v5.0h-5.0zM294.1 638.6h5.0v5.0h-5.0zM298.6 638.6h5.0v5.0h-5.0zM298.6 643.1h5.0v5.0h-5.0z" fill="#38b977" shape-rendering="crispEdges"/>
<path d="M289.5 620.6h5.0v5.0h-5.0zM307.7 638.6h5.0v5.0h-5.0zM330.3 647.6h5.0v4.5h-5.0z" fill="#21a585" shape-rendering="crispEdges"/>
<path d="M294.1 620.6h5.0v5.0h-5.0zM307.7 634.1h5.0v5.0h-5.0z" fill="#1fa088" shape-rendering="crispEdges"/>
<path d="M298.6 620.6h5.0v5.0h-5.0zM307.7 620.6h5.0v5.0h-5.0zM312.2 625.1h5.0v5.0h-5.0zM343.9 634.1h4.5v5.0h-4.5z" fill="#218f8d" shape-rendering="crispEdges"/>
<path d="M312.2 620.6h5.0v5.0h-5.0zM307.7 625.1h5.0v5.0h-5.0zM316.7 625.1h5.0v5.0h-5.0zM325.8 634.1h5.0v5.0h-5.0zM325.8 638.6h5.0v5.0h-5.0zM330.3 638.6h5.0v5.0h-5.0z" fill="#21918c" shape-rendering="crispEdges"/>
<path d="M289.5 625.1h5.0v5.0h-5.0zM303.1 643.1h5.0v5.0h-5.0z" fill="#2fb47c" shape-rendering="crispEdges"/>
<path d="M289.5 629.6h5.0v5.0h-5.0zM298.6 634.1h5.0v5.0h-5.0zM316.7 647.6h5.0v4.5h-5.0z" fill="#28ae80" shape-rendering="crispEdges"/>
<path d="M303.1 629.6h5.0v5.0h-5.0zM312.2 638.6h5.0v5.0h-5.0zM321.3 638.6h5.0v5.0h-5.0zM321.3 643.1h5.0v5.0h-5.0zM339.4 643.1h4.5v5.0h-4.5z" fill="#1f9e89" shape-rendering="crispEdges"/>
<path d="M285.0 634.1h5.0v5.0h-5.0zM294.1 643.1h5.0v5.0h-5.0z" fill="#42be71" shape-rendering="crispEdges"/>
<path d="M289.5 634.1h5.0v5.0h-5.0z" fill="#3bbb75" shape-rendering="crispEdges"/>
<path d="M312.2 634.1h5.0v5.0h-5.0zM316.7 638.6h5.0v5.0h-5.0zM325.8 643.1h5.0v5.0h-5.0zM330.3 643.1h5.0v5.0h-5.0z" fill="#1fa187" shape-rendering="crispEdges"/>
<path d="M285.0 638.6h5.0v5.0h-5.0z" fill="#5ac864" shape-rendering="crispEdges"/>
<path d="M289.5 638.6h5.0v5.0h-5.0z" fill="#4ac16d" shape-rendering="crispEdges"/>
<path d="M285.0 643.1h5.0v5.0h-5.0z" fill="#63cb5f" shape-rendering="crispEdges"/>
<path d="M289.5 643.1h5.0v5.0h-5.0zM298.6 647.6h5.0v4.5h-5.0z" fill="#5ec962" shape-rendering="crispEdges"/>
<path d="M285.0 647.6h5.0v4.5h-5.0z" fill="#75d054" shape-rendering="crispEdges"/>
<path d="M289.5 647.6h5.0v4.5h-5.0z" fill="#7ad151" shape-rendering="crispEdges"/>
<path d="M294.1 647.6h5.0v4.5h-5.0z" fill="#52c569" shape-rendering="crispEdges"/>
<path d="M303.1 647.6h5.0v4.5h-5.0z" fill="#3fbc73" shape-rendering="crispEdges"/>
<path d="M307.7 647.6h5.0v4.5h-5.0z" fill="#32b67a" shape-rendering="crispEdges"/>
<rect x="285.00" y="557.50" width="95.20" height="94.60" fill="none" stroke="#000" stroke-width="1.10"/>
<defs><linearGradient id="gvir" x1="0" y1="1" x2="0" y2="0"><stop offset="0.000" stop-color="#440154"/><stop offset="0.062" stop-color="#48186a"/><stop offset="0.125" stop-color="#472d7b"/><stop offset="0.188" stop-color="#424086"/><stop offset="0.250" stop-color="#3b528b"/><stop offset="0.312" stop-color="#33638d"/><stop offset="0.375" stop-color="#2c728e"/><stop offset="0.438" stop-color="#26828e"/><stop offset="0.500" stop-color="#21918c"/><stop offset="0.562" stop-color="#1fa088"/><stop offset="0.625" stop-color="#28ae80"/><stop offset="0.688" stop-color="#3fbc73"/><stop offset="0.750" stop-color="#5ec962"/><stop offset="0.812" stop-color="#84d44b"/><stop offset="0.875" stop-color="#addc30"/><stop offset="0.938" stop-color="#d8e219"/><stop offset="1.000" stop-color="#fde725"/></linearGradient></defs>
<rect x="385.7" y="354.30" width="8.0" height="96.10" fill="url(#gvir)" stroke="#000" stroke-width="1"/>
<line x1="393.70" y1="389.70" x2="398.80" y2="389.70" stroke="#000" stroke-width="1.00" stroke-linecap="butt"/>
<text x="404.76" y="395.30" font-family="Liberation Serif" font-size="16.50" fill="#000" xml:space="preserve">2</text>
<line x1="393.70" y1="431.50" x2="398.80" y2="431.50" stroke="#000" stroke-width="1.00" stroke-linecap="butt"/>
<text x="404.10" y="437.10" font-family="Liberation Serif" font-size="16.50" fill="#000" xml:space="preserve">1</text>
<rect x="385.7" y="456.00" width="8.0" height="95.70" fill="url(#gvir)" stroke="#000" stroke-width="1"/>
<line x1="393.70" y1="462.90" x2="398.80" y2="462.90" stroke="#000" stroke-width="1.00" stroke-linecap="butt"/>
<text x="405.17" y="468.50" font-family="Liberation Serif" font-size="16.50" fill="#000" xml:space="preserve">4</text>
<line x1="393.70" y1="522.00" x2="398.80" y2="522.00" stroke="#000" stroke-width="1.00" stroke-linecap="butt"/>
<text x="404.76" y="527.60" font-family="Liberation Serif" font-size="16.50" fill="#000" xml:space="preserve">2</text>
<rect x="385.7" y="557.20" width="8.0" height="95.30" fill="url(#gvir)" stroke="#000" stroke-width="1"/>
<line x1="393.70" y1="569.00" x2="398.80" y2="569.00" stroke="#000" stroke-width="1.00" stroke-linecap="butt"/>
<text x="404.76" y="574.60" font-family="Liberation Serif" font-size="16.50" fill="#000" xml:space="preserve">3</text>
<line x1="393.70" y1="605.20" x2="398.80" y2="605.20" stroke="#000" stroke-width="1.00" stroke-linecap="butt"/>
<text x="404.76" y="610.80" font-family="Liberation Serif" font-size="16.50" fill="#000" xml:space="preserve">2</text>
<line x1="393.70" y1="641.40" x2="398.80" y2="641.40" stroke="#000" stroke-width="1.00" stroke-linecap="butt"/>
<text x="404.10" y="647.00" font-family="Liberation Serif" font-size="16.50" fill="#000" xml:space="preserve">1</text>
<line x1="70.80" y1="402.60" x2="75.50" y2="402.60" stroke="#000" stroke-width="1.00" stroke-linecap="butt"/>
<text x="43.54" y="408.20" font-family="Liberation Serif" font-size="16.50" fill="#000" xml:space="preserve">0.5</text>
<line x1="70.80" y1="456.70" x2="75.50" y2="456.70" stroke="#000" stroke-width="1.00" stroke-linecap="butt"/>
<text x="56.24" y="462.30" font-family="Liberation Serif" font-size="16.50" fill="#000" xml:space="preserve">1</text>
<line x1="70.80" y1="551.30" x2="75.50" y2="551.30" stroke="#000" stroke-width="1.00" stroke-linecap="butt"/>
<text x="55.91" y="556.90" font-family="Liberation Serif" font-size="16.50" fill="#000" xml:space="preserve">0</text>
<line x1="70.80" y1="604.80" x2="75.50" y2="604.80" stroke="#000" stroke-width="1.00" stroke-linecap="butt"/>
<text x="43.54" y="610.40" font-family="Liberation Serif" font-size="16.50" fill="#000" xml:space="preserve">0.5</text>
<line x1="123.10" y1="652.10" x2="123.10" y2="656.90" stroke="#000" stroke-width="1.00" stroke-linecap="butt"/>
<text x="112.79" y="675.80" font-family="Liberation Serif" font-size="16.50" fill="#000" xml:space="preserve">0.5</text>
<line x1="180.30" y1="652.10" x2="180.30" y2="656.90" stroke="#000" stroke-width="1.00" stroke-linecap="butt"/>
<text x="176.18" y="675.80" font-family="Liberation Serif" font-size="16.50" fill="#000" xml:space="preserve">0</text>
<line x1="275.50" y1="652.10" x2="275.50" y2="656.90" stroke="#000" stroke-width="1.00" stroke-linecap="butt"/>
<text x="271.17" y="675.80" font-family="Liberation Serif" font-size="16.50" fill="#000" xml:space="preserve">1</text>
<line x1="332.60" y1="652.10" x2="332.60" y2="656.90" stroke="#000" stroke-width="1.00" stroke-linecap="butt"/>
<text x="322.29" y="675.80" font-family="Liberation Serif" font-size="16.50" fill="#000" xml:space="preserve">0.5</text>
<path d="M189.7 411.8h0" stroke="#ffffff" stroke-width="4.40" stroke-linecap="round" fill="none"/>
<path d="M217.9 411.8h0" stroke="#ffffff" stroke-width="4.40" stroke-linecap="round" fill="none"/>
<path d="M189.7 440.0h0" stroke="#ffffff" stroke-width="4.40" stroke-linecap="round" fill="none"/>
<path d="M217.9 440.0h0" stroke="#ffffff" stroke-width="4.40" stroke-linecap="round" fill="none"/>
<text transform="translate(189.13 410.10) scale(1.229 1)" font-family="Liberation Sans" font-size="12.20" fill="#fff" textLength="9.33" lengthAdjust="spacing" xml:space="preserve">iii</text>
<text transform="translate(216.76 410.10) scale(1.185 1)" font-family="Liberation Sans" font-size="12.20" fill="#fff" textLength="9.99" lengthAdjust="spacing" xml:space="preserve">iv</text>
<text transform="translate(189.14 438.70) scale(1.457 1)" font-family="Liberation Sans" font-size="12.20" fill="#fff" xml:space="preserve">i</text>
<text transform="translate(216.60 438.70) scale(1.392 1)" font-family="Liberation Sans" font-size="12.20" fill="#fff" textLength="6.60" lengthAdjust="spacing" xml:space="preserve">ii</text>
<linearGradient id="dg1" gradientUnits="userSpaceOnUse" x1="551.9" y1="374.9" x2="498.4" y2="383.4"><stop offset="0.00" stop-color="#440154"/><stop offset="0.12" stop-color="#460b5e"/><stop offset="0.25" stop-color="#48186a"/><stop offset="0.38" stop-color="#482475"/><stop offset="0.50" stop-color="#472f7d"/><stop offset="0.62" stop-color="#443a83"/><stop offset="0.75" stop-color="#404688"/><stop offset="0.88" stop-color="#3c508b"/><stop offset="1.00" stop-color="#375a8c"/></linearGradient>
<path d="M549.4 403.3 L517.6 403.3 L515.9 399.4 L514.2 396.0 L512.6 392.6 L511.1 389.2 L509.6 385.9 L508.3 382.5 L507.0 379.1 L505.8 375.8 L504.8 372.4 L503.8 369.0 L503.0 365.6 L502.3 362.2 L501.8 358.9 L501.5 355.5 L501.5 355.5 L504.9 355.5 L508.3 355.7 L511.6 356.0 L515.0 356.5 L518.4 357.2 L521.8 358.0 L525.2 359.0 L528.6 360.2 L531.9 361.6 L535.3 363.2 L538.7 365.0 L542.1 366.9 L545.5 369.1 L549.4 371.6Z" fill="url(#dg1)"/>
<linearGradient id="dg2" gradientUnits="userSpaceOnUse" x1="547.1" y1="377.1" x2="597.9" y2="381.2"><stop offset="0.00" stop-color="#460b5e"/><stop offset="0.12" stop-color="#481467"/><stop offset="0.25" stop-color="#481c6e"/><stop offset="0.38" stop-color="#482576"/><stop offset="0.50" stop-color="#472d7b"/><stop offset="0.62" stop-color="#463480"/><stop offset="0.75" stop-color="#443b84"/><stop offset="0.88" stop-color="#414287"/><stop offset="1.00" stop-color="#3e4989"/></linearGradient>
<path d="M548.3 403.3 L580.1 403.3 L581.8 399.4 L583.5 396.0 L585.1 392.6 L586.6 389.2 L588.1 385.9 L589.4 382.5 L590.7 379.1 L591.9 375.8 L592.9 372.4 L593.9 369.0 L594.7 365.6 L595.4 362.2 L595.9 358.9 L596.2 355.5 L596.2 355.5 L592.8 355.5 L589.4 355.7 L586.1 356.0 L582.7 356.5 L579.3 357.2 L575.9 358.0 L572.5 359.0 L569.1 360.2 L565.8 361.6 L562.4 363.2 L559.0 365.0 L555.6 366.9 L552.2 369.1 L548.3 371.6Z" fill="url(#dg2)"/>
<linearGradient id="dg3" gradientUnits="userSpaceOnUse" x1="553.7" y1="439.2" x2="496.6" y2="413.5"><stop offset="0.00" stop-color="#29798e"/><stop offset="0.12" stop-color="#228c8d"/><stop offset="0.25" stop-color="#1f9f88"/><stop offset="0.38" stop-color="#2ab07f"/><stop offset="0.50" stop-color="#4ac16d"/><stop offset="0.62" stop-color="#75d054"/><stop offset="0.75" stop-color="#a8db34"/><stop offset="0.88" stop-color="#dde318"/><stop offset="1.00" stop-color="#fde725"/></linearGradient>
<path d="M549.4 402.2 L517.6 402.2 L514.6 406.1 L512.0 409.5 L509.7 412.9 L507.8 416.2 L506.2 419.6 L504.9 423.0 L503.8 426.4 L503.0 429.8 L502.4 433.1 L502.0 436.5 L501.7 439.9 L501.6 443.2 L501.5 446.6 L501.5 450.0 L501.5 450.0 L504.9 449.8 L508.3 449.3 L511.6 448.6 L515.0 447.8 L518.4 446.9 L521.8 445.9 L525.2 444.7 L528.6 443.4 L531.9 442.1 L535.3 440.6 L538.7 439.1 L542.1 437.4 L545.5 435.7 L549.4 433.9Z" fill="url(#dg3)"/>
<linearGradient id="dg4" gradientUnits="userSpaceOnUse" x1="589.2" y1="454.2" x2="555.9" y2="398.5"><stop offset="0.00" stop-color="#453781"/><stop offset="0.12" stop-color="#424086"/><stop offset="0.25" stop-color="#3e4989"/><stop offset="0.38" stop-color="#3b528b"/><stop offset="0.50" stop-color="#375b8d"/><stop offset="0.62" stop-color="#33628d"/><stop offset="0.75" stop-color="#306a8e"/><stop offset="0.88" stop-color="#2c718e"/><stop offset="1.00" stop-color="#29798e"/></linearGradient>
<path d="M548.3 402.2 L580.1 402.2 L582.5 406.1 L584.7 409.5 L586.7 412.9 L588.5 416.2 L590.1 419.6 L591.5 423.0 L592.7 426.4 L593.7 429.8 L594.5 433.1 L595.2 436.5 L595.7 439.9 L596.0 443.2 L596.2 446.6 L596.2 450.0 L596.2 450.0 L592.8 449.9 L589.4 449.7 L586.1 449.3 L582.7 448.7 L579.3 448.0 L575.9 447.0 L572.5 446.0 L569.1 444.8 L565.8 443.4 L562.4 441.8 L559.0 440.1 L555.6 438.2 L552.2 436.1 L548.3 433.9Z" fill="url(#dg4)"/>
<rect x="501.50" y="355.50" width="94.70" height="94.50" fill="none" stroke="#000" stroke-width="1.10"/>
<linearGradient id="dg5" gradientUnits="userSpaceOnUse" x1="514.6" y1="450.5" x2="535.8" y2="507.7"><stop offset="0.00" stop-color="#433d84"/><stop offset="0.12" stop-color="#424186"/><stop offset="0.25" stop-color="#404688"/><stop offset="0.38" stop-color="#3e4a89"/><stop offset="0.50" stop-color="#3c508b"/><stop offset="0.62" stop-color="#3a548c"/><stop offset="0.75" stop-color="#38598c"/><stop offset="0.88" stop-color="#365d8d"/><stop offset="1.00" stop-color="#33628d"/></linearGradient>
<path d="M549.4 503.4 L517.6 503.4 L515.9 499.4 L514.2 496.0 L512.6 492.6 L511.1 489.3 L509.6 485.9 L508.3 482.5 L507.0 479.1 L505.8 475.7 L504.8 472.3 L503.8 468.9 L503.0 465.6 L502.3 462.2 L501.8 458.8 L501.5 455.4 L501.5 455.4 L504.9 455.4 L508.3 455.6 L511.6 455.9 L515.0 456.4 L518.4 457.1 L521.8 457.9 L525.2 458.9 L528.6 460.1 L531.9 461.5 L535.3 463.1 L538.7 464.9 L542.1 466.9 L545.5 469.1 L549.4 471.5Z" fill="url(#dg5)"/>
<linearGradient id="dg6" gradientUnits="userSpaceOnUse" x1="589.2" y1="507.0" x2="555.9" y2="451.2"><stop offset="0.00" stop-color="#3d4d8a"/><stop offset="0.12" stop-color="#3b528b"/><stop offset="0.25" stop-color="#38598c"/><stop offset="0.38" stop-color="#355f8d"/><stop offset="0.50" stop-color="#32658e"/><stop offset="0.62" stop-color="#2f6b8e"/><stop offset="0.75" stop-color="#2d708e"/><stop offset="0.88" stop-color="#2b758e"/><stop offset="1.00" stop-color="#297b8e"/></linearGradient>
<path d="M548.3 503.4 L580.1 503.4 L581.8 499.4 L583.5 496.0 L585.1 492.6 L586.6 489.3 L588.1 485.9 L589.4 482.5 L590.7 479.1 L591.9 475.7 L592.9 472.3 L593.9 468.9 L594.7 465.6 L595.4 462.2 L595.9 458.8 L596.2 455.4 L596.2 455.4 L592.8 455.4 L589.4 455.6 L586.1 455.9 L582.7 456.4 L579.3 457.1 L575.9 457.9 L572.5 458.9 L569.1 460.1 L565.8 461.5 L562.4 463.1 L559.0 464.9 L555.6 466.9 L552.2 469.1 L548.3 471.5Z" fill="url(#dg6)"/>
<linearGradient id="dg7" gradientUnits="userSpaceOnUse" x1="498.2" y1="507.5" x2="552.1" y2="545.5"><stop offset="0.00" stop-color="#297a8e"/><stop offset="0.12" stop-color="#20928c"/><stop offset="0.25" stop-color="#24aa83"/><stop offset="0.38" stop-color="#48c16e"/><stop offset="0.50" stop-color="#81d34d"/><stop offset="0.62" stop-color="#c5e021"/><stop offset="0.75" stop-color="#fde725"/><stop offset="0.88" stop-color="#fde725"/><stop offset="1.00" stop-color="#fde725"/></linearGradient>
<path d="M549.4 502.2 L517.6 502.2 L514.6 506.2 L512.0 509.6 L509.7 513.0 L507.8 516.3 L506.2 519.7 L504.9 523.1 L503.8 526.5 L503.0 529.9 L502.4 533.3 L502.0 536.7 L501.7 540.0 L501.6 543.4 L501.5 546.8 L501.5 550.2 L501.5 550.2 L504.9 550.0 L508.3 549.5 L511.6 548.8 L515.0 548.0 L518.4 547.1 L521.8 546.0 L525.2 544.9 L528.6 543.6 L531.9 542.3 L535.3 540.8 L538.7 539.2 L542.1 537.6 L545.5 535.9 L549.4 534.1Z" fill="url(#dg7)"/>
<linearGradient id="dg8" gradientUnits="userSpaceOnUse" x1="601.1" y1="514.1" x2="543.9" y2="538.9"><stop offset="0.00" stop-color="#450457"/><stop offset="0.12" stop-color="#471164"/><stop offset="0.25" stop-color="#481f70"/><stop offset="0.38" stop-color="#472a7a"/><stop offset="0.50" stop-color="#453581"/><stop offset="0.62" stop-color="#424086"/><stop offset="0.75" stop-color="#3e4c8a"/><stop offset="0.88" stop-color="#39558c"/><stop offset="1.00" stop-color="#355f8d"/></linearGradient>
<path d="M548.3 502.2 L580.1 502.2 L582.5 506.2 L584.7 509.6 L586.7 513.0 L588.5 516.3 L590.1 519.7 L591.5 523.1 L592.7 526.5 L593.7 529.9 L594.5 533.3 L595.2 536.7 L595.7 540.0 L596.0 543.4 L596.2 546.8 L596.2 550.2 L596.2 550.2 L592.8 550.1 L589.4 549.9 L586.1 549.5 L582.7 548.9 L579.3 548.1 L575.9 547.2 L572.5 546.2 L569.1 544.9 L565.8 543.5 L562.4 542.0 L559.0 540.3 L555.6 538.4 L552.2 536.3 L548.3 534.1Z" fill="url(#dg8)"/>
<rect x="501.50" y="455.40" width="94.70" height="94.80" fill="none" stroke="#000" stroke-width="1.10"/>
<linearGradient id="dg9" gradientUnits="userSpaceOnUse" x1="552.6" y1="572.7" x2="497.7" y2="584.2"><stop offset="0.00" stop-color="#482173"/><stop offset="0.12" stop-color="#482374"/><stop offset="0.25" stop-color="#482475"/><stop offset="0.38" stop-color="#482576"/><stop offset="0.50" stop-color="#482878"/><stop offset="0.62" stop-color="#482979"/><stop offset="0.75" stop-color="#472a7a"/><stop offset="0.88" stop-color="#472c7a"/><stop offset="1.00" stop-color="#472d7b"/></linearGradient>
<path d="M549.4 602.7 L517.6 602.7 L515.9 598.8 L514.2 595.4 L512.6 592.0 L511.1 588.6 L509.6 585.2 L508.3 581.8 L507.0 578.4 L505.8 575.0 L504.8 571.6 L503.8 568.3 L503.0 564.9 L502.3 561.5 L501.8 558.1 L501.5 554.7 L501.5 554.7 L504.9 554.7 L508.3 554.9 L511.6 555.2 L515.0 555.7 L518.4 556.4 L521.8 557.2 L525.2 558.2 L528.6 559.4 L531.9 560.8 L535.3 562.4 L538.7 564.2 L542.1 566.2 L545.5 568.4 L549.4 570.8Z" fill="url(#dg9)"/>
<linearGradient id="dg10" gradientUnits="userSpaceOnUse" x1="544.3" y1="570.0" x2="600.8" y2="586.8"><stop offset="0.00" stop-color="#482173"/><stop offset="0.12" stop-color="#472a7a"/><stop offset="0.25" stop-color="#46337f"/><stop offset="0.38" stop-color="#443b84"/><stop offset="0.50" stop-color="#414487"/><stop offset="0.62" stop-color="#3e4c8a"/><stop offset="0.75" stop-color="#3a538b"/><stop offset="0.88" stop-color="#375a8c"/><stop offset="1.00" stop-color="#34618d"/></linearGradient>
<path d="M548.3 602.7 L580.1 602.7 L581.8 598.8 L583.5 595.4 L585.1 592.0 L586.6 588.6 L588.1 585.2 L589.4 581.8 L590.7 578.4 L591.9 575.0 L592.9 571.6 L593.9 568.3 L594.7 564.9 L595.4 561.5 L595.9 558.1 L596.2 554.7 L596.2 554.7 L592.8 554.7 L589.4 554.9 L586.1 555.2 L582.7 555.7 L579.3 556.4 L575.9 557.2 L572.5 558.2 L569.1 559.4 L565.8 560.8 L562.4 562.4 L559.0 564.2 L555.6 566.2 L552.2 568.4 L548.3 570.8Z" fill="url(#dg10)"/>
<linearGradient id="dg11" gradientUnits="userSpaceOnUse" x1="553.0" y1="642.8" x2="497.4" y2="609.0"><stop offset="0.00" stop-color="#2c738e"/><stop offset="0.12" stop-color="#228d8d"/><stop offset="0.25" stop-color="#21a585"/><stop offset="0.38" stop-color="#3fbc73"/><stop offset="0.50" stop-color="#77d153"/><stop offset="0.62" stop-color="#bade28"/><stop offset="0.75" stop-color="#fde725"/><stop offset="0.88" stop-color="#fde725"/><stop offset="1.00" stop-color="#fde725"/></linearGradient>
<path d="M549.4 601.6 L517.6 601.6 L514.6 605.5 L512.0 608.9 L509.7 612.3 L507.8 615.7 L506.2 619.1 L504.9 622.5 L503.8 625.9 L503.0 629.3 L502.4 632.7 L502.0 636.0 L501.7 639.4 L501.6 642.8 L501.5 646.2 L501.5 649.6 L501.5 649.6 L504.9 649.4 L508.3 648.9 L511.6 648.2 L515.0 647.4 L518.4 646.5 L521.8 645.4 L525.2 644.3 L528.6 643.0 L531.9 641.6 L535.3 640.2 L538.7 638.6 L542.1 637.0 L545.5 635.3 L549.4 633.5Z" fill="url(#dg11)"/>
<linearGradient id="dg12" gradientUnits="userSpaceOnUse" x1="601.0" y1="611.7" x2="544.1" y2="640.1"><stop offset="0.00" stop-color="#481b6d"/><stop offset="0.12" stop-color="#481c6e"/><stop offset="0.25" stop-color="#481f70"/><stop offset="0.38" stop-color="#482071"/><stop offset="0.50" stop-color="#482374"/><stop offset="0.62" stop-color="#482475"/><stop offset="0.75" stop-color="#482576"/><stop offset="0.88" stop-color="#482878"/><stop offset="1.00" stop-color="#482979"/></linearGradient>
<path d="M548.3 601.6 L580.1 601.6 L582.5 605.5 L584.7 608.9 L586.7 612.3 L588.5 615.7 L590.1 619.1 L591.5 622.5 L592.7 625.9 L593.7 629.3 L594.5 632.7 L595.2 636.0 L595.7 639.4 L596.0 642.8 L596.2 646.2 L596.2 649.6 L596.2 649.6 L592.8 649.5 L589.4 649.3 L586.1 648.9 L582.7 648.3 L579.3 647.5 L575.9 646.6 L572.5 645.6 L569.1 644.3 L565.8 642.9 L562.4 641.4 L559.0 639.6 L555.6 637.7 L552.2 635.7 L548.3 633.5Z" fill="url(#dg12)"/>
<rect x="501.50" y="554.70" width="94.70" height="94.90" fill="none" stroke="#000" stroke-width="1.10"/>
<path d="M589.4 362.6h0" stroke="#ffffff" stroke-width="4.40" stroke-linecap="round" fill="none"/>
<path d="M543.8 397.3h0" stroke="#ffffff" stroke-width="4.40" stroke-linecap="round" fill="none"/>
<path d="M554.1 397.0h0" stroke="#ffffff" stroke-width="4.40" stroke-linecap="round" fill="none"/>
<path d="M554.1 408.1h0" stroke="#ffffff" stroke-width="4.40" stroke-linecap="round" fill="none"/>
<text transform="translate(577.60 370.50) scale(1.277 1)" font-family="Liberation Sans" font-size="12.00" fill="#fff" textLength="6.16" lengthAdjust="spacing" xml:space="preserve">ii</text>
<text transform="translate(530.24 397.80) scale(1.233 1)" font-family="Liberation Sans" font-size="12.00" fill="#fff" textLength="9.20" lengthAdjust="spacing" xml:space="preserve">iii</text>
<text transform="translate(553.21 394.90) scale(2.037 1)" font-family="Liberation Sans" font-size="12.00" fill="#fff" xml:space="preserve">i</text>
<text transform="translate(555.58 420.00) scale(1.048 1)" font-family="Liberation Sans" font-size="12.00" fill="#fff" textLength="8.97" lengthAdjust="spacing" xml:space="preserve">iv</text>
<line x1="498.30" y1="385.50" x2="501.50" y2="385.50" stroke="#000" stroke-width="1.00" stroke-linecap="butt"/>
<line x1="498.30" y1="420.40" x2="501.50" y2="420.40" stroke="#000" stroke-width="1.00" stroke-linecap="butt"/>
<line x1="498.30" y1="485.40" x2="501.50" y2="485.40" stroke="#000" stroke-width="1.00" stroke-linecap="butt"/>
<line x1="498.30" y1="502.70" x2="501.50" y2="502.70" stroke="#000" stroke-width="1.00" stroke-linecap="butt"/>
<line x1="498.30" y1="520.40" x2="501.50" y2="520.40" stroke="#000" stroke-width="1.00" stroke-linecap="butt"/>
<line x1="498.30" y1="584.60" x2="501.50" y2="584.60" stroke="#000" stroke-width="1.00" stroke-linecap="butt"/>
<line x1="498.30" y1="619.10" x2="501.50" y2="619.10" stroke="#000" stroke-width="1.00" stroke-linecap="butt"/>
<line x1="495.30" y1="402.60" x2="501.50" y2="402.60" stroke="#000" stroke-width="1.00" stroke-linecap="butt"/>
<line x1="495.30" y1="455.40" x2="501.50" y2="455.40" stroke="#000" stroke-width="1.00" stroke-linecap="butt"/>
<line x1="495.30" y1="550.20" x2="501.50" y2="550.20" stroke="#000" stroke-width="1.00" stroke-linecap="butt"/>
<line x1="495.30" y1="602.20" x2="501.50" y2="602.20" stroke="#000" stroke-width="1.00" stroke-linecap="butt"/>
<line x1="531.20" y1="450.00" x2="531.20" y2="454.30" stroke="#000" stroke-width="1.00" stroke-linecap="butt"/>
<line x1="548.90" y1="450.00" x2="548.90" y2="454.30" stroke="#000" stroke-width="1.00" stroke-linecap="butt"/>
<line x1="566.20" y1="450.00" x2="566.20" y2="454.30" stroke="#000" stroke-width="1.00" stroke-linecap="butt"/>
<line x1="531.20" y1="550.20" x2="531.20" y2="554.50" stroke="#000" stroke-width="1.00" stroke-linecap="butt"/>
<line x1="548.90" y1="550.20" x2="548.90" y2="554.50" stroke="#000" stroke-width="1.00" stroke-linecap="butt"/>
<line x1="566.20" y1="550.20" x2="566.20" y2="554.50" stroke="#000" stroke-width="1.00" stroke-linecap="butt"/>
<line x1="531.20" y1="649.60" x2="531.20" y2="652.80" stroke="#000" stroke-width="1.00" stroke-linecap="butt"/>
<line x1="548.90" y1="649.60" x2="548.90" y2="652.80" stroke="#000" stroke-width="1.00" stroke-linecap="butt"/>
<line x1="566.20" y1="649.60" x2="566.20" y2="652.80" stroke="#000" stroke-width="1.00" stroke-linecap="butt"/>
<line x1="501.50" y1="649.60" x2="501.50" y2="654.60" stroke="#000" stroke-width="1.00" stroke-linecap="butt"/>
<line x1="596.20" y1="649.60" x2="596.20" y2="654.60" stroke="#000" stroke-width="1.00" stroke-linecap="butt"/>
<line x1="504.10" y1="340.30" x2="519.40" y2="345.10" stroke="#000" stroke-width="1.50" stroke-linecap="butt"/>
<line x1="512.80" y1="338.40" x2="527.00" y2="344.70" stroke="#000" stroke-width="1.50" stroke-linecap="butt"/>
<line x1="521.60" y1="336.00" x2="534.60" y2="344.40" stroke="#000" stroke-width="1.50" stroke-linecap="butt"/>
<line x1="530.70" y1="334.00" x2="542.00" y2="344.40" stroke="#000" stroke-width="1.50" stroke-linecap="butt"/>
<line x1="556.60" y1="344.40" x2="567.90" y2="333.80" stroke="#000" stroke-width="1.50" stroke-linecap="butt"/>
<line x1="564.20" y1="344.70" x2="576.60" y2="336.00" stroke="#000" stroke-width="1.50" stroke-linecap="butt"/>
<line x1="571.80" y1="344.70" x2="585.40" y2="338.40" stroke="#000" stroke-width="1.50" stroke-linecap="butt"/>
<line x1="579.60" y1="345.10" x2="594.60" y2="340.30" stroke="#000" stroke-width="1.50" stroke-linecap="butt"/>
<line x1="481.80" y1="355.40" x2="486.20" y2="370.60" stroke="#000" stroke-width="1.50" stroke-linecap="butt"/>
<line x1="479.20" y1="364.00" x2="486.20" y2="378.10" stroke="#000" stroke-width="1.50" stroke-linecap="butt"/>
<line x1="476.90" y1="373.20" x2="486.00" y2="385.50" stroke="#000" stroke-width="1.50" stroke-linecap="butt"/>
<line x1="475.40" y1="382.30" x2="486.00" y2="393.20" stroke="#000" stroke-width="1.50" stroke-linecap="butt"/>
<line x1="486.00" y1="408.10" x2="475.40" y2="418.40" stroke="#000" stroke-width="1.50" stroke-linecap="butt"/>
<line x1="486.00" y1="415.60" x2="476.90" y2="428.10" stroke="#000" stroke-width="1.50" stroke-linecap="butt"/>
<line x1="486.00" y1="423.20" x2="479.20" y2="436.70" stroke="#000" stroke-width="1.50" stroke-linecap="butt"/>
<line x1="486.20" y1="430.50" x2="481.80" y2="445.40" stroke="#000" stroke-width="1.50" stroke-linecap="butt"/>
<text transform="translate(545.18 347.57) scale(0.965 1)" font-family="Liberation Sans" font-size="13.38" fill="#000" xml:space="preserve">0</text>
<g transform="rotate(-90)">
<text transform="translate(-404.55 488.95) scale(0.939 1)" font-family="Liberation Sans" font-size="14.65" fill="#000" xml:space="preserve">0</text>
</g>
<text transform="translate(466.58 461.60) scale(1.038 1)" font-family="Liberation Sans" font-size="15.00" fill="#000" textLength="21.46" lengthAdjust="spacing" xml:space="preserve">5.0</text>
<text transform="translate(460.69 556.60) scale(1.050 1)" font-family="Liberation Sans" font-size="15.00" fill="#000" textLength="26.86" lengthAdjust="spacing" xml:space="preserve">-5.0</text>
<text x="480.91" y="608.00" font-family="Liberation Serif" font-size="16.50" fill="#000" xml:space="preserve">0</text>
<text transform="translate(486.89 674.60) scale(1.055 1)" font-family="Liberation Sans" font-size="15.00" fill="#000" textLength="26.94" lengthAdjust="spacing" xml:space="preserve">-5.0</text>
<text transform="translate(585.09 674.60) scale(1.010 1)" font-family="Liberation Sans" font-size="15.00" fill="#000" textLength="21.02" lengthAdjust="spacing" xml:space="preserve">5.0</text>
<rect x="602.3" y="355.90" width="7.9" height="94.20" fill="url(#gvir)" stroke="#000" stroke-width="1"/>
<line x1="610.20" y1="357.90" x2="615.20" y2="357.90" stroke="#000" stroke-width="1.00" stroke-linecap="butt"/>
<text x="620.81" y="363.50" font-family="Liberation Serif" font-size="16.50" fill="#000" xml:space="preserve">5.0</text>
<line x1="610.20" y1="407.10" x2="615.20" y2="407.10" stroke="#000" stroke-width="1.00" stroke-linecap="butt"/>
<text x="621.06" y="412.70" font-family="Liberation Serif" font-size="16.50" fill="#000" xml:space="preserve">2.5</text>
<rect x="602.3" y="455.50" width="7.9" height="94.80" fill="url(#gvir)" stroke="#000" stroke-width="1"/>
<line x1="610.20" y1="469.50" x2="615.20" y2="469.50" stroke="#000" stroke-width="1.00" stroke-linecap="butt"/>
<text x="620.81" y="475.10" font-family="Liberation Serif" font-size="16.50" fill="#000" xml:space="preserve">5.0</text>
<line x1="610.20" y1="511.70" x2="615.20" y2="511.70" stroke="#000" stroke-width="1.00" stroke-linecap="butt"/>
<text x="621.06" y="517.30" font-family="Liberation Serif" font-size="16.50" fill="#000" xml:space="preserve">2.5</text>
<rect x="602.3" y="554.70" width="7.9" height="95.10" fill="url(#gvir)" stroke="#000" stroke-width="1"/>
<line x1="610.20" y1="562.60" x2="615.20" y2="562.60" stroke="#000" stroke-width="1.00" stroke-linecap="butt"/>
<text x="621.47" y="568.20" font-family="Liberation Serif" font-size="16.50" fill="#000" xml:space="preserve">4</text>
<line x1="610.20" y1="612.60" x2="615.20" y2="612.60" stroke="#000" stroke-width="1.00" stroke-linecap="butt"/>
<text x="621.06" y="618.20" font-family="Liberation Serif" font-size="16.50" fill="#000" xml:space="preserve">2</text>
<g transform="rotate(-90)">
<text transform="translate(-178.95 333.07) scale(1.105 1)" font-family="Liberation Serif" font-size="13.68" font-style="italic" fill="#000" stroke="#000" stroke-width="0.10" xml:space="preserve">σ</text>
</g>
<g transform="rotate(-90)">
<text transform="translate(-169.78 326.93) scale(1.129 1)" font-family="Liberation Serif" font-size="10.91" font-style="italic" fill="#000" stroke="#000" stroke-width="0.10" textLength="15.39" lengthAdjust="spacing" xml:space="preserve">out</text>
</g>
<g transform="rotate(-90)">
<text transform="translate(-169.28 337.04) scale(1.204 1)" font-family="Liberation Serif" font-size="10.50" font-style="italic" fill="#000" stroke="#000" stroke-width="0.10" textLength="14.92" lengthAdjust="spacing" xml:space="preserve">EE</text>
</g>
<g transform="rotate(-90)">
<text transform="translate(-148.99 332.81) scale(0.776 1)" font-family="Liberation Serif" font-size="16.88" fill="#000" xml:space="preserve">(</text>
</g>
<g transform="rotate(-90)">
<text transform="translate(-141.28 332.70) scale(0.869 1)" font-family="Liberation Serif" font-size="16.36" font-style="italic" fill="#000" stroke="#000" stroke-width="0.10" xml:space="preserve">H</text>
</g>
<g transform="rotate(-90)">
<text transform="translate(-127.63 332.70) scale(1.086 1)" font-family="Liberation Serif" font-size="14.51" font-style="italic" fill="#000" stroke="#000" stroke-width="0.10" xml:space="preserve">z</text>
</g>
<g transform="rotate(-90)">
<text transform="translate(-120.75 327.04) scale(0.910 1)" font-family="Liberation Serif" font-size="10.57" fill="#000" xml:space="preserve">2</text>
</g>
<g transform="rotate(-90)">
<text transform="translate(-113.51 332.81) scale(0.738 1)" font-family="Liberation Serif" font-size="16.88" fill="#000" xml:space="preserve">)</text>
</g>
<g transform="rotate(-90)">
<text transform="translate(-170.75 370.46) scale(1.105 1)" font-family="Liberation Serif" font-size="13.52" font-style="italic" fill="#000" stroke="#000" stroke-width="0.10" xml:space="preserve">σ</text>
</g>
<g transform="rotate(-90)">
<text transform="translate(-161.67 364.39) scale(1.130 1)" font-family="Liberation Serif" font-size="10.78" font-style="italic" fill="#000" stroke="#000" stroke-width="0.10" textLength="15.22" lengthAdjust="spacing" xml:space="preserve">out</text>
</g>
<g transform="rotate(-90)">
<text transform="translate(-161.17 374.40) scale(1.205 1)" font-family="Liberation Serif" font-size="10.38" font-style="italic" fill="#000" stroke="#000" stroke-width="0.10" textLength="14.76" lengthAdjust="spacing" xml:space="preserve">EE</text>
</g>
<g transform="rotate(-90)">
<text transform="translate(-141.08 370.21) scale(0.775 1)" font-family="Liberation Serif" font-size="16.70" fill="#000" xml:space="preserve">(</text>
</g>
<g transform="rotate(-90)">
<text transform="translate(-133.46 370.10) scale(0.869 1)" font-family="Liberation Serif" font-size="16.18" font-style="italic" fill="#000" stroke="#000" stroke-width="0.10" xml:space="preserve">H</text>
</g>
<g transform="rotate(-90)">
<text transform="translate(-119.94 370.10) scale(1.086 1)" font-family="Liberation Serif" font-size="14.35" font-style="italic" fill="#000" stroke="#000" stroke-width="0.10" xml:space="preserve">z</text>
</g>
<g transform="rotate(-90)">
<text transform="translate(-113.13 364.50) scale(0.909 1)" font-family="Liberation Serif" font-size="10.45" fill="#000" xml:space="preserve">2</text>
</g>
<g transform="rotate(-90)">
<text transform="translate(-105.97 370.21) scale(0.737 1)" font-family="Liberation Serif" font-size="16.70" fill="#000" xml:space="preserve">)</text>
</g>
<g transform="rotate(-90)">
<text transform="translate(-540.89 430.38) scale(1.105 1)" font-family="Liberation Serif" font-size="14.66" font-style="italic" fill="#000" stroke="#000" stroke-width="0.10" xml:space="preserve">σ</text>
</g>
<g transform="rotate(-90)">
<text transform="translate(-531.11 423.85) scale(1.126 1)" font-family="Liberation Serif" font-size="11.70" font-style="italic" fill="#000" stroke="#000" stroke-width="0.10" textLength="16.48" lengthAdjust="spacing" xml:space="preserve">out</text>
</g>
<g transform="rotate(-90)">
<text transform="translate(-530.58 434.62) scale(1.201 1)" font-family="Liberation Serif" font-size="11.26" font-style="italic" fill="#000" stroke="#000" stroke-width="0.10" textLength="15.97" lengthAdjust="spacing" xml:space="preserve">EE</text>
</g>
<g transform="rotate(-90)">
<text transform="translate(-508.98 430.10) scale(0.785 1)" font-family="Liberation Serif" font-size="18.03" fill="#000" xml:space="preserve">(</text>
</g>
<g transform="rotate(-90)">
<text transform="translate(-500.77 429.99) scale(0.869 1)" font-family="Liberation Serif" font-size="17.50" font-style="italic" fill="#000" stroke="#000" stroke-width="0.10" xml:space="preserve">H</text>
</g>
<g transform="rotate(-90)">
<text transform="translate(-486.23 429.99) scale(1.087 1)" font-family="Liberation Serif" font-size="15.57" font-style="italic" fill="#000" stroke="#000" stroke-width="0.10" xml:space="preserve">z</text>
</g>
<g transform="rotate(-90)">
<text transform="translate(-478.91 423.97) scale(0.915 1)" font-family="Liberation Serif" font-size="11.34" fill="#000" xml:space="preserve">2</text>
</g>
<g transform="rotate(-90)">
<text transform="translate(-471.21 430.10) scale(0.747 1)" font-family="Liberation Serif" font-size="18.03" fill="#000" xml:space="preserve">)</text>
</g>
<g transform="rotate(-90)">
<text transform="translate(-541.21 662.00) scale(1.105 1)" font-family="Liberation Serif" font-size="15.39" font-style="italic" fill="#000" stroke="#000" stroke-width="0.10" xml:space="preserve">σ</text>
</g>
<g transform="rotate(-90)">
<text transform="translate(-531.00 655.17) scale(1.124 1)" font-family="Liberation Serif" font-size="12.29" font-style="italic" fill="#000" stroke="#000" stroke-width="0.10" textLength="17.27" lengthAdjust="spacing" xml:space="preserve">out</text>
</g>
<g transform="rotate(-90)">
<text transform="translate(-530.44 666.42) scale(1.200 1)" font-family="Liberation Serif" font-size="11.82" font-style="italic" fill="#000" stroke="#000" stroke-width="0.10" textLength="16.74" lengthAdjust="spacing" xml:space="preserve">EE</text>
</g>
<g transform="rotate(-90)">
<text transform="translate(-507.88 661.69) scale(0.791 1)" font-family="Liberation Serif" font-size="18.88" fill="#000" xml:space="preserve">(</text>
</g>
<g transform="rotate(-90)">
<text transform="translate(-499.30 661.59) scale(0.869 1)" font-family="Liberation Serif" font-size="18.34" font-style="italic" fill="#000" stroke="#000" stroke-width="0.10" xml:space="preserve">H</text>
</g>
<g transform="rotate(-90)">
<text transform="translate(-484.11 661.59) scale(1.088 1)" font-family="Liberation Serif" font-size="16.34" font-style="italic" fill="#000" stroke="#000" stroke-width="0.10" xml:space="preserve">z</text>
</g>
<g transform="rotate(-90)">
<text transform="translate(-476.46 655.29) scale(0.918 1)" font-family="Liberation Serif" font-size="11.90" fill="#000" xml:space="preserve">2</text>
</g>
<g transform="rotate(-90)">
<text transform="translate(-468.42 661.69) scale(0.753 1)" font-family="Liberation Serif" font-size="18.88" fill="#000" xml:space="preserve">)</text>
</g>
<g transform="rotate(-90)">
<text transform="translate(-541.18 63.16) scale(1.147 1)" font-family="Liberation Serif" font-size="14.10" font-style="italic" fill="#000" stroke="#000" stroke-width="0.10" xml:space="preserve">σ</text>
</g>
<g transform="rotate(-90)">
<text transform="translate(-531.27 56.80) scale(1.184 1)" font-family="Liberation Serif" font-size="11.82" font-style="italic" fill="#000" stroke="#000" stroke-width="0.10" textLength="10.39" lengthAdjust="spacing" xml:space="preserve">in</text>
</g>
<g transform="rotate(-90)">
<text transform="translate(-530.36 67.30) scale(1.140 1)" font-family="Liberation Serif" font-size="11.91" font-style="italic" fill="#000" stroke="#000" stroke-width="0.10" textLength="16.17" lengthAdjust="spacing" xml:space="preserve">EP</text>
</g>
<g transform="rotate(-90)">
<text transform="translate(-509.04 62.55) scale(0.920 1)" font-family="Liberation Serif" font-size="17.91" fill="#000" xml:space="preserve">(</text>
</g>
<g transform="rotate(-90)">
<text transform="translate(-502.03 62.60) scale(1.022 1)" font-family="Liberation Serif" font-size="16.79" font-style="italic" fill="#000" stroke="#000" stroke-width="0.10" xml:space="preserve">H</text>
</g>
<g transform="rotate(-90)">
<text transform="translate(-486.84 62.60) scale(1.072 1)" font-family="Liberation Serif" font-size="14.78" font-style="italic" fill="#000" stroke="#000" stroke-width="0.10" xml:space="preserve">z</text>
</g>
<g transform="rotate(-90)">
<text transform="translate(-479.51 55.80) scale(1.092 1)" font-family="Liberation Serif" font-size="10.30" fill="#000" xml:space="preserve">2</text>
</g>
<g transform="rotate(-90)">
<text transform="translate(-471.03 62.55) scale(0.794 1)" font-family="Liberation Serif" font-size="17.91" fill="#000" xml:space="preserve">)</text>
</g>
<text transform="translate(190.79 676.06) scale(1.188 1)" font-family="Liberation Serif" font-size="14.29" font-style="italic" fill="#000" stroke="#000" stroke-width="0.10" xml:space="preserve">σ</text>
<text transform="translate(200.94 669.20) scale(1.268 1)" font-family="Liberation Serif" font-size="10.91" font-style="italic" fill="#000" stroke="#000" stroke-width="0.10" textLength="10.09" lengthAdjust="spacing" xml:space="preserve">in</text>
<text transform="translate(201.83 679.99) scale(1.174 1)" font-family="Liberation Serif" font-size="11.49" font-style="italic" fill="#000" stroke="#000" stroke-width="0.10" textLength="14.55" lengthAdjust="spacing" xml:space="preserve">ES</text>
<text transform="translate(221.51 676.74) scale(0.628 1)" font-family="Liberation Serif" font-size="17.47" fill="#000" xml:space="preserve">(</text>
<text transform="translate(227.09 676.20) scale(1.178 1)" font-family="Liberation Serif" font-size="15.88" font-style="italic" fill="#000" stroke="#000" stroke-width="0.10" xml:space="preserve">H</text>
<text transform="translate(242.96 676.20) scale(1.156 1)" font-family="Liberation Serif" font-size="13.48" font-style="italic" fill="#000" stroke="#000" stroke-width="0.10" xml:space="preserve">z</text>
<text transform="translate(249.54 670.10) scale(1.596 1)" font-family="Liberation Serif" font-size="9.24" fill="#000" xml:space="preserve">2</text>
<text transform="translate(259.60 676.74) scale(0.770 1)" font-family="Liberation Serif" font-size="17.47" fill="#000" xml:space="preserve">)</text>
<text transform="translate(45.81 14.30) scale(1.273 1)" font-family="Liberation Serif" font-size="13.48" fill="#000" xml:space="preserve">Δ</text>
<text transform="translate(58.66 14.30) scale(1.147 1)" font-family="Liberation Serif" font-size="12.62" font-style="italic" fill="#000" stroke="#000" stroke-width="0.10" xml:space="preserve">λ</text>
<text transform="translate(66.36 9.60) scale(1.398 1)" font-family="Liberation Serif" font-size="8.33" font-style="italic" fill="#000" stroke="#000" stroke-width="0.10" textLength="8.28" lengthAdjust="spacing" xml:space="preserve">in</text>
<text transform="translate(67.18 18.21) scale(1.318 1)" font-family="Liberation Serif" font-size="9.10" font-style="italic" fill="#000" stroke="#000" stroke-width="0.10" xml:space="preserve">S</text>
<text transform="translate(83.95 15.57) scale(1.352 1)" font-family="Liberation Serif" font-size="14.00" fill="#000" xml:space="preserve">=</text>
<text transform="translate(99.58 15.57) scale(1.167 1)" font-family="Liberation Serif" font-size="14.00" fill="#000" xml:space="preserve">−</text>
<text transform="translate(110.51 14.21) scale(1.042 1)" font-family="Liberation Serif" font-size="12.65" fill="#000" textLength="22.86" lengthAdjust="spacing" xml:space="preserve">3.60</text>
<text transform="translate(135.95 14.40) scale(1.075 1)" font-family="Liberation Sans" font-size="11.01" fill="#000" textLength="14.20" lengthAdjust="spacing" xml:space="preserve">Hz</text>
<text transform="translate(158.01 14.30) scale(1.273 1)" font-family="Liberation Serif" font-size="13.48" fill="#000" xml:space="preserve">Δ</text>
<text transform="translate(170.86 14.30) scale(1.147 1)" font-family="Liberation Serif" font-size="12.62" font-style="italic" fill="#000" stroke="#000" stroke-width="0.10" xml:space="preserve">λ</text>
<text transform="translate(178.56 9.60) scale(1.398 1)" font-family="Liberation Serif" font-size="8.33" font-style="italic" fill="#000" stroke="#000" stroke-width="0.10" textLength="8.28" lengthAdjust="spacing" xml:space="preserve">in</text>
<text transform="translate(179.38 18.21) scale(1.318 1)" font-family="Liberation Serif" font-size="9.10" font-style="italic" fill="#000" stroke="#000" stroke-width="0.10" xml:space="preserve">S</text>
<text transform="translate(196.15 15.57) scale(1.352 1)" font-family="Liberation Serif" font-size="14.00" fill="#000" xml:space="preserve">=</text>
<text transform="translate(211.78 15.57) scale(1.167 1)" font-family="Liberation Serif" font-size="14.00" fill="#000" xml:space="preserve">−</text>
<text transform="translate(222.71 14.21) scale(1.035 1)" font-family="Liberation Serif" font-size="12.74" fill="#000" textLength="22.90" lengthAdjust="spacing" xml:space="preserve">2.16</text>
<text transform="translate(248.15 14.40) scale(1.075 1)" font-family="Liberation Sans" font-size="11.01" fill="#000" textLength="14.20" lengthAdjust="spacing" xml:space="preserve">Hz</text>
<text transform="translate(45.81 148.50) scale(1.273 1)" font-family="Liberation Serif" font-size="13.48" fill="#000" xml:space="preserve">Δ</text>
<text transform="translate(58.66 148.50) scale(1.147 1)" font-family="Liberation Serif" font-size="12.62" font-style="italic" fill="#000" stroke="#000" stroke-width="0.10" xml:space="preserve">λ</text>
<text transform="translate(66.36 143.80) scale(1.398 1)" font-family="Liberation Serif" font-size="8.33" font-style="italic" fill="#000" stroke="#000" stroke-width="0.10" textLength="8.28" lengthAdjust="spacing" xml:space="preserve">in</text>
<text transform="translate(67.18 152.41) scale(1.318 1)" font-family="Liberation Serif" font-size="9.10" font-style="italic" fill="#000" stroke="#000" stroke-width="0.10" xml:space="preserve">S</text>
<text transform="translate(83.95 149.77) scale(1.352 1)" font-family="Liberation Serif" font-size="14.00" fill="#000" xml:space="preserve">=</text>
<text transform="translate(99.58 149.77) scale(1.167 1)" font-family="Liberation Serif" font-size="14.00" fill="#000" xml:space="preserve">−</text>
<text transform="translate(110.57 148.41) scale(1.046 1)" font-family="Liberation Serif" font-size="12.65" fill="#000" textLength="22.91" lengthAdjust="spacing" xml:space="preserve">0.72</text>
<text transform="translate(135.95 148.60) scale(1.075 1)" font-family="Liberation Sans" font-size="11.01" fill="#000" textLength="14.20" lengthAdjust="spacing" xml:space="preserve">Hz</text>
<text transform="translate(163.41 148.70) scale(1.273 1)" font-family="Liberation Serif" font-size="13.48" fill="#000" xml:space="preserve">Δ</text>
<text transform="translate(176.26 148.70) scale(1.147 1)" font-family="Liberation Serif" font-size="12.62" font-style="italic" fill="#000" stroke="#000" stroke-width="0.10" xml:space="preserve">λ</text>
<text transform="translate(183.96 144.00) scale(1.398 1)" font-family="Liberation Serif" font-size="8.33" font-style="italic" fill="#000" stroke="#000" stroke-width="0.10" textLength="8.28" lengthAdjust="spacing" xml:space="preserve">in</text>
<text transform="translate(184.78 152.61) scale(1.318 1)" font-family="Liberation Serif" font-size="9.10" font-style="italic" fill="#000" stroke="#000" stroke-width="0.10" xml:space="preserve">S</text>
<text transform="translate(201.55 149.97) scale(1.352 1)" font-family="Liberation Serif" font-size="14.00" fill="#000" xml:space="preserve">=</text>
<text transform="translate(217.05 148.61) scale(1.078 1)" font-family="Liberation Serif" font-size="12.65" fill="#000" textLength="23.46" lengthAdjust="spacing" xml:space="preserve">0.72</text>
<text transform="translate(242.83 148.80) scale(1.101 1)" font-family="Liberation Sans" font-size="11.01" fill="#000" textLength="14.44" lengthAdjust="spacing" xml:space="preserve">Hz</text>
<text transform="translate(65.44 299.70) scale(1.157 1)" font-family="Liberation Serif" font-size="16.52" fill="#000" xml:space="preserve">Δ</text>
<text transform="translate(80.01 299.70) scale(1.056 1)" font-family="Liberation Serif" font-size="15.46" font-style="italic" fill="#000" stroke="#000" stroke-width="0.10" xml:space="preserve">λ</text>
<text transform="translate(87.55 294.40) scale(1.212 1)" font-family="Liberation Serif" font-size="11.21" font-style="italic" fill="#000" stroke="#000" stroke-width="0.10" textLength="10.03" lengthAdjust="spacing" xml:space="preserve">in</text>
<text transform="translate(89.34 304.30) scale(1.231 1)" font-family="Liberation Serif" font-size="11.15" font-style="italic" fill="#000" stroke="#000" stroke-width="0.10" xml:space="preserve">E</text>
<text transform="translate(101.63 300.16) scale(0.985 1)" font-family="Liberation Sans" font-size="16.36" fill="#000" textLength="30.54" lengthAdjust="spacing" xml:space="preserve">(Hz)</text>
<g transform="rotate(-90)">
<text transform="translate(-237.75 13.30) scale(1.136 1)" font-family="Liberation Serif" font-size="16.52" fill="#000" xml:space="preserve">Δ</text>
</g>
<g transform="rotate(-90)">
<text transform="translate(-223.43 13.30) scale(1.036 1)" font-family="Liberation Serif" font-size="15.46" font-style="italic" fill="#000" stroke="#000" stroke-width="0.10" xml:space="preserve">λ</text>
</g>
<g transform="rotate(-90)">
<text transform="translate(-216.02 8.00) scale(1.200 1)" font-family="Liberation Serif" font-size="11.21" font-style="italic" fill="#000" stroke="#000" stroke-width="0.10" textLength="9.96" lengthAdjust="spacing" xml:space="preserve">in</text>
</g>
<g transform="rotate(-90)">
<text transform="translate(-214.32 17.70) scale(1.311 1)" font-family="Liberation Serif" font-size="10.53" font-style="italic" fill="#000" stroke="#000" stroke-width="0.10" xml:space="preserve">P</text>
</g>
<g transform="rotate(-90)">
<text transform="translate(-202.18 13.76) scale(0.976 1)" font-family="Liberation Sans" font-size="16.36" fill="#000" textLength="30.32" lengthAdjust="spacing" xml:space="preserve">(Hz)</text>
</g>
<text transform="translate(518.00 307.50) scale(1.075 1)" font-family="Liberation Serif" font-size="14.75" font-style="italic" fill="#000" stroke="#000" stroke-width="0.10" xml:space="preserve">λ</text>
<text transform="translate(525.95 301.20) scale(1.183 1)" font-family="Liberation Serif" font-size="9.91" font-style="italic" fill="#000" stroke="#000" stroke-width="0.10" textLength="14.53" lengthAdjust="spacing" xml:space="preserve">out</text>
<text transform="translate(527.23 311.50) scale(1.192 1)" font-family="Liberation Serif" font-size="10.53" font-style="italic" fill="#000" stroke="#000" stroke-width="0.10" xml:space="preserve">E</text>
<text transform="translate(545.31 307.83) scale(0.987 1)" font-family="Liberation Sans" font-size="15.08" fill="#000" textLength="28.20" lengthAdjust="spacing" xml:space="preserve">(Hz)</text>
<text transform="translate(75.76 344.07) scale(1.106 1)" font-family="Liberation Serif" font-size="13.33" font-style="italic" fill="#000" stroke="#000" stroke-width="0.10" xml:space="preserve">σ</text>
<text transform="translate(85.68 337.50) scale(1.389 1)" font-family="Liberation Serif" font-size="9.39" font-style="italic" fill="#000" stroke="#000" stroke-width="0.10" textLength="9.29" lengthAdjust="spacing" xml:space="preserve">in</text>
<text transform="translate(86.17 349.38) scale(1.167 1)" font-family="Liberation Serif" font-size="11.94" font-style="italic" fill="#000" stroke="#000" stroke-width="0.10" textLength="15.04" lengthAdjust="spacing" xml:space="preserve">PS</text>
<text transform="translate(105.40 345.35) scale(1.462 1)" font-family="Liberation Serif" font-size="15.00" fill="#000" xml:space="preserve">=</text>
<text x="118.10" y="344.65" font-family="Liberation Sans" font-size="15.07" fill="#000" xml:space="preserve">0.3</text>
<text transform="translate(141.04 344.40) scale(0.911 1)" font-family="Liberation Serif" font-size="15.73" font-style="italic" fill="#000" stroke="#000" stroke-width="0.10" xml:space="preserve">H</text>
<text transform="translate(156.57 344.80) scale(1.195 1)" font-family="Liberation Serif" font-size="14.35" font-style="italic" fill="#000" stroke="#000" stroke-width="0.10" xml:space="preserve">z</text>
<text transform="translate(164.55 338.20) scale(1.244 1)" font-family="Liberation Serif" font-size="9.85" fill="#000" xml:space="preserve">2</text>
<text transform="translate(180.56 344.07) scale(1.106 1)" font-family="Liberation Serif" font-size="13.33" font-style="italic" fill="#000" stroke="#000" stroke-width="0.10" xml:space="preserve">σ</text>
<text transform="translate(190.48 337.50) scale(1.389 1)" font-family="Liberation Serif" font-size="9.39" font-style="italic" fill="#000" stroke="#000" stroke-width="0.10" textLength="9.29" lengthAdjust="spacing" xml:space="preserve">in</text>
<text transform="translate(190.97 349.38) scale(1.167 1)" font-family="Liberation Serif" font-size="11.94" font-style="italic" fill="#000" stroke="#000" stroke-width="0.10" textLength="15.04" lengthAdjust="spacing" xml:space="preserve">PS</text>
<text transform="translate(210.20 345.35) scale(1.462 1)" font-family="Liberation Serif" font-size="15.00" fill="#000" xml:space="preserve">=</text>
<text x="222.90" y="344.65" font-family="Liberation Sans" font-size="15.07" fill="#000" xml:space="preserve">0.5</text>
<text transform="translate(245.84 344.40) scale(0.911 1)" font-family="Liberation Serif" font-size="15.73" font-style="italic" fill="#000" stroke="#000" stroke-width="0.10" xml:space="preserve">H</text>
<text transform="translate(261.37 344.80) scale(1.195 1)" font-family="Liberation Serif" font-size="14.35" font-style="italic" fill="#000" stroke="#000" stroke-width="0.10" xml:space="preserve">z</text>
<text transform="translate(269.35 338.20) scale(1.244 1)" font-family="Liberation Serif" font-size="9.85" fill="#000" xml:space="preserve">2</text>
<text transform="translate(285.26 344.07) scale(1.106 1)" font-family="Liberation Serif" font-size="13.33" font-style="italic" fill="#000" stroke="#000" stroke-width="0.10" xml:space="preserve">σ</text>
<text transform="translate(295.18 337.50) scale(1.389 1)" font-family="Liberation Serif" font-size="9.39" font-style="italic" fill="#000" stroke="#000" stroke-width="0.10" textLength="9.29" lengthAdjust="spacing" xml:space="preserve">in</text>
<text transform="translate(295.67 349.38) scale(1.167 1)" font-family="Liberation Serif" font-size="11.94" font-style="italic" fill="#000" stroke="#000" stroke-width="0.10" textLength="15.04" lengthAdjust="spacing" xml:space="preserve">PS</text>
<text transform="translate(314.90 345.35) scale(1.462 1)" font-family="Liberation Serif" font-size="15.00" fill="#000" xml:space="preserve">=</text>
<text transform="translate(327.59 344.65) scale(1.006 1)" font-family="Liberation Sans" font-size="15.07" fill="#000" xml:space="preserve">0.7</text>
<text transform="translate(350.54 344.40) scale(0.911 1)" font-family="Liberation Serif" font-size="15.73" font-style="italic" fill="#000" stroke="#000" stroke-width="0.10" xml:space="preserve">H</text>
<text transform="translate(366.07 344.80) scale(1.195 1)" font-family="Liberation Serif" font-size="14.35" font-style="italic" fill="#000" stroke="#000" stroke-width="0.10" xml:space="preserve">z</text>
<text transform="translate(374.05 338.20) scale(1.244 1)" font-family="Liberation Serif" font-size="9.85" fill="#000" xml:space="preserve">2</text>
<g transform="rotate(-90)">
<text transform="translate(-452.54 32.60) scale(1.158 1)" font-family="Liberation Serif" font-size="15.89" font-style="italic" fill="#ff0000" stroke="#ff0000" stroke-width="0.10" xml:space="preserve">λ</text>
</g>
<g transform="rotate(-90)">
<text transform="translate(-444.01 26.57) scale(1.061 1)" font-family="Liberation Serif" font-size="12.87" font-style="italic" fill="#ff0000" stroke="#ff0000" stroke-width="0.10" textLength="17.26" lengthAdjust="spacing" xml:space="preserve">out</text>
</g>
<g transform="rotate(-90)">
<text transform="translate(-443.26 37.60) scale(1.122 1)" font-family="Liberation Serif" font-size="12.67" font-style="italic" fill="#ff0000" stroke="#ff0000" stroke-width="0.10" xml:space="preserve">E</text>
</g>
<g transform="rotate(-90)">
<text transform="translate(-423.47 33.45) scale(1.563 1)" font-family="Liberation Serif" font-size="15.00" fill="#ff0000" xml:space="preserve">=</text>
</g>
<g transform="rotate(-90)">
<text transform="translate(-410.19 32.44) scale(0.977 1)" font-family="Liberation Sans" font-size="16.20" fill="#ff0000" textLength="41.56" lengthAdjust="spacing" xml:space="preserve">2.8Hz</text>
</g>
<g transform="rotate(-90)">
<text transform="translate(-553.14 32.60) scale(1.158 1)" font-family="Liberation Serif" font-size="15.89" font-style="italic" fill="#0000ff" stroke="#0000ff" stroke-width="0.10" xml:space="preserve">λ</text>
</g>
<g transform="rotate(-90)">
<text transform="translate(-544.61 26.57) scale(1.061 1)" font-family="Liberation Serif" font-size="12.87" font-style="italic" fill="#0000ff" stroke="#0000ff" stroke-width="0.10" textLength="17.26" lengthAdjust="spacing" xml:space="preserve">out</text>
</g>
<g transform="rotate(-90)">
<text transform="translate(-543.86 37.60) scale(1.122 1)" font-family="Liberation Serif" font-size="12.67" font-style="italic" fill="#0000ff" stroke="#0000ff" stroke-width="0.10" xml:space="preserve">E</text>
</g>
<g transform="rotate(-90)">
<text transform="translate(-524.07 33.45) scale(1.563 1)" font-family="Liberation Serif" font-size="15.00" fill="#0000ff" xml:space="preserve">=</text>
</g>
<g transform="rotate(-90)">
<text transform="translate(-510.79 32.44) scale(0.977 1)" font-family="Liberation Sans" font-size="16.20" fill="#0000ff" textLength="41.56" lengthAdjust="spacing" xml:space="preserve">2.8Hz</text>
</g>
<g transform="rotate(-90)">
<text transform="translate(-654.54 32.60) scale(1.158 1)" font-family="Liberation Serif" font-size="15.89" font-style="italic" fill="#008000" stroke="#008000" stroke-width="0.10" xml:space="preserve">λ</text>
</g>
<g transform="rotate(-90)">
<text transform="translate(-646.01 26.57) scale(1.061 1)" font-family="Liberation Serif" font-size="12.87" font-style="italic" fill="#008000" stroke="#008000" stroke-width="0.10" textLength="17.26" lengthAdjust="spacing" xml:space="preserve">out</text>
</g>
<g transform="rotate(-90)">
<text transform="translate(-645.26 37.60) scale(1.122 1)" font-family="Liberation Serif" font-size="12.67" font-style="italic" fill="#008000" stroke="#008000" stroke-width="0.10" xml:space="preserve">E</text>
</g>
<g transform="rotate(-90)">
<text transform="translate(-625.47 33.45) scale(1.563 1)" font-family="Liberation Serif" font-size="15.00" fill="#008000" xml:space="preserve">=</text>
</g>
<g transform="rotate(-90)">
<text transform="translate(-612.19 32.44) scale(0.977 1)" font-family="Liberation Sans" font-size="16.20" fill="#008000" textLength="41.56" lengthAdjust="spacing" xml:space="preserve">2.8Hz</text>
</g>
<g transform="rotate(-90)">
<text transform="translate(-521.05 474.75) scale(1.206 1)" font-family="Liberation Serif" font-size="15.24" font-style="italic" fill="#000" stroke="#000" stroke-width="0.10" xml:space="preserve">σ</text>
</g>
<g transform="rotate(-90)">
<text transform="translate(-510.44 469.00) scale(1.203 1)" font-family="Liberation Serif" font-size="12.73" font-style="italic" fill="#000" stroke="#000" stroke-width="0.10" textLength="11.32" lengthAdjust="spacing" xml:space="preserve">in</text>
</g>
<g transform="rotate(-90)">
<text transform="translate(-509.75 480.60) scale(1.160 1)" font-family="Liberation Serif" font-size="12.82" font-style="italic" fill="#000" stroke="#000" stroke-width="0.10" xml:space="preserve">E</text>
</g>
<g transform="rotate(-90)">
<text transform="translate(-498.70 482.83) scale(1.017 1)" font-family="Liberation Serif" font-size="17.16" fill="#000" xml:space="preserve">/</text>
</g>
<g transform="rotate(-90)">
<text transform="translate(-491.52 480.60) scale(1.298 1)" font-family="Liberation Serif" font-size="11.76" font-style="italic" fill="#000" stroke="#000" stroke-width="0.10" xml:space="preserve">P</text>
</g>
<text transform="translate(530.45 674.45) scale(1.193 1)" font-family="Liberation Serif" font-size="15.24" font-style="italic" fill="#000" stroke="#000" stroke-width="0.10" xml:space="preserve">σ</text>
<text transform="translate(540.68 667.90) scale(1.239 1)" font-family="Liberation Serif" font-size="11.97" font-style="italic" fill="#000" stroke="#000" stroke-width="0.10" textLength="10.88" lengthAdjust="spacing" xml:space="preserve">in</text>
<text transform="translate(541.93 679.50) scale(1.029 1)" font-family="Liberation Serif" font-size="12.21" font-style="italic" fill="#000" stroke="#000" stroke-width="0.10" xml:space="preserve">E</text>
<text transform="translate(552.30 682.13) scale(1.102 1)" font-family="Liberation Serif" font-size="17.16" fill="#000" xml:space="preserve">/</text>
<text transform="translate(559.85 679.68) scale(1.173 1)" font-family="Liberation Serif" font-size="12.39" font-style="italic" fill="#000" stroke="#000" stroke-width="0.10" xml:space="preserve">S</text>
</svg>
</body></html>
